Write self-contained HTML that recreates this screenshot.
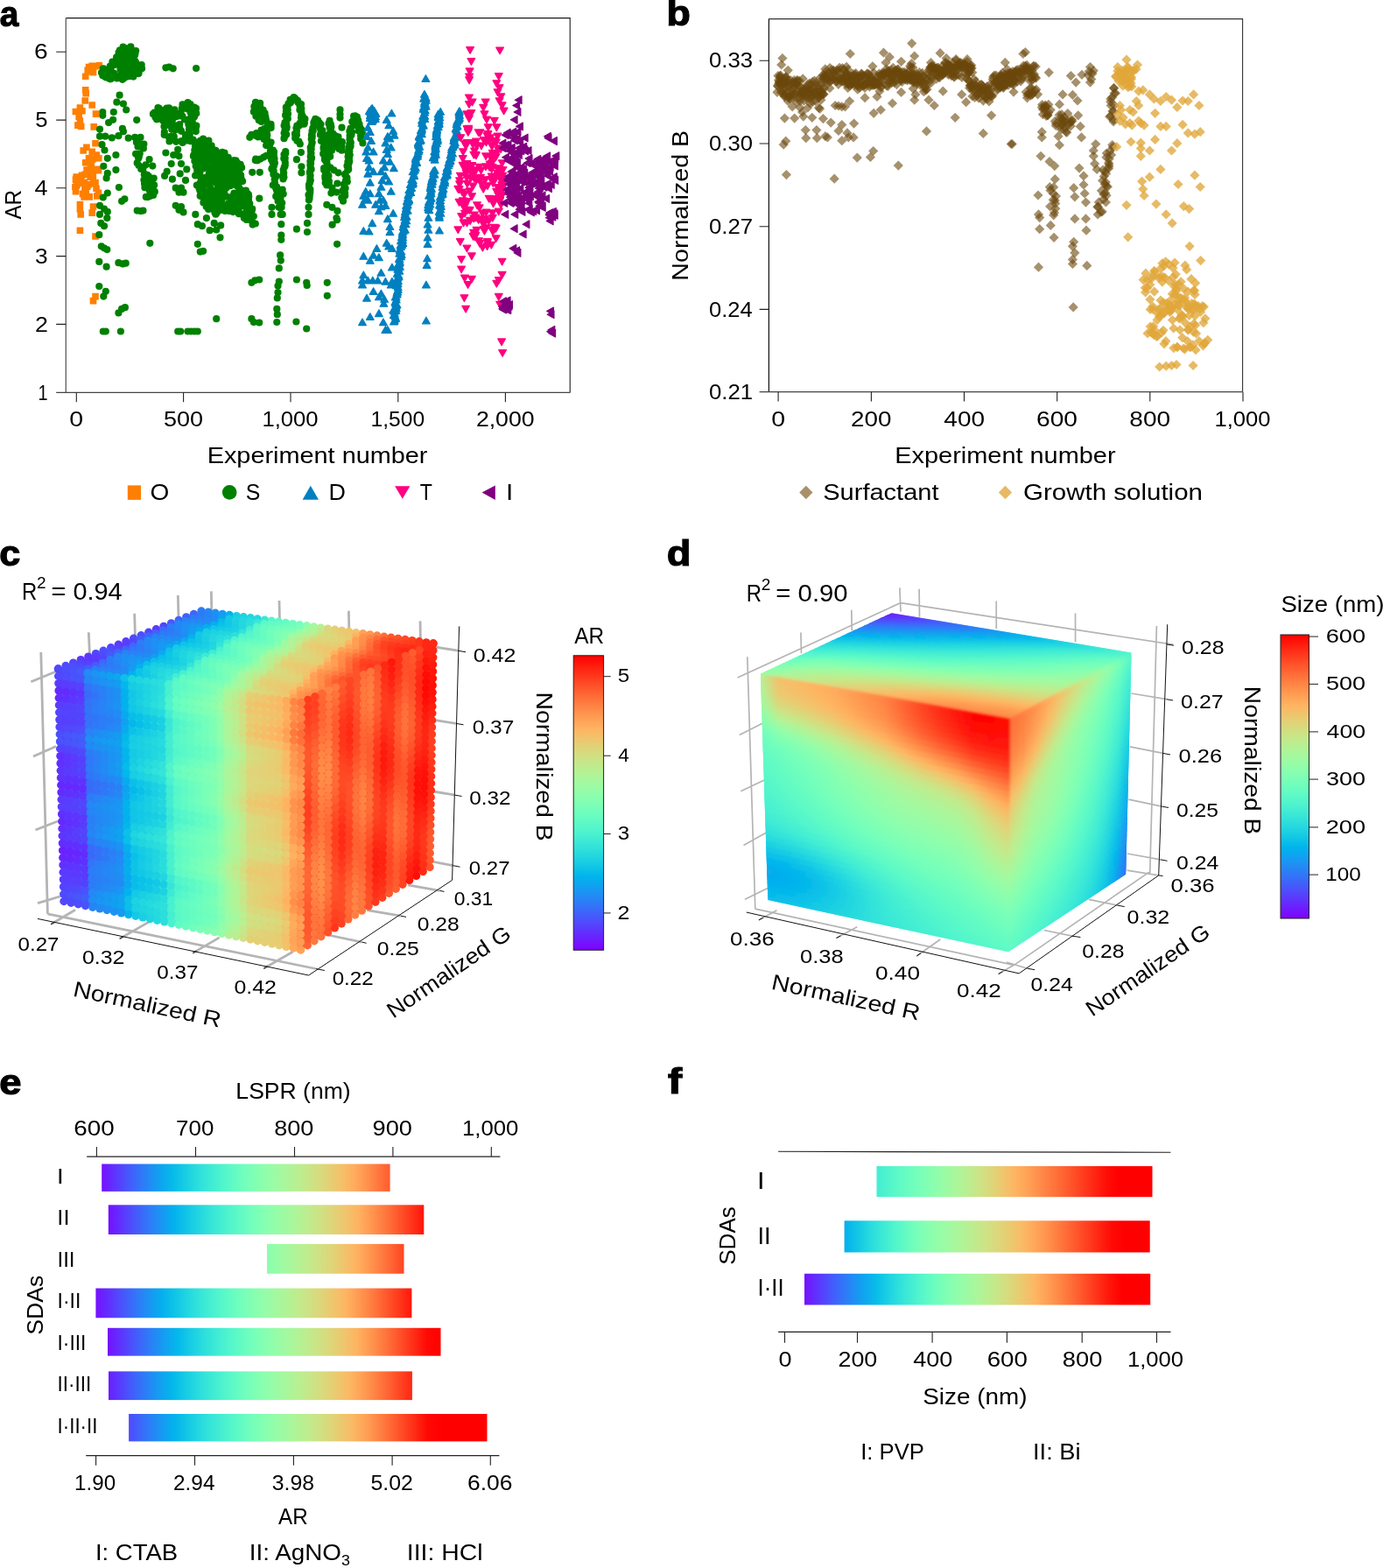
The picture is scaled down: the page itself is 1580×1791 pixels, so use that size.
<!DOCTYPE html>
<html lang="en"><head><meta charset="utf-8"><title>Figure</title>
<style>
html,body{margin:0;padding:0;background:#fff}
svg{display:block}
text{font-family:"Liberation Sans",sans-serif;fill:#000}
</style></head>
<body>
<svg width="1580" height="1791" viewBox="0 0 1580 1791">
<rect width="1580" height="1791" fill="#fff"/>
<g id="axes_ab">
<text x="-0.29" y="30" font-size="40" font-weight="bold" textLength="21.54" lengthAdjust="spacingAndGlyphs" stroke="#000" stroke-width="1.2">a</text>
<path d="M75.3 20.6H651.2V448.4" stroke="#1a1a1a" stroke-width="1.1" fill="none"/>
<path d="M75.3 20.6V448.4" stroke="#666" stroke-width="1.4" fill="none"/>
<path d="M64.2 448.4H651.2" stroke="#444" stroke-width="1.2" fill="none"/>
<text x="39.12" y="67.4" font-size="23" textLength="15.68" lengthAdjust="spacingAndGlyphs">6</text>
<text x="40.32" y="145.3" font-size="23" textLength="14.30" lengthAdjust="spacingAndGlyphs">5</text>
<text x="39.42" y="223" font-size="23" textLength="14.97" lengthAdjust="spacingAndGlyphs">4</text>
<text x="40.10" y="300.8" font-size="23" textLength="14.62" lengthAdjust="spacingAndGlyphs">3</text>
<text x="39.99" y="378.6" font-size="23" textLength="14.90" lengthAdjust="spacingAndGlyphs">2</text>
<text x="43.49" y="456.6" font-size="23" textLength="11.07" lengthAdjust="spacingAndGlyphs">1</text>
<text x="79.37" y="487.3" font-size="23" textLength="15.84" lengthAdjust="spacingAndGlyphs">0</text>
<text x="187.07" y="487.3" font-size="23" textLength="45.06" lengthAdjust="spacingAndGlyphs">500</text>
<text x="299.45" y="487.3" font-size="23" textLength="64.12" lengthAdjust="spacingAndGlyphs">1,000</text>
<text x="423.58" y="487.3" font-size="23" textLength="61.50" lengthAdjust="spacingAndGlyphs">1,500</text>
<text x="543.90" y="487.3" font-size="23" textLength="66.71" lengthAdjust="spacingAndGlyphs">2,000</text>
<path d="M64.2 59.2H75.3M64.2 137.1H75.3M64.2 214.8H75.3M64.2 292.6H75.3M64.2 370.4H75.3M87.3 448.4V459.2M209.6 448.4V459.2M332 448.4V459.2M454.8 448.4V459.2M577.4 448.4V459.2" stroke="#222" stroke-width="1.1" fill="none"/>
<text x="236.69" y="529.1" font-size="25" textLength="251.78" lengthAdjust="spacingAndGlyphs">Experiment number</text>
<text transform="translate(23.8 234.3) rotate(-90)" x="-16.30" y="0" font-size="25" textLength="33.67" lengthAdjust="spacingAndGlyphs">AR</text>
<rect x="145.8" y="554.4" width="15.2" height="16.5" fill="#ff7f00"/>
<text x="171.44" y="570.7" font-size="25" textLength="21.80" lengthAdjust="spacingAndGlyphs">O</text>
<circle cx="262.2" cy="562.4" r="8.3" fill="#008000"/>
<text x="280.68" y="570.7" font-size="25" textLength="16.63" lengthAdjust="spacingAndGlyphs">S</text>
<path d="M345.6 570.7L354.8 554.7L364 570.7z" fill="#0080c0"/>
<text x="375.55" y="570.7" font-size="25" textLength="19.42" lengthAdjust="spacingAndGlyphs">D</text>
<path d="M451.1 555.2H468.4L459.8 569.8z" fill="#ff007f"/>
<text x="479.84" y="570.7" font-size="25" textLength="14.15" lengthAdjust="spacingAndGlyphs">T</text>
<path d="M565.8 554.4V570.9L550.6 562.6z" fill="#800080"/>
<text x="578.02" y="570.7" font-size="25" textLength="8.26" lengthAdjust="spacingAndGlyphs">I</text>
<text x="761.56" y="29.4" font-size="40" font-weight="bold" textLength="27.35" lengthAdjust="spacingAndGlyphs" stroke="#000" stroke-width="1.2">b</text>
<path d="M878.4 21.6H1419.6V447.7" stroke="#333" stroke-width="1.1" fill="none"/>
<path d="M878.4 21.6V447.7" stroke="#111" stroke-width="1.2" fill="none"/>
<path d="M867.6 447.7H1419.6" stroke="#444" stroke-width="1.2" fill="none"/>
<text x="810.02" y="77.4" font-size="23" textLength="50.04" lengthAdjust="spacingAndGlyphs">0.33</text>
<text x="810.02" y="172.2" font-size="23" textLength="49.90" lengthAdjust="spacingAndGlyphs">0.30</text>
<text x="810.02" y="266.9" font-size="23" textLength="50.19" lengthAdjust="spacingAndGlyphs">0.27</text>
<text x="810.03" y="361.6" font-size="23" textLength="49.68" lengthAdjust="spacingAndGlyphs">0.24</text>
<text x="810.02" y="455.9" font-size="23" textLength="50.19" lengthAdjust="spacingAndGlyphs">0.21</text>
<text x="881.17" y="487.3" font-size="23" textLength="15.84" lengthAdjust="spacingAndGlyphs">0</text>
<text x="972.04" y="487.3" font-size="23" textLength="46.42" lengthAdjust="spacingAndGlyphs">200</text>
<text x="1078.39" y="487.3" font-size="23" textLength="46.67" lengthAdjust="spacingAndGlyphs">400</text>
<text x="1184.07" y="487.3" font-size="23" textLength="46.95" lengthAdjust="spacingAndGlyphs">600</text>
<text x="1290.33" y="487.3" font-size="23" textLength="46.79" lengthAdjust="spacingAndGlyphs">800</text>
<text x="1387.45" y="487.3" font-size="23" textLength="64.12" lengthAdjust="spacingAndGlyphs">1,000</text>
<path d="M867.6 69.2H878.4M867.6 164H878.4M867.6 258.7H878.4M867.6 353.4H878.4M889.1 447.7V458.6M995.4 447.7V458.6M1101.5 447.7V458.6M1207.7 447.7V458.6M1313.8 447.7V458.6M1420 447.7V458.6" stroke="#222" stroke-width="1.1" fill="none"/>
<text x="1022.29" y="529.2" font-size="25" textLength="252.28" lengthAdjust="spacingAndGlyphs">Experiment number</text>
<text transform="translate(786 234.4) rotate(-90)" x="-86.29" y="0" font-size="25" textLength="171.78" lengthAdjust="spacingAndGlyphs">Normalized B</text>
<path d="M913.2 562.5l7.65-7.65 7.65 7.65-7.65 7.65z" fill="#a8916a"/>
<text x="940.19" y="570.9" font-size="25" textLength="132.37" lengthAdjust="spacingAndGlyphs">Surfactant</text>
<path d="M1140.8 562.5l7.65-7.65 7.65 7.65-7.65 7.65z" fill="#e8b964"/>
<text x="1169.03" y="570.9" font-size="25" textLength="204.93" lengthAdjust="spacingAndGlyphs">Growth solution</text>
</g>
<g id="scatter_a">
<path d="M97.7 72.7h7.6v7.6h-7.6zM101.4 71.5h7.6v7.6h-7.6zM105.2 72h7.6v7.6h-7.6zM109.5 71h7.6v7.6h-7.6zM96.4 76.5h7.6v7.6h-7.6zM100.2 77.8h7.6v7.6h-7.6zM93.9 83.5h7.6v7.6h-7.6zM102.7 79h7.6v7.6h-7.6zM98.9 74.5h7.6v7.6h-7.6zM93.9 99.1h7.6v7.6h-7.6zM94.4 102.9h7.6v7.6h-7.6zM93.4 111.2h7.6v7.6h-7.6zM101.4 116.2h7.6v7.6h-7.6zM87.6 119.2h7.6v7.6h-7.6zM82.6 123.7h7.6v7.6h-7.6zM90.1 123h7.6v7.6h-7.6zM105.7 126.3h7.6v7.6h-7.6zM86.4 129.3h7.6v7.6h-7.6zM87.6 134.3h7.6v7.6h-7.6zM85.1 139.3h7.6v7.6h-7.6zM88.9 140.6h7.6v7.6h-7.6zM103.4 141.1h7.6v7.6h-7.6zM87.6 259.4h7.6v7.6h-7.6zM105.2 266.2h7.6v7.6h-7.6zM105.2 334.8h7.6v7.6h-7.6zM102.7 339.8h7.6v7.6h-7.6zM105.2 159.9h7.6v7.6h-7.6zM95.1 164.4h7.6v7.6h-7.6zM91.4 168.2h7.6v7.6h-7.6zM101.4 169.5h7.6v7.6h-7.6zM106.5 173.2h7.6v7.6h-7.6zM97.7 177h7.6v7.6h-7.6zM109 177h7.6v7.6h-7.6zM93.9 182h7.6v7.6h-7.6zM100.2 184.5h7.6v7.6h-7.6zM87.6 229.8h7.6v7.6h-7.6zM102.7 232.3h7.6v7.6h-7.6zM87.6 234.8h7.6v7.6h-7.6zM101.4 239.3h7.6v7.6h-7.6zM88.4 241.1h7.6v7.6h-7.6zM101.6 178.3h7.6v7.6h-7.6zM97.9 193.8h7.6v7.6h-7.6zM82.7 201.3h7.6v7.6h-7.6zM94.4 218.1h7.6v7.6h-7.6zM99.2 195.4h7.6v7.6h-7.6zM108.2 189.8h7.6v7.6h-7.6zM90.7 217.6h7.6v7.6h-7.6zM86.6 205.2h7.6v7.6h-7.6zM101.2 194.1h7.6v7.6h-7.6zM98.3 177.8h7.6v7.6h-7.6zM102.5 197.1h7.6v7.6h-7.6zM90.8 205.4h7.6v7.6h-7.6zM95.3 190.3h7.6v7.6h-7.6zM106.2 211.4h7.6v7.6h-7.6zM88.6 204.8h7.6v7.6h-7.6zM97.6 220.7h7.6v7.6h-7.6zM104.1 189.7h7.6v7.6h-7.6zM94.2 214.4h7.6v7.6h-7.6zM85.7 200.3h7.6v7.6h-7.6zM82.1 209.7h7.6v7.6h-7.6zM105.2 204.7h7.6v7.6h-7.6zM108.8 191h7.6v7.6h-7.6zM103 205.9h7.6v7.6h-7.6zM99.3 198.6h7.6v7.6h-7.6zM96 209.5h7.6v7.6h-7.6zM82.8 211.5h7.6v7.6h-7.6zM107.1 189.5h7.6v7.6h-7.6zM93.1 209.8h7.6v7.6h-7.6zM82.7 215h7.6v7.6h-7.6zM93.3 220.5h7.6v7.6h-7.6zM83.4 198.2h7.6v7.6h-7.6zM98.4 221.1h7.6v7.6h-7.6zM107 220.1h7.6v7.6h-7.6zM89.7 196.4h7.6v7.6h-7.6zM92.3 221.1h7.6v7.6h-7.6zM88.3 200.1h7.6v7.6h-7.6zM99.6 188.4h7.6v7.6h-7.6zM92.6 204.4h7.6v7.6h-7.6zM97.3 207.1h7.6v7.6h-7.6zM102.4 177.3h7.6v7.6h-7.6zM108.7 216.6h7.6v7.6h-7.6zM93.3 195.5h7.6v7.6h-7.6zM84.1 208h7.6v7.6h-7.6zM100.4 182.3h7.6v7.6h-7.6z" fill="#ff7f00"/>
<path d="M136.9 71.5h0M154.6 59h0M139.9 58.4h0M140.6 53.7h0M139.9 90.8h0M156.3 79.8h0M122.2 82.7h0M140.1 83h0M155.8 84.1h0M154.1 81.5h0M126.7 79.6h0M144.6 87.7h0M155.2 71.3h0M146 83.8h0M118.2 78.4h0M158.6 83.1h0M150.8 71.3h0M122.8 83.4h0M130.3 83.9h0M133.7 89.5h0M149.5 59.3h0M158.4 84.1h0M121.2 84.9h0M162.1 78.3h0M131.2 74h0M161.6 78h0M139.8 89h0M135.3 86.6h0M154.5 60.9h0M125.8 75.5h0M120.4 88.1h0M131.4 70.5h0M142.6 87.9h0M134.6 88.4h0M138.6 73.4h0M135.6 59.8h0M149.6 74.3h0M130 72.9h0M141.2 83.2h0M151.9 72.4h0M141.5 82.3h0M144 72.4h0M139.1 79.6h0M136.2 73.4h0M137.4 89.3h0M148.3 86.8h0M141.4 89.4h0M155.2 58h0M117.6 78.7h0M152.4 87.6h0M121.6 80.6h0M146.4 58.2h0M124.8 89.8h0M133.5 71.6h0M139.3 65.9h0M149.4 53.4h0M141.2 69.8h0M144.6 72.6h0M116 83h0M134.7 88.2h0M154.1 62.7h0M121.3 88.5h0M142 79.9h0M147.7 69.2h0M145.1 83.9h0M118.1 86h0M117.3 86.3h0M136.3 65.9h0M141.1 88.8h0M139.8 61.9h0M151.2 64h0M138.5 59.6h0M149.9 74.1h0M154.1 69.5h0M138.3 85.2h0M133.3 72.4h0M130.8 85.1h0M148.6 77.4h0M133.8 66.2h0M117.5 81.5h0M118.2 85.4h0M156.7 78.8h0M128.4 70.6h0M126.9 90.1h0M161.7 74h0M126 90.3h0M137.3 72.2h0M142.7 73.3h0M150.8 78.3h0M149.1 86.9h0M133.1 65.4h0M149.5 77.7h0M157.7 77.1h0M150 84.3h0M138.7 85.2h0M153.4 84.8h0M142.6 87.4h0M147.5 79.7h0M119.2 85.2h0M141.4 77.1h0M144.7 79.2h0M153.1 81.8h0M138.7 73.5h0M146.3 55.2h0M150.1 62.5h0M149.8 60.7h0M138.2 67.6h0M137.5 79.3h0M151.6 76.7h0M145.5 55.7h0M150.4 64.5h0M146.9 79.6h0M147.1 64h0M139.3 70.8h0M136.9 57.3h0M189.4 77.3h0M193.2 76.5h0M197.7 78.3h0M224.1 78h0M136.6 108.7h0M133.4 116.7h0M140.9 118.5h0M144.2 125.5h0M117.3 128h0M129.8 128h0M117.3 131.8h0M129.1 136.8h0M124.1 140.1h0M156.2 137.1h0M114 147.6h0M139.9 146.9h0M140.9 150.2h0M135.4 155.2h0M114 155.7h0M120.3 155.7h0M127.8 157.4h0M146.7 157.7h0M154.2 156.9h0M160.5 156.9h0M157.7 162.2h0M155.9 162.5h0M164.4 164.5h0M157.5 167.5h0M160.7 166.5h0M163.9 169.5h0M159.7 175.5h0M157.1 177.6h0M155.1 175.8h0M158.8 179.3h0M158.2 180.8h0M156.7 186.2h0M158.6 189h0M166.5 188.3h0M162.5 192.6h0M163.4 192.8h0M161.2 193h0M164.8 199.6h0M165 198.8h0M166.8 202.6h0M171.3 205.2h0M172.8 207.2h0M165 209.8h0M171.5 211.1h0M165.4 214.2h0M169.5 213.8h0M172.2 219h0M171.8 218.5h0M171.4 209h0M165.9 202h0M170.5 203.8h0M169.8 201.3h0M168.3 199.9h0M166.9 204.9h0M171.5 223.9h0M174.1 209.6h0M169.3 212.9h0M168.8 207.3h0M164.4 205.5h0M170.6 216.1h0M175.7 203.6h0M167.3 204.6h0M169.1 210.6h0M176.1 211.4h0M169 225.1h0M175.1 222.9h0M170.9 217.7h0M176.8 218.9h0M172.6 220.2h0M170 213.8h0M166.8 224.9h0M172.6 206.3h0M165.3 204.7h0M170.6 182.1h0M174.3 189.6h0M116.5 165.2h0M119.5 171.5h0M132.4 177h0M122.8 180.8h0M118.3 189.8h0M132.4 194.1h0M122.8 197.9h0M121.6 203.4h0M135.9 214h0M122.8 220.5h0M117.8 225.5h0M142.4 227.3h0M139.1 229.8h0M114 234.8h0M119 238.6h0M122.8 241.9h0M114 244.9h0M122.3 249.1h0M115.3 254.9h0M119 258.2h0M113.3 268.2h0M156.7 240.6h0M160.5 241.1h0M163.5 240.6h0M115.8 281.3h0M119 283.3h0M122.3 285.1h0M113.3 298.9h0M121.6 304.7h0M135.4 300.2h0M140.4 301.4h0M143.7 300.7h0M171.3 277.8h0M113.3 327h0M120.8 332.8h0M118.3 338.6h0M142.9 351.2h0M139.1 352.9h0M135.4 357.4h0M117.8 378.5h0M120.8 378.5h0M137.9 378.5h0M203.2 378.5h0M206.2 378.5h0M214.5 378.5h0M218.3 378.5h0M222.1 378.5h0M225.8 378.5h0M247.2 364.2h0M207.1 149.8h0M201.3 143.7h0M194.3 124.8h0M189.9 137.3h0M223.7 147h0M219.8 138h0M186.4 126h0M223.8 150.1h0M200 148.6h0M196 126.5h0M208.7 161.8h0M191.7 135.2h0M209.5 123.4h0M215.4 152h0M224.3 129.4h0M216.6 125.1h0M185.8 135h0M208.6 163h0M181.9 133.7h0M177.4 133.7h0M220.6 159.6h0M222.3 130.3h0M208.5 132.9h0M193.6 130.5h0M188.7 131.5h0M224 123.9h0M192.7 156.3h0M216.7 135.8h0M193.5 161.5h0M184.3 132.2h0M195.5 155.8h0M221.7 126.5h0M212.8 160.4h0M191.8 127.3h0M223.6 145.5h0M187.8 150.8h0M190.6 127.5h0M221.5 146.4h0M186.4 138h0M194.2 126.2h0M196.5 139h0M222.1 122.6h0M215.7 151.9h0M216.7 153.7h0M205.6 130.3h0M190.8 132.1h0M214.6 117.1h0M210.9 136.5h0M186.4 135h0M206.3 148.5h0M212.8 157.7h0M208.5 119.4h0M217.6 128.5h0M203.5 132.6h0M212.3 123.5h0M187.1 125.9h0M204.1 130.2h0M216 147.4h0M198.8 156.2h0M217.6 161.2h0M176.4 128.5h0M180.5 123h0M224.4 143.7h0M222.2 132.6h0M218.9 136.7h0M187.7 154h0M205 145.7h0M185.5 132.4h0M181.6 123.7h0M187.5 144.6h0M207.9 123.7h0M174.9 130.2h0M209.3 122.7h0M190.4 123.7h0M215.3 141.9h0M194.7 142h0M195.4 127.9h0M190.4 142.9h0M192.7 134.9h0M193.1 123.4h0M211.8 123.7h0M196.1 156.3h0M195.2 159.5h0M207.3 161h0M193.4 139.6h0M181.8 127.9h0M201.2 161.8h0M222 133.4h0M220.9 145.7h0M216.8 121.4h0M214.8 124.7h0M195.2 157.6h0M217 122.6h0M185.6 134.1h0M201 133.2h0M180.7 126h0M211.7 160.3h0M217.5 119.2h0M205.2 142h0M206.6 129.1h0M196 143.7h0M196.3 147.7h0M197.3 136.1h0M199.5 125.4h0M213.7 154.1h0M180.9 135.7h0M179 136.3h0M212.1 154h0M200.3 132.9h0M212 156h0M189.4 174.5h0M203.2 170.8h0M198.2 177h0M204.5 178.3h0M195.7 187.1h0M207 187.1h0M213.3 193.4h0M190.7 195.9h0M188.1 200.9h0M196.9 204.7h0M205.7 198.4h0M212 205.9h0M200.7 214.7h0M207 214.7h0M204.5 219.7h0M209.5 219.7h0M200.7 234.8h0M207 236.1h0M204.5 239.8h0M209.5 242.4h0M225.7 194h0M236.2 184.7h0M258.3 190.6h0M223.5 176.2h0M229.3 212.9h0M268 194.9h0M267.5 198.5h0M247.5 237.6h0M253.6 175.6h0M264.2 227h0M223.3 172.7h0M266.5 202.5h0M230.6 180.9h0M228.7 194.6h0M237.4 218.5h0M267.1 207h0M238.9 172.7h0M285.4 239.5h0M250.6 184.8h0M262.5 193.9h0M268.7 203.8h0M250.9 182h0M235.6 221.1h0M258.4 224.6h0M243.7 188.6h0M278.8 232.4h0M276 206h0M275.8 204.7h0M237.6 168h0M238 161h0M245.7 236h0M261.9 203h0M240.5 224.7h0M240.1 181.9h0M276.1 191.4h0M267.6 230h0M253.2 233.4h0M263.1 189.4h0M236.5 222.6h0M231.5 159.8h0M246.4 171.9h0M272.1 223.8h0M272.5 234.7h0M247.7 243.2h0M281.6 251h0M288.6 256.6h0M228.7 178.6h0M229.1 160.6h0M283.6 242.6h0M267.6 187.3h0M228.2 167.3h0M244.5 201.7h0M222.4 184h0M241.8 232.5h0M248.1 190.8h0M283.9 222.2h0M223.1 200.5h0M253.2 238.5h0M246.5 231.3h0M260.7 179.8h0M220.9 178.3h0M257.2 241h0M234.5 209.1h0M246.5 244.7h0M241.8 179.6h0M272.6 209.5h0M229 224.1h0M272.5 240h0M267.3 194.5h0M250.5 198.6h0M236.1 184.7h0M238.1 205.6h0M260.2 236.6h0M276.6 225.1h0M246.6 191.4h0M269.9 235.2h0M233.4 203.2h0M278.1 218.1h0M230.1 205.7h0M235 188.8h0M232.3 173.4h0M239.2 191.4h0M245.1 176.9h0M228.3 197.5h0M275.2 202.8h0M235.3 224.3h0M228.7 178.7h0M250.4 240.4h0M272.2 209.7h0M267.7 205.8h0M231.3 220.6h0M250.8 235.1h0M263.3 236h0M252 181.1h0M278.2 230.8h0M284 228.7h0M268.4 204.8h0M244 223.2h0M228.1 201.2h0M278.8 232.2h0M267.5 183.3h0M252.2 205h0M266.9 200.1h0M234.4 226h0M228.3 217.6h0M260.9 232.6h0M258.8 224.4h0M236.4 229.2h0M249.9 237.4h0M241.1 199.1h0M252 230.6h0M246.9 184.9h0M237.4 235.2h0M249.9 179.3h0M280.8 223.9h0M255.6 216.2h0M247 224.3h0M281.5 243.1h0M255.5 188h0M248.7 183.7h0M252.4 176.6h0M241.6 182.8h0M243.2 207.5h0M252.6 224.2h0M269.7 195.2h0M289.6 247.1h0M287.9 239.7h0M269.4 183.3h0M228.3 172h0M238.1 238.9h0M246.5 173h0M287.8 240.5h0M265.9 239.4h0M279.2 245.5h0M235.4 230h0M260.1 235.2h0M261.9 184.8h0M238.2 171.6h0M257.2 209.5h0M255.5 216.3h0M248.6 201.1h0M268 224.1h0M258.7 208.1h0M274 222.9h0M247.9 207h0M259.8 238.3h0M236.4 202.9h0M252.1 215.4h0M258.1 185.6h0M269.3 240.5h0M245.3 190.4h0M243 218.8h0M267.9 239.7h0M224.5 188.6h0M221.3 177h0M269.6 240.2h0M266.5 223.1h0M272.4 219.9h0M270.2 205.3h0M234.2 160.8h0M269.4 195.9h0M281.8 239.9h0M262.5 184.2h0M243.2 201.4h0M244.4 202.4h0M223.7 169.5h0M280.9 217.6h0M232.1 158.6h0M267.4 231.8h0M243.9 233.9h0M248 217.6h0M253.3 228.4h0M247.7 225h0M267.5 201h0M249.4 239.9h0M262.8 187.8h0M272.9 244.2h0M245.4 220.9h0M265.4 189.5h0M248.7 229.2h0M252.1 218.8h0M281.3 250.6h0M281 248.4h0M263.2 185.8h0M283.9 242.1h0M261.8 241.1h0M235.7 236.1h0M265.8 228.4h0M255.3 178.7h0M239.7 236.2h0M256.1 219.1h0M234.8 177.2h0M234.2 230.9h0M247.7 216.5h0M250.6 211.5h0M231.8 161.6h0M228.7 223.7h0M265.1 193.3h0M262.8 184.5h0M235.7 176h0M227 162.3h0M265.1 198.9h0M239.9 216.5h0M270.4 198.4h0M254 173.8h0M237.2 161h0M239.8 194.1h0M287.7 252.4h0M279.1 231.8h0M224.9 172.2h0M271 188.5h0M264.6 236.9h0M228.6 191.1h0M239.9 170h0M256.5 174.7h0M238.5 172h0M285 250.7h0M231.2 204.1h0M283.2 223.2h0M254.3 192.8h0M237.2 162.9h0M273.7 215.3h0M240.5 200.4h0M232.3 185.5h0M233.2 208.7h0M256.2 187.1h0M239.9 178.2h0M228 187.5h0M274.7 187.9h0M234.6 202.9h0M226.7 166.2h0M265.9 209.2h0M241.1 178.7h0M266.2 231.6h0M281 218.5h0M235.8 163.9h0M275.1 200h0M283.2 248.2h0M248 174.2h0M248.3 219.7h0M253.8 211.3h0M281.3 248.3h0M244.6 232h0M249.1 236.2h0M258.9 212.9h0M234.3 167.8h0M223 167.1h0M263.5 212.1h0M285.3 232.6h0M224.2 169.9h0M257.4 209.8h0M241.5 169.8h0M231.7 217.4h0M249.6 201.3h0M238.6 192.3h0M281.2 246.4h0M224.8 211.5h0M291.8 255.5h0M239.3 201.5h0M267.7 195.4h0M252.9 210.2h0M222.3 171.6h0M280.8 250.3h0M268.4 185h0M271.1 185.8h0M266.9 183.4h0M259.4 202.7h0M243.4 225.3h0M229.7 219.6h0M240.7 206.2h0M230 170.8h0M242.6 199.8h0M242.2 182.6h0M227.3 214.6h0M283 221.3h0M263.1 225.6h0M235.7 231.9h0M255 214.8h0M266.2 206.4h0M243.8 182.5h0M237.2 211h0M249.2 218.7h0M262.1 208.8h0M242.7 238.4h0M232.6 164h0M225.4 197.9h0M253.4 234.5h0M228.9 180.7h0M232.3 192.5h0M246.9 228.2h0M275.6 235.4h0M277.1 207.1h0M279 231.7h0M277.6 218.8h0M263.2 201h0M278.9 249h0M265.8 197h0M254.3 205.3h0M274.4 187.8h0M249.8 215.5h0M249.3 190.9h0M279.1 246.6h0M257.8 203.8h0M234.5 189h0M231.6 217.7h0M283.3 245.4h0M262.7 209.4h0M259.2 211.5h0M271.6 198h0M247.3 219.7h0M270.9 212.4h0M228.1 196.4h0M250.5 216.2h0M253.4 222.8h0M233.5 190.5h0M232.4 187.5h0M258.7 210.2h0M234.7 176.2h0M267.5 220.6h0M251.3 240.1h0M243.5 229.8h0M257.7 215.3h0M240.5 225.2h0M263.4 200.3h0M229.8 173.5h0M228.2 174.9h0M266.2 242.1h0M273.8 194.3h0M233.4 185.1h0M264 193.8h0M254.1 197.6h0M253.4 222.4h0M289.8 247.1h0M238.8 198.1h0M256.7 240.6h0M238.8 175.2h0M247.4 176.6h0M260.4 197.6h0M246.8 182.8h0M235 186.9h0M238.4 160.6h0M270 193h0M232.4 231.4h0M227.7 185.4h0M247 233.2h0M258.2 180.9h0M248.1 182.9h0M258.8 214.2h0M240.8 238.4h0M249.3 226.3h0M262.9 189.7h0M244.6 226.9h0M228.9 216.2h0M247.6 209.7h0M243.9 180.8h0M241.7 199.5h0M288.2 238.7h0M286.2 247.8h0M230.6 186.1h0M270 194h0M251.4 226.5h0M275.2 232.1h0M232.8 177.8h0M243.3 197.1h0M223.7 189.7h0M253 229.2h0M282.6 238.9h0M224.3 182.7h0M272.3 198.5h0M276.2 244.4h0M241.6 166.4h0M275.6 244.5h0M267.4 204.7h0M252.6 211h0M272.9 242h0M240.2 214.6h0M261.1 183.3h0M225.2 194.7h0M251.3 178.2h0M243.8 171.3h0M273.2 227.7h0M238.4 182.4h0M259 203.9h0M231.3 216.4h0M245.5 243h0M261.4 237.2h0M233.3 227.3h0M265.2 205.6h0M277.6 244.6h0M229.3 187.5h0M247.5 178.7h0M225.3 186.6h0M235.4 231h0M244.9 206.4h0M247.7 174.7h0M228.9 208.5h0M253 177h0M269.2 183.5h0M239 171.6h0M234.6 224.3h0M223.3 244.9h0M225.8 256.2h0M230.9 258.2h0M235.9 249.1h0M239.6 263.2h0M247.2 262.5h0M251.5 271.3h0M244.7 254.9h0M252.2 257.4h0M225.8 278.8h0M228.8 287.6h0M232.1 286.8h0M321.3 256.2h0M321.3 268.7h0M321.3 273.8h0M320.1 291.4h0M320.8 297.6h0M318.8 306.4h0M318.8 321.5h0M317.5 326.5h0M317.5 334.1h0M316.8 340.4h0M316.3 352.9h0M316.8 359.2h0M316.3 368h0M287.4 322.8h0M291.2 320.3h0M296.2 319.5h0M287.4 364.2h0M289.9 368h0M296.2 368.5h0M338.9 319.5h0M350.2 322.8h0M350.7 326h0M338.4 367.5h0M350.2 375.5h0M338.9 261.7h0M351 254.9h0M351 265h0M385.1 251.2h0M379.6 256.7h0M385.1 278.8h0M373.8 322.8h0M373.8 337.8h0M290.4 121.7h0M297.1 121.3h0M292 116.8h0M297.1 117.9h0M292.5 119.8h0M292.5 122.1h0M298.2 132.3h0M303.3 133.4h0M296.7 130.5h0M289.9 127.7h0M298.5 124.6h0M300.6 125.7h0M295.7 137.2h0M295.6 126.1h0M303.7 135.5h0M302.6 129.4h0M292.4 132.8h0M297.1 129.4h0M293.6 129.6h0M300.2 135.1h0M299.4 137.3h0M304.3 138.1h0M298.6 139h0M309.5 141.8h0M309.6 143.7h0M307.7 142.8h0M305.3 144.6h0M309.6 146.1h0M301.8 147.2h0M298.6 148.5h0M303.7 149.3h0M302.9 151.5h0M304.9 152.4h0M299.9 152.9h0M305.3 154.6h0M301.8 155.8h0M301.8 157.5h0M301.6 158.9h0M305.1 159.7h0M303.9 159.9h0M309.6 162.6h0M308.4 163.3h0M308.1 164.9h0M304.1 166.1h0M294.9 156.5h0M293 152.1h0M287.6 154.5h0M285.3 156.8h0M287.3 153.8h0M292.4 155.1h0M311.1 171.9h0M310.6 173.3h0M308.9 172.9h0M305.5 177.6h0M303.8 178h0M301.2 179.6h0M297.5 181.6h0M294.2 183.3h0M292.2 181.6h0M291.8 183.1h0M308.1 166.6h0M309.2 170.9h0M311.9 171.6h0M313 173.7h0M312.9 177.6h0M310.6 177h0M313.5 181.2h0M310.1 182.4h0M311.5 185.3h0M313.9 186.2h0M313 189.3h0M311.1 191.6h0M310.4 193.1h0M312.7 195.4h0M312.3 196.7h0M312.4 199.2h0M315.8 201.1h0M314.4 202.9h0M313.7 205.3h0M314 209.2h0M311.8 211.5h0M316.2 213.5h0M315.1 214.7h0M316 216.9h0M316.6 219.3h0M317.4 221.3h0M316.1 223.1h0M315.2 224.3h0M320.5 226.4h0M317.5 228.1h0M317.6 229.7h0M320.3 233.5h0M288.2 196.8h0M296.8 196.8h0M296.3 226.7h0M284.2 224.7h0M310.5 236.8h0M310.5 244.9h0M318.6 236.8h0M320.6 244.9h0M324.5 158.2h0M324.6 157.5h0M325.8 155.3h0M327.2 153.6h0M324.6 152.1h0M325.5 148.8h0M327.4 146.8h0M327.7 145.1h0M324.6 143.4h0M327.2 141.5h0M325.5 140h0M327.4 136.5h0M328.8 135.5h0M328.3 135.3h0M326.1 131.7h0M329 130.2h0M326.9 127h0M328.7 125.5h0M327.8 123.2h0M326.8 122.7h0M328.7 120.9h0M329.5 118.4h0M331.7 117.4h0M332.1 116.8h0M331.6 113.9h0M335 112.5h0M335.7 111h0M337.2 112.3h0M337.7 113.9h0M340 114.9h0M340.5 117h0M342 118.2h0M344 119h0M342.5 120.8h0M342.7 124.7h0M344.3 124.1h0M342.4 125.6h0M344.4 128.6h0M344.3 131.2h0M345.8 132.9h0M344 134.4h0M348.4 135.9h0M347.2 138.8h0M347.9 140.4h0M347.4 141.7h0M343 142.2h0M342.5 140.9h0M341.5 143.7h0M339.3 143.6h0M338.5 146.3h0M339 149.5h0M337 152.9h0M338.9 153.9h0M337.9 156.3h0M337.2 157.7h0M339.4 160.8h0M341.4 161.7h0M342.8 164.5h0M326.2 173.2h0M326.3 175.1h0M324.5 176.6h0M324.3 181h0M325.7 180.6h0M325.5 182.7h0M325.8 185.9h0M325.8 188.5h0M325.4 189.9h0M324.7 191.2h0M323.7 194h0M323.9 198.2h0M324.2 197.7h0M323.4 201.1h0M324.4 202.5h0M323.5 204.5h0M322.7 216.6h0M323.7 221.6h0M322.2 231.8h0M321.6 236.8h0M322.7 244.9h0M343.9 174.1h0M338.9 182.2h0M344.4 190.3h0M344.4 197.3h0M360.3 135.9h0M360.7 138.4h0M359.1 138.5h0M358.4 140.2h0M358.6 142.4h0M358.5 143.8h0M357.3 146.7h0M357.7 149.4h0M356.5 149.9h0M356.5 152.9h0M355.9 154.4h0M356.8 155.4h0M356.6 157.3h0M355.7 158.9h0M356.7 162.8h0M356.5 162.6h0M356 165.6h0M354.7 168.6h0M355.7 170.1h0M355 172.4h0M355.2 173.9h0M355.5 175h0M355 177.5h0M354.7 179.1h0M356.1 180.4h0M355.2 183.2h0M354.4 184.6h0M355.1 186.7h0M354.4 188.8h0M354.8 191.2h0M355.6 193.4h0M354.6 193.7h0M353.9 196.5h0M353.9 197.5h0M354.6 200.6h0M354.4 201.7h0M354.3 204.2h0M354.8 206h0M353.9 208.1h0M353.9 209h0M353 211h0M353 213.3h0M353.3 215.6h0M354.4 216.4h0M354.3 219.2h0M354.1 221.1h0M352.5 222.7h0M353.7 224.5h0M353.5 227h0M352.9 228.6h0M352.5 236.8h0M352.5 244.9h0M362 136.9h0M363.2 137.7h0M362 138.9h0M364.7 140.2h0M366.5 142h0M365.3 143.9h0M365.6 146h0M366.2 147.8h0M368.4 149.1h0M366.8 150.2h0M367.8 153h0M366 153.9h0M369.7 154.3h0M369.7 156.7h0M369.6 158.6h0M366.9 161h0M369.9 163.1h0M371.9 164.1h0M370.3 164.7h0M369.6 168h0M369.6 169.5h0M371.3 170.9h0M370.3 172.5h0M373.3 174.5h0M369.2 175.7h0M371.4 177.6h0M371 180.2h0M373.9 180.9h0M370.9 182.3h0M372.3 184.3h0M373.5 185.8h0M373.7 188.7h0M374.4 189.8h0M370.1 192.2h0M370.2 194.2h0M373.1 193.9h0M373.2 198.1h0M373.9 198.9h0M371.7 200.5h0M375.4 200.9h0M371.4 203.5h0M373.3 206.5h0M375.9 207.1h0M371.7 208.7h0M375.8 209.5h0M376.6 137.9h0M375.5 141h0M377.8 141.8h0M378.4 144.9h0M376.6 145.6h0M377.3 147.3h0M378.1 150.1h0M376.5 152.8h0M379 153.9h0M378.1 156.7h0M378.8 157.7h0M377.1 160.7h0M388.5 125.4h0M388.5 130.5h0M388.5 134.6h0M390.5 145.7h0M388.8 169.9h0M382.2 154.5h0M374.1 160h0M371.9 170h0M390.9 162.2h0M390.4 171.7h0M372.3 161.9h0M380.4 159.3h0M386.3 157.2h0M387.2 160.8h0M372.7 168.8h0M373.2 168.5h0M387.2 169.9h0M380.6 152.8h0M381.7 154.7h0M384.4 155.8h0M383 162.5h0M378.9 171.9h0M374.6 156.9h0M390.3 161.8h0M381 156.3h0M373.6 166.8h0M382.1 155.3h0M380.7 156.8h0M382.1 167.2h0M378.7 157.8h0M379.4 158h0M373.8 159.1h0M388.9 167h0M390.4 166.6h0M387.3 169.1h0M385.2 158.7h0M386.5 156.4h0M379.2 167.5h0M377.2 178.8h0M373 169.3h0M392 229.7h0M390.3 225.8h0M394.2 223.6h0M393.4 222.8h0M394.1 220.7h0M391.3 218.2h0M393 215.8h0M394.6 215h0M393.3 212.3h0M393.1 210.4h0M396.8 207.5h0M394.9 206.4h0M396.4 203.2h0M395.9 202.9h0M394.1 199.4h0M394.6 198.7h0M397.2 194.6h0M398.2 193.4h0M398 191.3h0M396.5 189.6h0M398.6 186.3h0M397.4 184.9h0M399.2 184.3h0M398.9 181h0M397.6 179h0M399.7 177.1h0M397.8 174.7h0M399.3 172.7h0M398.4 169.2h0M400.3 167.8h0M400.6 166.6h0M399.2 164.5h0M400.8 162.9h0M399.8 159.6h0M399.5 159.2h0M399.6 155h0M401.4 154.2h0M402.2 150.8h0M399.4 149.9h0M400.4 149h0M400.5 146.5h0M403.9 143.1h0M404.6 141.5h0M402.3 139h0M403.8 137.3h0M406 136h0M404.1 132.5h0M405.5 132.8h0M405.7 132.3h0M407.9 133.6h0M407.6 136.4h0M409.1 137.3h0M409.4 139.4h0M410.5 141.8h0M409.2 144.8h0M411.4 145.6h0M413.1 148.3h0M410 149.7h0M413.8 151.4h0M412.6 153h0M412.1 155.1h0M412.2 158.5h0M413.4 159.2h0M414.4 163.4h0M377.3 191.3h0M381.4 194.3h0M371.3 201.4h0M373.3 211.5h0M379.4 214.6h0M385.4 209.5h0M386.5 197.3h0M378.4 220.6h0M384.4 219.6h0M373.3 233.8h0M379.4 236.8h0M385.4 240.9h0M384.4 249h0" stroke="#008000" stroke-width="8.2" stroke-linecap="round" fill="none"/>
<path d="M423.1 132.1l4.3-7.6 4.3 7.6zM423.3 130.2l4.3-7.6 4.3 7.6zM418.5 135.5l4.3-7.6 4.3 7.6zM424.5 139.3l4.3-7.6 4.3 7.6zM420.1 127.8l4.3-7.6 4.3 7.6zM421.7 140.8l4.3-7.6 4.3 7.6zM418.5 138.3l4.3-7.6 4.3 7.6zM418.6 130.8l4.3-7.6 4.3 7.6zM417.5 130.6l4.3-7.6 4.3 7.6zM420.5 142.4l4.3-7.6 4.3 7.6zM419.8 142l4.3-7.6 4.3 7.6zM418.8 131l4.3-7.6 4.3 7.6zM421 127.3l4.3-7.6 4.3 7.6zM419.4 132.3l4.3-7.6 4.3 7.6zM420.5 142.3l4.3-7.6 4.3 7.6zM419.4 128.9l4.3-7.6 4.3 7.6zM425.2 133.3l4.3-7.6 4.3 7.6zM424.6 136.6l4.3-7.6 4.3 7.6zM416 149.2l4.3-7.6 4.3 7.6zM414.7 159.3l4.3-7.6 4.3 7.6zM419.8 164.3l4.3-7.6 4.3 7.6zM416 171.8l4.3-7.6 4.3 7.6zM422.3 176.9l4.3-7.6 4.3 7.6zM414.7 184.4l4.3-7.6 4.3 7.6zM417.3 194.5l4.3-7.6 4.3 7.6zM416 202l4.3-7.6 4.3 7.6zM422.3 199.5l4.3-7.6 4.3 7.6zM418.5 212l4.3-7.6 4.3 7.6zM413.5 222.1l4.3-7.6 4.3 7.6zM411 227.1l4.3-7.6 4.3 7.6zM418.5 224.6l4.3-7.6 4.3 7.6zM412.2 232.1l4.3-7.6 4.3 7.6zM409.7 237.2l4.3-7.6 4.3 7.6zM416 232.1l4.3-7.6 4.3 7.6zM418.5 154.3l4.3-7.6 4.3 7.6zM414 176.9l4.3-7.6 4.3 7.6zM417.3 186.9l4.3-7.6 4.3 7.6zM443.1 132.9l4.3-7.6 4.3 7.6zM437.4 140.4l4.3-7.6 4.3 7.6zM439.9 146.7l4.3-7.6 4.3 7.6zM444.9 153l4.3-7.6 4.3 7.6zM438.6 159.3l4.3-7.6 4.3 7.6zM446.2 158l4.3-7.6 4.3 7.6zM436.1 166.8l4.3-7.6 4.3 7.6zM442.4 171.8l4.3-7.6 4.3 7.6zM438.6 179.4l4.3-7.6 4.3 7.6zM433.6 186.9l4.3-7.6 4.3 7.6zM441.1 188.2l4.3-7.6 4.3 7.6zM445.6 195.7l4.3-7.6 4.3 7.6zM431.1 199.5l4.3-7.6 4.3 7.6zM436.1 204.5l4.3-7.6 4.3 7.6zM439.9 210.8l4.3-7.6 4.3 7.6zM431.1 217.1l4.3-7.6 4.3 7.6zM442.4 222.1l4.3-7.6 4.3 7.6zM428.6 224.6l4.3-7.6 4.3 7.6zM433.6 232.1l4.3-7.6 4.3 7.6zM424.8 237.2l4.3-7.6 4.3 7.6zM436.1 238.4l4.3-7.6 4.3 7.6zM428.6 244.7l4.3-7.6 4.3 7.6zM444.9 247.2l4.3-7.6 4.3 7.6zM438.6 253.5l4.3-7.6 4.3 7.6zM421 258.5l4.3-7.6 4.3 7.6zM441.1 262.3l4.3-7.6 4.3 7.6zM411 267.3l4.3-7.6 4.3 7.6zM417.3 267.8l4.3-7.6 4.3 7.6zM441.1 268.6l4.3-7.6 4.3 7.6zM441.1 161.8l4.3-7.6 4.3 7.6zM437.4 174.4l4.3-7.6 4.3 7.6zM434.8 194.5l4.3-7.6 4.3 7.6zM432.3 209.5l4.3-7.6 4.3 7.6zM429.8 232.1l4.3-7.6 4.3 7.6zM431.1 239.7l4.3-7.6 4.3 7.6zM437.4 281.1l4.3-7.6 4.3 7.6zM426.1 287.4l4.3-7.6 4.3 7.6zM443.6 287.4l4.3-7.6 4.3 7.6zM411 296.2l4.3-7.6 4.3 7.6zM422.3 295l4.3-7.6 4.3 7.6zM428.6 297.5l4.3-7.6 4.3 7.6zM418.5 301.2l4.3-7.6 4.3 7.6zM443.6 308.8l4.3-7.6 4.3 7.6zM431.1 315.1l4.3-7.6 4.3 7.6zM411 317.6l4.3-7.6 4.3 7.6zM409.7 323.9l4.3-7.6 4.3 7.6zM416 323.9l4.3-7.6 4.3 7.6zM421.5 323.9l4.3-7.6 4.3 7.6zM427.3 323.9l4.3-7.6 4.3 7.6zM436.1 325.1l4.3-7.6 4.3 7.6zM409.7 328.9l4.3-7.6 4.3 7.6zM442.4 328.9l4.3-7.6 4.3 7.6zM422.3 336.4l4.3-7.6 4.3 7.6zM431.1 338.9l4.3-7.6 4.3 7.6zM414.7 344l4.3-7.6 4.3 7.6zM428.6 342.7l4.3-7.6 4.3 7.6zM434.8 345.2l4.3-7.6 4.3 7.6zM434.1 350.2l4.3-7.6 4.3 7.6zM444.9 357.8l4.3-7.6 4.3 7.6zM428.6 361.5l4.3-7.6 4.3 7.6zM418.5 365.3l4.3-7.6 4.3 7.6zM433.6 371.6l4.3-7.6 4.3 7.6zM409.7 371.6l4.3-7.6 4.3 7.6zM438.6 380.4l4.3-7.6 4.3 7.6zM436.1 380.4l4.3-7.6 4.3 7.6zM439.9 284.9l4.3-7.6 4.3 7.6zM443.6 325.1l4.3-7.6 4.3 7.6zM445.7 370.8l4.3-7.6 4.3 7.6zM446.3 369.9l4.3-7.6 4.3 7.6zM447.3 367.7l4.3-7.6 4.3 7.6zM447.9 367l4.3-7.6 4.3 7.6zM447.1 364.8l4.3-7.6 4.3 7.6zM445.6 363.4l4.3-7.6 4.3 7.6zM446.6 362.2l4.3-7.6 4.3 7.6zM446.4 359.2l4.3-7.6 4.3 7.6zM448.1 358.2l4.3-7.6 4.3 7.6zM448.4 355.5l4.3-7.6 4.3 7.6zM448 355.7l4.3-7.6 4.3 7.6zM448.3 353l4.3-7.6 4.3 7.6zM449.2 351.6l4.3-7.6 4.3 7.6zM447.7 350l4.3-7.6 4.3 7.6zM447.2 348.4l4.3-7.6 4.3 7.6zM448.4 345.9l4.3-7.6 4.3 7.6zM447.4 342.9l4.3-7.6 4.3 7.6zM448.3 342.9l4.3-7.6 4.3 7.6zM449.3 339.9l4.3-7.6 4.3 7.6zM449.1 338.3l4.3-7.6 4.3 7.6zM449.9 336.9l4.3-7.6 4.3 7.6zM449.6 336.2l4.3-7.6 4.3 7.6zM450.5 334.2l4.3-7.6 4.3 7.6zM450.4 331.5l4.3-7.6 4.3 7.6zM448.5 329.6l4.3-7.6 4.3 7.6zM450.1 327.3l4.3-7.6 4.3 7.6zM450.1 327.8l4.3-7.6 4.3 7.6zM449.1 324.4l4.3-7.6 4.3 7.6zM450.6 324.5l4.3-7.6 4.3 7.6zM450 321l4.3-7.6 4.3 7.6zM451.4 319.7l4.3-7.6 4.3 7.6zM451 317.7l4.3-7.6 4.3 7.6zM449.5 316.1l4.3-7.6 4.3 7.6zM452 313.1l4.3-7.6 4.3 7.6zM450.1 311.2l4.3-7.6 4.3 7.6zM450.9 310l4.3-7.6 4.3 7.6zM450.7 309.3l4.3-7.6 4.3 7.6zM452.7 308.2l4.3-7.6 4.3 7.6zM450.5 305.8l4.3-7.6 4.3 7.6zM452 304.2l4.3-7.6 4.3 7.6zM452.6 303l4.3-7.6 4.3 7.6zM452.1 299.9l4.3-7.6 4.3 7.6zM451.8 298.9l4.3-7.6 4.3 7.6zM453.8 296.6l4.3-7.6 4.3 7.6zM454.4 294.3l4.3-7.6 4.3 7.6zM452 293l4.3-7.6 4.3 7.6zM454 290.9l4.3-7.6 4.3 7.6zM452.5 289.6l4.3-7.6 4.3 7.6zM452.7 288.7l4.3-7.6 4.3 7.6zM453.7 285.4l4.3-7.6 4.3 7.6zM453.3 283.5l4.3-7.6 4.3 7.6zM455 283.4l4.3-7.6 4.3 7.6zM456.1 281.3l4.3-7.6 4.3 7.6zM455.7 277.8l4.3-7.6 4.3 7.6zM453.7 278.6l4.3-7.6 4.3 7.6zM455.9 274.8l4.3-7.6 4.3 7.6zM454.7 274.4l4.3-7.6 4.3 7.6zM455.5 270.4l4.3-7.6 4.3 7.6zM455.7 271.8l4.3-7.6 4.3 7.6zM456.4 267.3l4.3-7.6 4.3 7.6zM455.6 268.2l4.3-7.6 4.3 7.6zM458.5 266.1l4.3-7.6 4.3 7.6zM457.3 263.6l4.3-7.6 4.3 7.6zM456.3 262.5l4.3-7.6 4.3 7.6zM456.9 259.4l4.3-7.6 4.3 7.6zM459.2 259.5l4.3-7.6 4.3 7.6zM459.9 255.6l4.3-7.6 4.3 7.6zM458.3 255l4.3-7.6 4.3 7.6zM457.8 251.4l4.3-7.6 4.3 7.6zM459.3 251.5l4.3-7.6 4.3 7.6zM460.2 250.9l4.3-7.6 4.3 7.6zM458.3 248.6l4.3-7.6 4.3 7.6zM458.6 245.6l4.3-7.6 4.3 7.6zM461.4 244l4.3-7.6 4.3 7.6zM459.6 241.8l4.3-7.6 4.3 7.6zM460.4 239.3l4.3-7.6 4.3 7.6zM459.8 238.3l4.3-7.6 4.3 7.6zM461.5 237.7l4.3-7.6 4.3 7.6zM461.4 234.4l4.3-7.6 4.3 7.6zM460.6 233.4l4.3-7.6 4.3 7.6zM462.7 232.8l4.3-7.6 4.3 7.6zM462.9 231.3l4.3-7.6 4.3 7.6zM461.8 229.6l4.3-7.6 4.3 7.6zM462 226.3l4.3-7.6 4.3 7.6zM463 224.2l4.3-7.6 4.3 7.6zM465 223.3l4.3-7.6 4.3 7.6zM463 220.6l4.3-7.6 4.3 7.6zM465.7 218.3l4.3-7.6 4.3 7.6zM464.1 220l4.3-7.6 4.3 7.6zM465.8 218l4.3-7.6 4.3 7.6zM467 214.2l4.3-7.6 4.3 7.6zM464.5 214.3l4.3-7.6 4.3 7.6zM467.7 212.5l4.3-7.6 4.3 7.6zM467.5 209.6l4.3-7.6 4.3 7.6zM465.9 208.5l4.3-7.6 4.3 7.6zM468.8 204.6l4.3-7.6 4.3 7.6zM468 204.6l4.3-7.6 4.3 7.6zM468.5 203l4.3-7.6 4.3 7.6zM467.3 199.7l4.3-7.6 4.3 7.6zM468.2 199.1l4.3-7.6 4.3 7.6zM469.7 197.5l4.3-7.6 4.3 7.6zM470.5 195.2l4.3-7.6 4.3 7.6zM470.1 194.2l4.3-7.6 4.3 7.6zM469 193.5l4.3-7.6 4.3 7.6zM470.1 189.8l4.3-7.6 4.3 7.6zM472 189.3l4.3-7.6 4.3 7.6zM470.7 187.6l4.3-7.6 4.3 7.6zM470.5 185.3l4.3-7.6 4.3 7.6zM472.7 182l4.3-7.6 4.3 7.6zM470.8 183.2l4.3-7.6 4.3 7.6zM472.5 180.1l4.3-7.6 4.3 7.6zM473 179.1l4.3-7.6 4.3 7.6zM473.8 176.7l4.3-7.6 4.3 7.6zM474.4 174.8l4.3-7.6 4.3 7.6zM473.9 174.9l4.3-7.6 4.3 7.6zM474.9 171.1l4.3-7.6 4.3 7.6zM474.1 169.6l4.3-7.6 4.3 7.6zM473.7 168.3l4.3-7.6 4.3 7.6zM473.4 166.6l4.3-7.6 4.3 7.6zM475.6 164.7l4.3-7.6 4.3 7.6zM476.4 163.5l4.3-7.6 4.3 7.6zM475 160.3l4.3-7.6 4.3 7.6zM474.4 159.1l4.3-7.6 4.3 7.6zM477.5 156.7l4.3-7.6 4.3 7.6zM477.4 156.3l4.3-7.6 4.3 7.6zM477 153l4.3-7.6 4.3 7.6zM476.6 152.3l4.3-7.6 4.3 7.6zM477.5 152l4.3-7.6 4.3 7.6zM477.7 150l4.3-7.6 4.3 7.6zM479.4 147.1l4.3-7.6 4.3 7.6zM479.1 145.9l4.3-7.6 4.3 7.6zM477.7 144.2l4.3-7.6 4.3 7.6zM477.7 141l4.3-7.6 4.3 7.6zM480.9 139.4l4.3-7.6 4.3 7.6zM480.3 139.2l4.3-7.6 4.3 7.6zM480.9 136.1l4.3-7.6 4.3 7.6zM478.9 136.1l4.3-7.6 4.3 7.6zM479.9 135l4.3-7.6 4.3 7.6zM480.9 131.8l4.3-7.6 4.3 7.6zM481.3 129.4l4.3-7.6 4.3 7.6zM479.4 128l4.3-7.6 4.3 7.6zM479.7 126l4.3-7.6 4.3 7.6zM482.3 125.1l4.3-7.6 4.3 7.6zM481.7 122.7l4.3-7.6 4.3 7.6zM480.4 121.7l4.3-7.6 4.3 7.6zM480.9 119.6l4.3-7.6 4.3 7.6zM482.4 118.1l4.3-7.6 4.3 7.6zM479.8 116l4.3-7.6 4.3 7.6zM482.3 115.3l4.3-7.6 4.3 7.6zM480.6 111.1l4.3-7.6 4.3 7.6zM482.1 93.4l4.3-7.6 4.3 7.6zM498.9 131.2l4.3-7.6 4.3 7.6zM497.7 134.3l4.3-7.6 4.3 7.6zM496.3 133.9l4.3-7.6 4.3 7.6zM496.8 137.5l4.3-7.6 4.3 7.6zM496.2 137.1l4.3-7.6 4.3 7.6zM498.1 137.8l4.3-7.6 4.3 7.6zM496.4 141.7l4.3-7.6 4.3 7.6zM497.6 141l4.3-7.6 4.3 7.6zM496.7 142.5l4.3-7.6 4.3 7.6zM497.4 144l4.3-7.6 4.3 7.6zM497.2 145.5l4.3-7.6 4.3 7.6zM495.4 146.9l4.3-7.6 4.3 7.6zM496.5 148.7l4.3-7.6 4.3 7.6zM494.6 151.2l4.3-7.6 4.3 7.6zM495 151.2l4.3-7.6 4.3 7.6zM494.6 152.9l4.3-7.6 4.3 7.6zM494.3 154l4.3-7.6 4.3 7.6zM494.5 155.3l4.3-7.6 4.3 7.6zM494.2 156.3l4.3-7.6 4.3 7.6zM495.1 159.3l4.3-7.6 4.3 7.6zM493.7 159.6l4.3-7.6 4.3 7.6zM495 162.5l4.3-7.6 4.3 7.6zM495.7 162.6l4.3-7.6 4.3 7.6zM494.5 164.3l4.3-7.6 4.3 7.6zM495.5 164.5l4.3-7.6 4.3 7.6zM493.5 167.2l4.3-7.6 4.3 7.6zM494.6 167.4l4.3-7.6 4.3 7.6zM493.2 169l4.3-7.6 4.3 7.6zM493.1 170.5l4.3-7.6 4.3 7.6zM493.2 172.5l4.3-7.6 4.3 7.6zM493.7 173.2l4.3-7.6 4.3 7.6zM493 175l4.3-7.6 4.3 7.6zM492 176.6l4.3-7.6 4.3 7.6zM493 177.4l4.3-7.6 4.3 7.6zM493.7 180.2l4.3-7.6 4.3 7.6zM491.8 182l4.3-7.6 4.3 7.6zM491.3 181.9l4.3-7.6 4.3 7.6zM490.5 183.5l4.3-7.6 4.3 7.6zM491.6 183.5l4.3-7.6 4.3 7.6zM492.3 186l4.3-7.6 4.3 7.6zM490.9 198.8l4.3-7.6 4.3 7.6zM492.5 198l4.3-7.6 4.3 7.6zM490.9 201.8l4.3-7.6 4.3 7.6zM492.1 202.8l4.3-7.6 4.3 7.6zM491.5 203.1l4.3-7.6 4.3 7.6zM489.9 206l4.3-7.6 4.3 7.6zM489.3 207.9l4.3-7.6 4.3 7.6zM490.3 207.7l4.3-7.6 4.3 7.6zM488.5 210.9l4.3-7.6 4.3 7.6zM489.8 210.8l4.3-7.6 4.3 7.6zM489.3 214l4.3-7.6 4.3 7.6zM488.2 213.9l4.3-7.6 4.3 7.6zM487.5 216.8l4.3-7.6 4.3 7.6zM488.7 219.2l4.3-7.6 4.3 7.6zM487.5 218.7l4.3-7.6 4.3 7.6zM487.9 221.6l4.3-7.6 4.3 7.6zM488.2 224.5l4.3-7.6 4.3 7.6zM486.8 226.4l4.3-7.6 4.3 7.6zM486.1 227.1l4.3-7.6 4.3 7.6zM485.8 226.9l4.3-7.6 4.3 7.6zM488.4 230l4.3-7.6 4.3 7.6zM486.9 231.7l4.3-7.6 4.3 7.6zM487 233.3l4.3-7.6 4.3 7.6zM485.7 234.1l4.3-7.6 4.3 7.6zM487.1 236.9l4.3-7.6 4.3 7.6zM485 237.4l4.3-7.6 4.3 7.6zM485.9 239.1l4.3-7.6 4.3 7.6zM484.8 240.5l4.3-7.6 4.3 7.6zM485.5 242.5l4.3-7.6 4.3 7.6zM486 243.5l4.3-7.6 4.3 7.6zM485.1 252.2l4.3-7.6 4.3 7.6zM484.3 259.8l4.3-7.6 4.3 7.6zM485.1 266.1l4.3-7.6 4.3 7.6zM484.3 274.9l4.3-7.6 4.3 7.6zM484.3 282.4l4.3-7.6 4.3 7.6zM483.8 298.7l4.3-7.6 4.3 7.6zM483.3 306.3l4.3-7.6 4.3 7.6zM482.6 328.9l4.3-7.6 4.3 7.6zM482.6 369.8l4.3-7.6 4.3 7.6zM497.7 266.8l4.3-7.6 4.3 7.6zM520.6 130.5l4.3-7.6 4.3 7.6zM520.1 131.1l4.3-7.6 4.3 7.6zM520.2 132.7l4.3-7.6 4.3 7.6zM520.4 134.8l4.3-7.6 4.3 7.6zM520.7 135.5l4.3-7.6 4.3 7.6zM520.6 138.4l4.3-7.6 4.3 7.6zM519.9 138.6l4.3-7.6 4.3 7.6zM519.7 140.3l4.3-7.6 4.3 7.6zM518.3 141.5l4.3-7.6 4.3 7.6zM517.8 143l4.3-7.6 4.3 7.6zM517.3 145.5l4.3-7.6 4.3 7.6zM518.2 147.4l4.3-7.6 4.3 7.6zM517.7 148.2l4.3-7.6 4.3 7.6zM516.4 150.4l4.3-7.6 4.3 7.6zM517.1 152.1l4.3-7.6 4.3 7.6zM517.9 153.9l4.3-7.6 4.3 7.6zM517.3 155.9l4.3-7.6 4.3 7.6zM517.3 155.4l4.3-7.6 4.3 7.6zM517.2 157.7l4.3-7.6 4.3 7.6zM516.8 160.1l4.3-7.6 4.3 7.6zM514.5 160.5l4.3-7.6 4.3 7.6zM514.6 161.9l4.3-7.6 4.3 7.6zM514.3 163.6l4.3-7.6 4.3 7.6zM514.1 164.3l4.3-7.6 4.3 7.6zM515.5 166.4l4.3-7.6 4.3 7.6zM515.2 168.9l4.3-7.6 4.3 7.6zM513.3 169.6l4.3-7.6 4.3 7.6zM513.2 171.3l4.3-7.6 4.3 7.6zM511.9 172l4.3-7.6 4.3 7.6zM511.7 174.4l4.3-7.6 4.3 7.6zM511.6 177.1l4.3-7.6 4.3 7.6zM511.4 178.1l4.3-7.6 4.3 7.6zM512.7 178.9l4.3-7.6 4.3 7.6zM510.4 180.5l4.3-7.6 4.3 7.6zM511.3 181.6l4.3-7.6 4.3 7.6zM511 183.5l4.3-7.6 4.3 7.6zM509.2 185.9l4.3-7.6 4.3 7.6zM510.2 186.8l4.3-7.6 4.3 7.6zM509.8 187.9l4.3-7.6 4.3 7.6zM508.2 189.5l4.3-7.6 4.3 7.6zM508.9 190.3l4.3-7.6 4.3 7.6zM508 192.7l4.3-7.6 4.3 7.6zM506.4 195.3l4.3-7.6 4.3 7.6zM506.9 195.9l4.3-7.6 4.3 7.6zM507.2 198.6l4.3-7.6 4.3 7.6zM506.2 198.9l4.3-7.6 4.3 7.6zM505.4 199.7l4.3-7.6 4.3 7.6zM506.5 202.9l4.3-7.6 4.3 7.6zM506 203.9l4.3-7.6 4.3 7.6zM505.7 204l4.3-7.6 4.3 7.6zM503.6 205.9l4.3-7.6 4.3 7.6zM503.4 209.1l4.3-7.6 4.3 7.6zM503.7 209.7l4.3-7.6 4.3 7.6zM503.7 210.7l4.3-7.6 4.3 7.6zM503.7 212.6l4.3-7.6 4.3 7.6zM501.7 213.8l4.3-7.6 4.3 7.6zM502.4 215.1l4.3-7.6 4.3 7.6zM501.2 217.2l4.3-7.6 4.3 7.6zM502.2 219.3l4.3-7.6 4.3 7.6zM501.2 221l4.3-7.6 4.3 7.6zM501 221.7l4.3-7.6 4.3 7.6zM500.8 222.9l4.3-7.6 4.3 7.6zM501.5 225l4.3-7.6 4.3 7.6zM499.9 226.1l4.3-7.6 4.3 7.6zM498.7 228.2l4.3-7.6 4.3 7.6zM499.4 229.2l4.3-7.6 4.3 7.6zM498.4 231.9l4.3-7.6 4.3 7.6zM498.8 232.5l4.3-7.6 4.3 7.6zM498.1 232.8l4.3-7.6 4.3 7.6zM499 236l4.3-7.6 4.3 7.6zM497.9 237.4l4.3-7.6 4.3 7.6zM498.1 238.1l4.3-7.6 4.3 7.6zM499.6 239.3l4.3-7.6 4.3 7.6zM498.9 242.5l4.3-7.6 4.3 7.6zM498.1 245.2l4.3-7.6 4.3 7.6zM497.5 245.3l4.3-7.6 4.3 7.6zM498.6 246.4l4.3-7.6 4.3 7.6zM499.1 247.1l4.3-7.6 4.3 7.6zM497.4 249.9l4.3-7.6 4.3 7.6zM497.7 252.1l4.3-7.6 4.3 7.6z" fill="#0080c0" stroke="#0080c0" stroke-width="1.3" stroke-linejoin="round"/>
<path d="M532.8 53.6l4.3 7.6 4.3-7.6zM534.1 66.7l4.3 7.6 4.3-7.6zM532.3 78l4.3 7.6 4.3-7.6zM531.8 84.2l4.3 7.6 4.3-7.6zM531.8 88l4.3 7.6 4.3-7.6zM566.8 54.1l4.3 7.6 4.3-7.6zM565.5 83.7l4.3 7.6 4.3-7.6zM563 91.8l4.3 7.6 4.3-7.6zM566.3 96.8l4.3 7.6 4.3-7.6zM564.2 101.8l4.3 7.6 4.3-7.6zM568 106.9l4.3 7.6 4.3-7.6zM566.3 111.9l4.3 7.6 4.3-7.6zM569.3 116.9l4.3 7.6 4.3-7.6zM571.3 123.2l4.3 7.6 4.3-7.6zM531.6 108.1l4.3 7.6 4.3-7.6zM531.6 115.6l4.3 7.6 4.3-7.6zM535.3 113.1l4.3 7.6 4.3-7.6zM550.4 113.1l4.3 7.6 4.3-7.6zM547.9 119.4l4.3 7.6 4.3-7.6zM549.2 127l4.3 7.6 4.3-7.6zM534.1 125.7l4.3 7.6 4.3-7.6zM529.1 127l4.3 7.6 4.3-7.6zM551.7 133.2l4.3 7.6 4.3-7.6zM560.5 134.5l4.3 7.6 4.3-7.6zM563 142l4.3 7.6 4.3-7.6zM564.2 152.1l4.3 7.6 4.3-7.6zM531.6 132l4.3 7.6 4.3-7.6zM536 161.4l4.3 7.6 4.3-7.6zM558.3 187.7l4.3 7.6 4.3-7.6zM528.9 199.7l4.3 7.6 4.3-7.6zM562.4 268.9l4.3 7.6 4.3-7.6zM559.3 229l4.3 7.6 4.3-7.6zM536.3 266.7l4.3 7.6 4.3-7.6zM562.2 175.9l4.3 7.6 4.3-7.6zM538.3 192.9l4.3 7.6 4.3-7.6zM537.6 193.4l4.3 7.6 4.3-7.6zM524.8 169.9l4.3 7.6 4.3-7.6zM567 198.4l4.3 7.6 4.3-7.6zM552.6 272.7l4.3 7.6 4.3-7.6zM558.9 172.6l4.3 7.6 4.3-7.6zM558.8 261.1l4.3 7.6 4.3-7.6zM532.4 236.7l4.3 7.6 4.3-7.6zM539.1 265.3l4.3 7.6 4.3-7.6zM526.1 218.5l4.3 7.6 4.3-7.6zM536.8 262.3l4.3 7.6 4.3-7.6zM537.2 265.9l4.3 7.6 4.3-7.6zM558.3 239.9l4.3 7.6 4.3-7.6zM553.4 142l4.3 7.6 4.3-7.6zM564.9 219.8l4.3 7.6 4.3-7.6zM543.1 187.3l4.3 7.6 4.3-7.6zM560.3 256.3l4.3 7.6 4.3-7.6zM564.9 167.8l4.3 7.6 4.3-7.6zM537 173.3l4.3 7.6 4.3-7.6zM524.3 185.5l4.3 7.6 4.3-7.6zM531 145.5l4.3 7.6 4.3-7.6zM529.5 206.5l4.3 7.6 4.3-7.6zM540.2 259.5l4.3 7.6 4.3-7.6zM569.4 182.8l4.3 7.6 4.3-7.6zM552.4 273.9l4.3 7.6 4.3-7.6zM543.8 274.6l4.3 7.6 4.3-7.6zM557.7 183l4.3 7.6 4.3-7.6zM565.1 223.8l4.3 7.6 4.3-7.6zM524.6 226l4.3 7.6 4.3-7.6zM562.8 215.3l4.3 7.6 4.3-7.6zM544.6 199.4l4.3 7.6 4.3-7.6zM565.5 238.2l4.3 7.6 4.3-7.6zM530 190.9l4.3 7.6 4.3-7.6zM555.7 153.9l4.3 7.6 4.3-7.6zM550.2 201.8l4.3 7.6 4.3-7.6zM556.9 201.4l4.3 7.6 4.3-7.6zM523.9 216.1l4.3 7.6 4.3-7.6zM562.3 257.4l4.3 7.6 4.3-7.6zM537.8 169.1l4.3 7.6 4.3-7.6zM558.3 259.4l4.3 7.6 4.3-7.6zM571.4 202l4.3 7.6 4.3-7.6zM539.1 245.1l4.3 7.6 4.3-7.6zM568.1 165.9l4.3 7.6 4.3-7.6zM534.9 185.7l4.3 7.6 4.3-7.6zM557.7 163.6l4.3 7.6 4.3-7.6zM547.9 212.4l4.3 7.6 4.3-7.6zM554.3 156.8l4.3 7.6 4.3-7.6zM548.6 258.4l4.3 7.6 4.3-7.6zM548.1 252.8l4.3 7.6 4.3-7.6zM564.8 190.8l4.3 7.6 4.3-7.6zM567.8 166.8l4.3 7.6 4.3-7.6zM520.3 212.8l4.3 7.6 4.3-7.6zM569.4 214.1l4.3 7.6 4.3-7.6zM568.2 221.7l4.3 7.6 4.3-7.6zM526.6 232.8l4.3 7.6 4.3-7.6zM561.4 200.5l4.3 7.6 4.3-7.6zM550.8 174.9l4.3 7.6 4.3-7.6zM533.6 200l4.3 7.6 4.3-7.6zM546.1 207.4l4.3 7.6 4.3-7.6zM537 246.2l4.3 7.6 4.3-7.6zM558.5 171.4l4.3 7.6 4.3-7.6zM532.5 215l4.3 7.6 4.3-7.6zM528.3 228.4l4.3 7.6 4.3-7.6zM566.7 166l4.3 7.6 4.3-7.6zM549.9 246.8l4.3 7.6 4.3-7.6zM558.5 245.4l4.3 7.6 4.3-7.6zM556.5 176.9l4.3 7.6 4.3-7.6zM542.4 147.9l4.3 7.6 4.3-7.6zM554.8 156.6l4.3 7.6 4.3-7.6zM543.3 234l4.3 7.6 4.3-7.6zM559.5 172.7l4.3 7.6 4.3-7.6zM529.5 159.6l4.3 7.6 4.3-7.6zM540.7 230.8l4.3 7.6 4.3-7.6zM535 159.7l4.3 7.6 4.3-7.6zM530.5 147.7l4.3 7.6 4.3-7.6zM529.2 183.7l4.3 7.6 4.3-7.6zM545.6 163.1l4.3 7.6 4.3-7.6zM544.3 203l4.3 7.6 4.3-7.6zM570.4 210.2l4.3 7.6 4.3-7.6zM568.9 207.9l4.3 7.6 4.3-7.6zM529.5 226.7l4.3 7.6 4.3-7.6zM526.6 160.8l4.3 7.6 4.3-7.6zM522.9 243.7l4.3 7.6 4.3-7.6zM570 197.3l4.3 7.6 4.3-7.6zM537.7 200.7l4.3 7.6 4.3-7.6zM537.6 242.1l4.3 7.6 4.3-7.6zM539.7 158.2l4.3 7.6 4.3-7.6zM564.6 223.7l4.3 7.6 4.3-7.6zM557.5 189.7l4.3 7.6 4.3-7.6zM552.3 277.8l4.3 7.6 4.3-7.6zM540.2 201.9l4.3 7.6 4.3-7.6zM534.8 220.8l4.3 7.6 4.3-7.6zM554 249l4.3 7.6 4.3-7.6zM538.3 267.1l4.3 7.6 4.3-7.6zM560.8 226.4l4.3 7.6 4.3-7.6zM554.8 187.5l4.3 7.6 4.3-7.6zM568.9 220.1l4.3 7.6 4.3-7.6zM540.3 162.9l4.3 7.6 4.3-7.6zM536.1 209.2l4.3 7.6 4.3-7.6zM545.2 191.1l4.3 7.6 4.3-7.6zM566.2 189l4.3 7.6 4.3-7.6zM547.1 279.3l4.3 7.6 4.3-7.6zM552.7 208.8l4.3 7.6 4.3-7.6zM536.6 194.8l4.3 7.6 4.3-7.6zM551.2 256.9l4.3 7.6 4.3-7.6zM532.8 192.2l4.3 7.6 4.3-7.6zM539.5 191l4.3 7.6 4.3-7.6zM567.2 218.4l4.3 7.6 4.3-7.6zM533.6 186.3l4.3 7.6 4.3-7.6zM562.4 159.4l4.3 7.6 4.3-7.6zM529.2 143.8l4.3 7.6 4.3-7.6zM561.5 157.4l4.3 7.6 4.3-7.6zM531 143.5l4.3 7.6 4.3-7.6zM532.9 248.7l4.3 7.6 4.3-7.6zM557 276.3l4.3 7.6 4.3-7.6zM569 220.3l4.3 7.6 4.3-7.6zM567.8 202.1l4.3 7.6 4.3-7.6zM529.2 251l4.3 7.6 4.3-7.6zM564.3 194.6l4.3 7.6 4.3-7.6zM558.8 227.5l4.3 7.6 4.3-7.6zM522 153.8l4.3 7.6 4.3-7.6zM552.3 152l4.3 7.6 4.3-7.6zM527.6 162.7l4.3 7.6 4.3-7.6zM551.2 239.2l4.3 7.6 4.3-7.6zM570.2 190.7l4.3 7.6 4.3-7.6zM570.7 202.2l4.3 7.6 4.3-7.6zM539.6 174l4.3 7.6 4.3-7.6zM528.3 162.5l4.3 7.6 4.3-7.6zM527 189.2l4.3 7.6 4.3-7.6zM547 240.5l4.3 7.6 4.3-7.6zM520.8 203l4.3 7.6 4.3-7.6zM560.7 224.2l4.3 7.6 4.3-7.6zM542.8 271.8l4.3 7.6 4.3-7.6zM550.7 187l4.3 7.6 4.3-7.6zM548.6 156.7l4.3 7.6 4.3-7.6zM528.3 194.2l4.3 7.6 4.3-7.6zM561.3 256.9l4.3 7.6 4.3-7.6zM561.1 199l4.3 7.6 4.3-7.6zM554.3 223.3l4.3 7.6 4.3-7.6zM557.4 198.2l4.3 7.6 4.3-7.6zM568 230.3l4.3 7.6 4.3-7.6zM535.7 193.2l4.3 7.6 4.3-7.6zM560.8 257.3l4.3 7.6 4.3-7.6zM555.3 184.1l4.3 7.6 4.3-7.6zM559 175.3l4.3 7.6 4.3-7.6zM551.2 159.2l4.3 7.6 4.3-7.6zM564.3 210.6l4.3 7.6 4.3-7.6zM559 157.7l4.3 7.6 4.3-7.6zM559.2 223.8l4.3 7.6 4.3-7.6zM566.9 225.9l4.3 7.6 4.3-7.6zM524.4 177.6l4.3 7.6 4.3-7.6zM542.3 247.6l4.3 7.6 4.3-7.6zM532.6 248.3l4.3 7.6 4.3-7.6zM553.2 149.7l4.3 7.6 4.3-7.6zM545.1 246.9l4.3 7.6 4.3-7.6zM530.3 236.4l4.3 7.6 4.3-7.6zM533.7 192.2l4.3 7.6 4.3-7.6zM549.2 260.4l4.3 7.6 4.3-7.6zM559 205.6l4.3 7.6 4.3-7.6zM564.6 197l4.3 7.6 4.3-7.6zM569.1 208.1l4.3 7.6 4.3-7.6zM525.3 251.2l4.3 7.6 4.3-7.6zM526.7 240.3l4.3 7.6 4.3-7.6zM547.6 249.8l4.3 7.6 4.3-7.6zM525.9 233.7l4.3 7.6 4.3-7.6zM538.9 173.3l4.3 7.6 4.3-7.6zM544.2 148l4.3 7.6 4.3-7.6zM520.8 206.9l4.3 7.6 4.3-7.6zM522.8 292.8l4.3 7.6 4.3-7.6zM529.1 280.2l4.3 7.6 4.3-7.6zM534.6 289l4.3 7.6 4.3-7.6zM521.5 272.7l4.3 7.6 4.3-7.6zM522.8 304.1l4.3 7.6 4.3-7.6zM526.6 314.1l4.3 7.6 4.3-7.6zM534.6 315.4l4.3 7.6 4.3-7.6zM530.3 321.7l4.3 7.6 4.3-7.6zM526.1 336.8l4.3 7.6 4.3-7.6zM527.8 349.3l4.3 7.6 4.3-7.6zM569.3 295.3l4.3 7.6 4.3-7.6zM569.3 310.4l4.3 7.6 4.3-7.6zM565.5 316.7l4.3 7.6 4.3-7.6zM563 320.4l4.3 7.6 4.3-7.6zM565.5 335.5l4.3 7.6 4.3-7.6zM566.8 344.3l4.3 7.6 4.3-7.6zM568.8 387l4.3 7.6 4.3-7.6zM569.8 399.6l4.3 7.6 4.3-7.6zM521.5 197.3l4.3 7.6 4.3-7.6zM519 212.4l4.3 7.6 4.3-7.6zM520.3 227.5l4.3 7.6 4.3-7.6zM519 258.9l4.3 7.6 4.3-7.6z" fill="#ff007f" stroke="#ff007f" stroke-width="1.3" stroke-linejoin="round"/>
<path d="M596 109.9l-7.6 4.3 7.6 4.3zM593.5 116.2l-7.6 4.3 7.6 4.3zM594.8 123.7l-7.6 4.3 7.6 4.3zM591 132.5l-7.6 4.3 7.6 4.3zM597.3 140.1l-7.6 4.3 7.6 4.3zM594.8 146.4l-7.6 4.3 7.6 4.3zM590.3 171.5l-7.6 4.3 7.6 4.3zM597.5 156.3l-7.6 4.3 7.6 4.3zM581.3 175.4l-7.6 4.3 7.6 4.3zM580.8 149.9l-7.6 4.3 7.6 4.3zM591.2 156l-7.6 4.3 7.6 4.3zM590.5 174.2l-7.6 4.3 7.6 4.3zM584.4 179.4l-7.6 4.3 7.6 4.3zM583.6 179.1l-7.6 4.3 7.6 4.3zM594.3 181.7l-7.6 4.3 7.6 4.3zM598.6 168l-7.6 4.3 7.6 4.3zM592.1 177l-7.6 4.3 7.6 4.3zM589.7 146.4l-7.6 4.3 7.6 4.3zM596.2 172.6l-7.6 4.3 7.6 4.3zM583.9 161.2l-7.6 4.3 7.6 4.3zM596.2 164.9l-7.6 4.3 7.6 4.3zM588.6 149.2l-7.6 4.3 7.6 4.3zM581.3 161.5l-7.6 4.3 7.6 4.3zM591 153.3l-7.6 4.3 7.6 4.3zM587.6 164.9l-7.6 4.3 7.6 4.3zM598.4 166.3l-7.6 4.3 7.6 4.3zM587.6 181.3l-7.6 4.3 7.6 4.3zM593.4 181.6l-7.6 4.3 7.6 4.3zM588.1 164.6l-7.6 4.3 7.6 4.3zM583.1 147.4l-7.6 4.3 7.6 4.3zM585.3 167.9l-7.6 4.3 7.6 4.3zM592.9 180.8l-7.6 4.3 7.6 4.3zM596.3 157.1l-7.6 4.3 7.6 4.3zM603.5 168.1l-7.6 4.3 7.6 4.3zM592.4 177.3l-7.6 4.3 7.6 4.3zM595.8 157l-7.6 4.3 7.6 4.3zM594.1 154.6l-7.6 4.3 7.6 4.3zM577.8 164.8l-7.6 4.3 7.6 4.3zM583.2 163l-7.6 4.3 7.6 4.3zM595.8 170.1l-7.6 4.3 7.6 4.3zM596.1 171.3l-7.6 4.3 7.6 4.3zM589.2 181.7l-7.6 4.3 7.6 4.3zM586.1 165.4l-7.6 4.3 7.6 4.3zM577.8 159.2l-7.6 4.3 7.6 4.3zM602.2 166.3l-7.6 4.3 7.6 4.3zM583.1 149.7l-7.6 4.3 7.6 4.3zM603 153.2l-7.6 4.3 7.6 4.3zM601.6 163.3l-7.6 4.3 7.6 4.3zM598.6 236.7l-7.6 4.3 7.6 4.3zM602.9 221.5l-7.6 4.3 7.6 4.3zM620.9 197.2l-7.6 4.3 7.6 4.3zM589.4 202.6l-7.6 4.3 7.6 4.3zM616.4 236l-7.6 4.3 7.6 4.3zM614.4 219l-7.6 4.3 7.6 4.3zM590.1 223.1l-7.6 4.3 7.6 4.3zM610.6 202.3l-7.6 4.3 7.6 4.3zM629 196.4l-7.6 4.3 7.6 4.3zM589 190.9l-7.6 4.3 7.6 4.3zM589.4 215.3l-7.6 4.3 7.6 4.3zM623.7 191l-7.6 4.3 7.6 4.3zM608.1 214.5l-7.6 4.3 7.6 4.3zM611.1 205.3l-7.6 4.3 7.6 4.3zM610.2 182.8l-7.6 4.3 7.6 4.3zM584.6 205.9l-7.6 4.3 7.6 4.3zM594 224.8l-7.6 4.3 7.6 4.3zM594.3 228.6l-7.6 4.3 7.6 4.3zM594.3 187.2l-7.6 4.3 7.6 4.3zM606.7 203.9l-7.6 4.3 7.6 4.3zM599.2 225.3l-7.6 4.3 7.6 4.3zM593.3 219.9l-7.6 4.3 7.6 4.3zM625.5 207.6l-7.6 4.3 7.6 4.3zM608.1 234.3l-7.6 4.3 7.6 4.3zM613.4 192.2l-7.6 4.3 7.6 4.3zM599 186.9l-7.6 4.3 7.6 4.3zM615.7 205.9l-7.6 4.3 7.6 4.3zM597.8 210.9l-7.6 4.3 7.6 4.3zM589.7 199.2l-7.6 4.3 7.6 4.3zM598.7 233.5l-7.6 4.3 7.6 4.3zM618.8 206.2l-7.6 4.3 7.6 4.3zM615.7 190.8l-7.6 4.3 7.6 4.3zM614.5 185.2l-7.6 4.3 7.6 4.3zM608.3 200.9l-7.6 4.3 7.6 4.3zM587 224l-7.6 4.3 7.6 4.3zM619.3 210.9l-7.6 4.3 7.6 4.3zM590.4 219.9l-7.6 4.3 7.6 4.3zM604.4 219.4l-7.6 4.3 7.6 4.3zM602.6 193.2l-7.6 4.3 7.6 4.3zM586.2 220.9l-7.6 4.3 7.6 4.3zM595.6 219.9l-7.6 4.3 7.6 4.3zM593.3 204.6l-7.6 4.3 7.6 4.3zM617.8 206.3l-7.6 4.3 7.6 4.3zM610.2 238.1l-7.6 4.3 7.6 4.3zM608 209.6l-7.6 4.3 7.6 4.3zM591.8 219.9l-7.6 4.3 7.6 4.3zM607.7 227.8l-7.6 4.3 7.6 4.3zM596.9 234.9l-7.6 4.3 7.6 4.3zM624.5 208.8l-7.6 4.3 7.6 4.3zM589 209.3l-7.6 4.3 7.6 4.3zM588.3 220.8l-7.6 4.3 7.6 4.3zM618.3 214.7l-7.6 4.3 7.6 4.3zM619.2 227.3l-7.6 4.3 7.6 4.3zM587.5 200.2l-7.6 4.3 7.6 4.3zM584.4 215l-7.6 4.3 7.6 4.3zM619.6 201.6l-7.6 4.3 7.6 4.3zM618.2 202.7l-7.6 4.3 7.6 4.3zM619.1 197.6l-7.6 4.3 7.6 4.3zM633.1 206.7l-7.6 4.3 7.6 4.3zM619.8 230.9l-7.6 4.3 7.6 4.3zM615.1 190.7l-7.6 4.3 7.6 4.3zM627.5 222.6l-7.6 4.3 7.6 4.3zM587.6 203.5l-7.6 4.3 7.6 4.3zM583.8 202l-7.6 4.3 7.6 4.3zM598.3 233.4l-7.6 4.3 7.6 4.3zM623 231l-7.6 4.3 7.6 4.3zM612.5 236.9l-7.6 4.3 7.6 4.3zM615.5 235.7l-7.6 4.3 7.6 4.3zM611.4 193l-7.6 4.3 7.6 4.3zM608.9 209.3l-7.6 4.3 7.6 4.3zM599.3 203.1l-7.6 4.3 7.6 4.3zM608.5 215.2l-7.6 4.3 7.6 4.3zM593.3 197.6l-7.6 4.3 7.6 4.3zM608.1 210.5l-7.6 4.3 7.6 4.3zM603.6 219.6l-7.6 4.3 7.6 4.3zM591.3 212.1l-7.6 4.3 7.6 4.3zM596.1 225.6l-7.6 4.3 7.6 4.3zM618.6 226.2l-7.6 4.3 7.6 4.3zM608.8 196l-7.6 4.3 7.6 4.3zM630.3 210.9l-7.6 4.3 7.6 4.3zM601.3 198.4l-7.6 4.3 7.6 4.3zM602.7 222.1l-7.6 4.3 7.6 4.3zM624.7 209.3l-7.6 4.3 7.6 4.3zM620.1 194l-7.6 4.3 7.6 4.3zM605.4 202.2l-7.6 4.3 7.6 4.3zM597.7 202.3l-7.6 4.3 7.6 4.3zM621.3 223.5l-7.6 4.3 7.6 4.3zM592.5 195.2l-7.6 4.3 7.6 4.3zM622.9 219l-7.6 4.3 7.6 4.3zM617.2 217.9l-7.6 4.3 7.6 4.3zM618.1 197.4l-7.6 4.3 7.6 4.3zM584.8 202.4l-7.6 4.3 7.6 4.3zM609.2 219.9l-7.6 4.3 7.6 4.3zM593.6 201l-7.6 4.3 7.6 4.3zM587.3 227l-7.6 4.3 7.6 4.3zM620.4 209.6l-7.6 4.3 7.6 4.3zM601 197.2l-7.6 4.3 7.6 4.3zM607.2 222.3l-7.6 4.3 7.6 4.3zM627.3 206.8l-7.6 4.3 7.6 4.3zM603.8 199.7l-7.6 4.3 7.6 4.3zM589.9 197.8l-7.6 4.3 7.6 4.3zM599 230.2l-7.6 4.3 7.6 4.3zM628.5 206.1l-7.6 4.3 7.6 4.3zM591.7 225.7l-7.6 4.3 7.6 4.3zM601.3 188.7l-7.6 4.3 7.6 4.3zM629.1 206.8l-7.6 4.3 7.6 4.3zM602.5 215.7l-7.6 4.3 7.6 4.3zM602.1 203.4l-7.6 4.3 7.6 4.3zM621.7 200.8l-7.6 4.3 7.6 4.3zM617.4 217.3l-7.6 4.3 7.6 4.3zM617.1 216.6l-7.6 4.3 7.6 4.3zM597 193.3l-7.6 4.3 7.6 4.3zM593.9 215.1l-7.6 4.3 7.6 4.3zM611.8 200.2l-7.6 4.3 7.6 4.3zM583.5 200.4l-7.6 4.3 7.6 4.3zM632 186.6l-7.6 4.3 7.6 4.3zM628.4 174l-7.6 4.3 7.6 4.3zM620.6 179l-7.6 4.3 7.6 4.3zM626 180.3l-7.6 4.3 7.6 4.3zM638.7 173.8l-7.6 4.3 7.6 4.3zM637.5 177.2l-7.6 4.3 7.6 4.3zM630.5 180.7l-7.6 4.3 7.6 4.3zM636.3 177.9l-7.6 4.3 7.6 4.3zM635.4 183.4l-7.6 4.3 7.6 4.3zM625 176.8l-7.6 4.3 7.6 4.3zM631.4 191.2l-7.6 4.3 7.6 4.3zM637.2 185.2l-7.6 4.3 7.6 4.3zM625.2 191.8l-7.6 4.3 7.6 4.3zM617.7 177.6l-7.6 4.3 7.6 4.3zM634.8 182.4l-7.6 4.3 7.6 4.3zM627.2 176.4l-7.6 4.3 7.6 4.3zM617.4 180.5l-7.6 4.3 7.6 4.3zM626.4 184.1l-7.6 4.3 7.6 4.3zM622.6 189.2l-7.6 4.3 7.6 4.3zM619.4 184.2l-7.6 4.3 7.6 4.3zM629.2 151.5l-7.6 4.3 7.6 4.3zM636.3 156.6l-7.6 4.3 7.6 4.3zM606.9 167.7l-7.6 4.3 7.6 4.3zM607.9 176.8l-7.6 4.3 7.6 4.3zM605.9 181.9l-7.6 4.3 7.6 4.3zM636.3 200.1l-7.6 4.3 7.6 4.3zM587.7 192l-7.6 4.3 7.6 4.3zM584.6 197.1l-7.6 4.3 7.6 4.3zM582.6 212.3l-7.6 4.3 7.6 4.3zM584.6 217.3l-7.6 4.3 7.6 4.3zM579.5 227.5l-7.6 4.3 7.6 4.3zM586.6 227.5l-7.6 4.3 7.6 4.3zM580.6 240.6l-7.6 4.3 7.6 4.3zM591.7 240.6l-7.6 4.3 7.6 4.3zM599.8 237.6l-7.6 4.3 7.6 4.3zM607.9 235.6l-7.6 4.3 7.6 4.3zM631.2 240.6l-7.6 4.3 7.6 4.3zM635.2 237.6l-7.6 4.3 7.6 4.3zM623.1 232.5l-7.6 4.3 7.6 4.3zM594.7 229.5l-7.6 4.3 7.6 4.3zM629.9 153.4l-7.6 4.3 7.6 4.3zM636.2 156.9l-7.6 4.3 7.6 4.3zM637.5 201.6l-7.6 4.3 7.6 4.3zM636.2 197.9l-7.6 4.3 7.6 4.3zM591 256.9l-7.6 4.3 7.6 4.3zM601 263.2l-7.6 4.3 7.6 4.3zM604.8 251.9l-7.6 4.3 7.6 4.3zM589.7 279.5l-7.6 4.3 7.6 4.3zM594.8 284.5l-7.6 4.3 7.6 4.3zM593.5 282l-7.6 4.3 7.6 4.3zM632.9 241.7l-7.6 4.3 7.6 4.3zM636.9 239.9l-7.6 4.3 7.6 4.3zM637.1 241.5l-7.6 4.3 7.6 4.3zM631.1 244.4l-7.6 4.3 7.6 4.3zM633.6 240.7l-7.6 4.3 7.6 4.3zM631.5 238.8l-7.6 4.3 7.6 4.3zM634.7 243.4l-7.6 4.3 7.6 4.3zM631 241.2l-7.6 4.3 7.6 4.3zM636.8 241.3l-7.6 4.3 7.6 4.3zM632 248.1l-7.6 4.3 7.6 4.3zM580.2 344.2l-7.6 4.3 7.6 4.3zM578 349.2l-7.6 4.3 7.6 4.3zM583.5 345.1l-7.6 4.3 7.6 4.3zM580.7 341l-7.6 4.3 7.6 4.3zM584.9 345.3l-7.6 4.3 7.6 4.3zM585.4 343.7l-7.6 4.3 7.6 4.3zM583.7 349.5l-7.6 4.3 7.6 4.3zM581.7 345.6l-7.6 4.3 7.6 4.3zM578.3 339.9l-7.6 4.3 7.6 4.3zM583.3 349.8l-7.6 4.3 7.6 4.3zM579 348.9l-7.6 4.3 7.6 4.3zM577.7 348.3l-7.6 4.3 7.6 4.3zM578.1 346.3l-7.6 4.3 7.6 4.3zM579.6 347.1l-7.6 4.3 7.6 4.3zM577.6 345.8l-7.6 4.3 7.6 4.3zM583 339.1l-7.6 4.3 7.6 4.3zM632.4 351.1l-7.6 4.3 7.6 4.3zM632.9 354.9l-7.6 4.3 7.6 4.3zM633.7 372.5l-7.6 4.3 7.6 4.3zM634.5 376.3l-7.6 4.3 7.6 4.3zM632.4 374.5l-7.6 4.3 7.6 4.3z" fill="#800080" stroke="#800080" stroke-width="1.3" stroke-linejoin="round"/>
</g>
<g id="scatter_b">
<defs><path id="dm" d="M-5.6 0L0-5.6 5.6 0 0 5.6z"/></defs>
<g fill="#6b480c" fill-opacity="0.6">
<use href="#dm" x="893.9" y="66.5"/><use href="#dm" x="892.7" y="74"/><use href="#dm" x="900.2" y="80.3"/><use href="#dm" x="888.9" y="86.6"/><use href="#dm" x="897.7" y="87.8"/><use href="#dm" x="891.4" y="96.6"/><use href="#dm" x="898.9" y="95.4"/><use href="#dm" x="893.9" y="102.9"/><use href="#dm" x="896.4" y="107.9"/><use href="#dm" x="890.2" y="92.9"/><use href="#dm" x="887.9" y="105.3"/><use href="#dm" x="888.4" y="97.7"/><use href="#dm" x="888.7" y="98.8"/><use href="#dm" x="889.5" y="91.6"/><use href="#dm" x="889.7" y="95.3"/><use href="#dm" x="890.6" y="94.2"/><use href="#dm" x="891" y="88.8"/><use href="#dm" x="891.2" y="86.6"/><use href="#dm" x="891.8" y="86.2"/><use href="#dm" x="892.4" y="105.3"/><use href="#dm" x="892.9" y="97.6"/><use href="#dm" x="893.5" y="92.7"/><use href="#dm" x="894.2" y="105.5"/><use href="#dm" x="894.3" y="93.3"/><use href="#dm" x="894.7" y="96"/><use href="#dm" x="895.6" y="109.3"/><use href="#dm" x="896.1" y="92.2"/><use href="#dm" x="896.6" y="110.3"/><use href="#dm" x="896.9" y="102.2"/><use href="#dm" x="897.6" y="89.9"/><use href="#dm" x="897.9" y="87.9"/><use href="#dm" x="898.6" y="94"/><use href="#dm" x="898.7" y="106.9"/><use href="#dm" x="899.3" y="99"/><use href="#dm" x="899.8" y="91.9"/><use href="#dm" x="900.5" y="98.9"/><use href="#dm" x="900.8" y="111.8"/><use href="#dm" x="901.6" y="110.1"/><use href="#dm" x="901.8" y="109.5"/><use href="#dm" x="902.5" y="112.9"/><use href="#dm" x="902.8" y="108"/><use href="#dm" x="903.4" y="91.8"/><use href="#dm" x="903.8" y="95.8"/><use href="#dm" x="904.5" y="100.8"/><use href="#dm" x="905.2" y="103.7"/><use href="#dm" x="905.7" y="94"/><use href="#dm" x="906.2" y="102.1"/><use href="#dm" x="906.6" y="107.9"/><use href="#dm" x="906.8" y="111.1"/><use href="#dm" x="907.4" y="91.5"/><use href="#dm" x="908.2" y="107.1"/><use href="#dm" x="908.4" y="94.3"/><use href="#dm" x="909" y="94.9"/><use href="#dm" x="909.6" y="96.2"/><use href="#dm" x="910" y="97.2"/><use href="#dm" x="910.7" y="91.4"/><use href="#dm" x="910.9" y="92.5"/><use href="#dm" x="911.3" y="104.4"/><use href="#dm" x="911.8" y="111.9"/><use href="#dm" x="912.8" y="107.4"/><use href="#dm" x="913.1" y="92.2"/><use href="#dm" x="913.3" y="98.3"/><use href="#dm" x="914.1" y="115.5"/><use href="#dm" x="914.5" y="98.9"/><use href="#dm" x="915.3" y="104.3"/><use href="#dm" x="915.6" y="104.9"/><use href="#dm" x="916.1" y="110.1"/><use href="#dm" x="916.7" y="107.7"/><use href="#dm" x="917.2" y="89.9"/><use href="#dm" x="917.7" y="106.4"/><use href="#dm" x="918" y="106.1"/><use href="#dm" x="918.3" y="115.1"/><use href="#dm" x="919.2" y="101.1"/><use href="#dm" x="919.7" y="102.4"/><use href="#dm" x="920.2" y="109.7"/><use href="#dm" x="920.3" y="103.4"/><use href="#dm" x="920.9" y="103.9"/><use href="#dm" x="921.6" y="111.8"/><use href="#dm" x="921.9" y="99.4"/><use href="#dm" x="922.7" y="96.5"/><use href="#dm" x="923.3" y="102.7"/><use href="#dm" x="923.8" y="107.8"/><use href="#dm" x="923.9" y="111.1"/><use href="#dm" x="924.8" y="95.1"/><use href="#dm" x="925" y="103.7"/><use href="#dm" x="925.7" y="111.4"/><use href="#dm" x="926.2" y="102.6"/><use href="#dm" x="926.6" y="96.8"/><use href="#dm" x="927" y="103.2"/><use href="#dm" x="927.5" y="108.6"/><use href="#dm" x="928.3" y="93.3"/><use href="#dm" x="928.4" y="116.6"/><use href="#dm" x="929.1" y="109.8"/><use href="#dm" x="929.4" y="101.9"/><use href="#dm" x="929.9" y="106.4"/><use href="#dm" x="930.5" y="92.2"/><use href="#dm" x="931.2" y="105.6"/><use href="#dm" x="931.7" y="115.5"/><use href="#dm" x="932" y="95"/><use href="#dm" x="932.4" y="107.4"/><use href="#dm" x="933" y="98.7"/><use href="#dm" x="933.7" y="104.8"/><use href="#dm" x="934.2" y="108.8"/><use href="#dm" x="934.8" y="112"/><use href="#dm" x="935.2" y="100.8"/><use href="#dm" x="935.7" y="98.3"/><use href="#dm" x="936.1" y="110.5"/><use href="#dm" x="936.8" y="89"/><use href="#dm" x="937" y="108.9"/><use href="#dm" x="937.7" y="94.7"/><use href="#dm" x="938.3" y="104.2"/><use href="#dm" x="938.9" y="107.9"/><use href="#dm" x="939.1" y="106.2"/><use href="#dm" x="939.4" y="102.2"/><use href="#dm" x="940.3" y="89.9"/><use href="#dm" x="940.8" y="107.8"/><use href="#dm" x="941" y="107.4"/><use href="#dm" x="941.5" y="101.1"/><use href="#dm" x="942.3" y="94.1"/><use href="#dm" x="942.8" y="78.9"/><use href="#dm" x="940.5" y="85.9"/><use href="#dm" x="941.2" y="88.3"/><use href="#dm" x="942" y="86.3"/><use href="#dm" x="942.6" y="82.9"/><use href="#dm" x="943.4" y="89.5"/><use href="#dm" x="944.2" y="87"/><use href="#dm" x="944.3" y="85.5"/><use href="#dm" x="945.2" y="95.4"/><use href="#dm" x="945.8" y="91.8"/><use href="#dm" x="946.4" y="89.5"/><use href="#dm" x="946.7" y="83.7"/><use href="#dm" x="947.9" y="100.7"/><use href="#dm" x="948.1" y="77.6"/><use href="#dm" x="948.8" y="93"/><use href="#dm" x="949.4" y="88"/><use href="#dm" x="950.4" y="91.5"/><use href="#dm" x="950.5" y="79.8"/><use href="#dm" x="951.5" y="82.6"/><use href="#dm" x="952.1" y="90.5"/><use href="#dm" x="952.4" y="80.4"/><use href="#dm" x="953.1" y="84.3"/><use href="#dm" x="953.8" y="86.3"/><use href="#dm" x="954.3" y="88.4"/><use href="#dm" x="955.3" y="93.1"/><use href="#dm" x="955.9" y="80.4"/><use href="#dm" x="956.3" y="92.3"/><use href="#dm" x="957.3" y="81.8"/><use href="#dm" x="957.9" y="96.3"/><use href="#dm" x="958.5" y="80.3"/><use href="#dm" x="959.1" y="77.3"/><use href="#dm" x="959.8" y="91.9"/><use href="#dm" x="960" y="89.7"/><use href="#dm" x="960.5" y="89.7"/><use href="#dm" x="961.7" y="93.1"/><use href="#dm" x="962.2" y="89.9"/><use href="#dm" x="962.5" y="77.7"/><use href="#dm" x="963" y="86.4"/><use href="#dm" x="964" y="79.6"/><use href="#dm" x="964.4" y="92.6"/><use href="#dm" x="965.5" y="88.8"/><use href="#dm" x="966.1" y="92.1"/><use href="#dm" x="966.4" y="86.8"/><use href="#dm" x="967.1" y="76.3"/><use href="#dm" x="967.9" y="88.3"/><use href="#dm" x="968.2" y="91.8"/><use href="#dm" x="968.9" y="79.7"/><use href="#dm" x="969.6" y="95.2"/><use href="#dm" x="970.4" y="94.6"/><use href="#dm" x="970.9" y="89.1"/><use href="#dm" x="971.5" y="89.2"/><use href="#dm" x="972.4" y="93.1"/><use href="#dm" x="972.9" y="95.6"/><use href="#dm" x="973.6" y="93"/><use href="#dm" x="974.2" y="92.1"/><use href="#dm" x="974.4" y="86.8"/><use href="#dm" x="975" y="90.4"/><use href="#dm" x="976" y="97"/><use href="#dm" x="976.6" y="91"/><use href="#dm" x="977.2" y="85.4"/><use href="#dm" x="978.1" y="92.1"/><use href="#dm" x="965.9" y="86.6"/><use href="#dm" x="966.1" y="95.9"/><use href="#dm" x="966.7" y="83.5"/><use href="#dm" x="967.2" y="84.4"/><use href="#dm" x="967.7" y="83.9"/><use href="#dm" x="968.6" y="100.5"/><use href="#dm" x="969" y="89.1"/><use href="#dm" x="969.2" y="96.3"/><use href="#dm" x="969.7" y="95.7"/><use href="#dm" x="970.3" y="93.6"/><use href="#dm" x="970.8" y="98.1"/><use href="#dm" x="971.5" y="93.4"/><use href="#dm" x="971.9" y="94.4"/><use href="#dm" x="972.6" y="95.5"/><use href="#dm" x="973" y="87"/><use href="#dm" x="973.3" y="96.2"/><use href="#dm" x="974" y="91.6"/><use href="#dm" x="974.9" y="89.4"/><use href="#dm" x="974.9" y="84.6"/><use href="#dm" x="975.9" y="92"/><use href="#dm" x="976.4" y="91"/><use href="#dm" x="976.9" y="94.9"/><use href="#dm" x="977.3" y="93.8"/><use href="#dm" x="977.7" y="83.6"/><use href="#dm" x="978.3" y="90.6"/><use href="#dm" x="978.9" y="87.3"/><use href="#dm" x="979.3" y="96.6"/><use href="#dm" x="979.8" y="102.2"/><use href="#dm" x="980.2" y="98.7"/><use href="#dm" x="981" y="89.1"/><use href="#dm" x="981.2" y="92.8"/><use href="#dm" x="981.9" y="96.2"/><use href="#dm" x="982.2" y="100.2"/><use href="#dm" x="983.1" y="88.3"/><use href="#dm" x="983.2" y="87.5"/><use href="#dm" x="983.9" y="84.5"/><use href="#dm" x="984.5" y="84.2"/><use href="#dm" x="985.1" y="94"/><use href="#dm" x="985.5" y="86.4"/><use href="#dm" x="986" y="97.7"/><use href="#dm" x="986.3" y="97.2"/><use href="#dm" x="987.1" y="86.5"/><use href="#dm" x="987.6" y="97.2"/><use href="#dm" x="988" y="100.4"/><use href="#dm" x="988.5" y="96"/><use href="#dm" x="989.4" y="89.3"/><use href="#dm" x="989.5" y="94.1"/><use href="#dm" x="990.2" y="94.9"/><use href="#dm" x="990.6" y="84"/><use href="#dm" x="991.1" y="84.1"/><use href="#dm" x="991.6" y="95.1"/><use href="#dm" x="992.2" y="89.1"/><use href="#dm" x="992.9" y="84.7"/><use href="#dm" x="993.4" y="99.1"/><use href="#dm" x="994.1" y="93"/><use href="#dm" x="994.3" y="89.6"/><use href="#dm" x="994.8" y="97.2"/><use href="#dm" x="995.6" y="89.1"/><use href="#dm" x="995.8" y="89.7"/><use href="#dm" x="996.4" y="92.8"/><use href="#dm" x="997.1" y="97.6"/><use href="#dm" x="997.5" y="96.3"/><use href="#dm" x="998.2" y="83"/><use href="#dm" x="998.5" y="92.8"/><use href="#dm" x="999.3" y="97.1"/><use href="#dm" x="999.3" y="96.8"/><use href="#dm" x="999.8" y="95.9"/><use href="#dm" x="1000.8" y="94"/><use href="#dm" x="1000.9" y="94.3"/><use href="#dm" x="1001.5" y="96.3"/><use href="#dm" x="1002.1" y="89.5"/><use href="#dm" x="1002.6" y="87.6"/><use href="#dm" x="1003.2" y="95"/><use href="#dm" x="1003.9" y="97"/><use href="#dm" x="1004.3" y="84.1"/><use href="#dm" x="1004.9" y="104.2"/><use href="#dm" x="1005.3" y="94.7"/><use href="#dm" x="1005.9" y="89.4"/><use href="#dm" x="1006.1" y="99.6"/><use href="#dm" x="1006.7" y="85.4"/><use href="#dm" x="1007.3" y="99.1"/><use href="#dm" x="1007.6" y="83.7"/><use href="#dm" x="1008.4" y="84.8"/><use href="#dm" x="1008.7" y="92"/><use href="#dm" x="1009.6" y="83.3"/><use href="#dm" x="1009.8" y="85.6"/><use href="#dm" x="1010.6" y="85.2"/><use href="#dm" x="1010.8" y="84.3"/><use href="#dm" x="1011.6" y="90.9"/><use href="#dm" x="1012.2" y="85.7"/><use href="#dm" x="1012.7" y="78.8"/><use href="#dm" x="1013" y="98.1"/><use href="#dm" x="1013.6" y="81.7"/><use href="#dm" x="1014.3" y="83.4"/><use href="#dm" x="1014.6" y="98.4"/><use href="#dm" x="1015.2" y="80.8"/><use href="#dm" x="1015.6" y="94.8"/><use href="#dm" x="1016.3" y="83.2"/><use href="#dm" x="1016.5" y="85"/><use href="#dm" x="1017.4" y="91.7"/><use href="#dm" x="1018" y="89.8"/><use href="#dm" x="1018.1" y="80.2"/><use href="#dm" x="1018.9" y="94.5"/><use href="#dm" x="1019.4" y="84.8"/><use href="#dm" x="1019.9" y="88.5"/><use href="#dm" x="1020.3" y="77.3"/><use href="#dm" x="1020.7" y="87.3"/><use href="#dm" x="1021.6" y="94.5"/><use href="#dm" x="1021.7" y="89.1"/><use href="#dm" x="1022.2" y="81.6"/><use href="#dm" x="1022.8" y="80.8"/><use href="#dm" x="1023.3" y="92.2"/><use href="#dm" x="1023.9" y="81.2"/><use href="#dm" x="1024.4" y="96.6"/><use href="#dm" x="1025.2" y="79.4"/><use href="#dm" x="1025.4" y="83.4"/><use href="#dm" x="1026.1" y="79.2"/><use href="#dm" x="1026.8" y="82.6"/><use href="#dm" x="1027.1" y="85.6"/><use href="#dm" x="1027.6" y="84.8"/><use href="#dm" x="1028" y="83.3"/><use href="#dm" x="1028.5" y="84.6"/><use href="#dm" x="1029.4" y="91.5"/><use href="#dm" x="1029.6" y="90.6"/><use href="#dm" x="1030" y="91.2"/><use href="#dm" x="1030.5" y="93.4"/><use href="#dm" x="1031.3" y="82.3"/><use href="#dm" x="1031.6" y="85.5"/><use href="#dm" x="1032" y="89.2"/><use href="#dm" x="1032.7" y="89.7"/><use href="#dm" x="1033.4" y="82.3"/><use href="#dm" x="1033.8" y="85.1"/><use href="#dm" x="1034.4" y="90.8"/><use href="#dm" x="1035" y="88.7"/><use href="#dm" x="1035.1" y="83.9"/><use href="#dm" x="1036" y="84.3"/><use href="#dm" x="1036.4" y="91.9"/><use href="#dm" x="1037" y="90.3"/><use href="#dm" x="1037.7" y="82.2"/><use href="#dm" x="1038" y="88.3"/><use href="#dm" x="1038.7" y="87.6"/><use href="#dm" x="1039.2" y="91.3"/><use href="#dm" x="1039.6" y="75.4"/><use href="#dm" x="1039.9" y="86.1"/><use href="#dm" x="1040.5" y="77.1"/><use href="#dm" x="1040.9" y="87.4"/><use href="#dm" x="1041.4" y="72.6"/><use href="#dm" x="1042.2" y="87.7"/><use href="#dm" x="1042.9" y="77.2"/><use href="#dm" x="1043.2" y="85.1"/><use href="#dm" x="1041.1" y="91"/><use href="#dm" x="1042" y="91.6"/><use href="#dm" x="1042.1" y="83.8"/><use href="#dm" x="1043.2" y="101.3"/><use href="#dm" x="1043.6" y="94.5"/><use href="#dm" x="1044.2" y="92.9"/><use href="#dm" x="1044.8" y="84.7"/><use href="#dm" x="1045.2" y="88.8"/><use href="#dm" x="1045.8" y="91.7"/><use href="#dm" x="1046.2" y="87.8"/><use href="#dm" x="1047" y="95.1"/><use href="#dm" x="1047.3" y="84.2"/><use href="#dm" x="1048" y="95.7"/><use href="#dm" x="1048.8" y="91.5"/><use href="#dm" x="1049.5" y="86.6"/><use href="#dm" x="1050" y="90.7"/><use href="#dm" x="1050.4" y="82.5"/><use href="#dm" x="1050.9" y="90.6"/><use href="#dm" x="1051.4" y="97.1"/><use href="#dm" x="1052.3" y="94.6"/><use href="#dm" x="1052.8" y="94.6"/><use href="#dm" x="1053" y="91.5"/><use href="#dm" x="1053.8" y="83.3"/><use href="#dm" x="1054.5" y="87.4"/><use href="#dm" x="1054.9" y="87.4"/><use href="#dm" x="1055.3" y="104.7"/><use href="#dm" x="1056.3" y="99.7"/><use href="#dm" x="1056.5" y="94.7"/><use href="#dm" x="1057.5" y="99.6"/><use href="#dm" x="1057.6" y="103"/><use href="#dm" x="1058.1" y="89.3"/><use href="#dm" x="1058.9" y="102.1"/><use href="#dm" x="1059.8" y="90.9"/><use href="#dm" x="1060.2" y="84.1"/><use href="#dm" x="1060.9" y="94.1"/><use href="#dm" x="1061.5" y="80.6"/><use href="#dm" x="1061.8" y="79"/><use href="#dm" x="1062.6" y="87"/><use href="#dm" x="1062.8" y="76.7"/><use href="#dm" x="1063.6" y="94.7"/><use href="#dm" x="1063.8" y="76.9"/><use href="#dm" x="1064.6" y="75.2"/><use href="#dm" x="1065.1" y="89.4"/><use href="#dm" x="1065.7" y="75.6"/><use href="#dm" x="1066.1" y="79.4"/><use href="#dm" x="1066.4" y="85.8"/><use href="#dm" x="1066.9" y="77.2"/><use href="#dm" x="1067.7" y="79.5"/><use href="#dm" x="1068.2" y="82.7"/><use href="#dm" x="1068.7" y="78.1"/><use href="#dm" x="1069.4" y="77.5"/><use href="#dm" x="1069.8" y="90.2"/><use href="#dm" x="1070.2" y="82"/><use href="#dm" x="1070.6" y="77.5"/><use href="#dm" x="1071.2" y="86.1"/><use href="#dm" x="1072" y="77.2"/><use href="#dm" x="1072.4" y="88.2"/><use href="#dm" x="1073.2" y="80.3"/><use href="#dm" x="1073.6" y="88.6"/><use href="#dm" x="1074" y="81.9"/><use href="#dm" x="1074.6" y="83.6"/><use href="#dm" x="1075.2" y="80.8"/><use href="#dm" x="1075.7" y="81"/><use href="#dm" x="1076.3" y="85.5"/><use href="#dm" x="1076.4" y="75.8"/><use href="#dm" x="1077.1" y="85.5"/><use href="#dm" x="1077.8" y="80.1"/><use href="#dm" x="1078" y="80.2"/><use href="#dm" x="1078.5" y="84"/><use href="#dm" x="1079.3" y="83"/><use href="#dm" x="1079.6" y="71.4"/><use href="#dm" x="1080.3" y="78.9"/><use href="#dm" x="1080.7" y="72.2"/><use href="#dm" x="1081.6" y="80.6"/><use href="#dm" x="1082.1" y="73.4"/><use href="#dm" x="1082.3" y="76.4"/><use href="#dm" x="1083" y="75.5"/><use href="#dm" x="1083.5" y="85.5"/><use href="#dm" x="1083.8" y="73.6"/><use href="#dm" x="1084.6" y="80.3"/><use href="#dm" x="1085" y="74.6"/><use href="#dm" x="1085.9" y="79.5"/><use href="#dm" x="1086.3" y="77.3"/><use href="#dm" x="1086.5" y="84.1"/><use href="#dm" x="1086.9" y="86.7"/><use href="#dm" x="1087.5" y="76"/><use href="#dm" x="1088.2" y="71.3"/><use href="#dm" x="1089" y="83.8"/><use href="#dm" x="1089.2" y="80.5"/><use href="#dm" x="1089.7" y="87.3"/><use href="#dm" x="1090.3" y="88.2"/><use href="#dm" x="1090.9" y="77.8"/><use href="#dm" x="1091.5" y="76.7"/><use href="#dm" x="1092.1" y="67.5"/><use href="#dm" x="1092.5" y="85.7"/><use href="#dm" x="1092.9" y="74.4"/><use href="#dm" x="1093.5" y="80.4"/><use href="#dm" x="1093.9" y="74.4"/><use href="#dm" x="1094.6" y="78.5"/><use href="#dm" x="1095.4" y="85.9"/><use href="#dm" x="1095.5" y="71.8"/><use href="#dm" x="1096.3" y="75.4"/><use href="#dm" x="1096.5" y="75.2"/><use href="#dm" x="1097.2" y="71.7"/><use href="#dm" x="1097.9" y="76.9"/><use href="#dm" x="1098.1" y="72"/><use href="#dm" x="1098.9" y="88.3"/><use href="#dm" x="1099.1" y="77.3"/><use href="#dm" x="1099.7" y="74"/><use href="#dm" x="1100.4" y="77.4"/><use href="#dm" x="1100.8" y="73"/><use href="#dm" x="1101.5" y="75.9"/><use href="#dm" x="1102" y="72.7"/><use href="#dm" x="1102.6" y="83.3"/><use href="#dm" x="1103.1" y="74"/><use href="#dm" x="1103.5" y="77.5"/><use href="#dm" x="1104.1" y="89.7"/><use href="#dm" x="1104.5" y="76.4"/><use href="#dm" x="1105" y="70.7"/><use href="#dm" x="1105.8" y="84.7"/><use href="#dm" x="1106.5" y="82.2"/><use href="#dm" x="1107" y="82.5"/><use href="#dm" x="1107.4" y="82.5"/><use href="#dm" x="1107.9" y="77.8"/><use href="#dm" x="1108.3" y="77"/><use href="#dm" x="1108.8" y="75.2"/><use href="#dm" x="1109.2" y="78.7"/><use href="#dm" x="1109.8" y="74.4"/><use href="#dm" x="1110.2" y="77.7"/><use href="#dm" x="1110.8" y="82.7"/><use href="#dm" x="1106.5" y="91.4"/><use href="#dm" x="1107" y="92.3"/><use href="#dm" x="1107.6" y="100.6"/><use href="#dm" x="1108.2" y="97.6"/><use href="#dm" x="1108.6" y="98.1"/><use href="#dm" x="1109.5" y="96.7"/><use href="#dm" x="1109.9" y="100.7"/><use href="#dm" x="1110.4" y="97.6"/><use href="#dm" x="1110.9" y="110"/><use href="#dm" x="1111.6" y="104"/><use href="#dm" x="1112" y="97.6"/><use href="#dm" x="1112.8" y="90.3"/><use href="#dm" x="1112.9" y="102.2"/><use href="#dm" x="1113.6" y="111.3"/><use href="#dm" x="1114.1" y="97.2"/><use href="#dm" x="1114.9" y="93.1"/><use href="#dm" x="1115.4" y="97.7"/><use href="#dm" x="1115.9" y="103.7"/><use href="#dm" x="1116.5" y="109.3"/><use href="#dm" x="1117.3" y="100.2"/><use href="#dm" x="1117.8" y="107.4"/><use href="#dm" x="1118.2" y="112.2"/><use href="#dm" x="1118.8" y="105.9"/><use href="#dm" x="1119.2" y="101.2"/><use href="#dm" x="1119.7" y="104.4"/><use href="#dm" x="1120.2" y="100.6"/><use href="#dm" x="1120.7" y="96.9"/><use href="#dm" x="1121.2" y="96.6"/><use href="#dm" x="1122.1" y="103.3"/><use href="#dm" x="1122.7" y="97.9"/><use href="#dm" x="1123.3" y="115.1"/><use href="#dm" x="1123.4" y="104.5"/><use href="#dm" x="1124.4" y="108.6"/><use href="#dm" x="1124.6" y="101.2"/><use href="#dm" x="1125.2" y="111.1"/><use href="#dm" x="1126" y="103.1"/><use href="#dm" x="1126.5" y="111"/><use href="#dm" x="1127.1" y="102.4"/><use href="#dm" x="1127.6" y="98.8"/><use href="#dm" x="1127.8" y="113.2"/><use href="#dm" x="1128.9" y="108.5"/><use href="#dm" x="1129.1" y="103"/><use href="#dm" x="1130" y="115.9"/><use href="#dm" x="1130.1" y="101"/><use href="#dm" x="1131" y="108.6"/><use href="#dm" x="1131.2" y="96.2"/><use href="#dm" x="1132" y="102.8"/><use href="#dm" x="1132.4" y="108.4"/><use href="#dm" x="1133" y="110.4"/><use href="#dm" x="1133.9" y="109.1"/><use href="#dm" x="1134.2" y="90.5"/><use href="#dm" x="1134.6" y="88.1"/><use href="#dm" x="1135.8" y="94.6"/><use href="#dm" x="1135.9" y="86.2"/><use href="#dm" x="1136.9" y="96.8"/><use href="#dm" x="1137.3" y="94.1"/><use href="#dm" x="1138" y="86.1"/><use href="#dm" x="1138.5" y="93"/><use href="#dm" x="1139.2" y="102.8"/><use href="#dm" x="1139.9" y="96.2"/><use href="#dm" x="1140.7" y="98.9"/><use href="#dm" x="1141.3" y="94.1"/><use href="#dm" x="1142.1" y="89"/><use href="#dm" x="1143" y="100.1"/><use href="#dm" x="1143.6" y="86.8"/><use href="#dm" x="1143.7" y="85.7"/><use href="#dm" x="1144.4" y="96.9"/><use href="#dm" x="1145.2" y="83.3"/><use href="#dm" x="1145.8" y="91.7"/><use href="#dm" x="1146.3" y="97.4"/><use href="#dm" x="1147.5" y="89.7"/><use href="#dm" x="1148.1" y="93.5"/><use href="#dm" x="1148.3" y="71.4"/><use href="#dm" x="1149.2" y="86.5"/><use href="#dm" x="1150.1" y="92.1"/><use href="#dm" x="1150.3" y="88.3"/><use href="#dm" x="1151.3" y="83.9"/><use href="#dm" x="1151.7" y="97.5"/><use href="#dm" x="1152.4" y="87.1"/><use href="#dm" x="1153.3" y="94.1"/><use href="#dm" x="1153.8" y="83.8"/><use href="#dm" x="1154.2" y="86.8"/><use href="#dm" x="1155.1" y="89.3"/><use href="#dm" x="1155.7" y="89.7"/><use href="#dm" x="1156.7" y="95.6"/><use href="#dm" x="1156.9" y="81.7"/><use href="#dm" x="1158" y="96.7"/><use href="#dm" x="1158.2" y="92.1"/><use href="#dm" x="1158.8" y="91.4"/><use href="#dm" x="1160" y="82.2"/><use href="#dm" x="971.3" y="61.5"/><use href="#dm" x="1009.5" y="60.2"/><use href="#dm" x="1016.3" y="65.2"/><use href="#dm" x="1012" y="71.5"/><use href="#dm" x="996.9" y="75.8"/><use href="#dm" x="1029.6" y="70.3"/><use href="#dm" x="1041.7" y="49.6"/><use href="#dm" x="1044.7" y="64"/><use href="#dm" x="1074.1" y="60.7"/><use href="#dm" x="1081.1" y="66.5"/><use href="#dm" x="1063.5" y="71.5"/><use href="#dm" x="1092.4" y="69"/><use href="#dm" x="1105" y="67.7"/><use href="#dm" x="896.4" y="135.1"/><use href="#dm" x="907.7" y="135.1"/><use href="#dm" x="917.8" y="133.1"/><use href="#dm" x="927.8" y="134.3"/><use href="#dm" x="940.4" y="135.6"/><use href="#dm" x="949.2" y="140.1"/><use href="#dm" x="961.8" y="142.6"/><use href="#dm" x="975.6" y="141.1"/><use href="#dm" x="920.3" y="148.6"/><use href="#dm" x="932.9" y="148.6"/><use href="#dm" x="942.9" y="155.7"/><use href="#dm" x="958" y="149.4"/><use href="#dm" x="968" y="151.9"/><use href="#dm" x="920.8" y="157.7"/><use href="#dm" x="933.4" y="157.7"/><use href="#dm" x="945.4" y="156.9"/><use href="#dm" x="961.8" y="160.7"/><use href="#dm" x="969.3" y="156.9"/><use href="#dm" x="975.1" y="156.9"/><use href="#dm" x="897.7" y="161.2"/><use href="#dm" x="895.2" y="165.2"/><use href="#dm" x="979.3" y="180.1"/><use href="#dm" x="994.4" y="179.5"/><use href="#dm" x="997.7" y="172.5"/><use href="#dm" x="1026.3" y="189.1"/><use href="#dm" x="898.4" y="199.6"/><use href="#dm" x="953.2" y="204.2"/><use href="#dm" x="998.2" y="129.3"/><use href="#dm" x="1006.2" y="125.5"/><use href="#dm" x="1019.5" y="118"/><use href="#dm" x="988.1" y="111.7"/><use href="#dm" x="1002" y="110.5"/><use href="#dm" x="1029.6" y="105.4"/><use href="#dm" x="1044.7" y="114.2"/><use href="#dm" x="1045.9" y="107.9"/><use href="#dm" x="1061" y="114.2"/><use href="#dm" x="1067.3" y="120.5"/><use href="#dm" x="1077.3" y="104.2"/><use href="#dm" x="1091.2" y="134.3"/><use href="#dm" x="1058.5" y="149.9"/><use href="#dm" x="1123.3" y="152.4"/><use href="#dm" x="1132.6" y="131.8"/><use href="#dm" x="1155.2" y="164.5"/><use href="#dm" x="1098.7" y="107.9"/><use href="#dm" x="1103.7" y="116.7"/><use href="#dm" x="905.2" y="121.8"/><use href="#dm" x="914" y="123"/><use href="#dm" x="922.8" y="123"/><use href="#dm" x="935.4" y="123"/><use href="#dm" x="916.5" y="128"/><use href="#dm" x="970.6" y="115.5"/><use href="#dm" x="965.5" y="121.8"/><use href="#dm" x="936.6" y="124.3"/><use href="#dm" x="954.2" y="120.5"/><use href="#dm" x="958" y="121"/><use href="#dm" x="961.8" y="121.8"/><use href="#dm" x="900.2" y="115.5"/><use href="#dm" x="910.3" y="116.7"/><use href="#dm" x="925.3" y="118"/><use href="#dm" x="937.9" y="114.2"/><use href="#dm" x="1140.2" y="101.3"/><use href="#dm" x="1140.7" y="91.6"/><use href="#dm" x="1141.7" y="95.5"/><use href="#dm" x="1142.4" y="87.5"/><use href="#dm" x="1142.9" y="99"/><use href="#dm" x="1143.6" y="95.6"/><use href="#dm" x="1144" y="87.6"/><use href="#dm" x="1144.8" y="92.4"/><use href="#dm" x="1145" y="91.1"/><use href="#dm" x="1146" y="99.4"/><use href="#dm" x="1146.4" y="100.3"/><use href="#dm" x="1147.4" y="95.3"/><use href="#dm" x="1148.2" y="97.3"/><use href="#dm" x="1148.2" y="84.8"/><use href="#dm" x="1149.1" y="96.4"/><use href="#dm" x="1149.8" y="95.9"/><use href="#dm" x="1150.4" y="79.1"/><use href="#dm" x="1150.7" y="88.4"/><use href="#dm" x="1151.8" y="89.8"/><use href="#dm" x="1152.5" y="85"/><use href="#dm" x="1153" y="89.7"/><use href="#dm" x="1153.7" y="83.8"/><use href="#dm" x="1154.3" y="83.1"/><use href="#dm" x="1154.9" y="95.2"/><use href="#dm" x="1155.6" y="85.3"/><use href="#dm" x="1155.8" y="84.8"/><use href="#dm" x="1156.9" y="90.4"/><use href="#dm" x="1157.2" y="90"/><use href="#dm" x="1158" y="105.1"/><use href="#dm" x="1158.3" y="93.4"/><use href="#dm" x="1159.3" y="89.4"/><use href="#dm" x="1159.7" y="83.3"/><use href="#dm" x="1160.3" y="82"/><use href="#dm" x="1161.1" y="80"/><use href="#dm" x="1161.4" y="85"/><use href="#dm" x="1162.1" y="93.3"/><use href="#dm" x="1163" y="79.6"/><use href="#dm" x="1163.9" y="88.9"/><use href="#dm" x="1164.1" y="83"/><use href="#dm" x="1164.6" y="83.1"/><use href="#dm" x="1165.6" y="83.3"/><use href="#dm" x="1166.1" y="92.8"/><use href="#dm" x="1166.6" y="79"/><use href="#dm" x="1167.4" y="90.1"/><use href="#dm" x="1167.8" y="79.9"/><use href="#dm" x="1168.9" y="87.3"/><use href="#dm" x="1169.3" y="75"/><use href="#dm" x="1169.8" y="81.5"/><use href="#dm" x="1170.8" y="85.7"/><use href="#dm" x="1171.2" y="80.5"/><use href="#dm" x="1171.5" y="75.2"/><use href="#dm" x="1172.2" y="78.9"/><use href="#dm" x="1173.2" y="74.4"/><use href="#dm" x="1173.4" y="77"/><use href="#dm" x="1174" y="79.5"/><use href="#dm" x="1175" y="79"/><use href="#dm" x="1175.7" y="91.5"/><use href="#dm" x="1176.1" y="81.3"/><use href="#dm" x="1176.6" y="83.9"/><use href="#dm" x="1177.7" y="83.5"/><use href="#dm" x="1178.3" y="88.1"/><use href="#dm" x="1178.7" y="91.2"/><use href="#dm" x="1179" y="80.5"/><use href="#dm" x="1180" y="91.2"/><use href="#dm" x="1180.3" y="76"/><use href="#dm" x="1181.1" y="75"/><use href="#dm" x="1181.6" y="84.8"/><use href="#dm" x="1182.6" y="88.2"/><use href="#dm" x="1183.2" y="75.9"/><use href="#dm" x="1183.6" y="89.2"/><use href="#dm" x="1172.2" y="105.2"/><use href="#dm" x="1179.4" y="107.9"/><use href="#dm" x="1173.5" y="111.8"/><use href="#dm" x="1176.2" y="107.5"/><use href="#dm" x="1173.7" y="108.5"/><use href="#dm" x="1179.1" y="104.3"/><use href="#dm" x="1182.8" y="103.6"/><use href="#dm" x="1177.7" y="100.7"/><use href="#dm" x="1175" y="106.7"/><use href="#dm" x="1179.8" y="106.8"/><use href="#dm" x="1183.9" y="102.2"/><use href="#dm" x="1185.6" y="107.8"/><use href="#dm" x="1177.6" y="109.1"/><use href="#dm" x="1177.7" y="100.1"/><use href="#dm" x="1171.4" y="59.7"/><use href="#dm" x="1168.9" y="61.5"/><use href="#dm" x="1198.3" y="82.8"/><use href="#dm" x="1223.4" y="86.6"/><use href="#dm" x="1229.2" y="94.1"/><use href="#dm" x="1236" y="85.3"/><use href="#dm" x="1245.5" y="76.5"/><use href="#dm" x="1249.3" y="80.8"/><use href="#dm" x="1243" y="85.8"/><use href="#dm" x="1246.8" y="90.4"/><use href="#dm" x="1245.5" y="94.1"/><use href="#dm" x="1248" y="84.1"/><use href="#dm" x="1244.3" y="81.6"/><use href="#dm" x="1214.1" y="107.9"/><use href="#dm" x="1225.4" y="108.4"/><use href="#dm" x="1231" y="115"/><use href="#dm" x="1210.4" y="119.2"/><use href="#dm" x="1212.9" y="130.6"/><use href="#dm" x="1231.7" y="131.8"/><use href="#dm" x="1234.2" y="144.4"/><use href="#dm" x="1235.5" y="156.9"/><use href="#dm" x="1209.1" y="155.7"/><use href="#dm" x="1210.4" y="165.7"/><use href="#dm" x="1190.3" y="150.7"/><use href="#dm" x="1190.3" y="156.9"/><use href="#dm" x="1156.3" y="164.5"/><use href="#dm" x="1189" y="178.3"/><use href="#dm" x="1199" y="184.6"/><use href="#dm" x="1204.8" y="189.6"/><use href="#dm" x="1233" y="192.1"/><use href="#dm" x="1205.3" y="204.7"/><use href="#dm" x="1238" y="200.9"/><use href="#dm" x="1226.7" y="214.7"/><use href="#dm" x="1227.9" y="224.8"/><use href="#dm" x="1186" y="223"/><use href="#dm" x="1186.5" y="244.9"/><use href="#dm" x="1187.7" y="248.6"/><use href="#dm" x="1187.7" y="261.7"/><use href="#dm" x="1200.3" y="257.4"/><use href="#dm" x="1204.1" y="271.3"/><use href="#dm" x="1227.9" y="249.9"/><use href="#dm" x="1240.5" y="249.9"/><use href="#dm" x="1241" y="263.2"/><use href="#dm" x="1226.7" y="276.3"/><use href="#dm" x="1225.4" y="281.3"/><use href="#dm" x="1227.9" y="288.8"/><use href="#dm" x="1225.4" y="296.4"/><use href="#dm" x="1225.4" y="301.4"/><use href="#dm" x="1186.5" y="305.2"/><use href="#dm" x="1241.8" y="303.4"/><use href="#dm" x="1226.2" y="350.9"/><use href="#dm" x="1251.8" y="164.5"/><use href="#dm" x="1249.3" y="172"/><use href="#dm" x="1249.3" y="178.3"/><use href="#dm" x="1250.6" y="187.1"/><use href="#dm" x="1253.1" y="193.4"/><use href="#dm" x="1238" y="211"/><use href="#dm" x="1239.2" y="221"/><use href="#dm" x="1240.5" y="231.1"/><use href="#dm" x="1191.4" y="130.7"/><use href="#dm" x="1197.9" y="128.5"/><use href="#dm" x="1191.5" y="124.9"/><use href="#dm" x="1196.9" y="131.3"/><use href="#dm" x="1190.3" y="122.6"/><use href="#dm" x="1190.6" y="119.5"/><use href="#dm" x="1193.4" y="124.1"/><use href="#dm" x="1197" y="132"/><use href="#dm" x="1200.2" y="125.6"/><use href="#dm" x="1195.3" y="132.4"/><use href="#dm" x="1194.1" y="120.2"/><use href="#dm" x="1197.9" y="119.4"/><use href="#dm" x="1193.8" y="122.8"/><use href="#dm" x="1195" y="121.4"/><use href="#dm" x="1215" y="139.5"/><use href="#dm" x="1206.5" y="141.2"/><use href="#dm" x="1217.7" y="138.3"/><use href="#dm" x="1210.2" y="131.3"/><use href="#dm" x="1213.7" y="136.3"/><use href="#dm" x="1216.3" y="134.4"/><use href="#dm" x="1222.4" y="140.3"/><use href="#dm" x="1205.3" y="138.4"/><use href="#dm" x="1218.8" y="151.3"/><use href="#dm" x="1213.5" y="142.9"/><use href="#dm" x="1213.6" y="136"/><use href="#dm" x="1219.2" y="142.7"/><use href="#dm" x="1212.4" y="140.5"/><use href="#dm" x="1217" y="146.5"/><use href="#dm" x="1210.9" y="135.3"/><use href="#dm" x="1223.5" y="138.9"/><use href="#dm" x="1225" y="138.3"/><use href="#dm" x="1211.7" y="144.8"/><use href="#dm" x="1224.3" y="136.6"/><use href="#dm" x="1212.4" y="148"/><use href="#dm" x="1223.3" y="143.9"/><use href="#dm" x="1206.2" y="143.5"/><use href="#dm" x="1217.8" y="150.5"/><use href="#dm" x="1219.8" y="129.6"/><use href="#dm" x="1272.6" y="100.7"/><use href="#dm" x="1272.5" y="100.6"/><use href="#dm" x="1274.5" y="106.4"/><use href="#dm" x="1273.1" y="106.5"/><use href="#dm" x="1270.5" y="111.3"/><use href="#dm" x="1268.8" y="113"/><use href="#dm" x="1268.7" y="116.3"/><use href="#dm" x="1273.1" y="120.3"/><use href="#dm" x="1269.2" y="120.6"/><use href="#dm" x="1272" y="127.1"/><use href="#dm" x="1270.9" y="127"/><use href="#dm" x="1268.6" y="132.4"/><use href="#dm" x="1267.8" y="133.3"/><use href="#dm" x="1272.2" y="136.8"/><use href="#dm" x="1272.1" y="138.9"/><use href="#dm" x="1199.3" y="213.7"/><use href="#dm" x="1203.7" y="213.8"/><use href="#dm" x="1200" y="217.5"/><use href="#dm" x="1203.4" y="221.3"/><use href="#dm" x="1206.4" y="224.1"/><use href="#dm" x="1203.2" y="228.3"/><use href="#dm" x="1205.3" y="229"/><use href="#dm" x="1205.7" y="232.4"/><use href="#dm" x="1199.7" y="235.8"/><use href="#dm" x="1205.8" y="238.3"/><use href="#dm" x="1204.5" y="243"/><use href="#dm" x="1203.7" y="245.8"/><use href="#dm" x="1270.8" y="165.5"/><use href="#dm" x="1271.3" y="168.1"/><use href="#dm" x="1268.2" y="172.6"/><use href="#dm" x="1264.2" y="175"/><use href="#dm" x="1269.6" y="176.9"/><use href="#dm" x="1263.9" y="179.7"/><use href="#dm" x="1267.2" y="181.4"/><use href="#dm" x="1266.5" y="186"/><use href="#dm" x="1267" y="187.9"/><use href="#dm" x="1266.9" y="190.3"/><use href="#dm" x="1266.6" y="192.5"/><use href="#dm" x="1260.1" y="194.1"/><use href="#dm" x="1262.2" y="196"/><use href="#dm" x="1263.6" y="198.3"/><use href="#dm" x="1261.3" y="201.6"/><use href="#dm" x="1259.6" y="206.3"/><use href="#dm" x="1263.3" y="208.1"/><use href="#dm" x="1262.3" y="210.6"/><use href="#dm" x="1264" y="212.8"/><use href="#dm" x="1265.4" y="213.3"/><use href="#dm" x="1258.4" y="217.8"/><use href="#dm" x="1262.7" y="220.3"/><use href="#dm" x="1260.8" y="222"/><use href="#dm" x="1264.1" y="223.3"/><use href="#dm" x="1260.8" y="227.5"/><use href="#dm" x="1255.4" y="230.9"/><use href="#dm" x="1263.4" y="231"/><use href="#dm" x="1254.3" y="236.1"/><use href="#dm" x="1254" y="236.4"/><use href="#dm" x="1259.2" y="241.8"/><use href="#dm" x="1257.5" y="242.2"/><use href="#dm" x="1254.2" y="245"/>
</g><g fill="#e0a63a" fill-opacity="0.78">
<use href="#dm" x="1282.7" y="87.3"/><use href="#dm" x="1278.2" y="92.7"/><use href="#dm" x="1284.6" y="87"/><use href="#dm" x="1274.7" y="87"/><use href="#dm" x="1288.7" y="99.7"/><use href="#dm" x="1288.8" y="77.8"/><use href="#dm" x="1281.2" y="83"/><use href="#dm" x="1292.9" y="98.8"/><use href="#dm" x="1286.7" y="89.7"/><use href="#dm" x="1292.4" y="90.3"/><use href="#dm" x="1290.3" y="98.7"/><use href="#dm" x="1274.9" y="87.8"/><use href="#dm" x="1292.5" y="87.9"/><use href="#dm" x="1289.3" y="94.1"/><use href="#dm" x="1284.3" y="83"/><use href="#dm" x="1294.9" y="81.1"/><use href="#dm" x="1289.5" y="88"/><use href="#dm" x="1282.2" y="91.9"/><use href="#dm" x="1285.7" y="80.4"/><use href="#dm" x="1276.8" y="80.9"/><use href="#dm" x="1286.4" y="94.7"/><use href="#dm" x="1282.1" y="80.5"/><use href="#dm" x="1291.5" y="81.1"/><use href="#dm" x="1287.6" y="80.9"/><use href="#dm" x="1298" y="79.1"/><use href="#dm" x="1279.2" y="82.1"/><use href="#dm" x="1282" y="93.3"/><use href="#dm" x="1292.1" y="94.9"/><use href="#dm" x="1288.2" y="76.3"/><use href="#dm" x="1294.7" y="80.7"/><use href="#dm" x="1278.8" y="85.1"/><use href="#dm" x="1282.8" y="98.1"/><use href="#dm" x="1287" y="68.2"/><use href="#dm" x="1276.9" y="76.5"/><use href="#dm" x="1299.5" y="74"/><use href="#dm" x="1300.8" y="104.2"/><use href="#dm" x="1305.8" y="102.9"/><use href="#dm" x="1313.4" y="107.9"/><use href="#dm" x="1318.4" y="113"/><use href="#dm" x="1325.9" y="115.5"/><use href="#dm" x="1332.2" y="110.5"/><use href="#dm" x="1338.5" y="114.2"/><use href="#dm" x="1344.8" y="122.5"/><use href="#dm" x="1351.1" y="115"/><use href="#dm" x="1357.3" y="115.5"/><use href="#dm" x="1363.6" y="107.9"/><use href="#dm" x="1369.9" y="120.5"/><use href="#dm" x="1279.4" y="120.5"/><use href="#dm" x="1276.9" y="130.6"/><use href="#dm" x="1279.4" y="138.1"/><use href="#dm" x="1285.7" y="141.9"/><use href="#dm" x="1293.3" y="143.1"/><use href="#dm" x="1300.8" y="138.1"/><use href="#dm" x="1307.1" y="143.1"/><use href="#dm" x="1298.3" y="115.5"/><use href="#dm" x="1290.8" y="125.5"/><use href="#dm" x="1300.8" y="120.5"/><use href="#dm" x="1294.5" y="128"/><use href="#dm" x="1319.6" y="129.3"/><use href="#dm" x="1325.9" y="144.4"/><use href="#dm" x="1332.2" y="144.4"/><use href="#dm" x="1351.1" y="142.4"/><use href="#dm" x="1357.3" y="151.9"/><use href="#dm" x="1364.9" y="153.2"/><use href="#dm" x="1371.2" y="150.7"/><use href="#dm" x="1275.7" y="167.7"/><use href="#dm" x="1292" y="162"/><use href="#dm" x="1303.3" y="163.2"/><use href="#dm" x="1303.3" y="169.5"/><use href="#dm" x="1313.4" y="172"/><use href="#dm" x="1319.6" y="159.4"/><use href="#dm" x="1303.3" y="178.3"/><use href="#dm" x="1338.5" y="172"/><use href="#dm" x="1344.8" y="163.7"/><use href="#dm" x="1325.9" y="193.4"/><use href="#dm" x="1313.4" y="202.2"/><use href="#dm" x="1304.6" y="207.2"/><use href="#dm" x="1305.8" y="216"/><use href="#dm" x="1307.1" y="223.5"/><use href="#dm" x="1346" y="210.5"/><use href="#dm" x="1364.9" y="200.2"/><use href="#dm" x="1371.2" y="213.5"/><use href="#dm" x="1287" y="234.3"/><use href="#dm" x="1320.9" y="233.1"/><use href="#dm" x="1352.3" y="235.6"/><use href="#dm" x="1358.6" y="238.6"/><use href="#dm" x="1332.2" y="244.9"/><use href="#dm" x="1339.2" y="254.9"/><use href="#dm" x="1288.7" y="270.8"/><use href="#dm" x="1359.1" y="281.3"/><use href="#dm" x="1371.7" y="297.6"/><use href="#dm" x="1324.7" y="419"/><use href="#dm" x="1332.2" y="418.2"/><use href="#dm" x="1338.5" y="417.5"/><use href="#dm" x="1344" y="416.5"/><use href="#dm" x="1363.1" y="417.5"/><use href="#dm" x="1280.7" y="125.5"/><use href="#dm" x="1283.2" y="134.3"/><use href="#dm" x="1290.8" y="140.6"/><use href="#dm" x="1303.3" y="140.6"/><use href="#dm" x="1315" y="379.7"/><use href="#dm" x="1364.5" y="332.1"/><use href="#dm" x="1365.1" y="336.4"/><use href="#dm" x="1326.6" y="359"/><use href="#dm" x="1361.4" y="346.6"/><use href="#dm" x="1342.8" y="336.5"/><use href="#dm" x="1315.6" y="318.1"/><use href="#dm" x="1359.3" y="396.2"/><use href="#dm" x="1319.3" y="310.7"/><use href="#dm" x="1356.5" y="389.5"/><use href="#dm" x="1360.2" y="396.6"/><use href="#dm" x="1339.3" y="335.7"/><use href="#dm" x="1313.8" y="325.2"/><use href="#dm" x="1318.7" y="333.1"/><use href="#dm" x="1308.3" y="328.8"/><use href="#dm" x="1318.6" y="309.3"/><use href="#dm" x="1345" y="353.4"/><use href="#dm" x="1348.1" y="376.8"/><use href="#dm" x="1344.9" y="396.3"/><use href="#dm" x="1310.8" y="319.9"/><use href="#dm" x="1310.5" y="329"/><use href="#dm" x="1362.9" y="393.9"/><use href="#dm" x="1343.2" y="313.3"/><use href="#dm" x="1329.9" y="356.4"/><use href="#dm" x="1327.1" y="380"/><use href="#dm" x="1350.8" y="385.7"/><use href="#dm" x="1340.2" y="316.5"/><use href="#dm" x="1335.3" y="301.9"/><use href="#dm" x="1317.1" y="314.6"/><use href="#dm" x="1361" y="318.7"/><use href="#dm" x="1306.1" y="319.6"/><use href="#dm" x="1365.8" y="349.1"/><use href="#dm" x="1354.6" y="345.5"/><use href="#dm" x="1327.9" y="300.8"/><use href="#dm" x="1324.5" y="361.7"/><use href="#dm" x="1332.9" y="346.3"/><use href="#dm" x="1352.4" y="329.8"/><use href="#dm" x="1331.9" y="389.7"/><use href="#dm" x="1349.1" y="340.4"/><use href="#dm" x="1346" y="345"/><use href="#dm" x="1330" y="392.8"/><use href="#dm" x="1369.9" y="389.5"/><use href="#dm" x="1317" y="350.1"/><use href="#dm" x="1317.7" y="372.7"/><use href="#dm" x="1322.6" y="358"/><use href="#dm" x="1326.3" y="306.6"/><use href="#dm" x="1357.2" y="333"/><use href="#dm" x="1347.4" y="348.9"/><use href="#dm" x="1375.3" y="350.6"/><use href="#dm" x="1342.6" y="324.8"/><use href="#dm" x="1348.6" y="363.1"/><use href="#dm" x="1340" y="305.9"/><use href="#dm" x="1342.7" y="347.2"/><use href="#dm" x="1353.7" y="398.8"/><use href="#dm" x="1326" y="343.1"/><use href="#dm" x="1311.1" y="380.8"/><use href="#dm" x="1322.5" y="383.9"/><use href="#dm" x="1365.7" y="323.3"/><use href="#dm" x="1373.8" y="349.6"/><use href="#dm" x="1337.2" y="355"/><use href="#dm" x="1341.5" y="327"/><use href="#dm" x="1369" y="349.5"/><use href="#dm" x="1330.8" y="317.1"/><use href="#dm" x="1321.1" y="384.4"/><use href="#dm" x="1366.1" y="399.7"/><use href="#dm" x="1374.9" y="368.7"/><use href="#dm" x="1365.7" y="371.5"/><use href="#dm" x="1366.6" y="380.9"/><use href="#dm" x="1318.1" y="382.4"/><use href="#dm" x="1327.8" y="322.1"/><use href="#dm" x="1343.8" y="332.6"/><use href="#dm" x="1365.2" y="360.8"/><use href="#dm" x="1374.4" y="394.8"/><use href="#dm" x="1353.9" y="303.2"/><use href="#dm" x="1355.7" y="307.9"/><use href="#dm" x="1379.8" y="388.3"/><use href="#dm" x="1328.4" y="316"/><use href="#dm" x="1357.8" y="376.4"/><use href="#dm" x="1314.2" y="373.1"/><use href="#dm" x="1363.5" y="379.3"/><use href="#dm" x="1371.5" y="356.4"/><use href="#dm" x="1376.9" y="363.8"/><use href="#dm" x="1342.3" y="337"/><use href="#dm" x="1331.7" y="298.8"/><use href="#dm" x="1316.9" y="380.3"/><use href="#dm" x="1322.1" y="365.4"/><use href="#dm" x="1364" y="369.7"/><use href="#dm" x="1344.1" y="329.7"/><use href="#dm" x="1325.5" y="316.2"/><use href="#dm" x="1354.2" y="368.8"/><use href="#dm" x="1375.6" y="392.6"/><use href="#dm" x="1352" y="398"/><use href="#dm" x="1363.9" y="331.6"/><use href="#dm" x="1326" y="351.5"/><use href="#dm" x="1342" y="300.1"/><use href="#dm" x="1370.7" y="352.9"/><use href="#dm" x="1340.8" y="375"/><use href="#dm" x="1323.7" y="317.4"/><use href="#dm" x="1349.1" y="321.8"/><use href="#dm" x="1329.7" y="303.8"/><use href="#dm" x="1308.6" y="333.9"/><use href="#dm" x="1345" y="396.5"/><use href="#dm" x="1353.6" y="340.1"/><use href="#dm" x="1335.7" y="321.2"/><use href="#dm" x="1340.9" y="397.6"/><use href="#dm" x="1313.9" y="342.1"/><use href="#dm" x="1357.1" y="376.8"/><use href="#dm" x="1347.1" y="364"/><use href="#dm" x="1376.5" y="391.6"/><use href="#dm" x="1323.8" y="353.5"/><use href="#dm" x="1319.1" y="377.2"/><use href="#dm" x="1308.9" y="312.2"/><use href="#dm" x="1346.8" y="325.1"/><use href="#dm" x="1359.7" y="373.1"/><use href="#dm" x="1329" y="377.3"/><use href="#dm" x="1349.9" y="360.4"/><use href="#dm" x="1338.4" y="352.1"/><use href="#dm" x="1317.3" y="353.4"/><use href="#dm" x="1327.1" y="360"/><use href="#dm" x="1337.2" y="343"/><use href="#dm" x="1336.5" y="356.4"/><use href="#dm" x="1355.7" y="351.2"/><use href="#dm" x="1350" y="359.6"/><use href="#dm" x="1348" y="340.5"/><use href="#dm" x="1353.7" y="343"/><use href="#dm" x="1314.2" y="353.4"/><use href="#dm" x="1334.4" y="353.2"/><use href="#dm" x="1362.2" y="353.8"/><use href="#dm" x="1346.3" y="348.6"/><use href="#dm" x="1329.2" y="345.8"/><use href="#dm" x="1363.1" y="354.4"/><use href="#dm" x="1335.6" y="351.1"/><use href="#dm" x="1364.3" y="346.9"/><use href="#dm" x="1358.6" y="360.4"/><use href="#dm" x="1337.9" y="350.1"/><use href="#dm" x="1337.2" y="352.8"/><use href="#dm" x="1329.9" y="357.9"/><use href="#dm" x="1335.6" y="348.3"/><use href="#dm" x="1357.5" y="352.8"/><use href="#dm" x="1339.4" y="365.6"/><use href="#dm" x="1338.3" y="350.4"/><use href="#dm" x="1358.2" y="351.2"/><use href="#dm" x="1351.3" y="361.4"/>
</g>
</g>
<g id="cube_c">
<path d="M46.8 745L54.4 1043.8M35.4 778.7L64 767M38 864L64 852.5M40.5 948L66 938M43 1031.6L70 1023.5M101.3 722.3L102.5 748M153.7 700.8L154.4 727M203.3 680L204 706M241.3 675.4L241.8 698M319 686L319.5 709M398.4 697.8L398.8 720M480 709.4L480.4 731M497 739L523 743.2M496 822.5L521 826.4M495 904L519.6 908.1M493.3 984L517.6 988.7M466 1010.9L502.4 1017.4M419.4 1039.7L457.9 1046.2M374.9 1068L413.4 1076.1M54.4 1043.8L360.7 1106.5M58.2 1055.7L86 1039.2M136.7 1072.2L172.2 1051.9M220.3 1088.6L250.6 1070.9M301.3 1106.3L334.4 1087.2" stroke="#b4b4b4" stroke-width="2.8" fill="none"/><path d="M43 1049.4L352.6 1114L516.6 1005.3L524.6 715.4M523 743.2L532.1 744.8M521 826.4L529.5 827.8M519.6 908.1L527.5 909.5M517.6 988.7L525.5 990.2M502.4 1017.4L507.5 1018.4M457.9 1046.2L464 1047.4M413.4 1076.1L418.6 1077.3M360.7 1106.5L370.9 1108.5M58.2 1055.7L62.5 1053.2M136.7 1072.2L141 1069.7M220.3 1088.6L224.5 1086.1M301.3 1106.3L305.5 1103.8" stroke="#111" stroke-width="1" fill="none"/>
<defs><linearGradient id="cbk" gradientUnits="userSpaceOnUse" x1="66.5" y1="0" x2="344" y2="0"><stop offset="0%" stop-color="#573ffd"/><stop offset="5%" stop-color="#5444fd"/><stop offset="10%" stop-color="#4659fb"/><stop offset="15%" stop-color="#2981f6"/><stop offset="20%" stop-color="#218cf4"/><stop offset="25%" stop-color="#1996f3"/><stop offset="30%" stop-color="#11c6e6"/><stop offset="35%" stop-color="#1acfe3"/><stop offset="40%" stop-color="#23d7e0"/><stop offset="45%" stop-color="#40ecd4"/><stop offset="50%" stop-color="#5ef9c6"/><stop offset="55%" stop-color="#69fdc0"/><stop offset="60%" stop-color="#74feba"/><stop offset="65%" stop-color="#80ffb4"/><stop offset="70%" stop-color="#a7f79d"/><stop offset="75%" stop-color="#bded8f"/><stop offset="80%" stop-color="#ddd679"/><stop offset="85%" stop-color="#e2d176"/><stop offset="90%" stop-color="#e8cc72"/><stop offset="95%" stop-color="#ffb05f"/><stop offset="100%" stop-color="#ff964f"/></linearGradient><linearGradient id="cbt" gradientUnits="userSpaceOnUse" x1="148.25" y1="0" x2="419.5" y2="0"><stop offset="0%" stop-color="#5345fd"/><stop offset="5%" stop-color="#2f79f7"/><stop offset="10%" stop-color="#1f8ff4"/><stop offset="15%" stop-color="#169af2"/><stop offset="20%" stop-color="#0abfe9"/><stop offset="25%" stop-color="#17cce4"/><stop offset="30%" stop-color="#1dd1e2"/><stop offset="35%" stop-color="#33e3da"/><stop offset="40%" stop-color="#56f7ca"/><stop offset="45%" stop-color="#65fcc2"/><stop offset="50%" stop-color="#76ffb9"/><stop offset="55%" stop-color="#91fdaa"/><stop offset="60%" stop-color="#b7f093"/><stop offset="65%" stop-color="#ddd579"/><stop offset="70%" stop-color="#e5cf74"/><stop offset="75%" stop-color="#e6ce73"/><stop offset="80%" stop-color="#f2c26b"/><stop offset="85%" stop-color="#ffa155"/><stop offset="90%" stop-color="#ff7e41"/><stop offset="95%" stop-color="#ff542b"/><stop offset="100%" stop-color="#ff4121"/></linearGradient></defs><polygon points="66.5,764 230,698 495,735 344,803" fill="url(#cbt)"/><polygon points="344,803 495,735 491,990.5 343.5,1084.7" fill="#ff4a26"/><polygon points="66.5,764 344,803 343.5,1084.7 73,1029.5" fill="url(#cbk)"/>
<g id="cubec">
<circle cx="230" cy="698" r="4.7" fill="#2e7bf7"/><circle cx="238" cy="699.1" r="4.7" fill="#2586f5"/><circle cx="246.1" cy="700.2" r="4.7" fill="#1d91f3"/><circle cx="254.1" cy="701.4" r="4.7" fill="#169bf2"/><circle cx="262.1" cy="702.5" r="4.7" fill="#02b2ec"/><circle cx="270.2" cy="703.6" r="4.7" fill="#19cee3"/><circle cx="278.2" cy="704.7" r="4.7" fill="#1ed2e2"/><circle cx="286.2" cy="705.8" r="4.7" fill="#22d6e0"/><circle cx="294.2" cy="707" r="4.7" fill="#26d9df"/><circle cx="302.3" cy="708.1" r="4.7" fill="#3ae8d6"/><circle cx="310.3" cy="709.2" r="4.7" fill="#55f6ca"/><circle cx="318.3" cy="710.3" r="4.7" fill="#5bf9c7"/><circle cx="326.4" cy="711.5" r="4.7" fill="#63fbc4"/><circle cx="334.4" cy="712.6" r="4.7" fill="#6bfdbf"/><circle cx="342.4" cy="713.7" r="4.7" fill="#75feba"/><circle cx="350.5" cy="714.8" r="4.7" fill="#89ffaf"/><circle cx="358.5" cy="715.9" r="4.7" fill="#a7f89d"/><circle cx="366.5" cy="717.1" r="4.7" fill="#b9ef92"/><circle cx="374.5" cy="718.2" r="4.7" fill="#dad87c"/><circle cx="382.6" cy="719.3" r="4.7" fill="#e5cf74"/><circle cx="390.6" cy="720.4" r="4.7" fill="#eaca71"/><circle cx="398.6" cy="721.5" r="4.7" fill="#edc76e"/><circle cx="406.7" cy="722.7" r="4.7" fill="#f0c46c"/><circle cx="414.7" cy="723.8" r="4.7" fill="#ffa256"/><circle cx="422.7" cy="724.9" r="4.7" fill="#ff964f"/><circle cx="430.8" cy="726" r="4.7" fill="#ff8344"/><circle cx="438.8" cy="727.2" r="4.7" fill="#ff6e38"/><circle cx="446.8" cy="728.3" r="4.7" fill="#ff572c"/><circle cx="454.8" cy="729.4" r="4.7" fill="#ff5129"/><circle cx="462.9" cy="730.5" r="4.7" fill="#ff4925"/><circle cx="470.9" cy="731.6" r="4.7" fill="#ff4020"/><circle cx="478.9" cy="732.8" r="4.7" fill="#ff351a"/><circle cx="487" cy="733.9" r="4.7" fill="#ff2814"/><circle cx="495" cy="735" r="4.7" fill="#ff2010"/><circle cx="221.4" cy="701.5" r="4.7" fill="#3d66fa"/><circle cx="229.4" cy="702.6" r="4.7" fill="#2f79f7"/><circle cx="237.5" cy="703.7" r="4.7" fill="#2883f6"/><circle cx="245.5" cy="704.8" r="4.7" fill="#1f8ef4"/><circle cx="253.6" cy="706" r="4.7" fill="#10a2f0"/><circle cx="261.6" cy="707.1" r="4.7" fill="#14c9e5"/><circle cx="269.7" cy="708.2" r="4.7" fill="#1dd1e2"/><circle cx="277.7" cy="709.3" r="4.7" fill="#25d8df"/><circle cx="285.8" cy="710.5" r="4.7" fill="#2bdddd"/><circle cx="293.8" cy="711.6" r="4.7" fill="#39e7d7"/><circle cx="301.9" cy="712.7" r="4.7" fill="#5cf9c7"/><circle cx="309.9" cy="713.8" r="4.7" fill="#62fbc4"/><circle cx="318" cy="715" r="4.7" fill="#67fcc1"/><circle cx="326" cy="716.1" r="4.7" fill="#6dfdbf"/><circle cx="334.1" cy="717.2" r="4.7" fill="#72febb"/><circle cx="342.1" cy="718.3" r="4.7" fill="#7cffb6"/><circle cx="350.2" cy="719.5" r="4.7" fill="#9cfba4"/><circle cx="358.2" cy="720.6" r="4.7" fill="#acf69a"/><circle cx="366.3" cy="721.7" r="4.7" fill="#c4e88a"/><circle cx="374.3" cy="722.8" r="4.7" fill="#dad87b"/><circle cx="382.4" cy="724" r="4.7" fill="#e1d277"/><circle cx="390.4" cy="725.1" r="4.7" fill="#e7cc72"/><circle cx="398.5" cy="726.2" r="4.7" fill="#eec76e"/><circle cx="406.6" cy="727.3" r="4.7" fill="#ffb260"/><circle cx="414.6" cy="728.5" r="4.7" fill="#ff934d"/><circle cx="422.7" cy="729.6" r="4.7" fill="#ff8344"/><circle cx="430.7" cy="730.7" r="4.7" fill="#ff6b37"/><circle cx="438.8" cy="731.8" r="4.7" fill="#ff542a"/><circle cx="446.8" cy="733" r="4.7" fill="#ff4925"/><circle cx="454.9" cy="734.1" r="4.7" fill="#ff4523"/><circle cx="462.9" cy="735.2" r="4.7" fill="#ff4020"/><circle cx="471" cy="736.3" r="4.7" fill="#ff3b1d"/><circle cx="479" cy="737.5" r="4.7" fill="#ff341a"/><circle cx="487.1" cy="738.6" r="4.7" fill="#ff2b16"/><circle cx="212.8" cy="704.9" r="4.7" fill="#4160fa"/><circle cx="220.9" cy="706.1" r="4.7" fill="#3078f7"/><circle cx="228.9" cy="707.2" r="4.7" fill="#2c7ef7"/><circle cx="237" cy="708.3" r="4.7" fill="#2785f6"/><circle cx="245.1" cy="709.5" r="4.7" fill="#208df4"/><circle cx="253.1" cy="710.6" r="4.7" fill="#06bbea"/><circle cx="261.2" cy="711.7" r="4.7" fill="#12c8e6"/><circle cx="269.3" cy="712.8" r="4.7" fill="#1cd0e2"/><circle cx="277.4" cy="714" r="4.7" fill="#25d8df"/><circle cx="285.4" cy="715.1" r="4.7" fill="#2ee0db"/><circle cx="293.5" cy="716.2" r="4.7" fill="#58f7c9"/><circle cx="301.6" cy="717.4" r="4.7" fill="#65fcc2"/><circle cx="309.6" cy="718.5" r="4.7" fill="#6dfdbe"/><circle cx="317.7" cy="719.6" r="4.7" fill="#73febb"/><circle cx="325.8" cy="720.7" r="4.7" fill="#79ffb8"/><circle cx="333.8" cy="721.9" r="4.7" fill="#7fffb5"/><circle cx="341.9" cy="723" r="4.7" fill="#97fca7"/><circle cx="350" cy="724.1" r="4.7" fill="#a9f79c"/><circle cx="358.1" cy="725.2" r="4.7" fill="#b6f193"/><circle cx="366.1" cy="726.4" r="4.7" fill="#d4dd80"/><circle cx="374.2" cy="727.5" r="4.7" fill="#d8da7d"/><circle cx="382.3" cy="728.6" r="4.7" fill="#ddd67a"/><circle cx="390.3" cy="729.8" r="4.7" fill="#e3d176"/><circle cx="398.4" cy="730.9" r="4.7" fill="#e9cb71"/><circle cx="406.5" cy="732" r="4.7" fill="#ff9f54"/><circle cx="414.5" cy="733.1" r="4.7" fill="#ff904b"/><circle cx="422.6" cy="734.3" r="4.7" fill="#ff753c"/><circle cx="430.7" cy="735.4" r="4.7" fill="#ff592d"/><circle cx="438.8" cy="736.5" r="4.7" fill="#ff4221"/><circle cx="446.8" cy="737.6" r="4.7" fill="#ff3b1e"/><circle cx="454.9" cy="738.8" r="4.7" fill="#ff351b"/><circle cx="463" cy="739.9" r="4.7" fill="#ff3119"/><circle cx="471" cy="741" r="4.7" fill="#ff2d17"/><circle cx="479.1" cy="742.2" r="4.7" fill="#ff2915"/><circle cx="204.2" cy="708.4" r="4.7" fill="#3f63fa"/><circle cx="212.3" cy="709.6" r="4.7" fill="#2883f6"/><circle cx="220.4" cy="710.7" r="4.7" fill="#2587f5"/><circle cx="228.5" cy="711.8" r="4.7" fill="#238af5"/><circle cx="236.5" cy="712.9" r="4.7" fill="#208ef4"/><circle cx="244.6" cy="714.1" r="4.7" fill="#04b0ed"/><circle cx="252.7" cy="715.2" r="4.7" fill="#0cc1e8"/><circle cx="260.8" cy="716.3" r="4.7" fill="#13c8e6"/><circle cx="268.9" cy="717.5" r="4.7" fill="#1acfe3"/><circle cx="277" cy="718.6" r="4.7" fill="#23d7e0"/><circle cx="285.1" cy="719.7" r="4.7" fill="#44eed2"/><circle cx="293.2" cy="720.9" r="4.7" fill="#5df9c6"/><circle cx="301.3" cy="722" r="4.7" fill="#68fcc1"/><circle cx="309.4" cy="723.1" r="4.7" fill="#72febc"/><circle cx="317.4" cy="724.3" r="4.7" fill="#7bffb7"/><circle cx="325.5" cy="725.4" r="4.7" fill="#83ffb2"/><circle cx="333.6" cy="726.5" r="4.7" fill="#96fda8"/><circle cx="341.7" cy="727.6" r="4.7" fill="#adf599"/><circle cx="349.8" cy="728.8" r="4.7" fill="#baef91"/><circle cx="357.9" cy="729.9" r="4.7" fill="#d4dd80"/><circle cx="366" cy="731" r="4.7" fill="#dbd87b"/><circle cx="374.1" cy="732.2" r="4.7" fill="#dcd77a"/><circle cx="382.2" cy="733.3" r="4.7" fill="#ded579"/><circle cx="390.3" cy="734.4" r="4.7" fill="#e1d277"/><circle cx="398.3" cy="735.6" r="4.7" fill="#fdb763"/><circle cx="406.4" cy="736.7" r="4.7" fill="#ffa155"/><circle cx="414.5" cy="737.8" r="4.7" fill="#ff8b48"/><circle cx="422.6" cy="739" r="4.7" fill="#ff6e39"/><circle cx="430.7" cy="740.1" r="4.7" fill="#ff5029"/><circle cx="438.8" cy="741.2" r="4.7" fill="#ff4020"/><circle cx="446.9" cy="742.3" r="4.7" fill="#ff351b"/><circle cx="455" cy="743.5" r="4.7" fill="#ff2c16"/><circle cx="463.1" cy="744.6" r="4.7" fill="#ff2512"/><circle cx="471.2" cy="745.7" r="4.7" fill="#ff1e0f"/><circle cx="195.6" cy="711.9" r="4.7" fill="#4659fb"/><circle cx="203.7" cy="713" r="4.7" fill="#2587f5"/><circle cx="211.8" cy="714.2" r="4.7" fill="#1f8ef4"/><circle cx="219.9" cy="715.3" r="4.7" fill="#1b94f3"/><circle cx="228" cy="716.4" r="4.7" fill="#1799f2"/><circle cx="236.1" cy="717.6" r="4.7" fill="#03b1ec"/><circle cx="244.2" cy="718.7" r="4.7" fill="#11c6e6"/><circle cx="252.3" cy="719.8" r="4.7" fill="#15cae5"/><circle cx="260.5" cy="721" r="4.7" fill="#19cee3"/><circle cx="268.6" cy="722.1" r="4.7" fill="#1ed2e2"/><circle cx="276.7" cy="723.2" r="4.7" fill="#33e3d9"/><circle cx="284.8" cy="724.4" r="4.7" fill="#52f5cc"/><circle cx="292.9" cy="725.5" r="4.7" fill="#5cf9c7"/><circle cx="301" cy="726.6" r="4.7" fill="#66fcc2"/><circle cx="309.1" cy="727.8" r="4.7" fill="#71febc"/><circle cx="317.2" cy="728.9" r="4.7" fill="#7cffb6"/><circle cx="325.3" cy="730" r="4.7" fill="#8afeae"/><circle cx="333.4" cy="731.2" r="4.7" fill="#abf69b"/><circle cx="341.6" cy="732.3" r="4.7" fill="#baee91"/><circle cx="349.7" cy="733.4" r="4.7" fill="#cfe183"/><circle cx="357.8" cy="734.6" r="4.7" fill="#e3d176"/><circle cx="365.9" cy="735.7" r="4.7" fill="#e4d075"/><circle cx="374" cy="736.8" r="4.7" fill="#e5cf74"/><circle cx="382.1" cy="738" r="4.7" fill="#e5cf74"/><circle cx="390.2" cy="739.1" r="4.7" fill="#eec66e"/><circle cx="398.3" cy="740.2" r="4.7" fill="#ffa759"/><circle cx="406.4" cy="741.4" r="4.7" fill="#ff9b52"/><circle cx="414.6" cy="742.5" r="4.7" fill="#ff8344"/><circle cx="422.7" cy="743.6" r="4.7" fill="#ff6936"/><circle cx="430.8" cy="744.8" r="4.7" fill="#ff5229"/><circle cx="438.9" cy="745.9" r="4.7" fill="#ff4623"/><circle cx="447" cy="747" r="4.7" fill="#ff391d"/><circle cx="455.1" cy="748.2" r="4.7" fill="#ff2d16"/><circle cx="463.2" cy="749.3" r="4.7" fill="#ff2111"/><circle cx="187" cy="715.4" r="4.7" fill="#5443fd"/><circle cx="195.1" cy="716.5" r="4.7" fill="#2d7cf7"/><circle cx="203.2" cy="717.6" r="4.7" fill="#2587f5"/><circle cx="211.4" cy="718.8" r="4.7" fill="#1d91f3"/><circle cx="219.5" cy="719.9" r="4.7" fill="#169af2"/><circle cx="227.6" cy="721.1" r="4.7" fill="#05aeed"/><circle cx="235.8" cy="722.2" r="4.7" fill="#18cde4"/><circle cx="243.9" cy="723.3" r="4.7" fill="#1cd1e2"/><circle cx="252" cy="724.5" r="4.7" fill="#20d4e1"/><circle cx="260.1" cy="725.6" r="4.7" fill="#24d7df"/><circle cx="268.3" cy="726.7" r="4.7" fill="#2ddfdc"/><circle cx="276.4" cy="727.9" r="4.7" fill="#52f5cc"/><circle cx="284.5" cy="729" r="4.7" fill="#58f7c9"/><circle cx="292.7" cy="730.2" r="4.7" fill="#5ffac5"/><circle cx="300.8" cy="731.3" r="4.7" fill="#67fcc1"/><circle cx="308.9" cy="732.4" r="4.7" fill="#70febc"/><circle cx="317.1" cy="733.6" r="4.7" fill="#7affb7"/><circle cx="325.2" cy="734.7" r="4.7" fill="#99fca6"/><circle cx="333.3" cy="735.8" r="4.7" fill="#aff498"/><circle cx="341.4" cy="737" r="4.7" fill="#c1eb8d"/><circle cx="349.6" cy="738.1" r="4.7" fill="#e2d176"/><circle cx="357.7" cy="739.2" r="4.7" fill="#e7cd73"/><circle cx="365.8" cy="740.4" r="4.7" fill="#eaca70"/><circle cx="374" cy="741.5" r="4.7" fill="#edc76f"/><circle cx="382.1" cy="742.7" r="4.7" fill="#eec66e"/><circle cx="390.2" cy="743.8" r="4.7" fill="#ffa457"/><circle cx="398.4" cy="744.9" r="4.7" fill="#ff9a51"/><circle cx="406.5" cy="746.1" r="4.7" fill="#ff8947"/><circle cx="414.6" cy="747.2" r="4.7" fill="#ff743b"/><circle cx="422.7" cy="748.3" r="4.7" fill="#ff5c2f"/><circle cx="430.9" cy="749.5" r="4.7" fill="#ff532a"/><circle cx="439" cy="750.6" r="4.7" fill="#ff4a25"/><circle cx="447.1" cy="751.8" r="4.7" fill="#ff3f20"/><circle cx="455.3" cy="752.9" r="4.7" fill="#ff331a"/><circle cx="178.4" cy="718.8" r="4.7" fill="#5a3bfd"/><circle cx="186.5" cy="720" r="4.7" fill="#396bf9"/><circle cx="194.7" cy="721.1" r="4.7" fill="#2f79f7"/><circle cx="202.8" cy="722.3" r="4.7" fill="#2784f6"/><circle cx="211" cy="723.4" r="4.7" fill="#1f8ff4"/><circle cx="219.1" cy="724.5" r="4.7" fill="#139ef1"/><circle cx="227.3" cy="725.7" r="4.7" fill="#13c8e6"/><circle cx="235.4" cy="726.8" r="4.7" fill="#1cd0e2"/><circle cx="243.6" cy="728" r="4.7" fill="#23d7e0"/><circle cx="251.7" cy="729.1" r="4.7" fill="#29dcdd"/><circle cx="259.9" cy="730.2" r="4.7" fill="#2fe0db"/><circle cx="268" cy="731.4" r="4.7" fill="#51f5cc"/><circle cx="276.2" cy="732.5" r="4.7" fill="#5efac6"/><circle cx="284.3" cy="733.7" r="4.7" fill="#63fbc3"/><circle cx="292.5" cy="734.8" r="4.7" fill="#68fcc1"/><circle cx="300.6" cy="735.9" r="4.7" fill="#6efdbe"/><circle cx="308.8" cy="737.1" r="4.7" fill="#74feba"/><circle cx="316.9" cy="738.2" r="4.7" fill="#88ffb0"/><circle cx="325.1" cy="739.4" r="4.7" fill="#a2f9a0"/><circle cx="333.2" cy="740.5" r="4.7" fill="#b2f396"/><circle cx="341.4" cy="741.6" r="4.7" fill="#d0e083"/><circle cx="349.5" cy="742.8" r="4.7" fill="#ded579"/><circle cx="357.7" cy="743.9" r="4.7" fill="#e5cf74"/><circle cx="365.8" cy="745.1" r="4.7" fill="#ebca70"/><circle cx="374" cy="746.2" r="4.7" fill="#f0c56d"/><circle cx="382.1" cy="747.4" r="4.7" fill="#ffb15f"/><circle cx="390.3" cy="748.5" r="4.7" fill="#ff944e"/><circle cx="398.4" cy="749.6" r="4.7" fill="#ff8746"/><circle cx="406.6" cy="750.8" r="4.7" fill="#ff723a"/><circle cx="414.7" cy="751.9" r="4.7" fill="#ff5d2f"/><circle cx="422.9" cy="753.1" r="4.7" fill="#ff4f28"/><circle cx="431" cy="754.2" r="4.7" fill="#ff4b26"/><circle cx="439.2" cy="755.3" r="4.7" fill="#ff4623"/><circle cx="447.3" cy="756.5" r="4.7" fill="#ff3f20"/><circle cx="169.8" cy="722.3" r="4.7" fill="#5444fd"/><circle cx="177.9" cy="723.5" r="4.7" fill="#3e64fa"/><circle cx="186.1" cy="724.6" r="4.7" fill="#3078f7"/><circle cx="194.3" cy="725.7" r="4.7" fill="#2c7df7"/><circle cx="202.4" cy="726.9" r="4.7" fill="#2784f6"/><circle cx="210.6" cy="728" r="4.7" fill="#218cf4"/><circle cx="218.8" cy="729.2" r="4.7" fill="#01b5eb"/><circle cx="227" cy="730.3" r="4.7" fill="#11c7e6"/><circle cx="235.1" cy="731.5" r="4.7" fill="#1bcfe3"/><circle cx="243.3" cy="732.6" r="4.7" fill="#24d7e0"/><circle cx="251.5" cy="733.8" r="4.7" fill="#2cdedc"/><circle cx="259.6" cy="734.9" r="4.7" fill="#48f0d0"/><circle cx="267.8" cy="736" r="4.7" fill="#62fbc4"/><circle cx="276" cy="737.2" r="4.7" fill="#69fdc0"/><circle cx="284.1" cy="738.3" r="4.7" fill="#6ffebd"/><circle cx="292.3" cy="739.5" r="4.7" fill="#74feba"/><circle cx="300.5" cy="740.6" r="4.7" fill="#79ffb8"/><circle cx="308.7" cy="741.8" r="4.7" fill="#82ffb3"/><circle cx="316.8" cy="742.9" r="4.7" fill="#9efaa3"/><circle cx="325" cy="744" r="4.7" fill="#abf69b"/><circle cx="333.2" cy="745.2" r="4.7" fill="#beed8f"/><circle cx="341.3" cy="746.3" r="4.7" fill="#d5dc7f"/><circle cx="349.5" cy="747.5" r="4.7" fill="#dad87c"/><circle cx="357.7" cy="748.6" r="4.7" fill="#e0d378"/><circle cx="365.8" cy="749.8" r="4.7" fill="#e6ce73"/><circle cx="374" cy="750.9" r="4.7" fill="#ecc86f"/><circle cx="382.2" cy="752" r="4.7" fill="#ff9c52"/><circle cx="390.3" cy="753.2" r="4.7" fill="#ff8e4a"/><circle cx="398.5" cy="754.3" r="4.7" fill="#ff763d"/><circle cx="406.7" cy="755.5" r="4.7" fill="#ff5e30"/><circle cx="414.9" cy="756.6" r="4.7" fill="#ff4523"/><circle cx="423" cy="757.8" r="4.7" fill="#ff4121"/><circle cx="431.2" cy="758.9" r="4.7" fill="#ff3d1f"/><circle cx="439.4" cy="760.1" r="4.7" fill="#ff391d"/><circle cx="161.2" cy="725.8" r="4.7" fill="#4c50fc"/><circle cx="169.3" cy="726.9" r="4.7" fill="#3c66fa"/><circle cx="177.5" cy="728.1" r="4.7" fill="#2883f6"/><circle cx="185.7" cy="729.2" r="4.7" fill="#2686f5"/><circle cx="193.9" cy="730.4" r="4.7" fill="#2389f5"/><circle cx="202.1" cy="731.5" r="4.7" fill="#208df4"/><circle cx="210.3" cy="732.7" r="4.7" fill="#0aa9ee"/><circle cx="218.5" cy="733.8" r="4.7" fill="#0bc0e8"/><circle cx="226.7" cy="735" r="4.7" fill="#11c6e6"/><circle cx="234.9" cy="736.1" r="4.7" fill="#19cee3"/><circle cx="243.1" cy="737.3" r="4.7" fill="#21d5e0"/><circle cx="251.2" cy="738.4" r="4.7" fill="#35e5d9"/><circle cx="259.4" cy="739.6" r="4.7" fill="#5af8c8"/><circle cx="267.6" cy="740.7" r="4.7" fill="#64fbc3"/><circle cx="275.8" cy="741.8" r="4.7" fill="#6efdbe"/><circle cx="284" cy="743" r="4.7" fill="#76ffb9"/><circle cx="292.2" cy="744.1" r="4.7" fill="#7effb5"/><circle cx="300.4" cy="745.3" r="4.7" fill="#84ffb2"/><circle cx="308.6" cy="746.4" r="4.7" fill="#9dfba3"/><circle cx="316.8" cy="747.6" r="4.7" fill="#aef599"/><circle cx="325" cy="748.7" r="4.7" fill="#baef91"/><circle cx="333.1" cy="749.9" r="4.7" fill="#d7db7e"/><circle cx="341.3" cy="751" r="4.7" fill="#d9da7d"/><circle cx="349.5" cy="752.2" r="4.7" fill="#dbd87b"/><circle cx="357.7" cy="753.3" r="4.7" fill="#ded579"/><circle cx="365.9" cy="754.5" r="4.7" fill="#e2d176"/><circle cx="374.1" cy="755.6" r="4.7" fill="#fcb864"/><circle cx="382.3" cy="756.8" r="4.7" fill="#ff9e54"/><circle cx="390.5" cy="757.9" r="4.7" fill="#ff8a48"/><circle cx="398.7" cy="759" r="4.7" fill="#ff6f39"/><circle cx="406.9" cy="760.2" r="4.7" fill="#ff532a"/><circle cx="415" cy="761.3" r="4.7" fill="#ff4020"/><circle cx="423.2" cy="762.5" r="4.7" fill="#ff371c"/><circle cx="431.4" cy="763.6" r="4.7" fill="#ff3018"/><circle cx="152.6" cy="729.3" r="4.7" fill="#4e4cfc"/><circle cx="160.8" cy="730.4" r="4.7" fill="#435dfb"/><circle cx="169" cy="731.6" r="4.7" fill="#2587f5"/><circle cx="177.2" cy="732.7" r="4.7" fill="#208ef4"/><circle cx="185.4" cy="733.9" r="4.7" fill="#1c93f3"/><circle cx="193.6" cy="735" r="4.7" fill="#1897f2"/><circle cx="201.8" cy="736.2" r="4.7" fill="#0aa9ee"/><circle cx="210" cy="737.3" r="4.7" fill="#0fc4e7"/><circle cx="218.2" cy="738.5" r="4.7" fill="#13c8e6"/><circle cx="226.4" cy="739.6" r="4.7" fill="#17cce4"/><circle cx="234.6" cy="740.8" r="4.7" fill="#1cd0e2"/><circle cx="242.9" cy="741.9" r="4.7" fill="#23d7e0"/><circle cx="251.1" cy="743.1" r="4.7" fill="#4af1cf"/><circle cx="259.3" cy="744.2" r="4.7" fill="#58f8c9"/><circle cx="267.5" cy="745.4" r="4.7" fill="#63fbc4"/><circle cx="275.7" cy="746.5" r="4.7" fill="#6dfdbe"/><circle cx="283.9" cy="747.7" r="4.7" fill="#77ffb9"/><circle cx="292.1" cy="748.8" r="4.7" fill="#81ffb3"/><circle cx="300.3" cy="750" r="4.7" fill="#95fda8"/><circle cx="308.5" cy="751.1" r="4.7" fill="#aff498"/><circle cx="316.7" cy="752.3" r="4.7" fill="#bced8f"/><circle cx="325" cy="753.4" r="4.7" fill="#d3de81"/><circle cx="333.2" cy="754.6" r="4.7" fill="#e0d377"/><circle cx="341.4" cy="755.7" r="4.7" fill="#e1d377"/><circle cx="349.6" cy="756.9" r="4.7" fill="#e1d277"/><circle cx="357.8" cy="758" r="4.7" fill="#e2d176"/><circle cx="366" cy="759.2" r="4.7" fill="#e8cc72"/><circle cx="374.2" cy="760.3" r="4.7" fill="#ffa95b"/><circle cx="382.4" cy="761.5" r="4.7" fill="#ff9e54"/><circle cx="390.6" cy="762.6" r="4.7" fill="#ff8746"/><circle cx="398.8" cy="763.8" r="4.7" fill="#ff6c37"/><circle cx="407.1" cy="764.9" r="4.7" fill="#ff5028"/><circle cx="415.3" cy="766.1" r="4.7" fill="#ff4422"/><circle cx="423.5" cy="767.2" r="4.7" fill="#ff381c"/><circle cx="143.9" cy="732.7" r="4.7" fill="#583dfd"/><circle cx="152.2" cy="733.9" r="4.7" fill="#5444fd"/><circle cx="160.4" cy="735" r="4.7" fill="#2d7df7"/><circle cx="168.6" cy="736.2" r="4.7" fill="#2587f5"/><circle cx="176.9" cy="737.3" r="4.7" fill="#1d91f3"/><circle cx="185.1" cy="738.5" r="4.7" fill="#179af2"/><circle cx="193.3" cy="739.7" r="4.7" fill="#0ca7ef"/><circle cx="201.6" cy="740.8" r="4.7" fill="#15cae5"/><circle cx="209.8" cy="742" r="4.7" fill="#1acfe3"/><circle cx="218" cy="743.1" r="4.7" fill="#1ed2e2"/><circle cx="226.2" cy="744.3" r="4.7" fill="#21d5e0"/><circle cx="234.5" cy="745.4" r="4.7" fill="#24d8df"/><circle cx="242.7" cy="746.6" r="4.7" fill="#40ecd4"/><circle cx="250.9" cy="747.7" r="4.7" fill="#54f6cb"/><circle cx="259.2" cy="748.9" r="4.7" fill="#5bf8c8"/><circle cx="267.4" cy="750" r="4.7" fill="#63fbc4"/><circle cx="275.6" cy="751.2" r="4.7" fill="#6cfdbf"/><circle cx="283.9" cy="752.3" r="4.7" fill="#75ffba"/><circle cx="292.1" cy="753.5" r="4.7" fill="#82ffb3"/><circle cx="300.3" cy="754.6" r="4.7" fill="#a3f9a0"/><circle cx="308.5" cy="755.8" r="4.7" fill="#b5f194"/><circle cx="316.8" cy="757" r="4.7" fill="#c7e789"/><circle cx="325" cy="758.1" r="4.7" fill="#e4d075"/><circle cx="333.2" cy="759.3" r="4.7" fill="#e7cd73"/><circle cx="341.5" cy="760.4" r="4.7" fill="#e9cb71"/><circle cx="349.7" cy="761.6" r="4.7" fill="#eaca70"/><circle cx="357.9" cy="762.7" r="4.7" fill="#ebc970"/><circle cx="366.1" cy="763.9" r="4.7" fill="#ffaf5e"/><circle cx="374.4" cy="765" r="4.7" fill="#ffa055"/><circle cx="382.6" cy="766.2" r="4.7" fill="#ff924c"/><circle cx="390.8" cy="767.3" r="4.7" fill="#ff7d40"/><circle cx="399.1" cy="768.5" r="4.7" fill="#ff6534"/><circle cx="407.3" cy="769.6" r="4.7" fill="#ff542b"/><circle cx="415.5" cy="770.8" r="4.7" fill="#ff4a25"/><circle cx="135.3" cy="736.2" r="4.7" fill="#5b39fd"/><circle cx="143.6" cy="737.4" r="4.7" fill="#5a3bfd"/><circle cx="151.8" cy="738.5" r="4.7" fill="#3a6af9"/><circle cx="160.1" cy="739.7" r="4.7" fill="#2f79f7"/><circle cx="168.3" cy="740.8" r="4.7" fill="#2883f6"/><circle cx="176.6" cy="742" r="4.7" fill="#208ef4"/><circle cx="184.8" cy="743.1" r="4.7" fill="#1898f2"/><circle cx="193.1" cy="744.3" r="4.7" fill="#0ac0e8"/><circle cx="201.3" cy="745.5" r="4.7" fill="#1acfe3"/><circle cx="209.6" cy="746.6" r="4.7" fill="#21d5e0"/><circle cx="217.8" cy="747.8" r="4.7" fill="#27dade"/><circle cx="226.1" cy="748.9" r="4.7" fill="#2cdedc"/><circle cx="234.3" cy="750.1" r="4.7" fill="#3eead5"/><circle cx="242.6" cy="751.2" r="4.7" fill="#5af8c8"/><circle cx="250.8" cy="752.4" r="4.7" fill="#5efac6"/><circle cx="259.1" cy="753.6" r="4.7" fill="#63fbc3"/><circle cx="267.3" cy="754.7" r="4.7" fill="#68fcc1"/><circle cx="275.6" cy="755.9" r="4.7" fill="#6ffebd"/><circle cx="283.8" cy="757" r="4.7" fill="#76ffb9"/><circle cx="292.1" cy="758.2" r="4.7" fill="#8ffeab"/><circle cx="300.3" cy="759.3" r="4.7" fill="#a6f89e"/><circle cx="308.6" cy="760.5" r="4.7" fill="#b7f093"/><circle cx="316.8" cy="761.6" r="4.7" fill="#d5dc7f"/><circle cx="325.1" cy="762.8" r="4.7" fill="#e2d277"/><circle cx="333.3" cy="764" r="4.7" fill="#e7cd73"/><circle cx="341.6" cy="765.1" r="4.7" fill="#ecc86f"/><circle cx="349.8" cy="766.3" r="4.7" fill="#f0c56d"/><circle cx="358.1" cy="767.4" r="4.7" fill="#fbb965"/><circle cx="366.3" cy="768.6" r="4.7" fill="#ff9951"/><circle cx="374.6" cy="769.7" r="4.7" fill="#ff904b"/><circle cx="382.8" cy="770.9" r="4.7" fill="#ff7e41"/><circle cx="391.1" cy="772.1" r="4.7" fill="#ff6a36"/><circle cx="399.3" cy="773.2" r="4.7" fill="#ff562c"/><circle cx="407.6" cy="774.4" r="4.7" fill="#ff5129"/><circle cx="126.7" cy="739.7" r="4.7" fill="#5345fd"/><circle cx="135" cy="740.8" r="4.7" fill="#5444fd"/><circle cx="143.3" cy="742" r="4.7" fill="#3f63fa"/><circle cx="151.5" cy="743.2" r="4.7" fill="#3177f8"/><circle cx="159.8" cy="744.3" r="4.7" fill="#2d7cf7"/><circle cx="168.1" cy="745.5" r="4.7" fill="#2883f6"/><circle cx="176.4" cy="746.6" r="4.7" fill="#228bf4"/><circle cx="184.6" cy="747.8" r="4.7" fill="#08acee"/><circle cx="192.9" cy="749" r="4.7" fill="#10c5e7"/><circle cx="201.2" cy="750.1" r="4.7" fill="#19cee3"/><circle cx="209.4" cy="751.3" r="4.7" fill="#21d5e0"/><circle cx="217.7" cy="752.4" r="4.7" fill="#2adcdd"/><circle cx="226" cy="753.6" r="4.7" fill="#35e5d8"/><circle cx="234.2" cy="754.8" r="4.7" fill="#5bf9c7"/><circle cx="242.5" cy="755.9" r="4.7" fill="#64fbc3"/><circle cx="250.8" cy="757.1" r="4.7" fill="#6afdc0"/><circle cx="259" cy="758.2" r="4.7" fill="#6ffebd"/><circle cx="267.3" cy="759.4" r="4.7" fill="#73febb"/><circle cx="275.6" cy="760.6" r="4.7" fill="#78ffb8"/><circle cx="283.9" cy="761.7" r="4.7" fill="#85ffb1"/><circle cx="292.1" cy="762.9" r="4.7" fill="#9efaa2"/><circle cx="300.4" cy="764" r="4.7" fill="#abf69a"/><circle cx="308.7" cy="765.2" r="4.7" fill="#c0eb8d"/><circle cx="316.9" cy="766.4" r="4.7" fill="#d7db7e"/><circle cx="325.2" cy="767.5" r="4.7" fill="#ddd67a"/><circle cx="333.5" cy="768.7" r="4.7" fill="#e3d176"/><circle cx="341.7" cy="769.8" r="4.7" fill="#e9cb71"/><circle cx="350" cy="771" r="4.7" fill="#efc56d"/><circle cx="358.3" cy="772.1" r="4.7" fill="#ffa156"/><circle cx="366.6" cy="773.3" r="4.7" fill="#ff904b"/><circle cx="374.8" cy="774.5" r="4.7" fill="#ff7f41"/><circle cx="383.1" cy="775.6" r="4.7" fill="#ff6936"/><circle cx="391.4" cy="776.8" r="4.7" fill="#ff542b"/><circle cx="399.6" cy="777.9" r="4.7" fill="#ff4925"/><circle cx="118.1" cy="743.2" r="4.7" fill="#4d4efc"/><circle cx="126.4" cy="744.3" r="4.7" fill="#4c50fc"/><circle cx="134.7" cy="745.5" r="4.7" fill="#3e64fa"/><circle cx="143" cy="746.6" r="4.7" fill="#2982f6"/><circle cx="151.3" cy="747.8" r="4.7" fill="#2784f6"/><circle cx="159.6" cy="749" r="4.7" fill="#2587f5"/><circle cx="167.9" cy="750.1" r="4.7" fill="#228bf4"/><circle cx="176.2" cy="751.3" r="4.7" fill="#139ef1"/><circle cx="184.4" cy="752.5" r="4.7" fill="#09bee9"/><circle cx="192.7" cy="753.6" r="4.7" fill="#0fc4e7"/><circle cx="201" cy="754.8" r="4.7" fill="#16cbe4"/><circle cx="209.3" cy="755.9" r="4.7" fill="#1fd3e1"/><circle cx="217.6" cy="757.1" r="4.7" fill="#27dade"/><circle cx="225.9" cy="758.3" r="4.7" fill="#4af1d0"/><circle cx="234.2" cy="759.4" r="4.7" fill="#60fac5"/><circle cx="242.5" cy="760.6" r="4.7" fill="#69fdc0"/><circle cx="250.8" cy="761.8" r="4.7" fill="#71febc"/><circle cx="259.1" cy="762.9" r="4.7" fill="#78ffb8"/><circle cx="267.3" cy="764.1" r="4.7" fill="#7effb5"/><circle cx="275.6" cy="765.2" r="4.7" fill="#83ffb2"/><circle cx="283.9" cy="766.4" r="4.7" fill="#9dfba3"/><circle cx="292.2" cy="767.6" r="4.7" fill="#acf69a"/><circle cx="300.5" cy="768.7" r="4.7" fill="#b7f093"/><circle cx="308.8" cy="769.9" r="4.7" fill="#d4dd80"/><circle cx="317.1" cy="771.1" r="4.7" fill="#d7db7e"/><circle cx="325.4" cy="772.2" r="4.7" fill="#dad87c"/><circle cx="333.7" cy="773.4" r="4.7" fill="#dfd579"/><circle cx="341.9" cy="774.6" r="4.7" fill="#e4d075"/><circle cx="350.2" cy="775.7" r="4.7" fill="#f5c069"/><circle cx="358.5" cy="776.9" r="4.7" fill="#ff9e53"/><circle cx="366.8" cy="778" r="4.7" fill="#ff8e4a"/><circle cx="375.1" cy="779.2" r="4.7" fill="#ff753c"/><circle cx="383.4" cy="780.4" r="4.7" fill="#ff5c2f"/><circle cx="391.7" cy="781.5" r="4.7" fill="#ff4322"/><circle cx="109.5" cy="746.6" r="4.7" fill="#5246fd"/><circle cx="117.8" cy="747.8" r="4.7" fill="#4e4cfc"/><circle cx="126.1" cy="749" r="4.7" fill="#445bfb"/><circle cx="134.5" cy="750.1" r="4.7" fill="#2587f5"/><circle cx="142.8" cy="751.3" r="4.7" fill="#208df4"/><circle cx="151.1" cy="752.5" r="4.7" fill="#1d92f3"/><circle cx="159.4" cy="753.6" r="4.7" fill="#1a95f3"/><circle cx="167.7" cy="754.8" r="4.7" fill="#139df1"/><circle cx="176" cy="756" r="4.7" fill="#0abfe8"/><circle cx="184.3" cy="757.1" r="4.7" fill="#10c5e6"/><circle cx="192.6" cy="758.3" r="4.7" fill="#14c9e5"/><circle cx="200.9" cy="759.5" r="4.7" fill="#19cde4"/><circle cx="209.2" cy="760.6" r="4.7" fill="#1ed3e1"/><circle cx="217.5" cy="761.8" r="4.7" fill="#35e5d9"/><circle cx="225.9" cy="763" r="4.7" fill="#54f6cb"/><circle cx="234.2" cy="764.1" r="4.7" fill="#5efac6"/><circle cx="242.5" cy="765.3" r="4.7" fill="#68fcc1"/><circle cx="250.8" cy="766.5" r="4.7" fill="#72febc"/><circle cx="259.1" cy="767.6" r="4.7" fill="#7bffb7"/><circle cx="267.4" cy="768.8" r="4.7" fill="#84ffb2"/><circle cx="275.7" cy="769.9" r="4.7" fill="#99fca6"/><circle cx="284" cy="771.1" r="4.7" fill="#aff498"/><circle cx="292.3" cy="772.3" r="4.7" fill="#bbee91"/><circle cx="300.6" cy="773.4" r="4.7" fill="#cfe183"/><circle cx="309" cy="774.6" r="4.7" fill="#ddd67a"/><circle cx="317.3" cy="775.8" r="4.7" fill="#ddd67a"/><circle cx="325.6" cy="776.9" r="4.7" fill="#ded579"/><circle cx="333.9" cy="778.1" r="4.7" fill="#e0d478"/><circle cx="342.2" cy="779.3" r="4.7" fill="#e2d176"/><circle cx="350.5" cy="780.4" r="4.7" fill="#ffb05f"/><circle cx="358.8" cy="781.6" r="4.7" fill="#ffa055"/><circle cx="367.1" cy="782.8" r="4.7" fill="#ff8d49"/><circle cx="375.4" cy="783.9" r="4.7" fill="#ff733b"/><circle cx="383.7" cy="785.1" r="4.7" fill="#ff572c"/><circle cx="100.9" cy="750.1" r="4.7" fill="#5c38fd"/><circle cx="109.3" cy="751.3" r="4.7" fill="#583efd"/><circle cx="117.6" cy="752.4" r="4.7" fill="#5344fd"/><circle cx="125.9" cy="753.6" r="4.7" fill="#2d7cf7"/><circle cx="134.2" cy="754.8" r="4.7" fill="#2587f5"/><circle cx="142.6" cy="756" r="4.7" fill="#1e90f4"/><circle cx="150.9" cy="757.1" r="4.7" fill="#1898f2"/><circle cx="159.2" cy="758.3" r="4.7" fill="#129ff1"/><circle cx="167.6" cy="759.5" r="4.7" fill="#0abfe9"/><circle cx="175.9" cy="760.6" r="4.7" fill="#18cde4"/><circle cx="184.2" cy="761.8" r="4.7" fill="#1bd0e3"/><circle cx="192.5" cy="763" r="4.7" fill="#1ed2e2"/><circle cx="200.9" cy="764.1" r="4.7" fill="#21d5e1"/><circle cx="209.2" cy="765.3" r="4.7" fill="#2adcdd"/><circle cx="217.5" cy="766.5" r="4.7" fill="#4df3ce"/><circle cx="225.9" cy="767.6" r="4.7" fill="#56f7ca"/><circle cx="234.2" cy="768.8" r="4.7" fill="#5df9c6"/><circle cx="242.5" cy="770" r="4.7" fill="#66fcc2"/><circle cx="250.8" cy="771.1" r="4.7" fill="#70febd"/><circle cx="259.2" cy="772.3" r="4.7" fill="#7affb8"/><circle cx="267.5" cy="773.5" r="4.7" fill="#88ffaf"/><circle cx="275.8" cy="774.7" r="4.7" fill="#a7f89d"/><circle cx="284.2" cy="775.8" r="4.7" fill="#b7f093"/><circle cx="292.5" cy="777" r="4.7" fill="#c6e789"/><circle cx="300.8" cy="778.2" r="4.7" fill="#e3d176"/><circle cx="309.2" cy="779.3" r="4.7" fill="#e5cf74"/><circle cx="317.5" cy="780.5" r="4.7" fill="#e6ce74"/><circle cx="325.8" cy="781.7" r="4.7" fill="#e6ce73"/><circle cx="334.1" cy="782.8" r="4.7" fill="#e7cd73"/><circle cx="342.5" cy="784" r="4.7" fill="#f3c16a"/><circle cx="350.8" cy="785.2" r="4.7" fill="#ffa659"/><circle cx="359.1" cy="786.3" r="4.7" fill="#ff9d53"/><circle cx="367.5" cy="787.5" r="4.7" fill="#ff8847"/><circle cx="375.8" cy="788.7" r="4.7" fill="#ff703a"/><circle cx="92.3" cy="753.6" r="4.7" fill="#5b38fd"/><circle cx="100.7" cy="754.8" r="4.7" fill="#5b39fd"/><circle cx="109" cy="755.9" r="4.7" fill="#5a3bfd"/><circle cx="117.4" cy="757.1" r="4.7" fill="#3e65fa"/><circle cx="125.7" cy="758.3" r="4.7" fill="#3079f7"/><circle cx="134.1" cy="759.4" r="4.7" fill="#2883f6"/><circle cx="142.4" cy="760.6" r="4.7" fill="#218df4"/><circle cx="150.8" cy="761.8" r="4.7" fill="#1997f2"/><circle cx="159.1" cy="763" r="4.7" fill="#01b3ec"/><circle cx="167.5" cy="764.1" r="4.7" fill="#18cde4"/><circle cx="175.8" cy="765.3" r="4.7" fill="#1ed3e1"/><circle cx="184.2" cy="766.5" r="4.7" fill="#24d7df"/><circle cx="192.5" cy="767.6" r="4.7" fill="#28dbde"/><circle cx="200.9" cy="768.8" r="4.7" fill="#2cdedc"/><circle cx="209.2" cy="770" r="4.7" fill="#48f0d0"/><circle cx="217.6" cy="771.2" r="4.7" fill="#59f8c8"/><circle cx="225.9" cy="772.3" r="4.7" fill="#5df9c6"/><circle cx="234.3" cy="773.5" r="4.7" fill="#62fbc4"/><circle cx="242.6" cy="774.7" r="4.7" fill="#68fcc1"/><circle cx="251" cy="775.9" r="4.7" fill="#70febd"/><circle cx="259.3" cy="777" r="4.7" fill="#78ffb9"/><circle cx="267.7" cy="778.2" r="4.7" fill="#92fdaa"/><circle cx="276" cy="779.4" r="4.7" fill="#a9f79c"/><circle cx="284.3" cy="780.5" r="4.7" fill="#b9ef92"/><circle cx="292.7" cy="781.7" r="4.7" fill="#d4dd80"/><circle cx="301" cy="782.9" r="4.7" fill="#e3d075"/><circle cx="309.4" cy="784.1" r="4.7" fill="#e8cc72"/><circle cx="317.7" cy="785.2" r="4.7" fill="#ebc970"/><circle cx="326.1" cy="786.4" r="4.7" fill="#eec66e"/><circle cx="334.4" cy="787.6" r="4.7" fill="#efc56d"/><circle cx="342.8" cy="788.7" r="4.7" fill="#ffa457"/><circle cx="351.1" cy="789.9" r="4.7" fill="#ff9a51"/><circle cx="359.5" cy="791.1" r="4.7" fill="#ff8d4a"/><circle cx="367.8" cy="792.3" r="4.7" fill="#ff7b40"/><circle cx="83.7" cy="757.1" r="4.7" fill="#5246fd"/><circle cx="92.1" cy="758.2" r="4.7" fill="#5344fd"/><circle cx="100.4" cy="759.4" r="4.7" fill="#5443fd"/><circle cx="108.8" cy="760.6" r="4.7" fill="#445cfb"/><circle cx="117.2" cy="761.8" r="4.7" fill="#3275f8"/><circle cx="125.6" cy="762.9" r="4.7" fill="#2e7bf7"/><circle cx="133.9" cy="764.1" r="4.7" fill="#2981f6"/><circle cx="142.3" cy="765.3" r="4.7" fill="#2389f5"/><circle cx="150.7" cy="766.5" r="4.7" fill="#139ef1"/><circle cx="159" cy="767.6" r="4.7" fill="#0ec3e7"/><circle cx="167.4" cy="768.8" r="4.7" fill="#16cbe4"/><circle cx="175.8" cy="770" r="4.7" fill="#1fd3e1"/><circle cx="184.1" cy="771.2" r="4.7" fill="#27dade"/><circle cx="192.5" cy="772.3" r="4.7" fill="#2ddfdc"/><circle cx="200.9" cy="773.5" r="4.7" fill="#43edd3"/><circle cx="209.2" cy="774.7" r="4.7" fill="#5ffac5"/><circle cx="217.6" cy="775.9" r="4.7" fill="#64fbc3"/><circle cx="226" cy="777" r="4.7" fill="#69fcc1"/><circle cx="234.4" cy="778.2" r="4.7" fill="#6dfdbe"/><circle cx="242.7" cy="779.4" r="4.7" fill="#71febc"/><circle cx="251.1" cy="780.6" r="4.7" fill="#76ffba"/><circle cx="259.5" cy="781.7" r="4.7" fill="#83ffb2"/><circle cx="267.8" cy="782.9" r="4.7" fill="#9dfba3"/><circle cx="276.2" cy="784.1" r="4.7" fill="#abf69b"/><circle cx="284.6" cy="785.3" r="4.7" fill="#bded8f"/><circle cx="292.9" cy="786.4" r="4.7" fill="#d9d97c"/><circle cx="301.3" cy="787.6" r="4.7" fill="#dfd478"/><circle cx="309.7" cy="788.8" r="4.7" fill="#e5cf74"/><circle cx="318" cy="790" r="4.7" fill="#ebca70"/><circle cx="326.4" cy="791.1" r="4.7" fill="#efc56d"/><circle cx="334.8" cy="792.3" r="4.7" fill="#ffb461"/><circle cx="343.2" cy="793.5" r="4.7" fill="#ff964f"/><circle cx="351.5" cy="794.7" r="4.7" fill="#ff8c49"/><circle cx="359.9" cy="795.8" r="4.7" fill="#ff7a3f"/><circle cx="75.1" cy="760.5" r="4.7" fill="#4f4bfc"/><circle cx="83.5" cy="761.7" r="4.7" fill="#4d4efc"/><circle cx="91.9" cy="762.9" r="4.7" fill="#4c4ffc"/><circle cx="100.3" cy="764.1" r="4.7" fill="#435dfb"/><circle cx="108.7" cy="765.2" r="4.7" fill="#2a80f6"/><circle cx="117.1" cy="766.4" r="4.7" fill="#2882f6"/><circle cx="125.4" cy="767.6" r="4.7" fill="#2685f5"/><circle cx="133.8" cy="768.8" r="4.7" fill="#2488f5"/><circle cx="142.2" cy="770" r="4.7" fill="#1f8ef4"/><circle cx="150.6" cy="771.1" r="4.7" fill="#01b4ec"/><circle cx="159" cy="772.3" r="4.7" fill="#0cc2e8"/><circle cx="167.4" cy="773.5" r="4.7" fill="#14c9e5"/><circle cx="175.8" cy="774.7" r="4.7" fill="#1cd0e2"/><circle cx="184.2" cy="775.8" r="4.7" fill="#24d8df"/><circle cx="192.6" cy="777" r="4.7" fill="#31e2da"/><circle cx="200.9" cy="778.2" r="4.7" fill="#57f7c9"/><circle cx="209.3" cy="779.4" r="4.7" fill="#64fbc3"/><circle cx="217.7" cy="780.6" r="4.7" fill="#6bfdbf"/><circle cx="226.1" cy="781.7" r="4.7" fill="#72febc"/><circle cx="234.5" cy="782.9" r="4.7" fill="#77ffb9"/><circle cx="242.9" cy="784.1" r="4.7" fill="#7cffb6"/><circle cx="251.3" cy="785.3" r="4.7" fill="#80ffb4"/><circle cx="259.7" cy="786.5" r="4.7" fill="#98fca6"/><circle cx="268.1" cy="787.6" r="4.7" fill="#a7f79d"/><circle cx="276.4" cy="788.8" r="4.7" fill="#b2f396"/><circle cx="284.8" cy="790" r="4.7" fill="#cbe486"/><circle cx="293.2" cy="791.2" r="4.7" fill="#d6dc7e"/><circle cx="301.6" cy="792.3" r="4.7" fill="#dad87b"/><circle cx="310" cy="793.5" r="4.7" fill="#e0d478"/><circle cx="318.4" cy="794.7" r="4.7" fill="#e5ce74"/><circle cx="326.8" cy="795.9" r="4.7" fill="#ebc970"/><circle cx="335.2" cy="797.1" r="4.7" fill="#ffa457"/><circle cx="343.6" cy="798.2" r="4.7" fill="#ff924d"/><circle cx="351.9" cy="799.4" r="4.7" fill="#ff8143"/><circle cx="66.5" cy="764" r="4.7" fill="#573ffd"/><circle cx="74.9" cy="765.2" r="4.7" fill="#5246fd"/><circle cx="83.3" cy="766.4" r="4.7" fill="#4e4dfc"/><circle cx="91.7" cy="767.5" r="4.7" fill="#4a53fb"/><circle cx="100.1" cy="768.7" r="4.7" fill="#2685f5"/><circle cx="108.5" cy="769.9" r="4.7" fill="#228bf4"/><circle cx="117" cy="771.1" r="4.7" fill="#1e90f4"/><circle cx="125.4" cy="772.3" r="4.7" fill="#1c93f3"/><circle cx="133.8" cy="773.5" r="4.7" fill="#1a95f3"/><circle cx="142.2" cy="774.6" r="4.7" fill="#04afed"/><circle cx="150.6" cy="775.8" r="4.7" fill="#0dc2e8"/><circle cx="159" cy="777" r="4.7" fill="#11c6e6"/><circle cx="167.4" cy="778.2" r="4.7" fill="#15cae5"/><circle cx="175.8" cy="779.4" r="4.7" fill="#1bcfe3"/><circle cx="184.2" cy="780.5" r="4.7" fill="#22d5e0"/><circle cx="192.6" cy="781.7" r="4.7" fill="#41ecd4"/><circle cx="201" cy="782.9" r="4.7" fill="#59f8c9"/><circle cx="209.5" cy="784.1" r="4.7" fill="#62fbc4"/><circle cx="217.9" cy="785.3" r="4.7" fill="#6cfdbf"/><circle cx="226.3" cy="786.5" r="4.7" fill="#75feba"/><circle cx="234.7" cy="787.6" r="4.7" fill="#7dffb6"/><circle cx="243.1" cy="788.8" r="4.7" fill="#84ffb2"/><circle cx="251.5" cy="790" r="4.7" fill="#95fda8"/><circle cx="259.9" cy="791.2" r="4.7" fill="#abf69b"/><circle cx="268.3" cy="792.4" r="4.7" fill="#b5f194"/><circle cx="276.7" cy="793.5" r="4.7" fill="#c4e98b"/><circle cx="285.1" cy="794.7" r="4.7" fill="#d9da7d"/><circle cx="293.5" cy="795.9" r="4.7" fill="#d9d97c"/><circle cx="302" cy="797.1" r="4.7" fill="#dbd87b"/><circle cx="310.4" cy="798.3" r="4.7" fill="#ded579"/><circle cx="318.8" cy="799.5" r="4.7" fill="#e2d277"/><circle cx="327.2" cy="800.6" r="4.7" fill="#f0c46c"/><circle cx="335.6" cy="801.8" r="4.7" fill="#ffa357"/><circle cx="344" cy="803" r="4.7" fill="#ff964f"/><circle cx="491" cy="990.5" r="4.7" fill="#ff5129"/><circle cx="491.1" cy="982.5" r="4.7" fill="#ff562c"/><circle cx="491.2" cy="974.5" r="4.7" fill="#ff5a2d"/><circle cx="491.4" cy="966.5" r="4.7" fill="#ff5b2e"/><circle cx="491.5" cy="958.6" r="4.7" fill="#ff5a2e"/><circle cx="491.6" cy="950.6" r="4.7" fill="#ff562b"/><circle cx="491.8" cy="942.6" r="4.7" fill="#ff4f28"/><circle cx="491.9" cy="934.6" r="4.7" fill="#ff4724"/><circle cx="492" cy="926.6" r="4.7" fill="#ff3f20"/><circle cx="492.1" cy="918.6" r="4.7" fill="#ff371c"/><circle cx="492.2" cy="910.7" r="4.7" fill="#ff3119"/><circle cx="492.4" cy="902.7" r="4.7" fill="#ff2e17"/><circle cx="492.5" cy="894.7" r="4.7" fill="#ff2e17"/><circle cx="492.6" cy="886.7" r="4.7" fill="#ff3018"/><circle cx="492.8" cy="878.7" r="4.7" fill="#ff341a"/><circle cx="492.9" cy="870.7" r="4.7" fill="#ff381c"/><circle cx="493" cy="862.8" r="4.7" fill="#ff3c1e"/><circle cx="493.1" cy="854.8" r="4.7" fill="#ff3f20"/><circle cx="493.2" cy="846.8" r="4.7" fill="#ff3f20"/><circle cx="493.4" cy="838.8" r="4.7" fill="#ff3c1e"/><circle cx="493.5" cy="830.8" r="4.7" fill="#ff361b"/><circle cx="493.6" cy="822.8" r="4.7" fill="#ff2f17"/><circle cx="493.8" cy="814.8" r="4.7" fill="#ff2613"/><circle cx="493.9" cy="806.9" r="4.7" fill="#ff1e0f"/><circle cx="494" cy="798.9" r="4.7" fill="#ff170b"/><circle cx="494.1" cy="790.9" r="4.7" fill="#ff1209"/><circle cx="494.2" cy="782.9" r="4.7" fill="#ff1108"/><circle cx="494.4" cy="774.9" r="4.7" fill="#ff1209"/><circle cx="494.5" cy="766.9" r="4.7" fill="#ff160b"/><circle cx="494.6" cy="759" r="4.7" fill="#ff1b0e"/><circle cx="494.8" cy="751" r="4.7" fill="#ff2110"/><circle cx="494.9" cy="743" r="4.7" fill="#ff2513"/><circle cx="495" cy="735" r="4.7" fill="#ff2814"/><circle cx="483.2" cy="995.5" r="4.7" fill="#ff2915"/><circle cx="483.4" cy="987.4" r="4.7" fill="#ff2e17"/><circle cx="483.5" cy="979.4" r="4.7" fill="#ff3319"/><circle cx="483.6" cy="971.4" r="4.7" fill="#ff361b"/><circle cx="483.7" cy="963.3" r="4.7" fill="#ff381c"/><circle cx="483.8" cy="955.3" r="4.7" fill="#ff371c"/><circle cx="484" cy="947.3" r="4.7" fill="#ff331a"/><circle cx="484.1" cy="939.3" r="4.7" fill="#ff2d17"/><circle cx="484.2" cy="931.2" r="4.7" fill="#ff2513"/><circle cx="484.3" cy="923.2" r="4.7" fill="#ff1d0f"/><circle cx="484.4" cy="915.2" r="4.7" fill="#ff160b"/><circle cx="484.5" cy="907.2" r="4.7" fill="#ff1008"/><circle cx="484.7" cy="899.1" r="4.7" fill="#ff0d07"/><circle cx="484.8" cy="891.1" r="4.7" fill="#ff0d07"/><circle cx="484.9" cy="883.1" r="4.7" fill="#ff1008"/><circle cx="485" cy="875" r="4.7" fill="#ff150b"/><circle cx="485.1" cy="867" r="4.7" fill="#ff1b0e"/><circle cx="485.3" cy="859" r="4.7" fill="#ff2111"/><circle cx="485.4" cy="851" r="4.7" fill="#ff2513"/><circle cx="485.5" cy="842.9" r="4.7" fill="#ff2714"/><circle cx="485.6" cy="834.9" r="4.7" fill="#ff2613"/><circle cx="485.7" cy="826.9" r="4.7" fill="#ff2312"/><circle cx="485.9" cy="818.9" r="4.7" fill="#ff1d0f"/><circle cx="486" cy="810.8" r="4.7" fill="#ff170b"/><circle cx="486.1" cy="802.8" r="4.7" fill="#ff1008"/><circle cx="486.2" cy="794.8" r="4.7" fill="#ff0b06"/><circle cx="486.3" cy="786.7" r="4.7" fill="#ff0804"/><circle cx="486.5" cy="778.7" r="4.7" fill="#ff0904"/><circle cx="486.6" cy="770.7" r="4.7" fill="#ff0c06"/><circle cx="486.7" cy="762.7" r="4.7" fill="#ff1209"/><circle cx="486.8" cy="754.6" r="4.7" fill="#ff190d"/><circle cx="486.9" cy="746.6" r="4.7" fill="#ff2111"/><circle cx="487.1" cy="738.6" r="4.7" fill="#ff2814"/><circle cx="475.5" cy="1000.4" r="4.7" fill="#ff0d07"/><circle cx="475.6" cy="992.3" r="4.7" fill="#ff1209"/><circle cx="475.7" cy="984.3" r="4.7" fill="#ff180c"/><circle cx="475.8" cy="976.2" r="4.7" fill="#ff1f0f"/><circle cx="475.9" cy="968.1" r="4.7" fill="#ff2512"/><circle cx="476" cy="960.1" r="4.7" fill="#ff2914"/><circle cx="476.2" cy="952" r="4.7" fill="#ff2a15"/><circle cx="476.3" cy="943.9" r="4.7" fill="#ff2915"/><circle cx="476.4" cy="935.9" r="4.7" fill="#ff2513"/><circle cx="476.5" cy="927.8" r="4.7" fill="#ff2010"/><circle cx="476.6" cy="919.7" r="4.7" fill="#ff1a0d"/><circle cx="476.7" cy="911.6" r="4.7" fill="#ff140a"/><circle cx="476.8" cy="903.6" r="4.7" fill="#ff1008"/><circle cx="476.9" cy="895.5" r="4.7" fill="#ff0f08"/><circle cx="477.1" cy="887.4" r="4.7" fill="#ff1209"/><circle cx="477.2" cy="879.4" r="4.7" fill="#ff160b"/><circle cx="477.3" cy="871.3" r="4.7" fill="#ff1e0f"/><circle cx="477.4" cy="863.2" r="4.7" fill="#ff2613"/><circle cx="477.5" cy="855.1" r="4.7" fill="#ff2e17"/><circle cx="477.6" cy="847.1" r="4.7" fill="#ff341a"/><circle cx="477.7" cy="839" r="4.7" fill="#ff391d"/><circle cx="477.9" cy="830.9" r="4.7" fill="#ff3b1d"/><circle cx="478" cy="822.9" r="4.7" fill="#ff3a1d"/><circle cx="478.1" cy="814.8" r="4.7" fill="#ff361b"/><circle cx="478.2" cy="806.7" r="4.7" fill="#ff3219"/><circle cx="478.3" cy="798.7" r="4.7" fill="#ff2d17"/><circle cx="478.4" cy="790.6" r="4.7" fill="#ff2915"/><circle cx="478.5" cy="782.5" r="4.7" fill="#ff2814"/><circle cx="478.7" cy="774.4" r="4.7" fill="#ff2915"/><circle cx="478.8" cy="766.4" r="4.7" fill="#ff2e17"/><circle cx="478.9" cy="758.3" r="4.7" fill="#ff341a"/><circle cx="479" cy="750.2" r="4.7" fill="#ff3d1e"/><circle cx="479.1" cy="742.2" r="4.7" fill="#ff4523"/><circle cx="467.7" cy="1005.4" r="4.7" fill="#ff1a0d"/><circle cx="467.8" cy="997.3" r="4.7" fill="#ff1e0f"/><circle cx="467.9" cy="989.1" r="4.7" fill="#ff2412"/><circle cx="468" cy="981" r="4.7" fill="#ff2c16"/><circle cx="468.1" cy="972.9" r="4.7" fill="#ff351a"/><circle cx="468.2" cy="964.8" r="4.7" fill="#ff3d1f"/><circle cx="468.4" cy="956.7" r="4.7" fill="#ff4322"/><circle cx="468.5" cy="948.6" r="4.7" fill="#ff4624"/><circle cx="468.6" cy="940.5" r="4.7" fill="#ff4724"/><circle cx="468.7" cy="932.4" r="4.7" fill="#ff4523"/><circle cx="468.8" cy="924.2" r="4.7" fill="#ff4221"/><circle cx="468.9" cy="916.1" r="4.7" fill="#ff3d1f"/><circle cx="469" cy="908" r="4.7" fill="#ff391d"/><circle cx="469.1" cy="899.9" r="4.7" fill="#ff361b"/><circle cx="469.2" cy="891.8" r="4.7" fill="#ff361b"/><circle cx="469.3" cy="883.7" r="4.7" fill="#ff381c"/><circle cx="469.4" cy="875.6" r="4.7" fill="#ff3d1f"/><circle cx="469.5" cy="867.4" r="4.7" fill="#ff4523"/><circle cx="469.6" cy="859.3" r="4.7" fill="#ff4d27"/><circle cx="469.8" cy="851.2" r="4.7" fill="#ff552b"/><circle cx="469.9" cy="843.1" r="4.7" fill="#ff5c2f"/><circle cx="470" cy="835" r="4.7" fill="#ff6131"/><circle cx="470.1" cy="826.9" r="4.7" fill="#ff6332"/><circle cx="470.2" cy="818.8" r="4.7" fill="#ff6232"/><circle cx="470.3" cy="810.6" r="4.7" fill="#ff5f30"/><circle cx="470.4" cy="802.5" r="4.7" fill="#ff5a2e"/><circle cx="470.5" cy="794.4" r="4.7" fill="#ff552b"/><circle cx="470.6" cy="786.3" r="4.7" fill="#ff5129"/><circle cx="470.7" cy="778.2" r="4.7" fill="#ff4e28"/><circle cx="470.8" cy="770.1" r="4.7" fill="#ff4e28"/><circle cx="470.9" cy="762" r="4.7" fill="#ff5129"/><circle cx="471.1" cy="753.9" r="4.7" fill="#ff562c"/><circle cx="471.2" cy="745.7" r="4.7" fill="#ff5d2f"/><circle cx="459.9" cy="1010.3" r="4.7" fill="#ff4322"/><circle cx="460" cy="1002.2" r="4.7" fill="#ff4322"/><circle cx="460.2" cy="994" r="4.7" fill="#ff4724"/><circle cx="460.3" cy="985.9" r="4.7" fill="#ff4c27"/><circle cx="460.4" cy="977.7" r="4.7" fill="#ff542b"/><circle cx="460.5" cy="969.5" r="4.7" fill="#ff5c2f"/><circle cx="460.6" cy="961.4" r="4.7" fill="#ff6333"/><circle cx="460.7" cy="953.2" r="4.7" fill="#ff6936"/><circle cx="460.8" cy="945.1" r="4.7" fill="#ff6c37"/><circle cx="460.9" cy="936.9" r="4.7" fill="#ff6c38"/><circle cx="461" cy="928.8" r="4.7" fill="#ff6a36"/><circle cx="461.1" cy="920.6" r="4.7" fill="#ff6634"/><circle cx="461.2" cy="912.5" r="4.7" fill="#ff6131"/><circle cx="461.3" cy="904.3" r="4.7" fill="#ff5b2f"/><circle cx="461.4" cy="896.1" r="4.7" fill="#ff572c"/><circle cx="461.5" cy="888" r="4.7" fill="#ff552b"/><circle cx="461.6" cy="879.8" r="4.7" fill="#ff562b"/><circle cx="461.7" cy="871.7" r="4.7" fill="#ff592d"/><circle cx="461.8" cy="863.5" r="4.7" fill="#ff5e30"/><circle cx="461.9" cy="855.4" r="4.7" fill="#ff6433"/><circle cx="462" cy="847.2" r="4.7" fill="#ff6a36"/><circle cx="462.1" cy="839" r="4.7" fill="#ff6f39"/><circle cx="462.2" cy="830.9" r="4.7" fill="#ff733b"/><circle cx="462.3" cy="822.7" r="4.7" fill="#ff733b"/><circle cx="462.4" cy="814.6" r="4.7" fill="#ff713a"/><circle cx="462.5" cy="806.4" r="4.7" fill="#ff6c37"/><circle cx="462.6" cy="798.3" r="4.7" fill="#ff6534"/><circle cx="462.7" cy="790.1" r="4.7" fill="#ff5e30"/><circle cx="462.8" cy="781.9" r="4.7" fill="#ff582d"/><circle cx="462.9" cy="773.8" r="4.7" fill="#ff532a"/><circle cx="463" cy="765.6" r="4.7" fill="#ff5029"/><circle cx="463.1" cy="757.5" r="4.7" fill="#ff5029"/><circle cx="463.2" cy="749.3" r="4.7" fill="#ff532a"/><circle cx="452.2" cy="1015.3" r="4.7" fill="#ff5f30"/><circle cx="452.3" cy="1007.1" r="4.7" fill="#ff5b2e"/><circle cx="452.4" cy="998.9" r="4.7" fill="#ff592d"/><circle cx="452.5" cy="990.7" r="4.7" fill="#ff5a2e"/><circle cx="452.6" cy="982.5" r="4.7" fill="#ff5d2f"/><circle cx="452.7" cy="974.3" r="4.7" fill="#ff6232"/><circle cx="452.8" cy="966.1" r="4.7" fill="#ff6835"/><circle cx="452.9" cy="957.9" r="4.7" fill="#ff6d38"/><circle cx="453" cy="949.7" r="4.7" fill="#ff713a"/><circle cx="453.1" cy="941.5" r="4.7" fill="#ff733b"/><circle cx="453.1" cy="933.3" r="4.7" fill="#ff723a"/><circle cx="453.2" cy="925.1" r="4.7" fill="#ff6e38"/><circle cx="453.3" cy="916.9" r="4.7" fill="#ff6835"/><circle cx="453.4" cy="908.7" r="4.7" fill="#ff6031"/><circle cx="453.5" cy="900.5" r="4.7" fill="#ff592d"/><circle cx="453.6" cy="892.3" r="4.7" fill="#ff522a"/><circle cx="453.7" cy="884.1" r="4.7" fill="#ff4d27"/><circle cx="453.8" cy="875.9" r="4.7" fill="#ff4b26"/><circle cx="453.9" cy="867.7" r="4.7" fill="#ff4c27"/><circle cx="454" cy="859.5" r="4.7" fill="#ff4f28"/><circle cx="454.1" cy="851.3" r="4.7" fill="#ff532a"/><circle cx="454.2" cy="843.1" r="4.7" fill="#ff582d"/><circle cx="454.3" cy="834.9" r="4.7" fill="#ff5c2f"/><circle cx="454.4" cy="826.7" r="4.7" fill="#ff5e30"/><circle cx="454.5" cy="818.5" r="4.7" fill="#ff5d2f"/><circle cx="454.6" cy="810.3" r="4.7" fill="#ff592d"/><circle cx="454.7" cy="802.1" r="4.7" fill="#ff532a"/><circle cx="454.8" cy="793.9" r="4.7" fill="#ff4b26"/><circle cx="454.9" cy="785.7" r="4.7" fill="#ff4322"/><circle cx="455" cy="777.5" r="4.7" fill="#ff3b1e"/><circle cx="455.1" cy="769.3" r="4.7" fill="#ff341a"/><circle cx="455.2" cy="761.1" r="4.7" fill="#ff3018"/><circle cx="455.3" cy="752.9" r="4.7" fill="#ff2f18"/><circle cx="444.4" cy="1020.2" r="4.7" fill="#ff582d"/><circle cx="444.5" cy="1012" r="4.7" fill="#ff5029"/><circle cx="444.6" cy="1003.8" r="4.7" fill="#ff4a25"/><circle cx="444.7" cy="995.5" r="4.7" fill="#ff4623"/><circle cx="444.8" cy="987.3" r="4.7" fill="#ff4523"/><circle cx="444.9" cy="979" r="4.7" fill="#ff4624"/><circle cx="445" cy="970.8" r="4.7" fill="#ff4a25"/><circle cx="445.1" cy="962.5" r="4.7" fill="#ff4e28"/><circle cx="445.1" cy="954.3" r="4.7" fill="#ff532a"/><circle cx="445.2" cy="946.1" r="4.7" fill="#ff562b"/><circle cx="445.3" cy="937.8" r="4.7" fill="#ff562c"/><circle cx="445.4" cy="929.6" r="4.7" fill="#ff542b"/><circle cx="445.5" cy="921.3" r="4.7" fill="#ff5028"/><circle cx="445.6" cy="913.1" r="4.7" fill="#ff4925"/><circle cx="445.7" cy="904.8" r="4.7" fill="#ff4121"/><circle cx="445.8" cy="896.6" r="4.7" fill="#ff381c"/><circle cx="445.9" cy="888.4" r="4.7" fill="#ff3018"/><circle cx="446" cy="880.1" r="4.7" fill="#ff2b16"/><circle cx="446" cy="871.9" r="4.7" fill="#ff2814"/><circle cx="446.1" cy="863.6" r="4.7" fill="#ff2814"/><circle cx="446.2" cy="855.4" r="4.7" fill="#ff2b16"/><circle cx="446.3" cy="847.1" r="4.7" fill="#ff3018"/><circle cx="446.4" cy="838.9" r="4.7" fill="#ff351b"/><circle cx="446.5" cy="830.7" r="4.7" fill="#ff391d"/><circle cx="446.6" cy="822.4" r="4.7" fill="#ff3c1e"/><circle cx="446.7" cy="814.2" r="4.7" fill="#ff3d1e"/><circle cx="446.8" cy="805.9" r="4.7" fill="#ff3a1d"/><circle cx="446.9" cy="797.7" r="4.7" fill="#ff351b"/><circle cx="447" cy="789.4" r="4.7" fill="#ff2e17"/><circle cx="447" cy="781.2" r="4.7" fill="#ff2713"/><circle cx="447.1" cy="773" r="4.7" fill="#ff1f10"/><circle cx="447.2" cy="764.7" r="4.7" fill="#ff1a0d"/><circle cx="447.3" cy="756.5" r="4.7" fill="#ff170b"/><circle cx="436.7" cy="1025.2" r="4.7" fill="#ff3f20"/><circle cx="436.7" cy="1016.9" r="4.7" fill="#ff361b"/><circle cx="436.8" cy="1008.6" r="4.7" fill="#ff2e17"/><circle cx="436.9" cy="1000.3" r="4.7" fill="#ff2814"/><circle cx="437" cy="992.1" r="4.7" fill="#ff2412"/><circle cx="437.1" cy="983.8" r="4.7" fill="#ff2211"/><circle cx="437.2" cy="975.5" r="4.7" fill="#ff2412"/><circle cx="437.3" cy="967.2" r="4.7" fill="#ff2814"/><circle cx="437.3" cy="958.9" r="4.7" fill="#ff2e17"/><circle cx="437.4" cy="950.6" r="4.7" fill="#ff331a"/><circle cx="437.5" cy="942.3" r="4.7" fill="#ff381c"/><circle cx="437.6" cy="934.1" r="4.7" fill="#ff3a1d"/><circle cx="437.7" cy="925.8" r="4.7" fill="#ff3a1d"/><circle cx="437.8" cy="917.5" r="4.7" fill="#ff371c"/><circle cx="437.8" cy="909.2" r="4.7" fill="#ff3219"/><circle cx="437.9" cy="900.9" r="4.7" fill="#ff2b16"/><circle cx="438" cy="892.6" r="4.7" fill="#ff2412"/><circle cx="438.1" cy="884.3" r="4.7" fill="#ff1e0f"/><circle cx="438.2" cy="876.1" r="4.7" fill="#ff1a0d"/><circle cx="438.3" cy="867.8" r="4.7" fill="#ff190c"/><circle cx="438.4" cy="859.5" r="4.7" fill="#ff1b0d"/><circle cx="438.4" cy="851.2" r="4.7" fill="#ff1f10"/><circle cx="438.5" cy="842.9" r="4.7" fill="#ff2613"/><circle cx="438.6" cy="834.6" r="4.7" fill="#ff2d17"/><circle cx="438.7" cy="826.3" r="4.7" fill="#ff341a"/><circle cx="438.8" cy="818.1" r="4.7" fill="#ff391d"/><circle cx="438.9" cy="809.8" r="4.7" fill="#ff3c1e"/><circle cx="438.9" cy="801.5" r="4.7" fill="#ff3d1f"/><circle cx="439" cy="793.2" r="4.7" fill="#ff3a1d"/><circle cx="439.1" cy="784.9" r="4.7" fill="#ff361b"/><circle cx="439.2" cy="776.6" r="4.7" fill="#ff3118"/><circle cx="439.3" cy="768.3" r="4.7" fill="#ff2c16"/><circle cx="439.4" cy="760.1" r="4.7" fill="#ff2814"/><circle cx="428.9" cy="1030.2" r="4.7" fill="#ff371c"/><circle cx="429" cy="1021.8" r="4.7" fill="#ff3219"/><circle cx="429.1" cy="1013.5" r="4.7" fill="#ff2b16"/><circle cx="429.1" cy="1005.2" r="4.7" fill="#ff2513"/><circle cx="429.2" cy="996.8" r="4.7" fill="#ff2110"/><circle cx="429.3" cy="988.5" r="4.7" fill="#ff1e0f"/><circle cx="429.4" cy="980.2" r="4.7" fill="#ff1f0f"/><circle cx="429.4" cy="971.9" r="4.7" fill="#ff2211"/><circle cx="429.5" cy="963.5" r="4.7" fill="#ff2914"/><circle cx="429.6" cy="955.2" r="4.7" fill="#ff3018"/><circle cx="429.7" cy="946.9" r="4.7" fill="#ff381c"/><circle cx="429.8" cy="938.5" r="4.7" fill="#ff3f20"/><circle cx="429.8" cy="930.2" r="4.7" fill="#ff4422"/><circle cx="429.9" cy="921.9" r="4.7" fill="#ff4623"/><circle cx="430" cy="913.6" r="4.7" fill="#ff4623"/><circle cx="430.1" cy="905.2" r="4.7" fill="#ff4322"/><circle cx="430.2" cy="896.9" r="4.7" fill="#ff3f20"/><circle cx="430.2" cy="888.6" r="4.7" fill="#ff3a1d"/><circle cx="430.3" cy="880.2" r="4.7" fill="#ff361b"/><circle cx="430.4" cy="871.9" r="4.7" fill="#ff331a"/><circle cx="430.5" cy="863.6" r="4.7" fill="#ff341a"/><circle cx="430.6" cy="855.3" r="4.7" fill="#ff371c"/><circle cx="430.6" cy="846.9" r="4.7" fill="#ff3d1e"/><circle cx="430.7" cy="838.6" r="4.7" fill="#ff4422"/><circle cx="430.8" cy="830.3" r="4.7" fill="#ff4d27"/><circle cx="430.9" cy="821.9" r="4.7" fill="#ff552b"/><circle cx="430.9" cy="813.6" r="4.7" fill="#ff5c2f"/><circle cx="431" cy="805.3" r="4.7" fill="#ff6031"/><circle cx="431.1" cy="796.9" r="4.7" fill="#ff6232"/><circle cx="431.2" cy="788.6" r="4.7" fill="#ff6031"/><circle cx="431.3" cy="780.3" r="4.7" fill="#ff5d2f"/><circle cx="431.3" cy="772" r="4.7" fill="#ff592d"/><circle cx="431.4" cy="763.6" r="4.7" fill="#ff552b"/><circle cx="421.1" cy="1035.1" r="4.7" fill="#ff522a"/><circle cx="421.2" cy="1026.7" r="4.7" fill="#ff5129"/><circle cx="421.3" cy="1018.4" r="4.7" fill="#ff4e27"/><circle cx="421.4" cy="1010" r="4.7" fill="#ff4925"/><circle cx="421.4" cy="1001.6" r="4.7" fill="#ff4523"/><circle cx="421.5" cy="993.3" r="4.7" fill="#ff4121"/><circle cx="421.6" cy="984.9" r="4.7" fill="#ff4020"/><circle cx="421.6" cy="976.5" r="4.7" fill="#ff4221"/><circle cx="421.7" cy="968.1" r="4.7" fill="#ff4623"/><circle cx="421.8" cy="959.8" r="4.7" fill="#ff4d27"/><circle cx="421.9" cy="951.4" r="4.7" fill="#ff552b"/><circle cx="421.9" cy="943" r="4.7" fill="#ff5d2f"/><circle cx="422" cy="934.7" r="4.7" fill="#ff6533"/><circle cx="422.1" cy="926.3" r="4.7" fill="#ff6a36"/><circle cx="422.2" cy="917.9" r="4.7" fill="#ff6d38"/><circle cx="422.2" cy="909.5" r="4.7" fill="#ff6e38"/><circle cx="422.3" cy="901.2" r="4.7" fill="#ff6b37"/><circle cx="422.4" cy="892.8" r="4.7" fill="#ff6835"/><circle cx="422.4" cy="884.4" r="4.7" fill="#ff6332"/><circle cx="422.5" cy="876" r="4.7" fill="#ff5e30"/><circle cx="422.6" cy="867.7" r="4.7" fill="#ff5c2f"/><circle cx="422.7" cy="859.3" r="4.7" fill="#ff5b2e"/><circle cx="422.7" cy="850.9" r="4.7" fill="#ff5d2f"/><circle cx="422.8" cy="842.6" r="4.7" fill="#ff6132"/><circle cx="422.9" cy="834.2" r="4.7" fill="#ff6835"/><circle cx="423" cy="825.8" r="4.7" fill="#ff6f39"/><circle cx="423" cy="817.4" r="4.7" fill="#ff763d"/><circle cx="423.1" cy="809.1" r="4.7" fill="#ff7b40"/><circle cx="423.2" cy="800.7" r="4.7" fill="#ff7e41"/><circle cx="423.3" cy="792.3" r="4.7" fill="#ff7f42"/><circle cx="423.3" cy="784" r="4.7" fill="#ff7d41"/><circle cx="423.4" cy="775.6" r="4.7" fill="#ff793e"/><circle cx="423.5" cy="767.2" r="4.7" fill="#ff733b"/><circle cx="413.4" cy="1040.1" r="4.7" fill="#ff773d"/><circle cx="413.4" cy="1031.7" r="4.7" fill="#ff783e"/><circle cx="413.5" cy="1023.2" r="4.7" fill="#ff773e"/><circle cx="413.6" cy="1014.8" r="4.7" fill="#ff743c"/><circle cx="413.6" cy="1006.4" r="4.7" fill="#ff7039"/><circle cx="413.7" cy="998" r="4.7" fill="#ff6b37"/><circle cx="413.8" cy="989.6" r="4.7" fill="#ff6634"/><circle cx="413.8" cy="981.2" r="4.7" fill="#ff6433"/><circle cx="413.9" cy="972.8" r="4.7" fill="#ff6433"/><circle cx="414" cy="964.3" r="4.7" fill="#ff6634"/><circle cx="414" cy="955.9" r="4.7" fill="#ff6b37"/><circle cx="414.1" cy="947.5" r="4.7" fill="#ff713a"/><circle cx="414.2" cy="939.1" r="4.7" fill="#ff783e"/><circle cx="414.2" cy="930.7" r="4.7" fill="#ff7d41"/><circle cx="414.3" cy="922.3" r="4.7" fill="#ff8143"/><circle cx="414.4" cy="913.8" r="4.7" fill="#ff8344"/><circle cx="414.4" cy="905.4" r="4.7" fill="#ff8243"/><circle cx="414.5" cy="897" r="4.7" fill="#ff7f41"/><circle cx="414.6" cy="888.6" r="4.7" fill="#ff793f"/><circle cx="414.6" cy="880.2" r="4.7" fill="#ff733b"/><circle cx="414.7" cy="871.8" r="4.7" fill="#ff6c38"/><circle cx="414.8" cy="863.4" r="4.7" fill="#ff6735"/><circle cx="414.9" cy="854.9" r="4.7" fill="#ff6433"/><circle cx="414.9" cy="846.5" r="4.7" fill="#ff6433"/><circle cx="415" cy="838.1" r="4.7" fill="#ff6634"/><circle cx="415.1" cy="829.7" r="4.7" fill="#ff6a36"/><circle cx="415.1" cy="821.3" r="4.7" fill="#ff6f39"/><circle cx="415.2" cy="812.9" r="4.7" fill="#ff743b"/><circle cx="415.3" cy="804.5" r="4.7" fill="#ff773d"/><circle cx="415.3" cy="796" r="4.7" fill="#ff793e"/><circle cx="415.4" cy="787.6" r="4.7" fill="#ff783e"/><circle cx="415.5" cy="779.2" r="4.7" fill="#ff743c"/><circle cx="415.5" cy="770.8" r="4.7" fill="#ff6e39"/><circle cx="405.6" cy="1045" r="4.7" fill="#ff8143"/><circle cx="405.7" cy="1036.6" r="4.7" fill="#ff8445"/><circle cx="405.7" cy="1028.1" r="4.7" fill="#ff8445"/><circle cx="405.8" cy="1019.7" r="4.7" fill="#ff8143"/><circle cx="405.9" cy="1011.2" r="4.7" fill="#ff7d40"/><circle cx="405.9" cy="1002.7" r="4.7" fill="#ff763d"/><circle cx="406" cy="994.3" r="4.7" fill="#ff6f39"/><circle cx="406" cy="985.8" r="4.7" fill="#ff6935"/><circle cx="406.1" cy="977.4" r="4.7" fill="#ff6433"/><circle cx="406.2" cy="968.9" r="4.7" fill="#ff6131"/><circle cx="406.2" cy="960.5" r="4.7" fill="#ff6131"/><circle cx="406.3" cy="952" r="4.7" fill="#ff6433"/><circle cx="406.3" cy="943.5" r="4.7" fill="#ff6835"/><circle cx="406.4" cy="935.1" r="4.7" fill="#ff6c37"/><circle cx="406.5" cy="926.6" r="4.7" fill="#ff703a"/><circle cx="406.5" cy="918.2" r="4.7" fill="#ff733b"/><circle cx="406.6" cy="909.7" r="4.7" fill="#ff733b"/><circle cx="406.7" cy="901.2" r="4.7" fill="#ff713a"/><circle cx="406.7" cy="892.8" r="4.7" fill="#ff6c37"/><circle cx="406.8" cy="884.3" r="4.7" fill="#ff6534"/><circle cx="406.8" cy="875.9" r="4.7" fill="#ff5d2f"/><circle cx="406.9" cy="867.4" r="4.7" fill="#ff552b"/><circle cx="407" cy="859" r="4.7" fill="#ff4e27"/><circle cx="407" cy="850.5" r="4.7" fill="#ff4925"/><circle cx="407.1" cy="842" r="4.7" fill="#ff4724"/><circle cx="407.1" cy="833.6" r="4.7" fill="#ff4724"/><circle cx="407.2" cy="825.1" r="4.7" fill="#ff4a25"/><circle cx="407.3" cy="816.7" r="4.7" fill="#ff4e28"/><circle cx="407.3" cy="808.2" r="4.7" fill="#ff532a"/><circle cx="407.4" cy="799.7" r="4.7" fill="#ff562c"/><circle cx="407.5" cy="791.3" r="4.7" fill="#ff582d"/><circle cx="407.5" cy="782.8" r="4.7" fill="#ff572c"/><circle cx="407.6" cy="774.4" r="4.7" fill="#ff532a"/><circle cx="397.8" cy="1050" r="4.7" fill="#ff6835"/><circle cx="397.9" cy="1041.5" r="4.7" fill="#ff6b37"/><circle cx="398" cy="1033" r="4.7" fill="#ff6d38"/><circle cx="398" cy="1024.5" r="4.7" fill="#ff6c37"/><circle cx="398.1" cy="1016" r="4.7" fill="#ff6835"/><circle cx="398.1" cy="1007.5" r="4.7" fill="#ff6232"/><circle cx="398.2" cy="999" r="4.7" fill="#ff5b2e"/><circle cx="398.2" cy="990.5" r="4.7" fill="#ff522a"/><circle cx="398.3" cy="982" r="4.7" fill="#ff4a26"/><circle cx="398.3" cy="973.5" r="4.7" fill="#ff4422"/><circle cx="398.4" cy="965" r="4.7" fill="#ff4020"/><circle cx="398.5" cy="956.5" r="4.7" fill="#ff3f20"/><circle cx="398.5" cy="948" r="4.7" fill="#ff4121"/><circle cx="398.6" cy="939.5" r="4.7" fill="#ff4523"/><circle cx="398.6" cy="931" r="4.7" fill="#ff4a25"/><circle cx="398.7" cy="922.5" r="4.7" fill="#ff4e28"/><circle cx="398.7" cy="914" r="4.7" fill="#ff5129"/><circle cx="398.8" cy="905.5" r="4.7" fill="#ff522a"/><circle cx="398.8" cy="897" r="4.7" fill="#ff5029"/><circle cx="398.9" cy="888.5" r="4.7" fill="#ff4c26"/><circle cx="399" cy="880" r="4.7" fill="#ff4623"/><circle cx="399" cy="871.5" r="4.7" fill="#ff3e1f"/><circle cx="399.1" cy="863" r="4.7" fill="#ff361b"/><circle cx="399.1" cy="854.5" r="4.7" fill="#ff3018"/><circle cx="399.2" cy="846" r="4.7" fill="#ff2b16"/><circle cx="399.2" cy="837.5" r="4.7" fill="#ff2a15"/><circle cx="399.3" cy="829" r="4.7" fill="#ff2c16"/><circle cx="399.4" cy="820.5" r="4.7" fill="#ff3018"/><circle cx="399.4" cy="812" r="4.7" fill="#ff361b"/><circle cx="399.5" cy="803.5" r="4.7" fill="#ff3c1e"/><circle cx="399.5" cy="795" r="4.7" fill="#ff4121"/><circle cx="399.6" cy="786.4" r="4.7" fill="#ff4523"/><circle cx="399.6" cy="777.9" r="4.7" fill="#ff4724"/><circle cx="390.1" cy="1055" r="4.7" fill="#ff4121"/><circle cx="390.1" cy="1046.4" r="4.7" fill="#ff4624"/><circle cx="390.2" cy="1037.9" r="4.7" fill="#ff4b26"/><circle cx="390.2" cy="1029.3" r="4.7" fill="#ff4e27"/><circle cx="390.3" cy="1020.8" r="4.7" fill="#ff4e28"/><circle cx="390.3" cy="1012.2" r="4.7" fill="#ff4c26"/><circle cx="390.4" cy="1003.7" r="4.7" fill="#ff4724"/><circle cx="390.4" cy="995.1" r="4.7" fill="#ff4020"/><circle cx="390.5" cy="986.6" r="4.7" fill="#ff391d"/><circle cx="390.5" cy="978.1" r="4.7" fill="#ff3219"/><circle cx="390.6" cy="969.5" r="4.7" fill="#ff2d17"/><circle cx="390.6" cy="961" r="4.7" fill="#ff2b15"/><circle cx="390.7" cy="952.4" r="4.7" fill="#ff2b16"/><circle cx="390.7" cy="943.9" r="4.7" fill="#ff2e17"/><circle cx="390.8" cy="935.3" r="4.7" fill="#ff341a"/><circle cx="390.8" cy="926.8" r="4.7" fill="#ff3b1e"/><circle cx="390.9" cy="918.2" r="4.7" fill="#ff4121"/><circle cx="390.9" cy="909.7" r="4.7" fill="#ff4724"/><circle cx="391" cy="901.2" r="4.7" fill="#ff4a26"/><circle cx="391" cy="892.6" r="4.7" fill="#ff4b26"/><circle cx="391.1" cy="884.1" r="4.7" fill="#ff4925"/><circle cx="391.1" cy="875.5" r="4.7" fill="#ff4523"/><circle cx="391.2" cy="867" r="4.7" fill="#ff4020"/><circle cx="391.2" cy="858.4" r="4.7" fill="#ff3a1d"/><circle cx="391.3" cy="849.9" r="4.7" fill="#ff361b"/><circle cx="391.3" cy="841.3" r="4.7" fill="#ff341a"/><circle cx="391.4" cy="832.8" r="4.7" fill="#ff341a"/><circle cx="391.4" cy="824.2" r="4.7" fill="#ff371c"/><circle cx="391.5" cy="815.7" r="4.7" fill="#ff3d1f"/><circle cx="391.5" cy="807.2" r="4.7" fill="#ff4523"/><circle cx="391.6" cy="798.6" r="4.7" fill="#ff4d27"/><circle cx="391.6" cy="790.1" r="4.7" fill="#ff552b"/><circle cx="391.7" cy="781.5" r="4.7" fill="#ff5b2e"/><circle cx="382.3" cy="1059.9" r="4.7" fill="#ff351b"/><circle cx="382.4" cy="1051.3" r="4.7" fill="#ff3c1e"/><circle cx="382.4" cy="1042.7" r="4.7" fill="#ff4322"/><circle cx="382.4" cy="1034.1" r="4.7" fill="#ff4a25"/><circle cx="382.5" cy="1025.6" r="4.7" fill="#ff5028"/><circle cx="382.5" cy="1017" r="4.7" fill="#ff522a"/><circle cx="382.6" cy="1008.4" r="4.7" fill="#ff532a"/><circle cx="382.6" cy="999.8" r="4.7" fill="#ff5129"/><circle cx="382.7" cy="991.2" r="4.7" fill="#ff4c27"/><circle cx="382.7" cy="982.6" r="4.7" fill="#ff4724"/><circle cx="382.8" cy="974" r="4.7" fill="#ff4322"/><circle cx="382.8" cy="965.4" r="4.7" fill="#ff3f20"/><circle cx="382.8" cy="956.9" r="4.7" fill="#ff3e1f"/><circle cx="382.9" cy="948.3" r="4.7" fill="#ff4020"/><circle cx="382.9" cy="939.7" r="4.7" fill="#ff4523"/><circle cx="383" cy="931.1" r="4.7" fill="#ff4c27"/><circle cx="383" cy="922.5" r="4.7" fill="#ff542b"/><circle cx="383.1" cy="913.9" r="4.7" fill="#ff5d2f"/><circle cx="383.1" cy="905.3" r="4.7" fill="#ff6433"/><circle cx="383.2" cy="896.7" r="4.7" fill="#ff6936"/><circle cx="383.2" cy="888.2" r="4.7" fill="#ff6b37"/><circle cx="383.2" cy="879.6" r="4.7" fill="#ff6b37"/><circle cx="383.3" cy="871" r="4.7" fill="#ff6936"/><circle cx="383.3" cy="862.4" r="4.7" fill="#ff6533"/><circle cx="383.4" cy="853.8" r="4.7" fill="#ff6031"/><circle cx="383.4" cy="845.2" r="4.7" fill="#ff5d2f"/><circle cx="383.5" cy="836.6" r="4.7" fill="#ff5b2e"/><circle cx="383.5" cy="828" r="4.7" fill="#ff5b2f"/><circle cx="383.6" cy="819.5" r="4.7" fill="#ff5f30"/><circle cx="383.6" cy="810.9" r="4.7" fill="#ff6433"/><circle cx="383.6" cy="802.3" r="4.7" fill="#ff6c37"/><circle cx="383.7" cy="793.7" r="4.7" fill="#ff733b"/><circle cx="383.7" cy="785.1" r="4.7" fill="#ff7b3f"/><circle cx="374.6" cy="1064.9" r="4.7" fill="#ff4f28"/><circle cx="374.6" cy="1056.2" r="4.7" fill="#ff552b"/><circle cx="374.6" cy="1047.6" r="4.7" fill="#ff5c2f"/><circle cx="374.7" cy="1039" r="4.7" fill="#ff6533"/><circle cx="374.7" cy="1030.3" r="4.7" fill="#ff6c37"/><circle cx="374.7" cy="1021.7" r="4.7" fill="#ff733b"/><circle cx="374.8" cy="1013.1" r="4.7" fill="#ff773d"/><circle cx="374.8" cy="1004.5" r="4.7" fill="#ff783e"/><circle cx="374.9" cy="995.8" r="4.7" fill="#ff773d"/><circle cx="374.9" cy="987.2" r="4.7" fill="#ff743b"/><circle cx="374.9" cy="978.6" r="4.7" fill="#ff6f39"/><circle cx="375" cy="969.9" r="4.7" fill="#ff6b37"/><circle cx="375" cy="961.3" r="4.7" fill="#ff6835"/><circle cx="375.1" cy="952.7" r="4.7" fill="#ff6734"/><circle cx="375.1" cy="944" r="4.7" fill="#ff6835"/><circle cx="375.1" cy="935.4" r="4.7" fill="#ff6c37"/><circle cx="375.2" cy="926.8" r="4.7" fill="#ff723a"/><circle cx="375.2" cy="918.1" r="4.7" fill="#ff793e"/><circle cx="375.2" cy="909.5" r="4.7" fill="#ff8042"/><circle cx="375.3" cy="900.9" r="4.7" fill="#ff8646"/><circle cx="375.3" cy="892.3" r="4.7" fill="#ff8a48"/><circle cx="375.4" cy="883.6" r="4.7" fill="#ff8c49"/><circle cx="375.4" cy="875" r="4.7" fill="#ff8b49"/><circle cx="375.4" cy="866.4" r="4.7" fill="#ff8847"/><circle cx="375.5" cy="857.7" r="4.7" fill="#ff8344"/><circle cx="375.5" cy="849.1" r="4.7" fill="#ff7e41"/><circle cx="375.6" cy="840.5" r="4.7" fill="#ff793e"/><circle cx="375.6" cy="831.8" r="4.7" fill="#ff753c"/><circle cx="375.6" cy="823.2" r="4.7" fill="#ff743c"/><circle cx="375.7" cy="814.6" r="4.7" fill="#ff753c"/><circle cx="375.7" cy="805.9" r="4.7" fill="#ff783e"/><circle cx="375.8" cy="797.3" r="4.7" fill="#ff7d41"/><circle cx="375.8" cy="788.7" r="4.7" fill="#ff8344"/><circle cx="366.8" cy="1069.8" r="4.7" fill="#ff703a"/><circle cx="366.8" cy="1061.2" r="4.7" fill="#ff723b"/><circle cx="366.9" cy="1052.5" r="4.7" fill="#ff773d"/><circle cx="366.9" cy="1043.8" r="4.7" fill="#ff7c40"/><circle cx="366.9" cy="1035.1" r="4.7" fill="#ff8344"/><circle cx="367" cy="1026.5" r="4.7" fill="#ff8948"/><circle cx="367" cy="1017.8" r="4.7" fill="#ff8e4a"/><circle cx="367" cy="1009.1" r="4.7" fill="#ff914c"/><circle cx="367.1" cy="1000.4" r="4.7" fill="#ff914c"/><circle cx="367.1" cy="991.8" r="4.7" fill="#ff8f4b"/><circle cx="367.1" cy="983.1" r="4.7" fill="#ff8b48"/><circle cx="367.2" cy="974.4" r="4.7" fill="#ff8545"/><circle cx="367.2" cy="965.7" r="4.7" fill="#ff7f42"/><circle cx="367.2" cy="957.1" r="4.7" fill="#ff7a3f"/><circle cx="367.2" cy="948.4" r="4.7" fill="#ff773d"/><circle cx="367.3" cy="939.7" r="4.7" fill="#ff763d"/><circle cx="367.3" cy="931" r="4.7" fill="#ff773d"/><circle cx="367.3" cy="922.4" r="4.7" fill="#ff7b3f"/><circle cx="367.4" cy="913.7" r="4.7" fill="#ff8042"/><circle cx="367.4" cy="905" r="4.7" fill="#ff8545"/><circle cx="367.4" cy="896.3" r="4.7" fill="#ff8947"/><circle cx="367.5" cy="887.7" r="4.7" fill="#ff8b49"/><circle cx="367.5" cy="879" r="4.7" fill="#ff8c49"/><circle cx="367.5" cy="870.3" r="4.7" fill="#ff8948"/><circle cx="367.6" cy="861.7" r="4.7" fill="#ff8545"/><circle cx="367.6" cy="853" r="4.7" fill="#ff7e41"/><circle cx="367.6" cy="844.3" r="4.7" fill="#ff773d"/><circle cx="367.7" cy="835.6" r="4.7" fill="#ff6f39"/><circle cx="367.7" cy="827" r="4.7" fill="#ff6936"/><circle cx="367.7" cy="818.3" r="4.7" fill="#ff6634"/><circle cx="367.8" cy="809.6" r="4.7" fill="#ff6533"/><circle cx="367.8" cy="800.9" r="4.7" fill="#ff6634"/><circle cx="367.8" cy="792.3" r="4.7" fill="#ff6936"/><circle cx="359" cy="1074.8" r="4.7" fill="#ff783e"/><circle cx="359.1" cy="1066.1" r="4.7" fill="#ff753c"/><circle cx="359.1" cy="1057.4" r="4.7" fill="#ff753c"/><circle cx="359.1" cy="1048.6" r="4.7" fill="#ff763d"/><circle cx="359.1" cy="1039.9" r="4.7" fill="#ff7a3f"/><circle cx="359.2" cy="1031.2" r="4.7" fill="#ff7f42"/><circle cx="359.2" cy="1022.5" r="4.7" fill="#ff8344"/><circle cx="359.2" cy="1013.8" r="4.7" fill="#ff8746"/><circle cx="359.2" cy="1005" r="4.7" fill="#ff8847"/><circle cx="359.3" cy="996.3" r="4.7" fill="#ff8746"/><circle cx="359.3" cy="987.6" r="4.7" fill="#ff8344"/><circle cx="359.3" cy="978.9" r="4.7" fill="#ff7d41"/><circle cx="359.4" cy="970.2" r="4.7" fill="#ff763d"/><circle cx="359.4" cy="961.5" r="4.7" fill="#ff6e38"/><circle cx="359.4" cy="952.7" r="4.7" fill="#ff6734"/><circle cx="359.4" cy="944" r="4.7" fill="#ff6132"/><circle cx="359.5" cy="935.3" r="4.7" fill="#ff5e30"/><circle cx="359.5" cy="926.6" r="4.7" fill="#ff5e30"/><circle cx="359.5" cy="917.9" r="4.7" fill="#ff6031"/><circle cx="359.5" cy="909.2" r="4.7" fill="#ff6433"/><circle cx="359.6" cy="900.4" r="4.7" fill="#ff6835"/><circle cx="359.6" cy="891.7" r="4.7" fill="#ff6c37"/><circle cx="359.6" cy="883" r="4.7" fill="#ff6e38"/><circle cx="359.7" cy="874.3" r="4.7" fill="#ff6e38"/><circle cx="359.7" cy="865.6" r="4.7" fill="#ff6b37"/><circle cx="359.7" cy="856.9" r="4.7" fill="#ff6634"/><circle cx="359.7" cy="848.1" r="4.7" fill="#ff5f30"/><circle cx="359.8" cy="839.4" r="4.7" fill="#ff572c"/><circle cx="359.8" cy="830.7" r="4.7" fill="#ff4f28"/><circle cx="359.8" cy="822" r="4.7" fill="#ff4824"/><circle cx="359.8" cy="813.3" r="4.7" fill="#ff4422"/><circle cx="359.9" cy="804.6" r="4.7" fill="#ff4221"/><circle cx="359.9" cy="795.8" r="4.7" fill="#ff4422"/><circle cx="351.3" cy="1079.7" r="4.7" fill="#ff6433"/><circle cx="351.3" cy="1071" r="4.7" fill="#ff5d2f"/><circle cx="351.3" cy="1062.2" r="4.7" fill="#ff582d"/><circle cx="351.3" cy="1053.5" r="4.7" fill="#ff562c"/><circle cx="351.3" cy="1044.7" r="4.7" fill="#ff572c"/><circle cx="351.4" cy="1035.9" r="4.7" fill="#ff5a2e"/><circle cx="351.4" cy="1027.2" r="4.7" fill="#ff5e30"/><circle cx="351.4" cy="1018.4" r="4.7" fill="#ff6332"/><circle cx="351.4" cy="1009.7" r="4.7" fill="#ff6634"/><circle cx="351.5" cy="1000.9" r="4.7" fill="#ff6835"/><circle cx="351.5" cy="992.1" r="4.7" fill="#ff6735"/><circle cx="351.5" cy="983.4" r="4.7" fill="#ff6333"/><circle cx="351.5" cy="974.6" r="4.7" fill="#ff5d2f"/><circle cx="351.5" cy="965.9" r="4.7" fill="#ff562c"/><circle cx="351.6" cy="957.1" r="4.7" fill="#ff4e27"/><circle cx="351.6" cy="948.3" r="4.7" fill="#ff4724"/><circle cx="351.6" cy="939.6" r="4.7" fill="#ff4121"/><circle cx="351.6" cy="930.8" r="4.7" fill="#ff3f20"/><circle cx="351.6" cy="922.1" r="4.7" fill="#ff3f20"/><circle cx="351.7" cy="913.3" r="4.7" fill="#ff4221"/><circle cx="351.7" cy="904.5" r="4.7" fill="#ff4724"/><circle cx="351.7" cy="895.8" r="4.7" fill="#ff4d27"/><circle cx="351.7" cy="887" r="4.7" fill="#ff522a"/><circle cx="351.8" cy="878.3" r="4.7" fill="#ff562c"/><circle cx="351.8" cy="869.5" r="4.7" fill="#ff582d"/><circle cx="351.8" cy="860.7" r="4.7" fill="#ff572c"/><circle cx="351.8" cy="852" r="4.7" fill="#ff542a"/><circle cx="351.8" cy="843.2" r="4.7" fill="#ff4e28"/><circle cx="351.9" cy="834.5" r="4.7" fill="#ff4824"/><circle cx="351.9" cy="825.7" r="4.7" fill="#ff4221"/><circle cx="351.9" cy="816.9" r="4.7" fill="#ff3d1f"/><circle cx="351.9" cy="808.2" r="4.7" fill="#ff3a1d"/><circle cx="351.9" cy="799.4" r="4.7" fill="#ff3a1d"/><circle cx="343.5" cy="1084.7" r="4.7" fill="#ff4f28"/><circle cx="343.5" cy="1075.9" r="4.7" fill="#ff4824"/><circle cx="343.5" cy="1067.1" r="4.7" fill="#ff4221"/><circle cx="343.5" cy="1058.3" r="4.7" fill="#ff3e1f"/><circle cx="343.6" cy="1049.5" r="4.7" fill="#ff3d1f"/><circle cx="343.6" cy="1040.7" r="4.7" fill="#ff3f20"/><circle cx="343.6" cy="1031.9" r="4.7" fill="#ff4322"/><circle cx="343.6" cy="1023.1" r="4.7" fill="#ff4925"/><circle cx="343.6" cy="1014.3" r="4.7" fill="#ff5028"/><circle cx="343.6" cy="1005.5" r="4.7" fill="#ff552b"/><circle cx="343.7" cy="996.7" r="4.7" fill="#ff592d"/><circle cx="343.7" cy="987.9" r="4.7" fill="#ff5a2e"/><circle cx="343.7" cy="979.1" r="4.7" fill="#ff592d"/><circle cx="343.7" cy="970.3" r="4.7" fill="#ff562b"/><circle cx="343.7" cy="961.5" r="4.7" fill="#ff5029"/><circle cx="343.7" cy="952.7" r="4.7" fill="#ff4a26"/><circle cx="343.8" cy="943.9" r="4.7" fill="#ff4523"/><circle cx="343.8" cy="935" r="4.7" fill="#ff4221"/><circle cx="343.8" cy="926.2" r="4.7" fill="#ff4121"/><circle cx="343.8" cy="917.4" r="4.7" fill="#ff4322"/><circle cx="343.8" cy="908.6" r="4.7" fill="#ff4824"/><circle cx="343.8" cy="899.8" r="4.7" fill="#ff4f28"/><circle cx="343.8" cy="891" r="4.7" fill="#ff562c"/><circle cx="343.9" cy="882.2" r="4.7" fill="#ff5e30"/><circle cx="343.9" cy="873.4" r="4.7" fill="#ff6433"/><circle cx="343.9" cy="864.6" r="4.7" fill="#ff6835"/><circle cx="343.9" cy="855.8" r="4.7" fill="#ff6a36"/><circle cx="343.9" cy="847" r="4.7" fill="#ff6936"/><circle cx="343.9" cy="838.2" r="4.7" fill="#ff6634"/><circle cx="344" cy="829.4" r="4.7" fill="#ff6132"/><circle cx="344" cy="820.6" r="4.7" fill="#ff5d2f"/><circle cx="344" cy="811.8" r="4.7" fill="#ff5a2e"/><circle cx="344" cy="803" r="4.7" fill="#ff582d"/><circle cx="66.5" cy="764" r="4.7" fill="#5148fc"/><circle cx="74.9" cy="765.2" r="4.7" fill="#4d4efc"/><circle cx="83.3" cy="766.4" r="4.7" fill="#4953fb"/><circle cx="91.7" cy="767.5" r="4.7" fill="#455afb"/><circle cx="100.1" cy="768.7" r="4.7" fill="#208df4"/><circle cx="108.5" cy="769.9" r="4.7" fill="#1b94f3"/><circle cx="117" cy="771.1" r="4.7" fill="#159bf1"/><circle cx="125.4" cy="772.3" r="4.7" fill="#10a1f0"/><circle cx="133.8" cy="773.5" r="4.7" fill="#0ca7ef"/><circle cx="142.2" cy="774.6" r="4.7" fill="#0cc1e8"/><circle cx="150.6" cy="775.8" r="4.7" fill="#1ed3e1"/><circle cx="159" cy="777" r="4.7" fill="#22d6e0"/><circle cx="167.4" cy="778.2" r="4.7" fill="#26d9df"/><circle cx="175.8" cy="779.4" r="4.7" fill="#2adcdd"/><circle cx="184.2" cy="780.5" r="4.7" fill="#2ddfdc"/><circle cx="192.6" cy="781.7" r="4.7" fill="#48f0d0"/><circle cx="201" cy="782.9" r="4.7" fill="#5bf9c7"/><circle cx="209.5" cy="784.1" r="4.7" fill="#61fac5"/><circle cx="217.9" cy="785.3" r="4.7" fill="#66fcc2"/><circle cx="226.3" cy="786.5" r="4.7" fill="#6cfdbf"/><circle cx="234.7" cy="787.6" r="4.7" fill="#72febc"/><circle cx="243.1" cy="788.8" r="4.7" fill="#7affb7"/><circle cx="251.5" cy="790" r="4.7" fill="#8efeac"/><circle cx="259.9" cy="791.2" r="4.7" fill="#a8f79d"/><circle cx="268.3" cy="792.4" r="4.7" fill="#b7f093"/><circle cx="276.7" cy="793.5" r="4.7" fill="#cae486"/><circle cx="285.1" cy="794.7" r="4.7" fill="#e4cf74"/><circle cx="293.5" cy="795.9" r="4.7" fill="#eaca71"/><circle cx="302" cy="797.1" r="4.7" fill="#efc56d"/><circle cx="310.4" cy="798.3" r="4.7" fill="#f5bf69"/><circle cx="318.8" cy="799.5" r="4.7" fill="#faba65"/><circle cx="327.2" cy="800.6" r="4.7" fill="#ffa95a"/><circle cx="335.6" cy="801.8" r="4.7" fill="#ff8545"/><circle cx="344" cy="803" r="4.7" fill="#ff793f"/><circle cx="66.7" cy="772.3" r="4.7" fill="#5049fc"/><circle cx="75.1" cy="773.5" r="4.7" fill="#4e4dfc"/><circle cx="83.5" cy="774.7" r="4.7" fill="#4b51fc"/><circle cx="91.9" cy="775.9" r="4.7" fill="#4855fb"/><circle cx="100.3" cy="777.1" r="4.7" fill="#2586f5"/><circle cx="108.7" cy="778.3" r="4.7" fill="#218cf4"/><circle cx="117.1" cy="779.5" r="4.7" fill="#1d92f3"/><circle cx="125.5" cy="780.7" r="4.7" fill="#1997f2"/><circle cx="133.9" cy="781.9" r="4.7" fill="#159cf1"/><circle cx="142.3" cy="783.1" r="4.7" fill="#03b7eb"/><circle cx="150.7" cy="784.3" r="4.7" fill="#16cbe4"/><circle cx="159.1" cy="785.5" r="4.7" fill="#1bcfe3"/><circle cx="167.5" cy="786.7" r="4.7" fill="#20d4e1"/><circle cx="175.9" cy="787.9" r="4.7" fill="#25d9df"/><circle cx="184.3" cy="789.1" r="4.7" fill="#2bdddd"/><circle cx="192.7" cy="790.3" r="4.7" fill="#48f0d0"/><circle cx="201.1" cy="791.5" r="4.7" fill="#5efac6"/><circle cx="209.5" cy="792.6" r="4.7" fill="#66fcc2"/><circle cx="217.9" cy="793.8" r="4.7" fill="#6dfdbe"/><circle cx="226.3" cy="795" r="4.7" fill="#75feba"/><circle cx="234.8" cy="796.2" r="4.7" fill="#7dffb6"/><circle cx="243.2" cy="797.4" r="4.7" fill="#87ffb0"/><circle cx="251.6" cy="798.6" r="4.7" fill="#9bfba5"/><circle cx="260" cy="799.8" r="4.7" fill="#b5f295"/><circle cx="268.4" cy="801" r="4.7" fill="#c3e98b"/><circle cx="276.8" cy="802.2" r="4.7" fill="#d6dc7f"/><circle cx="285.2" cy="803.4" r="4.7" fill="#eec66e"/><circle cx="293.6" cy="804.6" r="4.7" fill="#f2c26b"/><circle cx="302" cy="805.8" r="4.7" fill="#f5bf69"/><circle cx="310.4" cy="807" r="4.7" fill="#f8bc67"/><circle cx="318.8" cy="808.2" r="4.7" fill="#fab965"/><circle cx="327.2" cy="809.4" r="4.7" fill="#ffab5c"/><circle cx="335.6" cy="810.6" r="4.7" fill="#ff8a48"/><circle cx="344" cy="811.8" r="4.7" fill="#ff8143"/><circle cx="66.9" cy="780.6" r="4.7" fill="#5a3afd"/><circle cx="75.3" cy="781.8" r="4.7" fill="#593cfd"/><circle cx="83.7" cy="783" r="4.7" fill="#583efd"/><circle cx="92.1" cy="784.2" r="4.7" fill="#5641fd"/><circle cx="100.5" cy="785.4" r="4.7" fill="#3374f8"/><circle cx="108.9" cy="786.7" r="4.7" fill="#2e7bf7"/><circle cx="117.3" cy="787.9" r="4.7" fill="#2981f6"/><circle cx="125.7" cy="789.1" r="4.7" fill="#2489f5"/><circle cx="134.1" cy="790.3" r="4.7" fill="#1e90f4"/><circle cx="142.5" cy="791.5" r="4.7" fill="#04b0ed"/><circle cx="150.9" cy="792.7" r="4.7" fill="#12c7e6"/><circle cx="159.3" cy="793.9" r="4.7" fill="#19cee3"/><circle cx="167.7" cy="795.1" r="4.7" fill="#21d5e1"/><circle cx="176.1" cy="796.4" r="4.7" fill="#28dbde"/><circle cx="184.4" cy="797.6" r="4.7" fill="#30e1db"/><circle cx="192.8" cy="798.8" r="4.7" fill="#4ff4cd"/><circle cx="201.2" cy="800" r="4.7" fill="#66fcc2"/><circle cx="209.6" cy="801.2" r="4.7" fill="#6efebe"/><circle cx="218" cy="802.4" r="4.7" fill="#76ffb9"/><circle cx="226.4" cy="803.6" r="4.7" fill="#7effb5"/><circle cx="234.8" cy="804.8" r="4.7" fill="#85ffb1"/><circle cx="243.2" cy="806.1" r="4.7" fill="#8dfead"/><circle cx="251.6" cy="807.3" r="4.7" fill="#a0faa1"/><circle cx="260" cy="808.5" r="4.7" fill="#b8f092"/><circle cx="268.4" cy="809.7" r="4.7" fill="#c5e88a"/><circle cx="276.8" cy="810.9" r="4.7" fill="#d6dc7f"/><circle cx="285.2" cy="812.1" r="4.7" fill="#edc76f"/><circle cx="293.6" cy="813.3" r="4.7" fill="#efc56d"/><circle cx="302" cy="814.5" r="4.7" fill="#f2c36b"/><circle cx="310.4" cy="815.8" r="4.7" fill="#f4c06a"/><circle cx="318.8" cy="817" r="4.7" fill="#f7bd68"/><circle cx="327.2" cy="818.2" r="4.7" fill="#ffaf5e"/><circle cx="335.6" cy="819.4" r="4.7" fill="#ff8e4a"/><circle cx="344" cy="820.6" r="4.7" fill="#ff8344"/><circle cx="67.1" cy="788.9" r="4.7" fill="#652afe"/><circle cx="75.5" cy="790.1" r="4.7" fill="#632cfe"/><circle cx="83.9" cy="791.3" r="4.7" fill="#6130fe"/><circle cx="92.3" cy="792.6" r="4.7" fill="#5d35fe"/><circle cx="100.7" cy="793.8" r="4.7" fill="#396bf9"/><circle cx="109.1" cy="795" r="4.7" fill="#3274f8"/><circle cx="117.4" cy="796.3" r="4.7" fill="#2c7ef7"/><circle cx="125.8" cy="797.5" r="4.7" fill="#2588f5"/><circle cx="134.2" cy="798.7" r="4.7" fill="#1d91f3"/><circle cx="142.6" cy="799.9" r="4.7" fill="#02b2ec"/><circle cx="151" cy="801.2" r="4.7" fill="#14c9e5"/><circle cx="159.4" cy="802.4" r="4.7" fill="#1cd0e2"/><circle cx="167.8" cy="803.6" r="4.7" fill="#23d7e0"/><circle cx="176.2" cy="804.9" r="4.7" fill="#2bdddd"/><circle cx="184.6" cy="806.1" r="4.7" fill="#31e2da"/><circle cx="192.9" cy="807.3" r="4.7" fill="#50f4cd"/><circle cx="201.3" cy="808.5" r="4.7" fill="#65fcc2"/><circle cx="209.7" cy="809.8" r="4.7" fill="#6cfdbf"/><circle cx="218.1" cy="811" r="4.7" fill="#73febb"/><circle cx="226.5" cy="812.2" r="4.7" fill="#79ffb8"/><circle cx="234.9" cy="813.4" r="4.7" fill="#7fffb5"/><circle cx="243.3" cy="814.7" r="4.7" fill="#86ffb1"/><circle cx="251.7" cy="815.9" r="4.7" fill="#98fca6"/><circle cx="260.1" cy="817.1" r="4.7" fill="#b1f397"/><circle cx="268.5" cy="818.4" r="4.7" fill="#beec8f"/><circle cx="276.8" cy="819.6" r="4.7" fill="#d0e183"/><circle cx="285.2" cy="820.8" r="4.7" fill="#e8cc72"/><circle cx="293.6" cy="822" r="4.7" fill="#ecc86f"/><circle cx="302" cy="823.3" r="4.7" fill="#f0c46c"/><circle cx="310.4" cy="824.5" r="4.7" fill="#f5bf69"/><circle cx="318.8" cy="825.7" r="4.7" fill="#faba65"/><circle cx="327.2" cy="827" r="4.7" fill="#ffa95a"/><circle cx="335.6" cy="828.2" r="4.7" fill="#ff8445"/><circle cx="344" cy="829.4" r="4.7" fill="#ff773d"/><circle cx="67.3" cy="797.2" r="4.7" fill="#632dfe"/><circle cx="75.7" cy="798.4" r="4.7" fill="#6031fe"/><circle cx="84.1" cy="799.7" r="4.7" fill="#5d36fe"/><circle cx="92.5" cy="800.9" r="4.7" fill="#583dfd"/><circle cx="100.8" cy="802.2" r="4.7" fill="#3472f8"/><circle cx="109.2" cy="803.4" r="4.7" fill="#2e7bf7"/><circle cx="117.6" cy="804.6" r="4.7" fill="#2884f6"/><circle cx="126" cy="805.9" r="4.7" fill="#228bf4"/><circle cx="134.4" cy="807.1" r="4.7" fill="#1c93f3"/><circle cx="142.8" cy="808.4" r="4.7" fill="#03b1ec"/><circle cx="151.1" cy="809.6" r="4.7" fill="#12c7e6"/><circle cx="159.5" cy="810.9" r="4.7" fill="#17cce4"/><circle cx="167.9" cy="812.1" r="4.7" fill="#1dd1e2"/><circle cx="176.3" cy="813.3" r="4.7" fill="#22d6e0"/><circle cx="184.7" cy="814.6" r="4.7" fill="#27dade"/><circle cx="193.1" cy="815.8" r="4.7" fill="#44eed2"/><circle cx="201.4" cy="817.1" r="4.7" fill="#59f8c9"/><circle cx="209.8" cy="818.3" r="4.7" fill="#5ffac5"/><circle cx="218.2" cy="819.6" r="4.7" fill="#66fcc2"/><circle cx="226.6" cy="820.8" r="4.7" fill="#6dfdbe"/><circle cx="235" cy="822.1" r="4.7" fill="#74feba"/><circle cx="243.3" cy="823.3" r="4.7" fill="#7dffb6"/><circle cx="251.7" cy="824.5" r="4.7" fill="#91fdaa"/><circle cx="260.1" cy="825.8" r="4.7" fill="#abf69a"/><circle cx="268.5" cy="827" r="4.7" fill="#bbee90"/><circle cx="276.9" cy="828.3" r="4.7" fill="#cfe183"/><circle cx="285.3" cy="829.5" r="4.7" fill="#eaca71"/><circle cx="293.6" cy="830.8" r="4.7" fill="#f0c46c"/><circle cx="302" cy="832" r="4.7" fill="#f6be68"/><circle cx="310.4" cy="833.2" r="4.7" fill="#fcb764"/><circle cx="318.8" cy="834.5" r="4.7" fill="#ffb15f"/><circle cx="327.2" cy="835.7" r="4.7" fill="#ff9e54"/><circle cx="335.6" cy="837" r="4.7" fill="#ff793e"/><circle cx="343.9" cy="838.2" r="4.7" fill="#ff6c37"/><circle cx="67.5" cy="805.5" r="4.7" fill="#583dfd"/><circle cx="75.9" cy="806.7" r="4.7" fill="#5640fd"/><circle cx="84.3" cy="808" r="4.7" fill="#5542fd"/><circle cx="92.6" cy="809.3" r="4.7" fill="#5246fd"/><circle cx="101" cy="810.5" r="4.7" fill="#3077f7"/><circle cx="109.4" cy="811.8" r="4.7" fill="#2d7df7"/><circle cx="117.8" cy="813" r="4.7" fill="#2982f6"/><circle cx="126.1" cy="814.3" r="4.7" fill="#2686f5"/><circle cx="134.5" cy="815.6" r="4.7" fill="#228bf5"/><circle cx="142.9" cy="816.8" r="4.7" fill="#0ba8ef"/><circle cx="151.3" cy="818.1" r="4.7" fill="#08bde9"/><circle cx="159.7" cy="819.3" r="4.7" fill="#0cc1e8"/><circle cx="168" cy="820.6" r="4.7" fill="#11c6e6"/><circle cx="176.4" cy="821.8" r="4.7" fill="#16cbe4"/><circle cx="184.8" cy="823.1" r="4.7" fill="#1bd0e3"/><circle cx="193.2" cy="824.4" r="4.7" fill="#39e7d7"/><circle cx="201.5" cy="825.6" r="4.7" fill="#4ff4cd"/><circle cx="209.9" cy="826.9" r="4.7" fill="#57f7c9"/><circle cx="218.3" cy="828.1" r="4.7" fill="#60fac5"/><circle cx="226.7" cy="829.4" r="4.7" fill="#69fcc1"/><circle cx="235" cy="830.7" r="4.7" fill="#72febc"/><circle cx="243.4" cy="831.9" r="4.7" fill="#7cffb6"/><circle cx="251.8" cy="833.2" r="4.7" fill="#92fdaa"/><circle cx="260.2" cy="834.4" r="4.7" fill="#adf599"/><circle cx="268.5" cy="835.7" r="4.7" fill="#beec8f"/><circle cx="276.9" cy="836.9" r="4.7" fill="#d3de81"/><circle cx="285.3" cy="838.2" r="4.7" fill="#edc76e"/><circle cx="293.7" cy="839.5" r="4.7" fill="#f3c16a"/><circle cx="302" cy="840.7" r="4.7" fill="#f8bc67"/><circle cx="310.4" cy="842" r="4.7" fill="#fdb763"/><circle cx="318.8" cy="843.2" r="4.7" fill="#ffb260"/><circle cx="327.2" cy="844.5" r="4.7" fill="#ffa156"/><circle cx="335.5" cy="845.8" r="4.7" fill="#ff7e41"/><circle cx="343.9" cy="847" r="4.7" fill="#ff733b"/><circle cx="67.7" cy="813.8" r="4.7" fill="#5345fd"/><circle cx="76.1" cy="815.1" r="4.7" fill="#5444fd"/><circle cx="84.5" cy="816.3" r="4.7" fill="#5443fd"/><circle cx="92.8" cy="817.6" r="4.7" fill="#5443fd"/><circle cx="101.2" cy="818.9" r="4.7" fill="#3473f8"/><circle cx="109.6" cy="820.2" r="4.7" fill="#3176f8"/><circle cx="117.9" cy="821.4" r="4.7" fill="#2f7af7"/><circle cx="126.3" cy="822.7" r="4.7" fill="#2c7ef7"/><circle cx="134.7" cy="824" r="4.7" fill="#2883f6"/><circle cx="143" cy="825.2" r="4.7" fill="#11a1f0"/><circle cx="151.4" cy="826.5" r="4.7" fill="#03b7eb"/><circle cx="159.8" cy="827.8" r="4.7" fill="#08bde9"/><circle cx="168.2" cy="829.1" r="4.7" fill="#0ec4e7"/><circle cx="176.5" cy="830.3" r="4.7" fill="#15cae5"/><circle cx="184.9" cy="831.6" r="4.7" fill="#1cd0e2"/><circle cx="193.3" cy="832.9" r="4.7" fill="#3be8d6"/><circle cx="201.6" cy="834.2" r="4.7" fill="#51f5cc"/><circle cx="210" cy="835.4" r="4.7" fill="#5af8c8"/><circle cx="218.4" cy="836.7" r="4.7" fill="#63fbc3"/><circle cx="226.7" cy="838" r="4.7" fill="#6cfdbf"/><circle cx="235.1" cy="839.3" r="4.7" fill="#75feba"/><circle cx="243.5" cy="840.5" r="4.7" fill="#7effb5"/><circle cx="251.8" cy="841.8" r="4.7" fill="#92fdaa"/><circle cx="260.2" cy="843.1" r="4.7" fill="#acf69a"/><circle cx="268.6" cy="844.4" r="4.7" fill="#baee91"/><circle cx="277" cy="845.6" r="4.7" fill="#cde385"/><circle cx="285.3" cy="846.9" r="4.7" fill="#e6ce74"/><circle cx="293.7" cy="848.2" r="4.7" fill="#e9cb71"/><circle cx="302.1" cy="849.4" r="4.7" fill="#edc76e"/><circle cx="310.4" cy="850.7" r="4.7" fill="#f1c46c"/><circle cx="318.8" cy="852" r="4.7" fill="#f4c069"/><circle cx="327.2" cy="853.3" r="4.7" fill="#ffb15f"/><circle cx="335.5" cy="854.5" r="4.7" fill="#ff8f4b"/><circle cx="343.9" cy="855.8" r="4.7" fill="#ff8444"/><circle cx="67.9" cy="822.1" r="4.7" fill="#5641fd"/><circle cx="76.3" cy="823.4" r="4.7" fill="#5640fd"/><circle cx="84.6" cy="824.7" r="4.7" fill="#5640fd"/><circle cx="93" cy="825.9" r="4.7" fill="#5542fd"/><circle cx="101.4" cy="827.2" r="4.7" fill="#3473f8"/><circle cx="109.7" cy="828.5" r="4.7" fill="#3079f7"/><circle cx="118.1" cy="829.8" r="4.7" fill="#2b7ef6"/><circle cx="126.5" cy="831.1" r="4.7" fill="#2785f6"/><circle cx="134.8" cy="832.4" r="4.7" fill="#228bf4"/><circle cx="143.2" cy="833.7" r="4.7" fill="#09aaee"/><circle cx="151.5" cy="835" r="4.7" fill="#0cc1e8"/><circle cx="159.9" cy="836.3" r="4.7" fill="#12c7e6"/><circle cx="168.3" cy="837.5" r="4.7" fill="#18cde4"/><circle cx="176.6" cy="838.8" r="4.7" fill="#1ed3e1"/><circle cx="185" cy="840.1" r="4.7" fill="#24d8df"/><circle cx="193.4" cy="841.4" r="4.7" fill="#42edd3"/><circle cx="201.7" cy="842.7" r="4.7" fill="#57f7c9"/><circle cx="210.1" cy="844" r="4.7" fill="#5efac6"/><circle cx="218.5" cy="845.3" r="4.7" fill="#64fbc3"/><circle cx="226.8" cy="846.6" r="4.7" fill="#6bfdc0"/><circle cx="235.2" cy="847.9" r="4.7" fill="#71febc"/><circle cx="243.5" cy="849.2" r="4.7" fill="#78ffb9"/><circle cx="251.9" cy="850.4" r="4.7" fill="#89ffaf"/><circle cx="260.3" cy="851.7" r="4.7" fill="#a1faa1"/><circle cx="268.6" cy="853" r="4.7" fill="#aef599"/><circle cx="277" cy="854.3" r="4.7" fill="#bfec8e"/><circle cx="285.4" cy="855.6" r="4.7" fill="#d7da7d"/><circle cx="293.7" cy="856.9" r="4.7" fill="#dbd77b"/><circle cx="302.1" cy="858.2" r="4.7" fill="#dfd478"/><circle cx="310.4" cy="859.5" r="4.7" fill="#e4d075"/><circle cx="318.8" cy="860.8" r="4.7" fill="#e9cb71"/><circle cx="327.2" cy="862" r="4.7" fill="#f9bb66"/><circle cx="335.5" cy="863.3" r="4.7" fill="#ff9850"/><circle cx="343.9" cy="864.6" r="4.7" fill="#ff8b48"/><circle cx="68.1" cy="830.4" r="4.7" fill="#5444fd"/><circle cx="76.5" cy="831.7" r="4.7" fill="#5247fc"/><circle cx="84.8" cy="833" r="4.7" fill="#504afc"/><circle cx="93.2" cy="834.3" r="4.7" fill="#4c4ffc"/><circle cx="101.5" cy="835.6" r="4.7" fill="#2982f6"/><circle cx="109.9" cy="836.9" r="4.7" fill="#2389f5"/><circle cx="118.3" cy="838.2" r="4.7" fill="#1e90f4"/><circle cx="126.6" cy="839.5" r="4.7" fill="#1996f2"/><circle cx="135" cy="840.8" r="4.7" fill="#149cf1"/><circle cx="143.3" cy="842.1" r="4.7" fill="#04b9ea"/><circle cx="151.7" cy="843.4" r="4.7" fill="#17cce4"/><circle cx="160" cy="844.7" r="4.7" fill="#1cd0e2"/><circle cx="168.4" cy="846" r="4.7" fill="#20d4e1"/><circle cx="176.8" cy="847.3" r="4.7" fill="#24d8df"/><circle cx="185.1" cy="848.6" r="4.7" fill="#28dbde"/><circle cx="193.5" cy="849.9" r="4.7" fill="#43edd3"/><circle cx="201.8" cy="851.2" r="4.7" fill="#56f7ca"/><circle cx="210.2" cy="852.6" r="4.7" fill="#5af8c8"/><circle cx="218.5" cy="853.9" r="4.7" fill="#5ffac5"/><circle cx="226.9" cy="855.2" r="4.7" fill="#64fbc3"/><circle cx="235.2" cy="856.5" r="4.7" fill="#69fdc0"/><circle cx="243.6" cy="857.8" r="4.7" fill="#6ffebd"/><circle cx="252" cy="859.1" r="4.7" fill="#81ffb3"/><circle cx="260.3" cy="860.4" r="4.7" fill="#99fca6"/><circle cx="268.7" cy="861.7" r="4.7" fill="#a7f89d"/><circle cx="277" cy="863" r="4.7" fill="#b9ef92"/><circle cx="285.4" cy="864.3" r="4.7" fill="#d3de81"/><circle cx="293.7" cy="865.6" r="4.7" fill="#d8da7d"/><circle cx="302.1" cy="866.9" r="4.7" fill="#ddd679"/><circle cx="310.5" cy="868.2" r="4.7" fill="#e3d075"/><circle cx="318.8" cy="869.5" r="4.7" fill="#e9cb71"/><circle cx="327.2" cy="870.8" r="4.7" fill="#f9ba66"/><circle cx="335.5" cy="872.1" r="4.7" fill="#ff9750"/><circle cx="343.9" cy="873.4" r="4.7" fill="#ff8a48"/><circle cx="68.3" cy="838.7" r="4.7" fill="#4c50fc"/><circle cx="76.7" cy="840" r="4.7" fill="#4855fb"/><circle cx="85" cy="841.3" r="4.7" fill="#4659fb"/><circle cx="93.4" cy="842.6" r="4.7" fill="#425efa"/><circle cx="101.7" cy="844" r="4.7" fill="#1f8ff4"/><circle cx="110.1" cy="845.3" r="4.7" fill="#1b95f3"/><circle cx="118.4" cy="846.6" r="4.7" fill="#169af2"/><circle cx="126.8" cy="847.9" r="4.7" fill="#139ef1"/><circle cx="135.1" cy="849.2" r="4.7" fill="#10a2f0"/><circle cx="143.5" cy="850.6" r="4.7" fill="#07bce9"/><circle cx="151.8" cy="851.9" r="4.7" fill="#19cde4"/><circle cx="160.2" cy="853.2" r="4.7" fill="#1cd0e2"/><circle cx="168.5" cy="854.5" r="4.7" fill="#1fd3e1"/><circle cx="176.9" cy="855.8" r="4.7" fill="#22d6e0"/><circle cx="185.2" cy="857.2" r="4.7" fill="#25d8df"/><circle cx="193.6" cy="858.5" r="4.7" fill="#40ecd4"/><circle cx="201.9" cy="859.8" r="4.7" fill="#53f6cb"/><circle cx="210.3" cy="861.1" r="4.7" fill="#59f8c8"/><circle cx="218.6" cy="862.4" r="4.7" fill="#5ffac6"/><circle cx="227" cy="863.7" r="4.7" fill="#65fcc3"/><circle cx="235.3" cy="865.1" r="4.7" fill="#6bfdbf"/><circle cx="243.7" cy="866.4" r="4.7" fill="#73febb"/><circle cx="252" cy="867.7" r="4.7" fill="#86ffb1"/><circle cx="260.4" cy="869" r="4.7" fill="#9ffaa2"/><circle cx="268.7" cy="870.3" r="4.7" fill="#adf599"/><circle cx="277.1" cy="871.7" r="4.7" fill="#c0eb8d"/><circle cx="285.4" cy="873" r="4.7" fill="#dad97c"/><circle cx="293.8" cy="874.3" r="4.7" fill="#ded579"/><circle cx="302.1" cy="875.6" r="4.7" fill="#e3d176"/><circle cx="310.5" cy="876.9" r="4.7" fill="#e7cd73"/><circle cx="318.8" cy="878.3" r="4.7" fill="#ebc970"/><circle cx="327.2" cy="879.6" r="4.7" fill="#f9bb66"/><circle cx="335.5" cy="880.9" r="4.7" fill="#ff9b52"/><circle cx="343.9" cy="882.2" r="4.7" fill="#ff914c"/><circle cx="68.5" cy="847" r="4.7" fill="#4a53fc"/><circle cx="76.9" cy="848.3" r="4.7" fill="#4855fb"/><circle cx="85.2" cy="849.6" r="4.7" fill="#4758fb"/><circle cx="93.6" cy="851" r="4.7" fill="#455bfb"/><circle cx="101.9" cy="852.3" r="4.7" fill="#238af5"/><circle cx="110.2" cy="853.6" r="4.7" fill="#1f8ff4"/><circle cx="118.6" cy="855" r="4.7" fill="#1c93f3"/><circle cx="126.9" cy="856.3" r="4.7" fill="#1897f2"/><circle cx="135.3" cy="857.7" r="4.7" fill="#159bf1"/><circle cx="143.6" cy="859" r="4.7" fill="#02b6eb"/><circle cx="152" cy="860.3" r="4.7" fill="#15cae5"/><circle cx="160.3" cy="861.7" r="4.7" fill="#19cee3"/><circle cx="168.6" cy="863" r="4.7" fill="#1ed2e2"/><circle cx="177" cy="864.3" r="4.7" fill="#23d7e0"/><circle cx="185.3" cy="865.7" r="4.7" fill="#28dbde"/><circle cx="193.7" cy="867" r="4.7" fill="#46efd1"/><circle cx="202" cy="868.3" r="4.7" fill="#5bf9c7"/><circle cx="210.4" cy="869.7" r="4.7" fill="#62fbc4"/><circle cx="218.7" cy="871" r="4.7" fill="#6afdc0"/><circle cx="227" cy="872.3" r="4.7" fill="#71febc"/><circle cx="235.4" cy="873.7" r="4.7" fill="#78ffb8"/><circle cx="243.7" cy="875" r="4.7" fill="#80ffb4"/><circle cx="252.1" cy="876.3" r="4.7" fill="#92fdaa"/><circle cx="260.4" cy="877.7" r="4.7" fill="#aaf69b"/><circle cx="268.8" cy="879" r="4.7" fill="#b7f093"/><circle cx="277.1" cy="880.3" r="4.7" fill="#c8e688"/><circle cx="285.4" cy="881.7" r="4.7" fill="#dfd478"/><circle cx="293.8" cy="883" r="4.7" fill="#e1d377"/><circle cx="302.1" cy="884.4" r="4.7" fill="#e3d176"/><circle cx="310.5" cy="885.7" r="4.7" fill="#e4cf75"/><circle cx="318.8" cy="887" r="4.7" fill="#e6ce74"/><circle cx="327.2" cy="888.4" r="4.7" fill="#f2c36b"/><circle cx="335.5" cy="889.7" r="4.7" fill="#ffa659"/><circle cx="343.8" cy="891" r="4.7" fill="#ff9e54"/><circle cx="68.7" cy="855.3" r="4.7" fill="#5542fd"/><circle cx="77.1" cy="856.6" r="4.7" fill="#5443fd"/><circle cx="85.4" cy="858" r="4.7" fill="#5345fd"/><circle cx="93.7" cy="859.3" r="4.7" fill="#5049fc"/><circle cx="102.1" cy="860.7" r="4.7" fill="#2d7cf7"/><circle cx="110.4" cy="862" r="4.7" fill="#2882f6"/><circle cx="118.8" cy="863.4" r="4.7" fill="#2389f5"/><circle cx="127.1" cy="864.7" r="4.7" fill="#1e91f3"/><circle cx="135.4" cy="866.1" r="4.7" fill="#1898f2"/><circle cx="143.8" cy="867.4" r="4.7" fill="#02b6eb"/><circle cx="152.1" cy="868.8" r="4.7" fill="#17cce4"/><circle cx="160.4" cy="870.1" r="4.7" fill="#1ed3e2"/><circle cx="168.8" cy="871.5" r="4.7" fill="#25d9df"/><circle cx="177.1" cy="872.8" r="4.7" fill="#2cdedc"/><circle cx="185.4" cy="874.2" r="4.7" fill="#33e3d9"/><circle cx="193.8" cy="875.5" r="4.7" fill="#51f5cc"/><circle cx="202.1" cy="876.9" r="4.7" fill="#67fcc1"/><circle cx="210.4" cy="878.2" r="4.7" fill="#6efebe"/><circle cx="218.8" cy="879.6" r="4.7" fill="#75feba"/><circle cx="227.1" cy="880.9" r="4.7" fill="#7bffb7"/><circle cx="235.5" cy="882.3" r="4.7" fill="#81ffb4"/><circle cx="243.8" cy="883.6" r="4.7" fill="#87ffb0"/><circle cx="252.1" cy="885" r="4.7" fill="#97fca7"/><circle cx="260.5" cy="886.3" r="4.7" fill="#adf599"/><circle cx="268.8" cy="887.7" r="4.7" fill="#b8f093"/><circle cx="277.1" cy="889" r="4.7" fill="#c7e789"/><circle cx="285.5" cy="890.4" r="4.7" fill="#dcd77a"/><circle cx="293.8" cy="891.7" r="4.7" fill="#ddd67a"/><circle cx="302.1" cy="893.1" r="4.7" fill="#ded579"/><circle cx="310.5" cy="894.4" r="4.7" fill="#dfd478"/><circle cx="318.8" cy="895.8" r="4.7" fill="#e1d277"/><circle cx="327.2" cy="897.1" r="4.7" fill="#edc76e"/><circle cx="335.5" cy="898.5" r="4.7" fill="#ffaa5b"/><circle cx="343.8" cy="899.8" r="4.7" fill="#ffa156"/><circle cx="68.9" cy="863.6" r="4.7" fill="#6130fe"/><circle cx="77.3" cy="864.9" r="4.7" fill="#5e34fe"/><circle cx="85.6" cy="866.3" r="4.7" fill="#5b39fd"/><circle cx="93.9" cy="867.7" r="4.7" fill="#5640fd"/><circle cx="102.3" cy="869" r="4.7" fill="#3177f8"/><circle cx="110.6" cy="870.4" r="4.7" fill="#2a80f6"/><circle cx="118.9" cy="871.8" r="4.7" fill="#238af5"/><circle cx="127.2" cy="873.1" r="4.7" fill="#1b94f3"/><circle cx="135.6" cy="874.5" r="4.7" fill="#149df1"/><circle cx="143.9" cy="875.9" r="4.7" fill="#06bbea"/><circle cx="152.2" cy="877.2" r="4.7" fill="#1cd1e2"/><circle cx="160.6" cy="878.6" r="4.7" fill="#24d7e0"/><circle cx="168.9" cy="880" r="4.7" fill="#2adddd"/><circle cx="177.2" cy="881.3" r="4.7" fill="#31e1da"/><circle cx="185.6" cy="882.7" r="4.7" fill="#36e5d8"/><circle cx="193.9" cy="884.1" r="4.7" fill="#53f6cb"/><circle cx="202.2" cy="885.4" r="4.7" fill="#68fcc1"/><circle cx="210.5" cy="886.8" r="4.7" fill="#6dfdbe"/><circle cx="218.9" cy="888.1" r="4.7" fill="#73febb"/><circle cx="227.2" cy="889.5" r="4.7" fill="#78ffb8"/><circle cx="235.5" cy="890.9" r="4.7" fill="#7dffb6"/><circle cx="243.9" cy="892.2" r="4.7" fill="#82ffb3"/><circle cx="252.2" cy="893.6" r="4.7" fill="#93fda9"/><circle cx="260.5" cy="895" r="4.7" fill="#a9f79c"/><circle cx="268.8" cy="896.3" r="4.7" fill="#b4f295"/><circle cx="277.2" cy="897.7" r="4.7" fill="#c5e88a"/><circle cx="285.5" cy="899.1" r="4.7" fill="#dcd77b"/><circle cx="293.8" cy="900.4" r="4.7" fill="#ded579"/><circle cx="302.2" cy="901.8" r="4.7" fill="#e1d277"/><circle cx="310.5" cy="903.2" r="4.7" fill="#e4cf75"/><circle cx="318.8" cy="904.5" r="4.7" fill="#e8cc72"/><circle cx="327.2" cy="905.9" r="4.7" fill="#f5bf68"/><circle cx="335.5" cy="907.3" r="4.7" fill="#ff9f54"/><circle cx="343.8" cy="908.6" r="4.7" fill="#ff954e"/><circle cx="69.1" cy="871.9" r="4.7" fill="#6130fe"/><circle cx="77.5" cy="873.2" r="4.7" fill="#5d36fe"/><circle cx="85.8" cy="874.6" r="4.7" fill="#593cfd"/><circle cx="94.1" cy="876" r="4.7" fill="#5443fd"/><circle cx="102.4" cy="877.4" r="4.7" fill="#2e7af7"/><circle cx="110.8" cy="878.8" r="4.7" fill="#2883f6"/><circle cx="119.1" cy="880.1" r="4.7" fill="#218cf4"/><circle cx="127.4" cy="881.5" r="4.7" fill="#1b94f3"/><circle cx="135.7" cy="882.9" r="4.7" fill="#159bf2"/><circle cx="144" cy="884.3" r="4.7" fill="#03b8eb"/><circle cx="152.4" cy="885.7" r="4.7" fill="#18cde4"/><circle cx="160.7" cy="887.1" r="4.7" fill="#1dd2e2"/><circle cx="169" cy="888.4" r="4.7" fill="#22d6e0"/><circle cx="177.3" cy="889.8" r="4.7" fill="#27dade"/><circle cx="185.7" cy="891.2" r="4.7" fill="#2cdedc"/><circle cx="194" cy="892.6" r="4.7" fill="#49f1d0"/><circle cx="202.3" cy="894" r="4.7" fill="#5df9c6"/><circle cx="210.6" cy="895.3" r="4.7" fill="#64fbc3"/><circle cx="219" cy="896.7" r="4.7" fill="#6afdc0"/><circle cx="227.3" cy="898.1" r="4.7" fill="#71febc"/><circle cx="235.6" cy="899.5" r="4.7" fill="#78ffb8"/><circle cx="243.9" cy="900.9" r="4.7" fill="#80ffb4"/><circle cx="252.2" cy="902.2" r="4.7" fill="#92fdaa"/><circle cx="260.6" cy="903.6" r="4.7" fill="#abf69b"/><circle cx="268.9" cy="905" r="4.7" fill="#b9ef92"/><circle cx="277.2" cy="906.4" r="4.7" fill="#cbe486"/><circle cx="285.5" cy="907.8" r="4.7" fill="#e4d075"/><circle cx="293.9" cy="909.2" r="4.7" fill="#e8cc72"/><circle cx="302.2" cy="910.5" r="4.7" fill="#ecc86f"/><circle cx="310.5" cy="911.9" r="4.7" fill="#f0c46c"/><circle cx="318.8" cy="913.3" r="4.7" fill="#f3c16a"/><circle cx="327.2" cy="914.7" r="4.7" fill="#ffb360"/><circle cx="335.5" cy="916.1" r="4.7" fill="#ff934d"/><circle cx="343.8" cy="917.4" r="4.7" fill="#ff8a48"/><circle cx="69.3" cy="880.2" r="4.7" fill="#5d36fe"/><circle cx="77.7" cy="881.6" r="4.7" fill="#5a3afd"/><circle cx="86" cy="882.9" r="4.7" fill="#593cfd"/><circle cx="94.3" cy="884.3" r="4.7" fill="#5640fd"/><circle cx="102.6" cy="885.7" r="4.7" fill="#3176f8"/><circle cx="110.9" cy="887.1" r="4.7" fill="#2d7cf7"/><circle cx="119.2" cy="888.5" r="4.7" fill="#2982f6"/><circle cx="127.6" cy="889.9" r="4.7" fill="#2587f5"/><circle cx="135.9" cy="891.3" r="4.7" fill="#218cf4"/><circle cx="144.2" cy="892.7" r="4.7" fill="#09aaee"/><circle cx="152.5" cy="894.1" r="4.7" fill="#0abfe8"/><circle cx="160.8" cy="895.5" r="4.7" fill="#10c5e7"/><circle cx="169.1" cy="896.9" r="4.7" fill="#15cae5"/><circle cx="177.5" cy="898.3" r="4.7" fill="#1bd0e3"/><circle cx="185.8" cy="899.7" r="4.7" fill="#22d5e0"/><circle cx="194.1" cy="901.1" r="4.7" fill="#40ecd4"/><circle cx="202.4" cy="902.5" r="4.7" fill="#57f7ca"/><circle cx="210.7" cy="903.9" r="4.7" fill="#5ffac5"/><circle cx="219" cy="905.3" r="4.7" fill="#68fcc1"/><circle cx="227.4" cy="906.7" r="4.7" fill="#71febc"/><circle cx="235.7" cy="908.1" r="4.7" fill="#7bffb7"/><circle cx="244" cy="909.5" r="4.7" fill="#84ffb2"/><circle cx="252.3" cy="910.9" r="4.7" fill="#98fca6"/><circle cx="260.6" cy="912.3" r="4.7" fill="#b2f396"/><circle cx="268.9" cy="913.7" r="4.7" fill="#c0eb8d"/><circle cx="277.3" cy="915.1" r="4.7" fill="#d3de81"/><circle cx="285.6" cy="916.5" r="4.7" fill="#ebc970"/><circle cx="293.9" cy="917.9" r="4.7" fill="#eec66d"/><circle cx="302.2" cy="919.3" r="4.7" fill="#f1c36b"/><circle cx="310.5" cy="920.7" r="4.7" fill="#f4c06a"/><circle cx="318.8" cy="922.1" r="4.7" fill="#f6be68"/><circle cx="327.1" cy="923.5" r="4.7" fill="#ffb260"/><circle cx="335.5" cy="924.8" r="4.7" fill="#ff934d"/><circle cx="343.8" cy="926.2" r="4.7" fill="#ff8c49"/><circle cx="69.5" cy="888.5" r="4.7" fill="#6032fe"/><circle cx="77.9" cy="889.9" r="4.7" fill="#6031fe"/><circle cx="86.2" cy="891.3" r="4.7" fill="#6031fe"/><circle cx="94.5" cy="892.7" r="4.7" fill="#5f32fe"/><circle cx="102.8" cy="894.1" r="4.7" fill="#3a6af9"/><circle cx="111.1" cy="895.5" r="4.7" fill="#366ff9"/><circle cx="119.4" cy="896.9" r="4.7" fill="#3374f8"/><circle cx="127.7" cy="898.3" r="4.7" fill="#2e7af7"/><circle cx="136" cy="899.7" r="4.7" fill="#2a81f6"/><circle cx="144.3" cy="901.2" r="4.7" fill="#11a1f0"/><circle cx="152.6" cy="902.6" r="4.7" fill="#04b9ea"/><circle cx="161" cy="904" r="4.7" fill="#0bc0e8"/><circle cx="169.3" cy="905.4" r="4.7" fill="#12c7e6"/><circle cx="177.6" cy="906.8" r="4.7" fill="#1acee3"/><circle cx="185.9" cy="908.2" r="4.7" fill="#21d5e0"/><circle cx="194.2" cy="909.6" r="4.7" fill="#41ecd3"/><circle cx="202.5" cy="911" r="4.7" fill="#59f8c9"/><circle cx="210.8" cy="912.5" r="4.7" fill="#62fbc4"/><circle cx="219.1" cy="913.9" r="4.7" fill="#6bfdbf"/><circle cx="227.4" cy="915.3" r="4.7" fill="#74febb"/><circle cx="235.7" cy="916.7" r="4.7" fill="#7cffb6"/><circle cx="244" cy="918.1" r="4.7" fill="#84ffb2"/><circle cx="252.4" cy="919.5" r="4.7" fill="#97fca7"/><circle cx="260.7" cy="920.9" r="4.7" fill="#aff498"/><circle cx="269" cy="922.3" r="4.7" fill="#bced90"/><circle cx="277.3" cy="923.8" r="4.7" fill="#cde284"/><circle cx="285.6" cy="925.2" r="4.7" fill="#e4cf75"/><circle cx="293.9" cy="926.6" r="4.7" fill="#e7cd73"/><circle cx="302.2" cy="928" r="4.7" fill="#e9cb71"/><circle cx="310.5" cy="929.4" r="4.7" fill="#ebc970"/><circle cx="318.8" cy="930.8" r="4.7" fill="#edc76e"/><circle cx="327.1" cy="932.2" r="4.7" fill="#faba65"/><circle cx="335.5" cy="933.6" r="4.7" fill="#ff9b52"/><circle cx="343.8" cy="935" r="4.7" fill="#ff924c"/><circle cx="69.8" cy="896.8" r="4.7" fill="#6628fe"/><circle cx="78.1" cy="898.2" r="4.7" fill="#6628fe"/><circle cx="86.4" cy="899.6" r="4.7" fill="#6628fe"/><circle cx="94.7" cy="901" r="4.7" fill="#642bfe"/><circle cx="103" cy="902.5" r="4.7" fill="#3a6af9"/><circle cx="111.3" cy="903.9" r="4.7" fill="#3571f8"/><circle cx="119.6" cy="905.3" r="4.7" fill="#3078f7"/><circle cx="127.9" cy="906.7" r="4.7" fill="#2a80f6"/><circle cx="136.2" cy="908.2" r="4.7" fill="#2587f5"/><circle cx="144.5" cy="909.6" r="4.7" fill="#0ba8ef"/><circle cx="152.8" cy="911" r="4.7" fill="#0abfe8"/><circle cx="161.1" cy="912.5" r="4.7" fill="#11c6e6"/><circle cx="169.4" cy="913.9" r="4.7" fill="#18cde4"/><circle cx="177.7" cy="915.3" r="4.7" fill="#1fd3e1"/><circle cx="186" cy="916.7" r="4.7" fill="#25d8df"/><circle cx="194.3" cy="918.2" r="4.7" fill="#43edd3"/><circle cx="202.6" cy="919.6" r="4.7" fill="#58f8c9"/><circle cx="210.9" cy="921" r="4.7" fill="#5ffac5"/><circle cx="219.2" cy="922.4" r="4.7" fill="#66fcc2"/><circle cx="227.5" cy="923.9" r="4.7" fill="#6dfdbe"/><circle cx="235.8" cy="925.3" r="4.7" fill="#73febb"/><circle cx="244.1" cy="926.7" r="4.7" fill="#79ffb8"/><circle cx="252.4" cy="928.1" r="4.7" fill="#8bfeae"/><circle cx="260.7" cy="929.6" r="4.7" fill="#a2f9a0"/><circle cx="269" cy="931" r="4.7" fill="#aff498"/><circle cx="277.3" cy="932.4" r="4.7" fill="#c0eb8d"/><circle cx="285.6" cy="933.9" r="4.7" fill="#d8da7d"/><circle cx="293.9" cy="935.3" r="4.7" fill="#dcd77b"/><circle cx="302.2" cy="936.7" r="4.7" fill="#dfd478"/><circle cx="310.5" cy="938.1" r="4.7" fill="#e4d075"/><circle cx="318.8" cy="939.6" r="4.7" fill="#e8cc72"/><circle cx="327.1" cy="941" r="4.7" fill="#f7bd67"/><circle cx="335.4" cy="942.4" r="4.7" fill="#ff9b52"/><circle cx="343.8" cy="943.9" r="4.7" fill="#ff8f4b"/><circle cx="70" cy="905" r="4.7" fill="#632cfe"/><circle cx="78.2" cy="906.5" r="4.7" fill="#612ffe"/><circle cx="86.5" cy="907.9" r="4.7" fill="#5f32fe"/><circle cx="94.8" cy="909.4" r="4.7" fill="#5c37fd"/><circle cx="103.1" cy="910.8" r="4.7" fill="#2e7bf7"/><circle cx="111.4" cy="912.3" r="4.7" fill="#2982f6"/><circle cx="119.7" cy="913.7" r="4.7" fill="#2489f5"/><circle cx="128" cy="915.1" r="4.7" fill="#1f8ff4"/><circle cx="136.3" cy="916.6" r="4.7" fill="#1a95f3"/><circle cx="144.6" cy="918" r="4.7" fill="#02b2ec"/><circle cx="152.9" cy="919.5" r="4.7" fill="#11c6e6"/><circle cx="161.2" cy="920.9" r="4.7" fill="#15cae5"/><circle cx="169.5" cy="922.4" r="4.7" fill="#1acee3"/><circle cx="177.8" cy="923.8" r="4.7" fill="#1ed2e2"/><circle cx="186.1" cy="925.2" r="4.7" fill="#22d5e0"/><circle cx="194.4" cy="926.7" r="4.7" fill="#3dead5"/><circle cx="202.7" cy="928.1" r="4.7" fill="#51f4cc"/><circle cx="211" cy="929.6" r="4.7" fill="#56f7ca"/><circle cx="219.3" cy="931" r="4.7" fill="#5cf9c7"/><circle cx="227.6" cy="932.5" r="4.7" fill="#62fbc4"/><circle cx="235.9" cy="933.9" r="4.7" fill="#68fcc1"/><circle cx="244.2" cy="935.3" r="4.7" fill="#6ffebd"/><circle cx="252.5" cy="936.8" r="4.7" fill="#81ffb4"/><circle cx="260.8" cy="938.2" r="4.7" fill="#9afca5"/><circle cx="269.1" cy="939.7" r="4.7" fill="#a8f79d"/><circle cx="277.4" cy="941.1" r="4.7" fill="#bbee91"/><circle cx="285.7" cy="942.6" r="4.7" fill="#d4dd80"/><circle cx="294" cy="944" r="4.7" fill="#dad97c"/><circle cx="302.3" cy="945.4" r="4.7" fill="#dfd478"/><circle cx="310.5" cy="946.9" r="4.7" fill="#e5cf74"/><circle cx="318.8" cy="948.3" r="4.7" fill="#ebc970"/><circle cx="327.1" cy="949.8" r="4.7" fill="#fab965"/><circle cx="335.4" cy="951.2" r="4.7" fill="#ff9750"/><circle cx="343.7" cy="952.7" r="4.7" fill="#ff8b48"/><circle cx="70.2" cy="913.3" r="4.7" fill="#5a3bfd"/><circle cx="78.4" cy="914.8" r="4.7" fill="#573efd"/><circle cx="86.7" cy="916.3" r="4.7" fill="#5641fd"/><circle cx="95" cy="917.7" r="4.7" fill="#5344fd"/><circle cx="103.3" cy="919.2" r="4.7" fill="#2489f5"/><circle cx="111.6" cy="920.6" r="4.7" fill="#208df4"/><circle cx="119.9" cy="922.1" r="4.7" fill="#1d91f3"/><circle cx="128.2" cy="923.5" r="4.7" fill="#1a95f3"/><circle cx="136.5" cy="925" r="4.7" fill="#1898f2"/><circle cx="144.8" cy="926.5" r="4.7" fill="#02b2ec"/><circle cx="153.1" cy="927.9" r="4.7" fill="#0fc5e7"/><circle cx="161.3" cy="929.4" r="4.7" fill="#13c8e6"/><circle cx="169.6" cy="930.8" r="4.7" fill="#16cbe5"/><circle cx="177.9" cy="932.3" r="4.7" fill="#19cee3"/><circle cx="186.2" cy="933.8" r="4.7" fill="#1dd1e2"/><circle cx="194.5" cy="935.2" r="4.7" fill="#39e7d7"/><circle cx="202.8" cy="936.7" r="4.7" fill="#4df3ce"/><circle cx="211.1" cy="938.1" r="4.7" fill="#53f5cb"/><circle cx="219.4" cy="939.6" r="4.7" fill="#5af8c8"/><circle cx="227.7" cy="941" r="4.7" fill="#61fbc4"/><circle cx="236" cy="942.5" r="4.7" fill="#69fcc0"/><circle cx="244.2" cy="944" r="4.7" fill="#71febc"/><circle cx="252.5" cy="945.4" r="4.7" fill="#84ffb2"/><circle cx="260.8" cy="946.9" r="4.7" fill="#9efba3"/><circle cx="269.1" cy="948.3" r="4.7" fill="#acf59a"/><circle cx="277.4" cy="949.8" r="4.7" fill="#bfec8e"/><circle cx="285.7" cy="951.3" r="4.7" fill="#d9da7d"/><circle cx="294" cy="952.7" r="4.7" fill="#ddd67a"/><circle cx="302.3" cy="954.2" r="4.7" fill="#e1d277"/><circle cx="310.6" cy="955.6" r="4.7" fill="#e5ce74"/><circle cx="318.8" cy="957.1" r="4.7" fill="#e9cb71"/><circle cx="327.1" cy="958.5" r="4.7" fill="#f7bd68"/><circle cx="335.4" cy="960" r="4.7" fill="#ff9e54"/><circle cx="343.7" cy="961.5" r="4.7" fill="#ff954e"/><circle cx="70.4" cy="921.6" r="4.7" fill="#583efd"/><circle cx="78.6" cy="923.1" r="4.7" fill="#573ffd"/><circle cx="86.9" cy="924.6" r="4.7" fill="#5740fd"/><circle cx="95.2" cy="926.1" r="4.7" fill="#5641fd"/><circle cx="103.5" cy="927.5" r="4.7" fill="#2586f5"/><circle cx="111.8" cy="929" r="4.7" fill="#238af5"/><circle cx="120.1" cy="930.5" r="4.7" fill="#208df4"/><circle cx="128.3" cy="932" r="4.7" fill="#1d91f3"/><circle cx="136.6" cy="933.4" r="4.7" fill="#1a95f3"/><circle cx="144.9" cy="934.9" r="4.7" fill="#04b0ed"/><circle cx="153.2" cy="936.4" r="4.7" fill="#0fc4e7"/><circle cx="161.5" cy="937.8" r="4.7" fill="#13c9e5"/><circle cx="169.8" cy="939.3" r="4.7" fill="#18cde4"/><circle cx="178" cy="940.8" r="4.7" fill="#1dd2e2"/><circle cx="186.3" cy="942.3" r="4.7" fill="#23d7e0"/><circle cx="194.6" cy="943.7" r="4.7" fill="#40ecd4"/><circle cx="202.9" cy="945.2" r="4.7" fill="#56f7ca"/><circle cx="211.2" cy="946.7" r="4.7" fill="#5df9c6"/><circle cx="219.5" cy="948.2" r="4.7" fill="#65fcc3"/><circle cx="227.7" cy="949.6" r="4.7" fill="#6cfdbf"/><circle cx="236" cy="951.1" r="4.7" fill="#73febb"/><circle cx="244.3" cy="952.6" r="4.7" fill="#7affb7"/><circle cx="252.6" cy="954.1" r="4.7" fill="#8cfead"/><circle cx="260.9" cy="955.5" r="4.7" fill="#a4f99f"/><circle cx="269.2" cy="957" r="4.7" fill="#b0f497"/><circle cx="277.4" cy="958.5" r="4.7" fill="#c1eb8d"/><circle cx="285.7" cy="959.9" r="4.7" fill="#d8da7d"/><circle cx="294" cy="961.4" r="4.7" fill="#dad97c"/><circle cx="302.3" cy="962.9" r="4.7" fill="#dcd77b"/><circle cx="310.6" cy="964.4" r="4.7" fill="#ddd679"/><circle cx="318.9" cy="965.8" r="4.7" fill="#dfd478"/><circle cx="327.1" cy="967.3" r="4.7" fill="#ebc970"/><circle cx="335.4" cy="968.8" r="4.7" fill="#ffad5d"/><circle cx="343.7" cy="970.3" r="4.7" fill="#ffa457"/><circle cx="70.6" cy="929.9" r="4.7" fill="#6031fe"/><circle cx="78.8" cy="931.4" r="4.7" fill="#5f33fe"/><circle cx="87.1" cy="932.9" r="4.7" fill="#5e34fe"/><circle cx="95.4" cy="934.4" r="4.7" fill="#5c38fd"/><circle cx="103.7" cy="935.9" r="4.7" fill="#2b7ff6"/><circle cx="111.9" cy="937.4" r="4.7" fill="#2686f5"/><circle cx="120.2" cy="938.9" r="4.7" fill="#218cf4"/><circle cx="128.5" cy="940.4" r="4.7" fill="#1c93f3"/><circle cx="136.8" cy="941.8" r="4.7" fill="#169af2"/><circle cx="145.1" cy="943.3" r="4.7" fill="#03b7eb"/><circle cx="153.3" cy="944.8" r="4.7" fill="#18cde4"/><circle cx="161.6" cy="946.3" r="4.7" fill="#1ed2e2"/><circle cx="169.9" cy="947.8" r="4.7" fill="#24d8df"/><circle cx="178.2" cy="949.3" r="4.7" fill="#2adddd"/><circle cx="186.4" cy="950.8" r="4.7" fill="#30e1db"/><circle cx="194.7" cy="952.3" r="4.7" fill="#4ef3ce"/><circle cx="203" cy="953.8" r="4.7" fill="#62fbc4"/><circle cx="211.3" cy="955.2" r="4.7" fill="#69fcc1"/><circle cx="219.5" cy="956.7" r="4.7" fill="#6efebe"/><circle cx="227.8" cy="958.2" r="4.7" fill="#74febb"/><circle cx="236.1" cy="959.7" r="4.7" fill="#79ffb8"/><circle cx="244.4" cy="961.2" r="4.7" fill="#7effb5"/><circle cx="252.6" cy="962.7" r="4.7" fill="#8dfeac"/><circle cx="260.9" cy="964.2" r="4.7" fill="#a3f9a0"/><circle cx="269.2" cy="965.7" r="4.7" fill="#adf599"/><circle cx="277.5" cy="967.2" r="4.7" fill="#bced8f"/><circle cx="285.8" cy="968.6" r="4.7" fill="#d2df81"/><circle cx="294" cy="970.1" r="4.7" fill="#d3de80"/><circle cx="302.3" cy="971.6" r="4.7" fill="#d5dd7f"/><circle cx="310.6" cy="973.1" r="4.7" fill="#d7db7e"/><circle cx="318.9" cy="974.6" r="4.7" fill="#d9d97c"/><circle cx="327.1" cy="976.1" r="4.7" fill="#e7cd73"/><circle cx="335.4" cy="977.6" r="4.7" fill="#ffb15f"/><circle cx="343.7" cy="979.1" r="4.7" fill="#ffa759"/><circle cx="70.8" cy="938.2" r="4.7" fill="#6529fe"/><circle cx="79" cy="939.7" r="4.7" fill="#622efe"/><circle cx="87.3" cy="941.2" r="4.7" fill="#5f33fe"/><circle cx="95.6" cy="942.7" r="4.7" fill="#5a3bfd"/><circle cx="103.8" cy="944.3" r="4.7" fill="#2982f6"/><circle cx="112.1" cy="945.8" r="4.7" fill="#228bf4"/><circle cx="120.4" cy="947.3" r="4.7" fill="#1b94f3"/><circle cx="128.7" cy="948.8" r="4.7" fill="#149cf1"/><circle cx="136.9" cy="950.3" r="4.7" fill="#0ea4f0"/><circle cx="145.2" cy="951.8" r="4.7" fill="#0cc1e8"/><circle cx="153.5" cy="953.3" r="4.7" fill="#20d5e1"/><circle cx="161.7" cy="954.8" r="4.7" fill="#26dade"/><circle cx="170" cy="956.3" r="4.7" fill="#2cdedc"/><circle cx="178.3" cy="957.8" r="4.7" fill="#31e2da"/><circle cx="186.5" cy="959.3" r="4.7" fill="#35e5d9"/><circle cx="194.8" cy="960.8" r="4.7" fill="#51f5cc"/><circle cx="203.1" cy="962.3" r="4.7" fill="#64fbc3"/><circle cx="211.4" cy="963.8" r="4.7" fill="#69fdc0"/><circle cx="219.6" cy="965.3" r="4.7" fill="#6efdbe"/><circle cx="227.9" cy="966.8" r="4.7" fill="#72febc"/><circle cx="236.2" cy="968.3" r="4.7" fill="#77ffb9"/><circle cx="244.4" cy="969.8" r="4.7" fill="#7bffb7"/><circle cx="252.7" cy="971.3" r="4.7" fill="#8bfeae"/><circle cx="261" cy="972.8" r="4.7" fill="#a1f9a1"/><circle cx="269.2" cy="974.3" r="4.7" fill="#adf599"/><circle cx="277.5" cy="975.8" r="4.7" fill="#bded8f"/><circle cx="285.8" cy="977.3" r="4.7" fill="#d4dd80"/><circle cx="294.1" cy="978.8" r="4.7" fill="#d7db7e"/><circle cx="302.3" cy="980.3" r="4.7" fill="#dad87c"/><circle cx="310.6" cy="981.8" r="4.7" fill="#ded579"/><circle cx="318.9" cy="983.4" r="4.7" fill="#e2d277"/><circle cx="327.1" cy="984.9" r="4.7" fill="#f0c56d"/><circle cx="335.4" cy="986.4" r="4.7" fill="#ffa659"/><circle cx="343.7" cy="987.9" r="4.7" fill="#ff9c52"/><circle cx="71" cy="946.5" r="4.7" fill="#6130fe"/><circle cx="79.2" cy="948.1" r="4.7" fill="#5d36fe"/><circle cx="87.5" cy="949.6" r="4.7" fill="#583dfd"/><circle cx="95.8" cy="951.1" r="4.7" fill="#5444fd"/><circle cx="104" cy="952.6" r="4.7" fill="#2686f5"/><circle cx="112.3" cy="954.1" r="4.7" fill="#208ef4"/><circle cx="120.5" cy="955.6" r="4.7" fill="#1a96f3"/><circle cx="128.8" cy="957.2" r="4.7" fill="#149cf1"/><circle cx="137.1" cy="958.7" r="4.7" fill="#0fa2f0"/><circle cx="145.3" cy="960.2" r="4.7" fill="#09bee9"/><circle cx="153.6" cy="961.7" r="4.7" fill="#1cd1e2"/><circle cx="161.9" cy="963.2" r="4.7" fill="#21d5e0"/><circle cx="170.1" cy="964.8" r="4.7" fill="#26d9df"/><circle cx="178.4" cy="966.3" r="4.7" fill="#2adcdd"/><circle cx="186.7" cy="967.8" r="4.7" fill="#2ee0db"/><circle cx="194.9" cy="969.3" r="4.7" fill="#4af1cf"/><circle cx="203.2" cy="970.8" r="4.7" fill="#5efac6"/><circle cx="211.4" cy="972.4" r="4.7" fill="#64fbc3"/><circle cx="219.7" cy="973.9" r="4.7" fill="#6bfdc0"/><circle cx="228" cy="975.4" r="4.7" fill="#71febc"/><circle cx="236.2" cy="976.9" r="4.7" fill="#78ffb9"/><circle cx="244.5" cy="978.4" r="4.7" fill="#7fffb5"/><circle cx="252.8" cy="980" r="4.7" fill="#91feaa"/><circle cx="261" cy="981.5" r="4.7" fill="#a9f79c"/><circle cx="269.3" cy="983" r="4.7" fill="#b7f093"/><circle cx="277.6" cy="984.5" r="4.7" fill="#c9e587"/><circle cx="285.8" cy="986" r="4.7" fill="#e1d277"/><circle cx="294.1" cy="987.6" r="4.7" fill="#e5cf74"/><circle cx="302.3" cy="989.1" r="4.7" fill="#e8cc72"/><circle cx="310.6" cy="990.6" r="4.7" fill="#ebc970"/><circle cx="318.9" cy="992.1" r="4.7" fill="#edc76e"/><circle cx="327.1" cy="993.6" r="4.7" fill="#faba65"/><circle cx="335.4" cy="995.1" r="4.7" fill="#ff9c52"/><circle cx="343.7" cy="996.7" r="4.7" fill="#ff944e"/><circle cx="71.2" cy="954.8" r="4.7" fill="#5d36fe"/><circle cx="79.4" cy="956.4" r="4.7" fill="#5b39fd"/><circle cx="87.7" cy="957.9" r="4.7" fill="#593cfd"/><circle cx="95.9" cy="959.4" r="4.7" fill="#5641fd"/><circle cx="104.2" cy="961" r="4.7" fill="#2d7cf7"/><circle cx="112.5" cy="962.5" r="4.7" fill="#2982f6"/><circle cx="120.7" cy="964" r="4.7" fill="#2587f5"/><circle cx="129" cy="965.6" r="4.7" fill="#208df4"/><circle cx="137.2" cy="967.1" r="4.7" fill="#1c93f3"/><circle cx="145.5" cy="968.6" r="4.7" fill="#04b0ed"/><circle cx="153.7" cy="970.2" r="4.7" fill="#10c5e7"/><circle cx="162" cy="971.7" r="4.7" fill="#16cbe5"/><circle cx="170.3" cy="973.2" r="4.7" fill="#1cd0e2"/><circle cx="178.5" cy="974.8" r="4.7" fill="#22d6e0"/><circle cx="186.8" cy="976.3" r="4.7" fill="#28dbde"/><circle cx="195" cy="977.8" r="4.7" fill="#47f0d1"/><circle cx="203.3" cy="979.4" r="4.7" fill="#5ef9c6"/><circle cx="211.5" cy="980.9" r="4.7" fill="#66fcc2"/><circle cx="219.8" cy="982.5" r="4.7" fill="#6ffebd"/><circle cx="228" cy="984" r="4.7" fill="#77ffb9"/><circle cx="236.3" cy="985.5" r="4.7" fill="#80ffb4"/><circle cx="244.6" cy="987.1" r="4.7" fill="#88ffaf"/><circle cx="252.8" cy="988.6" r="4.7" fill="#9bfba4"/><circle cx="261.1" cy="990.1" r="4.7" fill="#b4f295"/><circle cx="269.3" cy="991.7" r="4.7" fill="#c1ea8c"/><circle cx="277.6" cy="993.2" r="4.7" fill="#d3de81"/><circle cx="285.8" cy="994.7" r="4.7" fill="#eaca71"/><circle cx="294.1" cy="996.3" r="4.7" fill="#ecc86f"/><circle cx="302.4" cy="997.8" r="4.7" fill="#edc76e"/><circle cx="310.6" cy="999.3" r="4.7" fill="#efc56d"/><circle cx="318.9" cy="1000.9" r="4.7" fill="#f0c56d"/><circle cx="327.1" cy="1002.4" r="4.7" fill="#fbb965"/><circle cx="335.4" cy="1003.9" r="4.7" fill="#ff9d53"/><circle cx="343.6" cy="1005.5" r="4.7" fill="#ff964f"/><circle cx="71.4" cy="963.1" r="4.7" fill="#632dfe"/><circle cx="79.6" cy="964.7" r="4.7" fill="#632dfe"/><circle cx="87.9" cy="966.2" r="4.7" fill="#622efe"/><circle cx="96.1" cy="967.8" r="4.7" fill="#6031fe"/><circle cx="104.4" cy="969.3" r="4.7" fill="#3a6af9"/><circle cx="112.6" cy="970.9" r="4.7" fill="#3571f8"/><circle cx="120.9" cy="972.4" r="4.7" fill="#3078f7"/><circle cx="129.1" cy="974" r="4.7" fill="#2b7ff6"/><circle cx="137.4" cy="975.5" r="4.7" fill="#2587f5"/><circle cx="145.6" cy="977.1" r="4.7" fill="#0ba8ef"/><circle cx="153.9" cy="978.6" r="4.7" fill="#0bc0e8"/><circle cx="162.1" cy="980.2" r="4.7" fill="#12c8e6"/><circle cx="170.4" cy="981.7" r="4.7" fill="#1acfe3"/><circle cx="178.6" cy="983.3" r="4.7" fill="#22d6e0"/><circle cx="186.9" cy="984.8" r="4.7" fill="#2adddd"/><circle cx="195.1" cy="986.4" r="4.7" fill="#4af1cf"/><circle cx="203.4" cy="987.9" r="4.7" fill="#62fbc4"/><circle cx="211.6" cy="989.5" r="4.7" fill="#6afdc0"/><circle cx="219.9" cy="991" r="4.7" fill="#73febb"/><circle cx="228.1" cy="992.6" r="4.7" fill="#7bffb7"/><circle cx="236.4" cy="994.1" r="4.7" fill="#83ffb3"/><circle cx="244.6" cy="995.7" r="4.7" fill="#8afeae"/><circle cx="252.9" cy="997.2" r="4.7" fill="#9cfba4"/><circle cx="261.1" cy="998.8" r="4.7" fill="#b3f296"/><circle cx="269.4" cy="1000.3" r="4.7" fill="#bfec8e"/><circle cx="277.6" cy="1001.9" r="4.7" fill="#cfe183"/><circle cx="285.9" cy="1003.4" r="4.7" fill="#e5ce74"/><circle cx="294.1" cy="1005" r="4.7" fill="#e7cd73"/><circle cx="302.4" cy="1006.5" r="4.7" fill="#e8cc72"/><circle cx="310.6" cy="1008.1" r="4.7" fill="#eaca71"/><circle cx="318.9" cy="1009.6" r="4.7" fill="#ecc86f"/><circle cx="327.1" cy="1011.2" r="4.7" fill="#f8bc67"/><circle cx="335.4" cy="1012.7" r="4.7" fill="#ff9e54"/><circle cx="343.6" cy="1014.3" r="4.7" fill="#ff954e"/><circle cx="71.6" cy="971.4" r="4.7" fill="#6a21fe"/><circle cx="79.8" cy="973" r="4.7" fill="#6923fe"/><circle cx="88.1" cy="974.6" r="4.7" fill="#6825fe"/><circle cx="96.3" cy="976.1" r="4.7" fill="#652afe"/><circle cx="104.6" cy="977.7" r="4.7" fill="#3c68f9"/><circle cx="112.8" cy="979.2" r="4.7" fill="#3670f8"/><circle cx="121" cy="980.8" r="4.7" fill="#2f79f7"/><circle cx="129.3" cy="982.4" r="4.7" fill="#2982f6"/><circle cx="137.5" cy="983.9" r="4.7" fill="#228bf5"/><circle cx="145.8" cy="985.5" r="4.7" fill="#08abee"/><circle cx="154" cy="987.1" r="4.7" fill="#0ec3e7"/><circle cx="162.3" cy="988.6" r="4.7" fill="#15cbe5"/><circle cx="170.5" cy="990.2" r="4.7" fill="#1dd1e2"/><circle cx="178.7" cy="991.8" r="4.7" fill="#24d7e0"/><circle cx="187" cy="993.3" r="4.7" fill="#2adddd"/><circle cx="195.2" cy="994.9" r="4.7" fill="#48f0d0"/><circle cx="203.5" cy="996.5" r="4.7" fill="#5ef9c6"/><circle cx="211.7" cy="998" r="4.7" fill="#65fcc3"/><circle cx="220" cy="999.6" r="4.7" fill="#6bfdbf"/><circle cx="228.2" cy="1001.2" r="4.7" fill="#72febc"/><circle cx="236.4" cy="1002.7" r="4.7" fill="#78ffb8"/><circle cx="244.7" cy="1004.3" r="4.7" fill="#7fffb5"/><circle cx="252.9" cy="1005.9" r="4.7" fill="#90feab"/><circle cx="261.2" cy="1007.4" r="4.7" fill="#a8f79d"/><circle cx="269.4" cy="1009" r="4.7" fill="#b4f295"/><circle cx="277.7" cy="1010.6" r="4.7" fill="#c6e88a"/><circle cx="285.9" cy="1012.1" r="4.7" fill="#ded579"/><circle cx="294.1" cy="1013.7" r="4.7" fill="#e1d277"/><circle cx="302.4" cy="1015.3" r="4.7" fill="#e5cf74"/><circle cx="310.6" cy="1016.8" r="4.7" fill="#e9cb71"/><circle cx="318.9" cy="1018.4" r="4.7" fill="#edc76e"/><circle cx="327.1" cy="1019.9" r="4.7" fill="#fcb764"/><circle cx="335.4" cy="1021.5" r="4.7" fill="#ff964f"/><circle cx="343.6" cy="1023.1" r="4.7" fill="#ff8a48"/><circle cx="71.8" cy="979.7" r="4.7" fill="#6924fe"/><circle cx="80" cy="981.3" r="4.7" fill="#6627fe"/><circle cx="88.3" cy="982.9" r="4.7" fill="#642bfe"/><circle cx="96.5" cy="984.5" r="4.7" fill="#6130fe"/><circle cx="104.7" cy="986" r="4.7" fill="#3275f8"/><circle cx="113" cy="987.6" r="4.7" fill="#2d7df7"/><circle cx="121.2" cy="989.2" r="4.7" fill="#2784f6"/><circle cx="129.4" cy="990.8" r="4.7" fill="#228af5"/><circle cx="137.7" cy="992.4" r="4.7" fill="#1e91f4"/><circle cx="145.9" cy="993.9" r="4.7" fill="#06aeed"/><circle cx="154.1" cy="995.5" r="4.7" fill="#0ec3e7"/><circle cx="162.4" cy="997.1" r="4.7" fill="#13c8e6"/><circle cx="170.6" cy="998.7" r="4.7" fill="#17cce4"/><circle cx="178.9" cy="1000.3" r="4.7" fill="#1cd1e2"/><circle cx="187.1" cy="1001.8" r="4.7" fill="#21d5e1"/><circle cx="195.3" cy="1003.4" r="4.7" fill="#3dead5"/><circle cx="203.6" cy="1005" r="4.7" fill="#51f5cc"/><circle cx="211.8" cy="1006.6" r="4.7" fill="#57f7c9"/><circle cx="220" cy="1008.2" r="4.7" fill="#5efac6"/><circle cx="228.3" cy="1009.8" r="4.7" fill="#65fcc2"/><circle cx="236.5" cy="1011.3" r="4.7" fill="#6cfdbf"/><circle cx="244.8" cy="1012.9" r="4.7" fill="#74feba"/><circle cx="253" cy="1014.5" r="4.7" fill="#87ffb0"/><circle cx="261.2" cy="1016.1" r="4.7" fill="#a1faa1"/><circle cx="269.5" cy="1017.7" r="4.7" fill="#b0f498"/><circle cx="277.7" cy="1019.2" r="4.7" fill="#c3e98b"/><circle cx="285.9" cy="1020.8" r="4.7" fill="#ddd579"/><circle cx="294.2" cy="1022.4" r="4.7" fill="#e3d176"/><circle cx="302.4" cy="1024" r="4.7" fill="#e9cb72"/><circle cx="310.6" cy="1025.6" r="4.7" fill="#eec66e"/><circle cx="318.9" cy="1027.1" r="4.7" fill="#f3c16a"/><circle cx="327.1" cy="1028.7" r="4.7" fill="#ffb15f"/><circle cx="335.4" cy="1030.3" r="4.7" fill="#ff8e4a"/><circle cx="343.6" cy="1031.9" r="4.7" fill="#ff8344"/><circle cx="72" cy="988" r="4.7" fill="#6031fe"/><circle cx="80.2" cy="989.6" r="4.7" fill="#5f33fe"/><circle cx="88.4" cy="991.2" r="4.7" fill="#5e35fe"/><circle cx="96.7" cy="992.8" r="4.7" fill="#5c37fd"/><circle cx="104.9" cy="994.4" r="4.7" fill="#2b7ef6"/><circle cx="113.1" cy="996" r="4.7" fill="#2882f6"/><circle cx="121.4" cy="997.6" r="4.7" fill="#2686f5"/><circle cx="129.6" cy="999.2" r="4.7" fill="#238af5"/><circle cx="137.8" cy="1000.8" r="4.7" fill="#208df4"/><circle cx="146.1" cy="1002.4" r="4.7" fill="#0aa9ef"/><circle cx="154.3" cy="1004" r="4.7" fill="#08bde9"/><circle cx="162.5" cy="1005.6" r="4.7" fill="#0bc1e8"/><circle cx="170.7" cy="1007.2" r="4.7" fill="#0fc5e7"/><circle cx="179" cy="1008.8" r="4.7" fill="#14c9e5"/><circle cx="187.2" cy="1010.4" r="4.7" fill="#19cee4"/><circle cx="195.4" cy="1012" r="4.7" fill="#36e5d8"/><circle cx="203.7" cy="1013.6" r="4.7" fill="#4bf2cf"/><circle cx="211.9" cy="1015.1" r="4.7" fill="#53f5cb"/><circle cx="220.1" cy="1016.7" r="4.7" fill="#5bf9c7"/><circle cx="228.4" cy="1018.3" r="4.7" fill="#63fbc3"/><circle cx="236.6" cy="1019.9" r="4.7" fill="#6cfdbf"/><circle cx="244.8" cy="1021.5" r="4.7" fill="#75feba"/><circle cx="253" cy="1023.1" r="4.7" fill="#89ffaf"/><circle cx="261.3" cy="1024.7" r="4.7" fill="#a3f99f"/><circle cx="269.5" cy="1026.3" r="4.7" fill="#b2f396"/><circle cx="277.7" cy="1027.9" r="4.7" fill="#c6e789"/><circle cx="286" cy="1029.5" r="4.7" fill="#dfd478"/><circle cx="294.2" cy="1031.1" r="4.7" fill="#e4d075"/><circle cx="302.4" cy="1032.7" r="4.7" fill="#e8cc72"/><circle cx="310.7" cy="1034.3" r="4.7" fill="#ecc86f"/><circle cx="318.9" cy="1035.9" r="4.7" fill="#efc56d"/><circle cx="327.1" cy="1037.5" r="4.7" fill="#fdb763"/><circle cx="335.3" cy="1039.1" r="4.7" fill="#ff9750"/><circle cx="343.6" cy="1040.7" r="4.7" fill="#ff8e4a"/><circle cx="72.2" cy="996.3" r="4.7" fill="#5a3bfd"/><circle cx="80.4" cy="997.9" r="4.7" fill="#5a3afd"/><circle cx="88.6" cy="999.5" r="4.7" fill="#5b39fd"/><circle cx="96.9" cy="1001.1" r="4.7" fill="#5a3afd"/><circle cx="105.1" cy="1002.8" r="4.7" fill="#2d7cf7"/><circle cx="113.3" cy="1004.4" r="4.7" fill="#2b7ff6"/><circle cx="121.5" cy="1006" r="4.7" fill="#2882f6"/><circle cx="129.8" cy="1007.6" r="4.7" fill="#2686f5"/><circle cx="138" cy="1009.2" r="4.7" fill="#228af5"/><circle cx="146.2" cy="1010.8" r="4.7" fill="#0ba7ef"/><circle cx="154.4" cy="1012.4" r="4.7" fill="#08bde9"/><circle cx="162.6" cy="1014" r="4.7" fill="#0dc2e8"/><circle cx="170.9" cy="1015.6" r="4.7" fill="#12c7e6"/><circle cx="179.1" cy="1017.3" r="4.7" fill="#18cde4"/><circle cx="187.3" cy="1018.9" r="4.7" fill="#1ed3e1"/><circle cx="195.5" cy="1020.5" r="4.7" fill="#3cead5"/><circle cx="203.8" cy="1022.1" r="4.7" fill="#52f5cc"/><circle cx="212" cy="1023.7" r="4.7" fill="#5af8c8"/><circle cx="220.2" cy="1025.3" r="4.7" fill="#62fbc4"/><circle cx="228.4" cy="1026.9" r="4.7" fill="#6afdc0"/><circle cx="236.7" cy="1028.5" r="4.7" fill="#72febc"/><circle cx="244.9" cy="1030.2" r="4.7" fill="#79ffb8"/><circle cx="253.1" cy="1031.8" r="4.7" fill="#8cfead"/><circle cx="261.3" cy="1033.4" r="4.7" fill="#a3f99f"/><circle cx="269.6" cy="1035" r="4.7" fill="#b0f497"/><circle cx="277.8" cy="1036.6" r="4.7" fill="#c1ea8c"/><circle cx="286" cy="1038.2" r="4.7" fill="#d8da7d"/><circle cx="294.2" cy="1039.8" r="4.7" fill="#dbd87b"/><circle cx="302.4" cy="1041.4" r="4.7" fill="#ddd67a"/><circle cx="310.7" cy="1043" r="4.7" fill="#e0d478"/><circle cx="318.9" cy="1044.7" r="4.7" fill="#e2d176"/><circle cx="327.1" cy="1046.3" r="4.7" fill="#efc56d"/><circle cx="335.3" cy="1047.9" r="4.7" fill="#ffa859"/><circle cx="343.6" cy="1049.5" r="4.7" fill="#ff9e54"/><circle cx="72.4" cy="1004.6" r="4.7" fill="#583dfd"/><circle cx="80.6" cy="1006.2" r="4.7" fill="#583efd"/><circle cx="88.8" cy="1007.9" r="4.7" fill="#573ffd"/><circle cx="97" cy="1009.5" r="4.7" fill="#5541fd"/><circle cx="105.3" cy="1011.1" r="4.7" fill="#2d7cf7"/><circle cx="113.5" cy="1012.7" r="4.7" fill="#2882f6"/><circle cx="121.7" cy="1014.4" r="4.7" fill="#2489f5"/><circle cx="129.9" cy="1016" r="4.7" fill="#1f8ff4"/><circle cx="138.1" cy="1017.6" r="4.7" fill="#1a96f3"/><circle cx="146.3" cy="1019.2" r="4.7" fill="#01b3ec"/><circle cx="154.6" cy="1020.9" r="4.7" fill="#14c9e5"/><circle cx="162.8" cy="1022.5" r="4.7" fill="#1acee3"/><circle cx="171" cy="1024.1" r="4.7" fill="#1fd4e1"/><circle cx="179.2" cy="1025.8" r="4.7" fill="#25d8df"/><circle cx="187.4" cy="1027.4" r="4.7" fill="#2adddd"/><circle cx="195.6" cy="1029" r="4.7" fill="#47f0d1"/><circle cx="203.9" cy="1030.6" r="4.7" fill="#5cf9c7"/><circle cx="212.1" cy="1032.3" r="4.7" fill="#62fbc4"/><circle cx="220.3" cy="1033.9" r="4.7" fill="#67fcc1"/><circle cx="228.5" cy="1035.5" r="4.7" fill="#6cfdbf"/><circle cx="236.7" cy="1037.1" r="4.7" fill="#71febc"/><circle cx="244.9" cy="1038.8" r="4.7" fill="#76ffb9"/><circle cx="253.2" cy="1040.4" r="4.7" fill="#87ffb0"/><circle cx="261.4" cy="1042" r="4.7" fill="#9cfba4"/><circle cx="269.6" cy="1043.7" r="4.7" fill="#a8f79d"/><circle cx="277.8" cy="1045.3" r="4.7" fill="#b8f093"/><circle cx="286" cy="1046.9" r="4.7" fill="#cee284"/><circle cx="294.2" cy="1048.5" r="4.7" fill="#d1e082"/><circle cx="302.5" cy="1050.2" r="4.7" fill="#d4de80"/><circle cx="310.7" cy="1051.8" r="4.7" fill="#d7db7e"/><circle cx="318.9" cy="1053.4" r="4.7" fill="#dbd87b"/><circle cx="327.1" cy="1055" r="4.7" fill="#e9cb71"/><circle cx="335.3" cy="1056.7" r="4.7" fill="#ffad5d"/><circle cx="343.5" cy="1058.3" r="4.7" fill="#ffa155"/><circle cx="72.6" cy="1012.9" r="4.7" fill="#5542fd"/><circle cx="80.8" cy="1014.5" r="4.7" fill="#5247fc"/><circle cx="89" cy="1016.2" r="4.7" fill="#4f4bfc"/><circle cx="97.2" cy="1017.8" r="4.7" fill="#4b52fc"/><circle cx="105.4" cy="1019.5" r="4.7" fill="#2588f5"/><circle cx="113.6" cy="1021.1" r="4.7" fill="#1e90f4"/><circle cx="121.9" cy="1022.8" r="4.7" fill="#1997f2"/><circle cx="130.1" cy="1024.4" r="4.7" fill="#139ef1"/><circle cx="138.3" cy="1026" r="4.7" fill="#0ea4f0"/><circle cx="146.5" cy="1027.7" r="4.7" fill="#0bc0e8"/><circle cx="154.7" cy="1029.3" r="4.7" fill="#1ed3e1"/><circle cx="162.9" cy="1031" r="4.7" fill="#23d7e0"/><circle cx="171.1" cy="1032.6" r="4.7" fill="#27dade"/><circle cx="179.3" cy="1034.3" r="4.7" fill="#2bdddd"/><circle cx="187.5" cy="1035.9" r="4.7" fill="#2ee0db"/><circle cx="195.7" cy="1037.5" r="4.7" fill="#49f1d0"/><circle cx="204" cy="1039.2" r="4.7" fill="#5cf9c7"/><circle cx="212.2" cy="1040.8" r="4.7" fill="#60fac5"/><circle cx="220.4" cy="1042.5" r="4.7" fill="#65fcc3"/><circle cx="228.6" cy="1044.1" r="4.7" fill="#69fdc0"/><circle cx="236.8" cy="1045.7" r="4.7" fill="#6efdbe"/><circle cx="245" cy="1047.4" r="4.7" fill="#73febb"/><circle cx="253.2" cy="1049" r="4.7" fill="#83ffb2"/><circle cx="261.4" cy="1050.7" r="4.7" fill="#9afca5"/><circle cx="269.6" cy="1052.3" r="4.7" fill="#a6f89d"/><circle cx="277.8" cy="1054" r="4.7" fill="#b8f093"/><circle cx="286.1" cy="1055.6" r="4.7" fill="#d0e183"/><circle cx="294.3" cy="1057.2" r="4.7" fill="#d3de80"/><circle cx="302.5" cy="1058.9" r="4.7" fill="#d7da7d"/><circle cx="310.7" cy="1060.5" r="4.7" fill="#dcd77a"/><circle cx="318.9" cy="1062.2" r="4.7" fill="#e0d377"/><circle cx="327.1" cy="1063.8" r="4.7" fill="#efc56d"/><circle cx="335.3" cy="1065.5" r="4.7" fill="#ffa658"/><circle cx="343.5" cy="1067.1" r="4.7" fill="#ff9b52"/><circle cx="72.8" cy="1021.2" r="4.7" fill="#4f4bfc"/><circle cx="81" cy="1022.9" r="4.7" fill="#4b51fc"/><circle cx="89.2" cy="1024.5" r="4.7" fill="#4856fb"/><circle cx="97.4" cy="1026.2" r="4.7" fill="#445cfb"/><circle cx="105.6" cy="1027.8" r="4.7" fill="#208ef4"/><circle cx="113.8" cy="1029.5" r="4.7" fill="#1a95f3"/><circle cx="122" cy="1031.1" r="4.7" fill="#169bf2"/><circle cx="130.2" cy="1032.8" r="4.7" fill="#11a0f0"/><circle cx="138.4" cy="1034.5" r="4.7" fill="#0ea5ef"/><circle cx="146.6" cy="1036.1" r="4.7" fill="#0abfe9"/><circle cx="154.8" cy="1037.8" r="4.7" fill="#1cd1e2"/><circle cx="163" cy="1039.4" r="4.7" fill="#20d4e1"/><circle cx="171.2" cy="1041.1" r="4.7" fill="#23d7e0"/><circle cx="179.4" cy="1042.7" r="4.7" fill="#27dade"/><circle cx="187.6" cy="1044.4" r="4.7" fill="#2bdddd"/><circle cx="195.9" cy="1046.1" r="4.7" fill="#46efd1"/><circle cx="204.1" cy="1047.7" r="4.7" fill="#5af8c8"/><circle cx="212.3" cy="1049.4" r="4.7" fill="#60fac5"/><circle cx="220.5" cy="1051" r="4.7" fill="#66fcc2"/><circle cx="228.7" cy="1052.7" r="4.7" fill="#6cfdbf"/><circle cx="236.9" cy="1054.4" r="4.7" fill="#73febb"/><circle cx="245.1" cy="1056" r="4.7" fill="#7affb7"/><circle cx="253.3" cy="1057.7" r="4.7" fill="#8cfead"/><circle cx="261.5" cy="1059.3" r="4.7" fill="#a4f89f"/><circle cx="269.7" cy="1061" r="4.7" fill="#b2f396"/><circle cx="277.9" cy="1062.6" r="4.7" fill="#c4e98b"/><circle cx="286.1" cy="1064.3" r="4.7" fill="#dcd77b"/><circle cx="294.3" cy="1066" r="4.7" fill="#dfd478"/><circle cx="302.5" cy="1067.6" r="4.7" fill="#e2d176"/><circle cx="310.7" cy="1069.3" r="4.7" fill="#e5cf74"/><circle cx="318.9" cy="1070.9" r="4.7" fill="#e7cd72"/><circle cx="327.1" cy="1072.6" r="4.7" fill="#f4c06a"/><circle cx="335.3" cy="1074.2" r="4.7" fill="#ffa357"/><circle cx="343.5" cy="1075.9" r="4.7" fill="#ff9b52"/><circle cx="73" cy="1029.5" r="4.7" fill="#5148fc"/><circle cx="81.2" cy="1031.2" r="4.7" fill="#4f4bfc"/><circle cx="89.4" cy="1032.8" r="4.7" fill="#4d4efc"/><circle cx="97.6" cy="1034.5" r="4.7" fill="#4a52fc"/><circle cx="105.8" cy="1036.2" r="4.7" fill="#2883f6"/><circle cx="114" cy="1037.9" r="4.7" fill="#2488f5"/><circle cx="122.2" cy="1039.5" r="4.7" fill="#208ef4"/><circle cx="130.4" cy="1041.2" r="4.7" fill="#1c93f3"/><circle cx="138.6" cy="1042.9" r="4.7" fill="#1798f2"/><circle cx="146.8" cy="1044.6" r="4.7" fill="#00b5eb"/><circle cx="155" cy="1046.2" r="4.7" fill="#14c9e5"/><circle cx="163.2" cy="1047.9" r="4.7" fill="#1acfe3"/><circle cx="171.4" cy="1049.6" r="4.7" fill="#20d4e1"/><circle cx="179.6" cy="1051.2" r="4.7" fill="#26d9df"/><circle cx="187.8" cy="1052.9" r="4.7" fill="#2cdedc"/><circle cx="196" cy="1054.6" r="4.7" fill="#4af1cf"/><circle cx="204.2" cy="1056.3" r="4.7" fill="#60fac5"/><circle cx="212.3" cy="1057.9" r="4.7" fill="#68fcc1"/><circle cx="220.5" cy="1059.6" r="4.7" fill="#70febd"/><circle cx="228.7" cy="1061.3" r="4.7" fill="#78ffb8"/><circle cx="236.9" cy="1063" r="4.7" fill="#80ffb4"/><circle cx="245.1" cy="1064.6" r="4.7" fill="#87ffb0"/><circle cx="253.3" cy="1066.3" r="4.7" fill="#99fca6"/><circle cx="261.5" cy="1068" r="4.7" fill="#b1f397"/><circle cx="269.7" cy="1069.6" r="4.7" fill="#bded8f"/><circle cx="277.9" cy="1071.3" r="4.7" fill="#cde285"/><circle cx="286.1" cy="1073" r="4.7" fill="#e3d075"/><circle cx="294.3" cy="1074.7" r="4.7" fill="#e4cf75"/><circle cx="302.5" cy="1076.3" r="4.7" fill="#e5cf74"/><circle cx="310.7" cy="1078" r="4.7" fill="#e6ce73"/><circle cx="318.9" cy="1079.7" r="4.7" fill="#e7cd73"/><circle cx="327.1" cy="1081.4" r="4.7" fill="#f1c36b"/><circle cx="335.3" cy="1083" r="4.7" fill="#ffa85a"/><circle cx="343.5" cy="1084.7" r="4.7" fill="#ffa155"/>
</g>
<text x="-0.79" y="646" font-size="40" font-weight="bold" textLength="23.99" lengthAdjust="spacingAndGlyphs" stroke="#000" stroke-width="1.2">c</text>
<text><tspan x="25.07" y="684.5" font-size="27" textLength="17.24" lengthAdjust="spacingAndGlyphs">R</tspan><tspan x="41.96" y="671.8" font-size="19" textLength="10.58" lengthAdjust="spacingAndGlyphs">2</tspan><tspan> </tspan><tspan x="58.60" y="684.5" font-size="27" textLength="80.91" lengthAdjust="spacingAndGlyphs">= 0.94</tspan></text>
<text x="20.59" y="1086" font-size="21.5" textLength="46.87" lengthAdjust="spacingAndGlyphs">0.27</text>
<text x="93.96" y="1100.5" font-size="21.5" textLength="48.54" lengthAdjust="spacingAndGlyphs">0.32</text>
<text x="179.39" y="1117.7" font-size="21.5" textLength="47.08" lengthAdjust="spacingAndGlyphs">0.37</text>
<text x="267.46" y="1135" font-size="21.5" textLength="48.44" lengthAdjust="spacingAndGlyphs">0.42</text>
<text x="379.69" y="1124.7" font-size="21.5" textLength="46.97" lengthAdjust="spacingAndGlyphs">0.22</text>
<text x="430.67" y="1091.3" font-size="21.5" textLength="48.08" lengthAdjust="spacingAndGlyphs">0.25</text>
<text x="476.77" y="1063" font-size="21.5" textLength="47.97" lengthAdjust="spacingAndGlyphs">0.28</text>
<text x="518.74" y="1034" font-size="21.5" textLength="44.46" lengthAdjust="spacingAndGlyphs">0.31</text>
<text x="535.89" y="998.6" font-size="21.5" textLength="46.66" lengthAdjust="spacingAndGlyphs">0.27</text>
<text x="536.28" y="919.2" font-size="21.5" textLength="47.28" lengthAdjust="spacingAndGlyphs">0.32</text>
<text x="539.67" y="837.9" font-size="21.5" textLength="47.70" lengthAdjust="spacingAndGlyphs">0.37</text>
<text x="540.65" y="755.9" font-size="21.5" textLength="48.75" lengthAdjust="spacingAndGlyphs">0.42</text>
<text transform="translate(84.6 1138) rotate(12.1)" x="-2.27" y="0" font-size="25" textLength="171.94" lengthAdjust="spacingAndGlyphs">Normalized R</text>
<text transform="translate(451 1162.5) rotate(-34.4)" x="-2.16" y="0" font-size="25" textLength="165.13" lengthAdjust="spacingAndGlyphs">Normalized G</text>
<text transform="translate(613.3 876) rotate(90)" x="-85.52" y="0" font-size="25" textLength="170.25" lengthAdjust="spacingAndGlyphs">Normalized B</text>
<defs><linearGradient id="cbarc" x1="0" y1="0" x2="0" y2="1"><stop offset="0%" stop-color="#ff0000"/><stop offset="5%" stop-color="#ff2814"/><stop offset="10%" stop-color="#ff4f28"/><stop offset="15%" stop-color="#ff743c"/><stop offset="20%" stop-color="#ff964f"/><stop offset="25%" stop-color="#ffb462"/><stop offset="30%" stop-color="#e5ce74"/><stop offset="35%" stop-color="#cce385"/><stop offset="40%" stop-color="#b2f396"/><stop offset="45%" stop-color="#99fca6"/><stop offset="50%" stop-color="#80ffb4"/><stop offset="55%" stop-color="#66fcc2"/><stop offset="60%" stop-color="#4df3ce"/><stop offset="65%" stop-color="#33e3d9"/><stop offset="70%" stop-color="#1acee3"/><stop offset="75%" stop-color="#00b4ec"/><stop offset="80%" stop-color="#1a96f3"/><stop offset="85%" stop-color="#3374f8"/><stop offset="90%" stop-color="#4d4ffc"/><stop offset="95%" stop-color="#6628fe"/><stop offset="100%" stop-color="#8000ff"/></linearGradient></defs>
<rect x="655.2" y="748.8" width="34.4" height="336.4" fill="url(#cbarc)" stroke="#222" stroke-width="1"/>
<text x="705.89" y="779.4" font-size="21.5" textLength="13.42" lengthAdjust="spacingAndGlyphs">5</text>
<text x="706.34" y="869.9" font-size="21.5" textLength="12.57" lengthAdjust="spacingAndGlyphs">4</text>
<text x="705.89" y="959.2" font-size="21.5" textLength="13.42" lengthAdjust="spacingAndGlyphs">3</text>
<text x="705.56" y="1049.6" font-size="21.5" textLength="13.92" lengthAdjust="spacingAndGlyphs">2</text>
<path d="M689.6 772.7H697.7M689.6 863.2H697.7M689.6 952.5H697.7M689.6 1042.9H697.7" stroke="#222" stroke-width="1" fill="none"/>
<text x="656.20" y="734.7" font-size="25" textLength="33.88" lengthAdjust="spacingAndGlyphs">AR</text>
</g>
<g id="cube_d">
<path d="M853.8 750.3L862.8 1038.2M842.6 774L1028.9 688.6M1028.9 688.6L1340 736.2M1027.9 671.4L1029 698.7M1050.1 672.8L1050.5 704.8M972.8 696.7L973.2 720M914.9 722.6L915.5 746.3M1138.2 686.6L1138.3 718M1228.5 700.5L1228.6 733.2M1321.4 715.1L1313.7 998.7M1292.5 792L1332.4 798.7M1290.6 852.8L1328.6 860.4M1289.4 913.2L1327.3 921.1M1287.8 975L1325.8 981.9M844.7 839.4L871 826.2M846.3 903.7L873.2 891M849.5 965.4L875 951.2M851 1027.2L877 1014.5M862.8 1038.2L1158.5 1102.4M1158.5 1102.4L1312.8 996.1M1287.6 994.2L1323.7 999.9M866.9 1050.9L887.5 1039.8M955.5 1071.5L979.2 1058.8M1047.3 1092L1074.2 1073M1140.6 1112.6L1159.6 1101.5M1192.7 1062.5L1224.9 1069.2M1243.9 1027.4L1276.2 1034M1150 1099L1173.7 1106.2" stroke="#b4b4b4" stroke-width="1.7" fill="none"/><path d="M852.7 1042L1164.2 1111.9L1323.7 999.9L1333.7 713.2M1173.7 1106.2L1182.2 1107.7M1224.9 1069.2L1234.4 1070.5M1276.2 1034L1284.7 1035.6M1323.7 999.9L1328.5 1000.5M1332.4 798.7L1340 800M1328.6 860.4L1337 862M1327.3 921.1L1335 922.5M1325.8 981.9L1333.5 983.3M1333 736L1341 737.2M866.9 1050.9L872 1048M955.5 1071.5L960.5 1068.8M1047.3 1092L1052 1088.7M1140.6 1112.6L1145.5 1109.7" stroke="#111" stroke-width="1" fill="none"/>
<defs><clipPath id="dclip"><polygon points="868.9,769.5 1018.6,700.2 1292.5,745.5 1286.2,998.7 1152,1087.3 877.3,1028.1"/></clipPath><filter id="dblur" x="-5%" y="-5%" width="110%" height="110%"><feGaussianBlur stdDeviation="1.6"/></filter></defs>
<g id="dfaces">
<linearGradient id="d1" gradientUnits="userSpaceOnUse" x1="872" y1="768.1" x2="1156.9" y2="818.9"><stop offset="0%" stop-color="#93fda9"/><stop offset="8.3%" stop-color="#b4f295"/><stop offset="16.7%" stop-color="#c5e88a"/><stop offset="25%" stop-color="#d3de80"/><stop offset="33.3%" stop-color="#e1d277"/><stop offset="41.7%" stop-color="#efc56d"/><stop offset="50%" stop-color="#fdb663"/><stop offset="58.3%" stop-color="#ffa95a"/><stop offset="66.7%" stop-color="#ff9b52"/><stop offset="75%" stop-color="#ff924d"/><stop offset="83.3%" stop-color="#ff8e4a"/><stop offset="91.7%" stop-color="#ff8b48"/><stop offset="100%" stop-color="#ff8c49"/></linearGradient><polygon points="868.9,769.5 1154,820.5 1161.4,816.5 876.9,765.8" fill="url(#d1)"/><linearGradient id="d2" gradientUnits="userSpaceOnUse" x1="878.3" y1="765.2" x2="1162.7" y2="815.8"><stop offset="0%" stop-color="#8efeac"/><stop offset="8.3%" stop-color="#aff498"/><stop offset="16.7%" stop-color="#c0eb8d"/><stop offset="25%" stop-color="#cee284"/><stop offset="33.3%" stop-color="#dbd77b"/><stop offset="41.7%" stop-color="#e9cb71"/><stop offset="50%" stop-color="#f7bd67"/><stop offset="58.3%" stop-color="#ffb05f"/><stop offset="66.7%" stop-color="#ffa356"/><stop offset="75%" stop-color="#ff9a51"/><stop offset="83.3%" stop-color="#ff964f"/><stop offset="91.7%" stop-color="#ff934d"/><stop offset="100%" stop-color="#ff944e"/></linearGradient><polygon points="873.3,767.4 1158.1,818.3 1167.2,813.4 883.2,762.9" fill="url(#d2)"/><linearGradient id="d3" gradientUnits="userSpaceOnUse" x1="884.5" y1="762.3" x2="1168.4" y2="812.7"><stop offset="0%" stop-color="#88ffaf"/><stop offset="8.3%" stop-color="#a7f79d"/><stop offset="16.7%" stop-color="#b8f092"/><stop offset="25%" stop-color="#c6e889"/><stop offset="33.3%" stop-color="#d3de80"/><stop offset="41.7%" stop-color="#e1d377"/><stop offset="50%" stop-color="#eec66e"/><stop offset="58.3%" stop-color="#faba65"/><stop offset="66.7%" stop-color="#ffad5d"/><stop offset="75%" stop-color="#ffa558"/><stop offset="83.3%" stop-color="#ffa155"/><stop offset="91.7%" stop-color="#ff9d53"/><stop offset="100%" stop-color="#ff9e53"/></linearGradient><polygon points="879.6,764.6 1163.9,815.1 1173,810.2 889.4,760" fill="url(#d3)"/><linearGradient id="d4" gradientUnits="userSpaceOnUse" x1="890.7" y1="759.4" x2="1174.2" y2="809.6"><stop offset="0%" stop-color="#81ffb4"/><stop offset="8.3%" stop-color="#9efba3"/><stop offset="16.7%" stop-color="#aef498"/><stop offset="25%" stop-color="#bcee90"/><stop offset="33.3%" stop-color="#c9e587"/><stop offset="41.7%" stop-color="#d6dc7f"/><stop offset="50%" stop-color="#e3d075"/><stop offset="58.3%" stop-color="#eec66d"/><stop offset="66.7%" stop-color="#faba65"/><stop offset="75%" stop-color="#ffb260"/><stop offset="83.3%" stop-color="#ffad5d"/><stop offset="91.7%" stop-color="#ffa95b"/><stop offset="100%" stop-color="#ffa95a"/></linearGradient><polygon points="885.8,761.7 1169.7,812 1178.7,807.1 895.6,757.1" fill="url(#d4)"/><linearGradient id="d5" gradientUnits="userSpaceOnUse" x1="897" y1="756.5" x2="1180" y2="806.4"><stop offset="0%" stop-color="#78ffb8"/><stop offset="8.3%" stop-color="#93fda9"/><stop offset="16.7%" stop-color="#a3f99f"/><stop offset="25%" stop-color="#b0f497"/><stop offset="33.3%" stop-color="#bded8f"/><stop offset="41.7%" stop-color="#cae587"/><stop offset="50%" stop-color="#d7db7e"/><stop offset="58.3%" stop-color="#e2d276"/><stop offset="66.7%" stop-color="#edc76f"/><stop offset="75%" stop-color="#f4c069"/><stop offset="83.3%" stop-color="#f9bb66"/><stop offset="91.7%" stop-color="#fdb663"/><stop offset="100%" stop-color="#ffb562"/></linearGradient><polygon points="892.1,758.8 1175.4,808.9 1184.5,804 901.9,754.2" fill="url(#d5)"/><linearGradient id="d6" gradientUnits="userSpaceOnUse" x1="903.2" y1="753.6" x2="1185.7" y2="803.3"><stop offset="0%" stop-color="#6ffebd"/><stop offset="8.3%" stop-color="#88ffb0"/><stop offset="16.7%" stop-color="#97fca7"/><stop offset="25%" stop-color="#a3f99f"/><stop offset="33.3%" stop-color="#b0f498"/><stop offset="41.7%" stop-color="#bced90"/><stop offset="50%" stop-color="#c9e587"/><stop offset="58.3%" stop-color="#d4dd80"/><stop offset="66.7%" stop-color="#dfd478"/><stop offset="75%" stop-color="#e7cd73"/><stop offset="83.3%" stop-color="#ecc86f"/><stop offset="91.7%" stop-color="#f1c36c"/><stop offset="100%" stop-color="#f4c16a"/></linearGradient><polygon points="898.3,755.9 1181.2,805.8 1190.3,800.9 908.1,751.3" fill="url(#d6)"/><linearGradient id="d7" gradientUnits="userSpaceOnUse" x1="909.4" y1="750.7" x2="1191.5" y2="800.2"><stop offset="0%" stop-color="#65fcc3"/><stop offset="8.3%" stop-color="#7cffb6"/><stop offset="16.7%" stop-color="#8afeae"/><stop offset="25%" stop-color="#96fda7"/><stop offset="33.3%" stop-color="#a2f9a0"/><stop offset="41.7%" stop-color="#aef498"/><stop offset="50%" stop-color="#bbee91"/><stop offset="58.3%" stop-color="#c6e889"/><stop offset="66.7%" stop-color="#d1e082"/><stop offset="75%" stop-color="#d9d97d"/><stop offset="83.3%" stop-color="#dfd478"/><stop offset="91.7%" stop-color="#e4cf74"/><stop offset="100%" stop-color="#e8cc72"/></linearGradient><polygon points="904.5,753 1187,802.6 1196.1,797.7 914.4,748.5" fill="url(#d7)"/><linearGradient id="d8" gradientUnits="userSpaceOnUse" x1="915.7" y1="747.8" x2="1197.3" y2="797.1"><stop offset="0%" stop-color="#5af8c8"/><stop offset="8.3%" stop-color="#6ffebd"/><stop offset="16.7%" stop-color="#7dffb6"/><stop offset="25%" stop-color="#89ffaf"/><stop offset="33.3%" stop-color="#95fda8"/><stop offset="41.7%" stop-color="#a0faa1"/><stop offset="50%" stop-color="#acf59a"/><stop offset="58.3%" stop-color="#b7f093"/><stop offset="66.7%" stop-color="#c2ea8c"/><stop offset="75%" stop-color="#cbe486"/><stop offset="83.3%" stop-color="#d2df81"/><stop offset="91.7%" stop-color="#d8da7d"/><stop offset="100%" stop-color="#ddd67a"/></linearGradient><polygon points="910.8,750.1 1192.7,799.5 1201.8,794.6 920.6,745.6" fill="url(#d8)"/><linearGradient id="d9" gradientUnits="userSpaceOnUse" x1="921.9" y1="745" x2="1203.1" y2="793.9"><stop offset="0%" stop-color="#4ff4cd"/><stop offset="8.3%" stop-color="#62fbc4"/><stop offset="16.7%" stop-color="#6ffebd"/><stop offset="25%" stop-color="#7bffb7"/><stop offset="33.3%" stop-color="#87ffb0"/><stop offset="41.7%" stop-color="#93fda9"/><stop offset="50%" stop-color="#9efaa2"/><stop offset="58.3%" stop-color="#a9f79c"/><stop offset="66.7%" stop-color="#b4f295"/><stop offset="75%" stop-color="#bded8f"/><stop offset="83.3%" stop-color="#c5e88a"/><stop offset="91.7%" stop-color="#cce385"/><stop offset="100%" stop-color="#d2df81"/></linearGradient><polygon points="917,747.2 1198.5,796.4 1207.6,791.5 926.8,742.7" fill="url(#d9)"/><linearGradient id="d10" gradientUnits="userSpaceOnUse" x1="928.2" y1="742.1" x2="1208.8" y2="790.8"><stop offset="0%" stop-color="#44eed2"/><stop offset="8.3%" stop-color="#55f6ca"/><stop offset="16.7%" stop-color="#62fbc4"/><stop offset="25%" stop-color="#6efdbe"/><stop offset="33.3%" stop-color="#79ffb8"/><stop offset="41.7%" stop-color="#85ffb1"/><stop offset="50%" stop-color="#91feaa"/><stop offset="58.3%" stop-color="#9cfba4"/><stop offset="66.7%" stop-color="#a7f89d"/><stop offset="75%" stop-color="#b0f497"/><stop offset="83.3%" stop-color="#b9ef92"/><stop offset="91.7%" stop-color="#c1eb8d"/><stop offset="100%" stop-color="#c8e688"/></linearGradient><polygon points="923.2,744.3 1204.3,793.3 1213.4,788.3 933.1,739.8" fill="url(#d10)"/><linearGradient id="d11" gradientUnits="userSpaceOnUse" x1="934.4" y1="739.2" x2="1214.6" y2="787.7"><stop offset="0%" stop-color="#39e7d7"/><stop offset="8.3%" stop-color="#49f1d0"/><stop offset="16.7%" stop-color="#55f6ca"/><stop offset="25%" stop-color="#61fbc4"/><stop offset="33.3%" stop-color="#6dfdbe"/><stop offset="41.7%" stop-color="#78ffb8"/><stop offset="50%" stop-color="#84ffb2"/><stop offset="58.3%" stop-color="#8ffeab"/><stop offset="66.7%" stop-color="#9afca5"/><stop offset="75%" stop-color="#a4f99f"/><stop offset="83.3%" stop-color="#adf599"/><stop offset="91.7%" stop-color="#b6f193"/><stop offset="100%" stop-color="#bfec8e"/></linearGradient><polygon points="929.5,741.5 1210,790.1 1219.1,785.2 939.3,736.9" fill="url(#d11)"/><linearGradient id="d12" gradientUnits="userSpaceOnUse" x1="940.6" y1="736.3" x2="1220.4" y2="784.6"><stop offset="0%" stop-color="#2ddfdc"/><stop offset="8.3%" stop-color="#3cead5"/><stop offset="16.7%" stop-color="#49f1d0"/><stop offset="25%" stop-color="#55f6cb"/><stop offset="33.3%" stop-color="#60fac5"/><stop offset="41.7%" stop-color="#6cfdbf"/><stop offset="50%" stop-color="#78ffb9"/><stop offset="58.3%" stop-color="#83ffb2"/><stop offset="66.7%" stop-color="#8ffeac"/><stop offset="75%" stop-color="#99fca6"/><stop offset="83.3%" stop-color="#a3f9a0"/><stop offset="91.7%" stop-color="#adf599"/><stop offset="100%" stop-color="#b6f194"/></linearGradient><polygon points="935.7,738.6 1215.8,787 1224.9,782.1 945.5,734" fill="url(#d12)"/><linearGradient id="d13" gradientUnits="userSpaceOnUse" x1="946.9" y1="733.4" x2="1226.1" y2="781.4"><stop offset="0%" stop-color="#22d6e0"/><stop offset="8.3%" stop-color="#30e1db"/><stop offset="16.7%" stop-color="#3dead5"/><stop offset="25%" stop-color="#49f1d0"/><stop offset="33.3%" stop-color="#54f6cb"/><stop offset="41.7%" stop-color="#60fac5"/><stop offset="50%" stop-color="#6cfdbf"/><stop offset="58.3%" stop-color="#78ffb8"/><stop offset="66.7%" stop-color="#84ffb2"/><stop offset="75%" stop-color="#8ffeac"/><stop offset="83.3%" stop-color="#9afca5"/><stop offset="91.7%" stop-color="#a4f99f"/><stop offset="100%" stop-color="#aef599"/></linearGradient><polygon points="942,735.7 1221.6,783.9 1230.7,779 951.8,731.1" fill="url(#d13)"/><linearGradient id="d14" gradientUnits="userSpaceOnUse" x1="953.1" y1="730.5" x2="1231.9" y2="778.3"><stop offset="0%" stop-color="#16cbe4"/><stop offset="8.3%" stop-color="#24d8df"/><stop offset="16.7%" stop-color="#31e2da"/><stop offset="25%" stop-color="#3dead5"/><stop offset="33.3%" stop-color="#49f1d0"/><stop offset="41.7%" stop-color="#55f6ca"/><stop offset="50%" stop-color="#62fbc4"/><stop offset="58.3%" stop-color="#6efdbe"/><stop offset="66.7%" stop-color="#7affb7"/><stop offset="75%" stop-color="#85ffb1"/><stop offset="83.3%" stop-color="#91feab"/><stop offset="91.7%" stop-color="#9cfba4"/><stop offset="100%" stop-color="#a7f89d"/></linearGradient><polygon points="948.2,732.8 1227.4,780.8 1236.5,775.8 958,728.2" fill="url(#d14)"/><linearGradient id="d15" gradientUnits="userSpaceOnUse" x1="959.3" y1="727.6" x2="1237.7" y2="775.2"><stop offset="0%" stop-color="#0abfe8"/><stop offset="8.3%" stop-color="#18cde4"/><stop offset="16.7%" stop-color="#25d8df"/><stop offset="25%" stop-color="#31e2da"/><stop offset="33.3%" stop-color="#3eebd5"/><stop offset="41.7%" stop-color="#4bf2cf"/><stop offset="50%" stop-color="#57f7c9"/><stop offset="58.3%" stop-color="#64fbc3"/><stop offset="66.7%" stop-color="#70febd"/><stop offset="75%" stop-color="#7cffb6"/><stop offset="83.3%" stop-color="#88ffaf"/><stop offset="91.7%" stop-color="#94fda8"/><stop offset="100%" stop-color="#a0faa1"/></linearGradient><polygon points="954.4,729.9 1233.1,777.7 1242.2,772.7 964.3,725.4" fill="url(#d15)"/><linearGradient id="d16" gradientUnits="userSpaceOnUse" x1="965.6" y1="724.7" x2="1243.4" y2="772.1"><stop offset="0%" stop-color="#02b2ec"/><stop offset="8.3%" stop-color="#0cc1e8"/><stop offset="16.7%" stop-color="#19cee3"/><stop offset="25%" stop-color="#26d9de"/><stop offset="33.3%" stop-color="#33e3d9"/><stop offset="41.7%" stop-color="#40ecd4"/><stop offset="50%" stop-color="#4df3ce"/><stop offset="58.3%" stop-color="#5af8c8"/><stop offset="66.7%" stop-color="#67fcc1"/><stop offset="75%" stop-color="#74febb"/><stop offset="83.3%" stop-color="#80ffb4"/><stop offset="91.7%" stop-color="#8dfead"/><stop offset="100%" stop-color="#99fca5"/></linearGradient><polygon points="960.7,727 1238.9,774.5 1248,769.6 970.5,722.5" fill="url(#d16)"/><linearGradient id="d17" gradientUnits="userSpaceOnUse" x1="971.8" y1="721.9" x2="1249.2" y2="768.9"><stop offset="0%" stop-color="#0ea4f0"/><stop offset="8.3%" stop-color="#00b4ec"/><stop offset="16.7%" stop-color="#0ec3e7"/><stop offset="25%" stop-color="#1bd0e3"/><stop offset="33.3%" stop-color="#29dbde"/><stop offset="41.7%" stop-color="#36e5d8"/><stop offset="50%" stop-color="#43eed2"/><stop offset="58.3%" stop-color="#51f5cc"/><stop offset="66.7%" stop-color="#5efac6"/><stop offset="75%" stop-color="#6bfdbf"/><stop offset="83.3%" stop-color="#79ffb8"/><stop offset="91.7%" stop-color="#86ffb1"/><stop offset="100%" stop-color="#93fda9"/></linearGradient><polygon points="966.9,724.1 1244.7,771.4 1253.8,766.5 976.7,719.6" fill="url(#d17)"/><linearGradient id="d18" gradientUnits="userSpaceOnUse" x1="978.1" y1="719" x2="1255" y2="765.8"><stop offset="0%" stop-color="#1a95f3"/><stop offset="8.3%" stop-color="#0ca7ef"/><stop offset="16.7%" stop-color="#02b6eb"/><stop offset="25%" stop-color="#10c5e7"/><stop offset="33.3%" stop-color="#1ed2e2"/><stop offset="41.7%" stop-color="#2cdedc"/><stop offset="50%" stop-color="#39e8d7"/><stop offset="58.3%" stop-color="#47f0d1"/><stop offset="66.7%" stop-color="#55f6ca"/><stop offset="75%" stop-color="#63fbc3"/><stop offset="83.3%" stop-color="#71febc"/><stop offset="91.7%" stop-color="#7effb5"/><stop offset="100%" stop-color="#8cfead"/></linearGradient><polygon points="973.1,721.2 1250.4,768.3 1259.5,763.4 983,716.7" fill="url(#d18)"/><linearGradient id="d19" gradientUnits="userSpaceOnUse" x1="984.3" y1="716.1" x2="1260.8" y2="762.7"><stop offset="0%" stop-color="#2785f6"/><stop offset="8.3%" stop-color="#1897f2"/><stop offset="16.7%" stop-color="#0aa9ee"/><stop offset="25%" stop-color="#04b9ea"/><stop offset="33.3%" stop-color="#13c8e6"/><stop offset="41.7%" stop-color="#21d5e0"/><stop offset="50%" stop-color="#2fe1db"/><stop offset="58.3%" stop-color="#3eead5"/><stop offset="66.7%" stop-color="#4cf2cf"/><stop offset="75%" stop-color="#5af8c8"/><stop offset="83.3%" stop-color="#68fcc1"/><stop offset="91.7%" stop-color="#77ffb9"/><stop offset="100%" stop-color="#85ffb1"/></linearGradient><polygon points="979.4,718.4 1256.2,765.1 1265.3,760.2 989.2,713.8" fill="url(#d19)"/><linearGradient id="d20" gradientUnits="userSpaceOnUse" x1="990.5" y1="713.2" x2="1266.5" y2="759.6"><stop offset="0%" stop-color="#3473f8"/><stop offset="8.3%" stop-color="#2587f5"/><stop offset="16.7%" stop-color="#169af2"/><stop offset="25%" stop-color="#07acee"/><stop offset="33.3%" stop-color="#07bce9"/><stop offset="41.7%" stop-color="#16cbe4"/><stop offset="50%" stop-color="#25d8df"/><stop offset="58.3%" stop-color="#34e4d9"/><stop offset="66.7%" stop-color="#42edd3"/><stop offset="75%" stop-color="#51f5cc"/><stop offset="83.3%" stop-color="#60fac5"/><stop offset="91.7%" stop-color="#6efebe"/><stop offset="100%" stop-color="#7dffb6"/></linearGradient><polygon points="985.6,715.5 1262,762 1271.1,757.1 995.4,710.9" fill="url(#d20)"/><linearGradient id="d21" gradientUnits="userSpaceOnUse" x1="996.8" y1="710.3" x2="1272.3" y2="756.4"><stop offset="0%" stop-color="#4160fa"/><stop offset="8.3%" stop-color="#3176f8"/><stop offset="16.7%" stop-color="#228af5"/><stop offset="25%" stop-color="#139ef1"/><stop offset="33.3%" stop-color="#04b0ed"/><stop offset="41.7%" stop-color="#0bc0e8"/><stop offset="50%" stop-color="#1acfe3"/><stop offset="58.3%" stop-color="#29dcdd"/><stop offset="66.7%" stop-color="#38e7d7"/><stop offset="75%" stop-color="#47f0d1"/><stop offset="83.3%" stop-color="#56f7ca"/><stop offset="91.7%" stop-color="#66fcc2"/><stop offset="100%" stop-color="#75feba"/></linearGradient><polygon points="991.9,712.6 1267.8,758.9 1276.8,754 1001.7,708" fill="url(#d21)"/><linearGradient id="d22" gradientUnits="userSpaceOnUse" x1="1003" y1="707.4" x2="1278.1" y2="753.3"><stop offset="0%" stop-color="#4e4dfc"/><stop offset="8.3%" stop-color="#3e63fa"/><stop offset="16.7%" stop-color="#2f79f7"/><stop offset="25%" stop-color="#208ef4"/><stop offset="33.3%" stop-color="#10a1f0"/><stop offset="41.7%" stop-color="#01b3ec"/><stop offset="50%" stop-color="#0fc4e7"/><stop offset="58.3%" stop-color="#1ed2e2"/><stop offset="66.7%" stop-color="#2ddfdc"/><stop offset="75%" stop-color="#3dead5"/><stop offset="83.3%" stop-color="#4cf2ce"/><stop offset="91.7%" stop-color="#5cf9c7"/><stop offset="100%" stop-color="#6bfdbf"/></linearGradient><polygon points="998.1,709.7 1273.5,755.8 1282.6,750.9 1007.9,705.1" fill="url(#d22)"/><linearGradient id="d23" gradientUnits="userSpaceOnUse" x1="1009.2" y1="704.5" x2="1283.8" y2="750.2"><stop offset="0%" stop-color="#5b38fd"/><stop offset="8.3%" stop-color="#4c50fc"/><stop offset="16.7%" stop-color="#3c67fa"/><stop offset="25%" stop-color="#2d7df7"/><stop offset="33.3%" stop-color="#1d91f3"/><stop offset="41.7%" stop-color="#0da5ef"/><stop offset="50%" stop-color="#02b7eb"/><stop offset="58.3%" stop-color="#12c7e6"/><stop offset="66.7%" stop-color="#22d6e0"/><stop offset="75%" stop-color="#31e2da"/><stop offset="83.3%" stop-color="#41ecd4"/><stop offset="91.7%" stop-color="#50f4cc"/><stop offset="100%" stop-color="#60fac5"/></linearGradient><polygon points="1004.3,706.8 1279.3,752.6 1288.4,747.7 1014.2,702.3" fill="url(#d23)"/><linearGradient id="d24" gradientUnits="userSpaceOnUse" x1="1015.5" y1="701.6" x2="1289.6" y2="747.1"><stop offset="0%" stop-color="#6923fe"/><stop offset="8.3%" stop-color="#593bfd"/><stop offset="16.7%" stop-color="#4a53fc"/><stop offset="25%" stop-color="#3a6af9"/><stop offset="33.3%" stop-color="#2a80f6"/><stop offset="41.7%" stop-color="#1b95f3"/><stop offset="50%" stop-color="#0ba8ef"/><stop offset="58.3%" stop-color="#05baea"/><stop offset="66.7%" stop-color="#15cae5"/><stop offset="75%" stop-color="#24d8df"/><stop offset="83.3%" stop-color="#34e4d9"/><stop offset="91.7%" stop-color="#44eed2"/><stop offset="100%" stop-color="#54f6cb"/></linearGradient><polygon points="1010.6,703.9 1285.1,749.5 1292.5,745.5 1018.6,700.2" fill="url(#d24)"/>
<linearGradient id="d25" gradientUnits="userSpaceOnUse" x1="1152" y1="1084" x2="1286.3" y2="995.5"><stop offset="0%" stop-color="#60fac5"/><stop offset="10%" stop-color="#59f8c8"/><stop offset="20%" stop-color="#52f5cc"/><stop offset="30%" stop-color="#4cf2cf"/><stop offset="40%" stop-color="#44eed2"/><stop offset="50%" stop-color="#3ce9d6"/><stop offset="60%" stop-color="#32e3da"/><stop offset="70%" stop-color="#25d8df"/><stop offset="80%" stop-color="#12c7e6"/><stop offset="90%" stop-color="#0ca6ef"/><stop offset="100%" stop-color="#3b68f9"/></linearGradient><polygon points="1152,1087.3 1286.2,998.7 1286.4,989.3 1152.1,1077.4" fill="url(#d25)"/><linearGradient id="d26" gradientUnits="userSpaceOnUse" x1="1152.1" y1="1077.3" x2="1286.4" y2="989.2"><stop offset="0%" stop-color="#63fbc3"/><stop offset="10%" stop-color="#5df9c6"/><stop offset="20%" stop-color="#56f7ca"/><stop offset="30%" stop-color="#4ff4cd"/><stop offset="40%" stop-color="#48f0d1"/><stop offset="50%" stop-color="#3febd4"/><stop offset="60%" stop-color="#35e5d9"/><stop offset="70%" stop-color="#28dbde"/><stop offset="80%" stop-color="#14cae5"/><stop offset="90%" stop-color="#09aaee"/><stop offset="100%" stop-color="#386df9"/></linearGradient><polygon points="1152,1083.8 1286.3,995.4 1286.6,983 1152.1,1070.8" fill="url(#d26)"/><linearGradient id="d27" gradientUnits="userSpaceOnUse" x1="1152.1" y1="1070.6" x2="1286.6" y2="982.9"><stop offset="0%" stop-color="#67fcc1"/><stop offset="10%" stop-color="#61fac5"/><stop offset="20%" stop-color="#5af8c8"/><stop offset="30%" stop-color="#53f5cb"/><stop offset="40%" stop-color="#4bf2cf"/><stop offset="50%" stop-color="#42edd3"/><stop offset="60%" stop-color="#38e7d7"/><stop offset="70%" stop-color="#2bdddd"/><stop offset="80%" stop-color="#17cce4"/><stop offset="90%" stop-color="#06aded"/><stop offset="100%" stop-color="#3572f8"/></linearGradient><polygon points="1152.1,1077.2 1286.4,989.1 1286.7,976.7 1152.2,1064.1" fill="url(#d27)"/><linearGradient id="d28" gradientUnits="userSpaceOnUse" x1="1152.2" y1="1064" x2="1286.8" y2="976.5"><stop offset="0%" stop-color="#6cfdbf"/><stop offset="10%" stop-color="#65fcc3"/><stop offset="20%" stop-color="#5ef9c6"/><stop offset="30%" stop-color="#56f7ca"/><stop offset="40%" stop-color="#4ff3cd"/><stop offset="50%" stop-color="#46efd1"/><stop offset="60%" stop-color="#3be9d6"/><stop offset="70%" stop-color="#2ddfdc"/><stop offset="80%" stop-color="#1acfe3"/><stop offset="90%" stop-color="#03b1ed"/><stop offset="100%" stop-color="#3176f8"/></linearGradient><polygon points="1152.1,1070.5 1286.6,982.7 1286.9,970.3 1152.2,1057.4" fill="url(#d28)"/><linearGradient id="d29" gradientUnits="userSpaceOnUse" x1="1152.2" y1="1057.3" x2="1286.9" y2="970.2"><stop offset="0%" stop-color="#70febd"/><stop offset="10%" stop-color="#69fdc0"/><stop offset="20%" stop-color="#61fbc4"/><stop offset="30%" stop-color="#5af8c8"/><stop offset="40%" stop-color="#52f5cc"/><stop offset="50%" stop-color="#49f1d0"/><stop offset="60%" stop-color="#3eebd5"/><stop offset="70%" stop-color="#30e1db"/><stop offset="80%" stop-color="#1dd1e2"/><stop offset="90%" stop-color="#00b4ec"/><stop offset="100%" stop-color="#2e7bf7"/></linearGradient><polygon points="1152.2,1063.8 1286.8,976.4 1287.1,964 1152.3,1050.7" fill="url(#d29)"/><linearGradient id="d30" gradientUnits="userSpaceOnUse" x1="1152.3" y1="1050.6" x2="1287.1" y2="963.9"><stop offset="0%" stop-color="#75feba"/><stop offset="10%" stop-color="#6dfdbe"/><stop offset="20%" stop-color="#66fcc2"/><stop offset="30%" stop-color="#5efac6"/><stop offset="40%" stop-color="#56f7ca"/><stop offset="50%" stop-color="#4cf2ce"/><stop offset="60%" stop-color="#41ecd3"/><stop offset="70%" stop-color="#33e3d9"/><stop offset="80%" stop-color="#20d4e1"/><stop offset="90%" stop-color="#03b7eb"/><stop offset="100%" stop-color="#2a80f6"/></linearGradient><polygon points="1152.2,1057.2 1286.9,970.1 1287.2,957.7 1152.3,1044.1" fill="url(#d30)"/><linearGradient id="d31" gradientUnits="userSpaceOnUse" x1="1152.3" y1="1043.9" x2="1287.2" y2="957.6"><stop offset="0%" stop-color="#7affb8"/><stop offset="10%" stop-color="#72febc"/><stop offset="20%" stop-color="#6afdc0"/><stop offset="30%" stop-color="#62fbc4"/><stop offset="40%" stop-color="#5af8c8"/><stop offset="50%" stop-color="#50f4cd"/><stop offset="60%" stop-color="#44eed2"/><stop offset="70%" stop-color="#36e5d8"/><stop offset="80%" stop-color="#23d6e0"/><stop offset="90%" stop-color="#06bbea"/><stop offset="100%" stop-color="#2785f6"/></linearGradient><polygon points="1152.3,1050.5 1287.1,963.8 1287.4,951.4 1152.4,1037.4" fill="url(#d31)"/><linearGradient id="d32" gradientUnits="userSpaceOnUse" x1="1152.4" y1="1037.3" x2="1287.4" y2="951.2"><stop offset="0%" stop-color="#7fffb5"/><stop offset="10%" stop-color="#77ffb9"/><stop offset="20%" stop-color="#6efebe"/><stop offset="30%" stop-color="#66fcc2"/><stop offset="40%" stop-color="#5df9c6"/><stop offset="50%" stop-color="#53f6cb"/><stop offset="60%" stop-color="#47f0d1"/><stop offset="70%" stop-color="#39e7d7"/><stop offset="80%" stop-color="#26d9df"/><stop offset="90%" stop-color="#09bee9"/><stop offset="100%" stop-color="#2389f5"/></linearGradient><polygon points="1152.3,1043.8 1287.2,957.4 1287.5,945 1152.4,1030.7" fill="url(#d32)"/><linearGradient id="d33" gradientUnits="userSpaceOnUse" x1="1152.4" y1="1030.6" x2="1287.5" y2="944.9"><stop offset="0%" stop-color="#84ffb2"/><stop offset="10%" stop-color="#7cffb6"/><stop offset="20%" stop-color="#72febb"/><stop offset="30%" stop-color="#6bfdc0"/><stop offset="40%" stop-color="#61fbc4"/><stop offset="50%" stop-color="#57f7c9"/><stop offset="60%" stop-color="#4bf2cf"/><stop offset="70%" stop-color="#3ce9d6"/><stop offset="80%" stop-color="#28dbde"/><stop offset="90%" stop-color="#0cc1e8"/><stop offset="100%" stop-color="#208ef4"/></linearGradient><polygon points="1152.4,1037.1 1287.4,951.1 1287.7,938.7 1152.5,1024.1" fill="url(#d33)"/><linearGradient id="d34" gradientUnits="userSpaceOnUse" x1="1152.5" y1="1023.9" x2="1287.7" y2="938.6"><stop offset="0%" stop-color="#8afeae"/><stop offset="10%" stop-color="#81ffb4"/><stop offset="20%" stop-color="#77ffb9"/><stop offset="30%" stop-color="#6ffebd"/><stop offset="40%" stop-color="#65fcc2"/><stop offset="50%" stop-color="#5af8c8"/><stop offset="60%" stop-color="#4ef3ce"/><stop offset="70%" stop-color="#3febd4"/><stop offset="80%" stop-color="#2bdedc"/><stop offset="90%" stop-color="#0fc4e7"/><stop offset="100%" stop-color="#1c92f3"/></linearGradient><polygon points="1152.4,1030.5 1287.5,944.8 1287.9,932.4 1152.5,1017.4" fill="url(#d34)"/><linearGradient id="d35" gradientUnits="userSpaceOnUse" x1="1152.5" y1="1017.3" x2="1287.9" y2="932.2"><stop offset="0%" stop-color="#90feab"/><stop offset="10%" stop-color="#86ffb1"/><stop offset="20%" stop-color="#7cffb6"/><stop offset="30%" stop-color="#73febb"/><stop offset="40%" stop-color="#6afdc0"/><stop offset="50%" stop-color="#5efac6"/><stop offset="60%" stop-color="#51f5cc"/><stop offset="70%" stop-color="#42edd3"/><stop offset="80%" stop-color="#2ee0db"/><stop offset="90%" stop-color="#12c7e6"/><stop offset="100%" stop-color="#1997f2"/></linearGradient><polygon points="1152.5,1023.8 1287.7,938.4 1288,926 1152.6,1010.7" fill="url(#d35)"/><linearGradient id="d36" gradientUnits="userSpaceOnUse" x1="1152.6" y1="1010.6" x2="1288" y2="925.9"><stop offset="0%" stop-color="#96fca7"/><stop offset="10%" stop-color="#8cfeae"/><stop offset="20%" stop-color="#80ffb4"/><stop offset="30%" stop-color="#78ffb9"/><stop offset="40%" stop-color="#6efdbe"/><stop offset="50%" stop-color="#62fbc4"/><stop offset="60%" stop-color="#54f6cb"/><stop offset="70%" stop-color="#45efd2"/><stop offset="80%" stop-color="#31e2da"/><stop offset="90%" stop-color="#15cae5"/><stop offset="100%" stop-color="#159bf2"/></linearGradient><polygon points="1152.5,1017.1 1287.9,932.1 1288.2,919.7 1152.6,1004.1" fill="url(#d36)"/><linearGradient id="d37" gradientUnits="userSpaceOnUse" x1="1152.6" y1="1003.9" x2="1288.2" y2="919.6"><stop offset="0%" stop-color="#9dfba3"/><stop offset="10%" stop-color="#91feaa"/><stop offset="20%" stop-color="#85ffb1"/><stop offset="30%" stop-color="#7cffb6"/><stop offset="40%" stop-color="#72febc"/><stop offset="50%" stop-color="#65fcc2"/><stop offset="60%" stop-color="#58f7c9"/><stop offset="70%" stop-color="#48f0d0"/><stop offset="80%" stop-color="#34e4d9"/><stop offset="90%" stop-color="#18cde4"/><stop offset="100%" stop-color="#129ff1"/></linearGradient><polygon points="1152.6,1010.5 1288,925.8 1288.3,913.4 1152.7,997.4" fill="url(#d37)"/><linearGradient id="d38" gradientUnits="userSpaceOnUse" x1="1152.7" y1="997.3" x2="1288.3" y2="913.2"><stop offset="0%" stop-color="#a3f99f"/><stop offset="10%" stop-color="#97fca7"/><stop offset="20%" stop-color="#8affaf"/><stop offset="30%" stop-color="#81ffb4"/><stop offset="40%" stop-color="#76ffba"/><stop offset="50%" stop-color="#69fdc0"/><stop offset="60%" stop-color="#5bf9c7"/><stop offset="70%" stop-color="#4bf2cf"/><stop offset="80%" stop-color="#37e6d8"/><stop offset="90%" stop-color="#1bd0e3"/><stop offset="100%" stop-color="#0fa3f0"/></linearGradient><polygon points="1152.6,1003.8 1288.2,919.4 1288.5,907 1152.7,990.7" fill="url(#d38)"/><linearGradient id="d39" gradientUnits="userSpaceOnUse" x1="1152.7" y1="990.6" x2="1288.5" y2="906.9"><stop offset="0%" stop-color="#aaf69b"/><stop offset="10%" stop-color="#9cfba4"/><stop offset="20%" stop-color="#8efeac"/><stop offset="30%" stop-color="#85ffb1"/><stop offset="40%" stop-color="#7affb7"/><stop offset="50%" stop-color="#6dfdbe"/><stop offset="60%" stop-color="#5efac6"/><stop offset="70%" stop-color="#4ef3ce"/><stop offset="80%" stop-color="#3ae8d7"/><stop offset="90%" stop-color="#1ed2e2"/><stop offset="100%" stop-color="#0ba8ef"/></linearGradient><polygon points="1152.7,997.1 1288.3,913.1 1288.6,900.7 1152.8,984" fill="url(#d39)"/><linearGradient id="d40" gradientUnits="userSpaceOnUse" x1="1152.8" y1="983.9" x2="1288.6" y2="900.6"><stop offset="0%" stop-color="#b1f397"/><stop offset="10%" stop-color="#a2f9a0"/><stop offset="20%" stop-color="#93fda9"/><stop offset="30%" stop-color="#89ffaf"/><stop offset="40%" stop-color="#7effb5"/><stop offset="50%" stop-color="#70febc"/><stop offset="60%" stop-color="#61fbc4"/><stop offset="70%" stop-color="#51f5cc"/><stop offset="80%" stop-color="#3dead5"/><stop offset="90%" stop-color="#21d5e0"/><stop offset="100%" stop-color="#08acee"/></linearGradient><polygon points="1152.7,990.5 1288.5,906.8 1288.8,894.4 1152.8,977.4" fill="url(#d40)"/><linearGradient id="d41" gradientUnits="userSpaceOnUse" x1="1152.8" y1="977.2" x2="1288.8" y2="894.3"><stop offset="0%" stop-color="#b7f093"/><stop offset="10%" stop-color="#a7f79d"/><stop offset="20%" stop-color="#97fca7"/><stop offset="30%" stop-color="#8dfeac"/><stop offset="40%" stop-color="#82ffb3"/><stop offset="50%" stop-color="#74febb"/><stop offset="60%" stop-color="#65fcc3"/><stop offset="70%" stop-color="#54f6cb"/><stop offset="80%" stop-color="#40ecd4"/><stop offset="90%" stop-color="#24d8df"/><stop offset="100%" stop-color="#04b0ed"/></linearGradient><polygon points="1152.8,983.8 1288.6,900.5 1289,888.1 1152.9,970.7" fill="url(#d41)"/><linearGradient id="d42" gradientUnits="userSpaceOnUse" x1="1152.9" y1="970.6" x2="1289" y2="887.9"><stop offset="0%" stop-color="#bded8f"/><stop offset="10%" stop-color="#acf59a"/><stop offset="20%" stop-color="#9bfba4"/><stop offset="30%" stop-color="#92fdaa"/><stop offset="40%" stop-color="#86ffb1"/><stop offset="50%" stop-color="#77ffb9"/><stop offset="60%" stop-color="#68fcc1"/><stop offset="70%" stop-color="#57f7c9"/><stop offset="80%" stop-color="#43edd3"/><stop offset="90%" stop-color="#27dade"/><stop offset="100%" stop-color="#01b4ec"/></linearGradient><polygon points="1152.8,977.1 1288.8,894.1 1289.1,881.7 1152.9,964" fill="url(#d42)"/><linearGradient id="d43" gradientUnits="userSpaceOnUse" x1="1152.9" y1="963.9" x2="1289.1" y2="881.6"><stop offset="0%" stop-color="#c3e98b"/><stop offset="10%" stop-color="#b1f397"/><stop offset="20%" stop-color="#a0faa2"/><stop offset="30%" stop-color="#95fda8"/><stop offset="40%" stop-color="#89ffaf"/><stop offset="50%" stop-color="#7bffb7"/><stop offset="60%" stop-color="#6bfdbf"/><stop offset="70%" stop-color="#5af8c8"/><stop offset="80%" stop-color="#45efd2"/><stop offset="90%" stop-color="#2adddd"/><stop offset="100%" stop-color="#03b7eb"/></linearGradient><polygon points="1152.9,970.4 1289,887.8 1289.3,875.4 1153,957.4" fill="url(#d43)"/><linearGradient id="d44" gradientUnits="userSpaceOnUse" x1="1153" y1="957.2" x2="1289.3" y2="875.3"><stop offset="0%" stop-color="#c9e587"/><stop offset="10%" stop-color="#b6f194"/><stop offset="20%" stop-color="#a3f99f"/><stop offset="30%" stop-color="#99fca6"/><stop offset="40%" stop-color="#8dfead"/><stop offset="50%" stop-color="#7effb5"/><stop offset="60%" stop-color="#6efdbe"/><stop offset="70%" stop-color="#5df9c7"/><stop offset="80%" stop-color="#48f0d0"/><stop offset="90%" stop-color="#2ddfdc"/><stop offset="100%" stop-color="#06bbea"/></linearGradient><polygon points="1152.9,963.8 1289.1,881.5 1289.4,869.1 1153,950.7" fill="url(#d44)"/><linearGradient id="d45" gradientUnits="userSpaceOnUse" x1="1153" y1="950.6" x2="1289.4" y2="868.9"><stop offset="0%" stop-color="#cfe183"/><stop offset="10%" stop-color="#bbee91"/><stop offset="20%" stop-color="#a7f79d"/><stop offset="30%" stop-color="#9cfba4"/><stop offset="40%" stop-color="#90feab"/><stop offset="50%" stop-color="#81ffb3"/><stop offset="60%" stop-color="#71febc"/><stop offset="70%" stop-color="#5ffac5"/><stop offset="80%" stop-color="#4bf2cf"/><stop offset="90%" stop-color="#30e1db"/><stop offset="100%" stop-color="#0abfe9"/></linearGradient><polygon points="1153,957.1 1289.3,875.1 1289.6,862.7 1153.1,944" fill="url(#d45)"/><linearGradient id="d46" gradientUnits="userSpaceOnUse" x1="1153.1" y1="943.9" x2="1289.6" y2="862.6"><stop offset="0%" stop-color="#d4dd80"/><stop offset="10%" stop-color="#bfec8e"/><stop offset="20%" stop-color="#aaf69b"/><stop offset="30%" stop-color="#a0faa2"/><stop offset="40%" stop-color="#93fda9"/><stop offset="50%" stop-color="#84ffb2"/><stop offset="60%" stop-color="#74febb"/><stop offset="70%" stop-color="#62fbc4"/><stop offset="80%" stop-color="#4ef3ce"/><stop offset="90%" stop-color="#33e3d9"/><stop offset="100%" stop-color="#0dc2e7"/></linearGradient><polygon points="1153,950.4 1289.4,868.8 1289.7,856.4 1153.1,937.4" fill="url(#d46)"/><linearGradient id="d47" gradientUnits="userSpaceOnUse" x1="1153.1" y1="937.2" x2="1289.7" y2="856.3"><stop offset="0%" stop-color="#dad87c"/><stop offset="10%" stop-color="#c4e98b"/><stop offset="20%" stop-color="#aef599"/><stop offset="30%" stop-color="#a3f9a0"/><stop offset="40%" stop-color="#96fda7"/><stop offset="50%" stop-color="#87ffb0"/><stop offset="60%" stop-color="#76ffb9"/><stop offset="70%" stop-color="#65fcc3"/><stop offset="80%" stop-color="#51f4cc"/><stop offset="90%" stop-color="#36e5d8"/><stop offset="100%" stop-color="#11c6e6"/></linearGradient><polygon points="1153.1,943.8 1289.6,862.5 1289.9,850.1 1153.2,930.7" fill="url(#d47)"/><linearGradient id="d48" gradientUnits="userSpaceOnUse" x1="1153.2" y1="930.6" x2="1289.9" y2="849.9"><stop offset="0%" stop-color="#e0d378"/><stop offset="10%" stop-color="#c8e688"/><stop offset="20%" stop-color="#b1f397"/><stop offset="30%" stop-color="#a5f89e"/><stop offset="40%" stop-color="#99fca6"/><stop offset="50%" stop-color="#89ffaf"/><stop offset="60%" stop-color="#79ffb8"/><stop offset="70%" stop-color="#67fcc1"/><stop offset="80%" stop-color="#53f6cb"/><stop offset="90%" stop-color="#39e7d7"/><stop offset="100%" stop-color="#14c9e5"/></linearGradient><polygon points="1153.1,937.1 1289.7,856.1 1290.1,843.7 1153.2,924" fill="url(#d48)"/><linearGradient id="d49" gradientUnits="userSpaceOnUse" x1="1153.2" y1="923.9" x2="1290.1" y2="843.6"><stop offset="0%" stop-color="#e6cd73"/><stop offset="10%" stop-color="#cde284"/><stop offset="20%" stop-color="#b4f295"/><stop offset="30%" stop-color="#a8f79d"/><stop offset="40%" stop-color="#9bfba4"/><stop offset="50%" stop-color="#8cfead"/><stop offset="60%" stop-color="#7bffb7"/><stop offset="70%" stop-color="#6afdc0"/><stop offset="80%" stop-color="#56f7ca"/><stop offset="90%" stop-color="#3ce9d6"/><stop offset="100%" stop-color="#17cce4"/></linearGradient><polygon points="1153.2,930.4 1289.9,849.8 1290.2,837.4 1153.3,917.3" fill="url(#d49)"/><linearGradient id="d50" gradientUnits="userSpaceOnUse" x1="1153.3" y1="917.2" x2="1290.2" y2="837.3"><stop offset="0%" stop-color="#edc76e"/><stop offset="10%" stop-color="#d5dc7f"/><stop offset="20%" stop-color="#b8ef92"/><stop offset="30%" stop-color="#aaf69b"/><stop offset="40%" stop-color="#9dfba3"/><stop offset="50%" stop-color="#8efeac"/><stop offset="60%" stop-color="#7effb5"/><stop offset="70%" stop-color="#6dfdbf"/><stop offset="80%" stop-color="#59f8c8"/><stop offset="90%" stop-color="#3febd4"/><stop offset="100%" stop-color="#1bd0e3"/></linearGradient><polygon points="1153.2,923.8 1290.1,843.5 1290.4,831.1 1153.3,910.7" fill="url(#d50)"/><linearGradient id="d51" gradientUnits="userSpaceOnUse" x1="1153.3" y1="910.5" x2="1290.4" y2="831"><stop offset="0%" stop-color="#f5c069"/><stop offset="10%" stop-color="#ded579"/><stop offset="20%" stop-color="#bfec8e"/><stop offset="30%" stop-color="#adf599"/><stop offset="40%" stop-color="#9ffaa2"/><stop offset="50%" stop-color="#90feab"/><stop offset="60%" stop-color="#80ffb4"/><stop offset="70%" stop-color="#6ffebd"/><stop offset="80%" stop-color="#5bf9c7"/><stop offset="90%" stop-color="#42edd3"/><stop offset="100%" stop-color="#1ed3e1"/></linearGradient><polygon points="1153.3,917.1 1290.2,837.2 1290.5,824.8 1153.4,904" fill="url(#d51)"/><linearGradient id="d52" gradientUnits="userSpaceOnUse" x1="1153.4" y1="903.9" x2="1290.5" y2="824.6"><stop offset="0%" stop-color="#fcb764"/><stop offset="10%" stop-color="#e8cc72"/><stop offset="20%" stop-color="#c7e788"/><stop offset="30%" stop-color="#b1f397"/><stop offset="40%" stop-color="#a1f9a1"/><stop offset="50%" stop-color="#92fdaa"/><stop offset="60%" stop-color="#82ffb3"/><stop offset="70%" stop-color="#72febc"/><stop offset="80%" stop-color="#5efac6"/><stop offset="90%" stop-color="#45efd2"/><stop offset="100%" stop-color="#22d6e0"/></linearGradient><polygon points="1153.3,910.4 1290.4,830.8 1290.7,818.4 1153.4,897.3" fill="url(#d52)"/><linearGradient id="d53" gradientUnits="userSpaceOnUse" x1="1153.4" y1="897.2" x2="1290.7" y2="818.3"><stop offset="0%" stop-color="#ffaf5e"/><stop offset="10%" stop-color="#f1c36b"/><stop offset="20%" stop-color="#d1e082"/><stop offset="30%" stop-color="#b6f193"/><stop offset="40%" stop-color="#a4f99f"/><stop offset="50%" stop-color="#94fda8"/><stop offset="60%" stop-color="#85ffb1"/><stop offset="70%" stop-color="#74febb"/><stop offset="80%" stop-color="#61fac5"/><stop offset="90%" stop-color="#48f0d0"/><stop offset="100%" stop-color="#25d8df"/></linearGradient><polygon points="1153.4,903.7 1290.5,824.5 1290.8,812.1 1153.5,890.7" fill="url(#d53)"/><linearGradient id="d54" gradientUnits="userSpaceOnUse" x1="1153.5" y1="890.5" x2="1290.8" y2="812"><stop offset="0%" stop-color="#ffa658"/><stop offset="10%" stop-color="#fbb965"/><stop offset="20%" stop-color="#dbd77b"/><stop offset="30%" stop-color="#beec8f"/><stop offset="40%" stop-color="#a8f79c"/><stop offset="50%" stop-color="#97fca7"/><stop offset="60%" stop-color="#87ffb0"/><stop offset="70%" stop-color="#76ffb9"/><stop offset="80%" stop-color="#63fbc3"/><stop offset="90%" stop-color="#4bf2cf"/><stop offset="100%" stop-color="#29dbde"/></linearGradient><polygon points="1153.4,897.1 1290.7,818.2 1291,805.8 1153.5,884" fill="url(#d54)"/><linearGradient id="d55" gradientUnits="userSpaceOnUse" x1="1153.5" y1="883.9" x2="1291" y2="805.6"><stop offset="0%" stop-color="#ff9d53"/><stop offset="10%" stop-color="#ffaf5e"/><stop offset="20%" stop-color="#e6ce74"/><stop offset="30%" stop-color="#c7e789"/><stop offset="40%" stop-color="#adf599"/><stop offset="50%" stop-color="#9afca5"/><stop offset="60%" stop-color="#89ffaf"/><stop offset="70%" stop-color="#79ffb8"/><stop offset="80%" stop-color="#66fcc2"/><stop offset="90%" stop-color="#4ef3ce"/><stop offset="100%" stop-color="#2cdedc"/></linearGradient><polygon points="1153.5,890.4 1290.8,811.8 1291.2,799.4 1153.6,877.3" fill="url(#d55)"/><linearGradient id="d56" gradientUnits="userSpaceOnUse" x1="1153.6" y1="877.2" x2="1291.2" y2="799.3"><stop offset="0%" stop-color="#ff954e"/><stop offset="10%" stop-color="#ffa659"/><stop offset="20%" stop-color="#f0c56d"/><stop offset="30%" stop-color="#d0e082"/><stop offset="40%" stop-color="#b5f295"/><stop offset="50%" stop-color="#9ffaa2"/><stop offset="60%" stop-color="#8cfead"/><stop offset="70%" stop-color="#7cffb6"/><stop offset="80%" stop-color="#69fdc0"/><stop offset="90%" stop-color="#51f5cc"/><stop offset="100%" stop-color="#2fe1db"/></linearGradient><polygon points="1153.5,883.7 1291,805.5 1291.3,793.1 1153.6,870.7" fill="url(#d56)"/><linearGradient id="d57" gradientUnits="userSpaceOnUse" x1="1153.6" y1="870.5" x2="1291.3" y2="793"><stop offset="0%" stop-color="#ff8d4a"/><stop offset="10%" stop-color="#ff9e54"/><stop offset="20%" stop-color="#f9bb66"/><stop offset="30%" stop-color="#dad87c"/><stop offset="40%" stop-color="#bded8f"/><stop offset="50%" stop-color="#a4f89f"/><stop offset="60%" stop-color="#90feab"/><stop offset="70%" stop-color="#7fffb5"/><stop offset="80%" stop-color="#6cfdbf"/><stop offset="90%" stop-color="#54f6cb"/><stop offset="100%" stop-color="#33e3d9"/></linearGradient><polygon points="1153.6,877.1 1291.2,799.2 1291.5,786.8 1153.7,864" fill="url(#d57)"/><linearGradient id="d58" gradientUnits="userSpaceOnUse" x1="1153.7" y1="863.9" x2="1291.5" y2="786.6"><stop offset="0%" stop-color="#ff8646"/><stop offset="10%" stop-color="#ff974f"/><stop offset="20%" stop-color="#ffb360"/><stop offset="30%" stop-color="#e3d075"/><stop offset="40%" stop-color="#c6e789"/><stop offset="50%" stop-color="#acf69a"/><stop offset="60%" stop-color="#96fda8"/><stop offset="70%" stop-color="#83ffb3"/><stop offset="80%" stop-color="#6ffebd"/><stop offset="90%" stop-color="#57f7c9"/><stop offset="100%" stop-color="#36e6d8"/></linearGradient><polygon points="1153.6,870.4 1291.3,792.8 1291.6,780.4 1153.7,857.3" fill="url(#d58)"/><linearGradient id="d59" gradientUnits="userSpaceOnUse" x1="1153.7" y1="857.2" x2="1291.6" y2="780.3"><stop offset="0%" stop-color="#ff8143"/><stop offset="10%" stop-color="#ff914c"/><stop offset="20%" stop-color="#ffab5c"/><stop offset="30%" stop-color="#ecc86f"/><stop offset="40%" stop-color="#cfe183"/><stop offset="50%" stop-color="#b4f295"/><stop offset="60%" stop-color="#9cfba4"/><stop offset="70%" stop-color="#87ffb0"/><stop offset="80%" stop-color="#73febb"/><stop offset="90%" stop-color="#5af8c8"/><stop offset="100%" stop-color="#3ae8d7"/></linearGradient><polygon points="1153.7,863.7 1291.5,786.5 1291.8,774.1 1153.8,850.6" fill="url(#d59)"/><linearGradient id="d60" gradientUnits="userSpaceOnUse" x1="1153.8" y1="850.5" x2="1291.8" y2="774"><stop offset="0%" stop-color="#ff7c40"/><stop offset="10%" stop-color="#ff8c49"/><stop offset="20%" stop-color="#ffa558"/><stop offset="30%" stop-color="#f3c16a"/><stop offset="40%" stop-color="#d7db7e"/><stop offset="50%" stop-color="#bcee90"/><stop offset="60%" stop-color="#a3f99f"/><stop offset="70%" stop-color="#8dfead"/><stop offset="80%" stop-color="#77ffb9"/><stop offset="90%" stop-color="#5efac6"/><stop offset="100%" stop-color="#3eead5"/></linearGradient><polygon points="1153.7,857.1 1291.6,780.2 1291.9,767.8 1153.8,844" fill="url(#d60)"/><linearGradient id="d61" gradientUnits="userSpaceOnUse" x1="1153.8" y1="843.8" x2="1291.9" y2="767.7"><stop offset="0%" stop-color="#ff783e"/><stop offset="10%" stop-color="#ff8847"/><stop offset="20%" stop-color="#ff9f54"/><stop offset="30%" stop-color="#f9bb66"/><stop offset="40%" stop-color="#dfd478"/><stop offset="50%" stop-color="#c4e98b"/><stop offset="60%" stop-color="#abf69b"/><stop offset="70%" stop-color="#94fda9"/><stop offset="80%" stop-color="#7dffb6"/><stop offset="90%" stop-color="#63fbc3"/><stop offset="100%" stop-color="#42edd3"/></linearGradient><polygon points="1153.8,850.4 1291.8,773.9 1292.1,761.5 1153.9,837.3" fill="url(#d61)"/><linearGradient id="d62" gradientUnits="userSpaceOnUse" x1="1153.9" y1="837.2" x2="1292.1" y2="761.3"><stop offset="0%" stop-color="#ff753c"/><stop offset="10%" stop-color="#ff8545"/><stop offset="20%" stop-color="#ff9b52"/><stop offset="30%" stop-color="#ffb562"/><stop offset="40%" stop-color="#e6ce74"/><stop offset="50%" stop-color="#cce385"/><stop offset="60%" stop-color="#b3f296"/><stop offset="70%" stop-color="#9bfba4"/><stop offset="80%" stop-color="#83ffb2"/><stop offset="90%" stop-color="#68fcc1"/><stop offset="100%" stop-color="#47f0d1"/></linearGradient><polygon points="1153.8,843.7 1292,767.5 1292.3,755.1 1153.9,830.6" fill="url(#d62)"/><linearGradient id="d63" gradientUnits="userSpaceOnUse" x1="1153.9" y1="830.5" x2="1292.3" y2="755"><stop offset="0%" stop-color="#ff733b"/><stop offset="10%" stop-color="#ff8243"/><stop offset="20%" stop-color="#ff9750"/><stop offset="30%" stop-color="#ffb05f"/><stop offset="40%" stop-color="#ecc970"/><stop offset="50%" stop-color="#d3de81"/><stop offset="60%" stop-color="#baee91"/><stop offset="70%" stop-color="#a2f9a0"/><stop offset="80%" stop-color="#8afeae"/><stop offset="90%" stop-color="#6efebe"/><stop offset="100%" stop-color="#4df3ce"/></linearGradient><polygon points="1153.9,837 1292.1,761.2 1292.4,748.8 1154,824" fill="url(#d63)"/><linearGradient id="d64" gradientUnits="userSpaceOnUse" x1="1154" y1="823.8" x2="1292.4" y2="748.7"><stop offset="0%" stop-color="#ff703a"/><stop offset="10%" stop-color="#ff8042"/><stop offset="20%" stop-color="#ff944e"/><stop offset="30%" stop-color="#ffab5c"/><stop offset="40%" stop-color="#f1c36c"/><stop offset="50%" stop-color="#d9d97c"/><stop offset="60%" stop-color="#c2ea8c"/><stop offset="70%" stop-color="#aaf69b"/><stop offset="80%" stop-color="#91feaa"/><stop offset="90%" stop-color="#75feba"/><stop offset="100%" stop-color="#53f5cb"/></linearGradient><polygon points="1153.9,830.4 1292.3,754.9 1292.5,745.5 1154,820.5" fill="url(#d64)"/>
<linearGradient id="d65" gradientUnits="userSpaceOnUse" x1="877.2" y1="1024.9" x2="1152" y2="1084"><stop offset="0%" stop-color="#09bee9"/><stop offset="7.1%" stop-color="#0cc2e8"/><stop offset="14.3%" stop-color="#11c7e6"/><stop offset="21.4%" stop-color="#18cde4"/><stop offset="28.6%" stop-color="#20d4e1"/><stop offset="35.7%" stop-color="#28dbde"/><stop offset="42.9%" stop-color="#30e1db"/><stop offset="50%" stop-color="#37e6d8"/><stop offset="57.1%" stop-color="#3eebd5"/><stop offset="64.3%" stop-color="#44eed2"/><stop offset="71.4%" stop-color="#4af1cf"/><stop offset="78.6%" stop-color="#4ff4cd"/><stop offset="85.7%" stop-color="#54f6cb"/><stop offset="92.9%" stop-color="#5af8c8"/><stop offset="100%" stop-color="#5ffac6"/></linearGradient><polygon points="877.3,1028.1 1152,1087.3 1152.1,1077.4 877,1018.5" fill="url(#d65)"/><linearGradient id="d66" gradientUnits="userSpaceOnUse" x1="877" y1="1018.4" x2="1152.1" y2="1077.3"><stop offset="0%" stop-color="#05baea"/><stop offset="7.1%" stop-color="#08bde9"/><stop offset="14.3%" stop-color="#0dc2e8"/><stop offset="21.4%" stop-color="#14c9e5"/><stop offset="28.6%" stop-color="#1dd1e2"/><stop offset="35.7%" stop-color="#26dade"/><stop offset="42.9%" stop-color="#30e1db"/><stop offset="50%" stop-color="#39e7d7"/><stop offset="57.1%" stop-color="#40ecd4"/><stop offset="64.3%" stop-color="#47f0d1"/><stop offset="71.4%" stop-color="#4df3ce"/><stop offset="78.6%" stop-color="#52f5cc"/><stop offset="85.7%" stop-color="#58f7c9"/><stop offset="92.9%" stop-color="#5df9c6"/><stop offset="100%" stop-color="#63fbc4"/></linearGradient><polygon points="877.2,1024.7 1152,1083.8 1152.1,1070.8 876.8,1012.1" fill="url(#d66)"/><linearGradient id="d67" gradientUnits="userSpaceOnUse" x1="876.8" y1="1011.9" x2="1152.1" y2="1070.6"><stop offset="0%" stop-color="#00b5ec"/><stop offset="7.1%" stop-color="#03b7eb"/><stop offset="14.3%" stop-color="#08bde9"/><stop offset="21.4%" stop-color="#10c5e6"/><stop offset="28.6%" stop-color="#1acfe3"/><stop offset="35.7%" stop-color="#25d8df"/><stop offset="42.9%" stop-color="#30e1db"/><stop offset="50%" stop-color="#3ae8d7"/><stop offset="57.1%" stop-color="#42edd3"/><stop offset="64.3%" stop-color="#4af1d0"/><stop offset="71.4%" stop-color="#50f4cd"/><stop offset="78.6%" stop-color="#56f7ca"/><stop offset="85.7%" stop-color="#5bf9c7"/><stop offset="92.9%" stop-color="#61fbc4"/><stop offset="100%" stop-color="#67fcc2"/></linearGradient><polygon points="877,1018.3 1152.1,1077.2 1152.2,1064.1 876.6,1005.6" fill="url(#d67)"/><linearGradient id="d68" gradientUnits="userSpaceOnUse" x1="876.6" y1="1005.5" x2="1152.2" y2="1064"><stop offset="0%" stop-color="#04b0ed"/><stop offset="7.1%" stop-color="#02b2ec"/><stop offset="14.3%" stop-color="#04b8ea"/><stop offset="21.4%" stop-color="#0cc2e8"/><stop offset="28.6%" stop-color="#18cce4"/><stop offset="35.7%" stop-color="#24d7df"/><stop offset="42.9%" stop-color="#30e1db"/><stop offset="50%" stop-color="#3be9d6"/><stop offset="57.1%" stop-color="#44eed2"/><stop offset="64.3%" stop-color="#4cf2ce"/><stop offset="71.4%" stop-color="#53f5cb"/><stop offset="78.6%" stop-color="#59f8c8"/><stop offset="85.7%" stop-color="#5ffac6"/><stop offset="92.9%" stop-color="#65fcc2"/><stop offset="100%" stop-color="#6bfdbf"/></linearGradient><polygon points="876.8,1011.8 1152.1,1070.5 1152.2,1057.4 876.4,999.1" fill="url(#d68)"/><linearGradient id="d69" gradientUnits="userSpaceOnUse" x1="876.4" y1="999" x2="1152.2" y2="1057.3"><stop offset="0%" stop-color="#06aded"/><stop offset="7.1%" stop-color="#05afed"/><stop offset="14.3%" stop-color="#01b5eb"/><stop offset="21.4%" stop-color="#0abfe8"/><stop offset="28.6%" stop-color="#16cbe4"/><stop offset="35.7%" stop-color="#24d7df"/><stop offset="42.9%" stop-color="#31e2da"/><stop offset="50%" stop-color="#3dead5"/><stop offset="57.1%" stop-color="#47f0d1"/><stop offset="64.3%" stop-color="#4ff4cd"/><stop offset="71.4%" stop-color="#56f7ca"/><stop offset="78.6%" stop-color="#5cf9c7"/><stop offset="85.7%" stop-color="#62fbc4"/><stop offset="92.9%" stop-color="#69fdc0"/><stop offset="100%" stop-color="#6ffebd"/></linearGradient><polygon points="876.6,1005.3 1152.2,1063.8 1152.3,1050.7 876.1,992.7" fill="url(#d69)"/><linearGradient id="d70" gradientUnits="userSpaceOnUse" x1="876.1" y1="992.5" x2="1152.3" y2="1050.6"><stop offset="0%" stop-color="#07adee"/><stop offset="7.1%" stop-color="#05afed"/><stop offset="14.3%" stop-color="#01b5eb"/><stop offset="21.4%" stop-color="#0abfe8"/><stop offset="28.6%" stop-color="#17cce4"/><stop offset="35.7%" stop-color="#25d9df"/><stop offset="42.9%" stop-color="#33e3d9"/><stop offset="50%" stop-color="#40ebd4"/><stop offset="57.1%" stop-color="#4af1cf"/><stop offset="64.3%" stop-color="#53f5cb"/><stop offset="71.4%" stop-color="#5af8c8"/><stop offset="78.6%" stop-color="#60fac5"/><stop offset="85.7%" stop-color="#66fcc2"/><stop offset="92.9%" stop-color="#6efdbe"/><stop offset="100%" stop-color="#74febb"/></linearGradient><polygon points="876.4,998.9 1152.2,1057.2 1152.3,1044.1 875.9,986.2" fill="url(#d70)"/><linearGradient id="d71" gradientUnits="userSpaceOnUse" x1="875.9" y1="986.1" x2="1152.3" y2="1043.9"><stop offset="0%" stop-color="#04b0ed"/><stop offset="7.1%" stop-color="#02b2ec"/><stop offset="14.3%" stop-color="#04b8ea"/><stop offset="21.4%" stop-color="#0dc3e7"/><stop offset="28.6%" stop-color="#1acfe3"/><stop offset="35.7%" stop-color="#29dbde"/><stop offset="42.9%" stop-color="#37e6d8"/><stop offset="50%" stop-color="#43eed3"/><stop offset="57.1%" stop-color="#4ef3ce"/><stop offset="64.3%" stop-color="#56f7ca"/><stop offset="71.4%" stop-color="#5df9c6"/><stop offset="78.6%" stop-color="#63fbc3"/><stop offset="85.7%" stop-color="#6afdc0"/><stop offset="92.9%" stop-color="#72febb"/><stop offset="100%" stop-color="#79ffb8"/></linearGradient><polygon points="876.1,992.4 1152.3,1050.5 1152.4,1037.4 875.7,979.7" fill="url(#d71)"/><linearGradient id="d72" gradientUnits="userSpaceOnUse" x1="875.7" y1="979.6" x2="1152.4" y2="1037.3"><stop offset="0%" stop-color="#02b6eb"/><stop offset="7.1%" stop-color="#04b8ea"/><stop offset="14.3%" stop-color="#0abfe9"/><stop offset="21.4%" stop-color="#13c9e5"/><stop offset="28.6%" stop-color="#20d4e1"/><stop offset="35.7%" stop-color="#2ee0db"/><stop offset="42.9%" stop-color="#3ce9d6"/><stop offset="50%" stop-color="#48f0d0"/><stop offset="57.1%" stop-color="#52f5cc"/><stop offset="64.3%" stop-color="#5af8c8"/><stop offset="71.4%" stop-color="#61fbc4"/><stop offset="78.6%" stop-color="#67fcc1"/><stop offset="85.7%" stop-color="#6ffebd"/><stop offset="92.9%" stop-color="#77ffb9"/><stop offset="100%" stop-color="#7effb5"/></linearGradient><polygon points="875.9,985.9 1152.3,1043.8 1152.4,1030.7 875.5,973.3" fill="url(#d72)"/><linearGradient id="d73" gradientUnits="userSpaceOnUse" x1="875.5" y1="973.1" x2="1152.4" y2="1030.6"><stop offset="0%" stop-color="#0abfe9"/><stop offset="7.1%" stop-color="#0cc1e8"/><stop offset="14.3%" stop-color="#12c7e6"/><stop offset="21.4%" stop-color="#1cd0e2"/><stop offset="28.6%" stop-color="#28dbde"/><stop offset="35.7%" stop-color="#35e5d9"/><stop offset="42.9%" stop-color="#42edd3"/><stop offset="50%" stop-color="#4df3ce"/><stop offset="57.1%" stop-color="#57f7c9"/><stop offset="64.3%" stop-color="#5ffac5"/><stop offset="71.4%" stop-color="#65fcc2"/><stop offset="78.6%" stop-color="#6bfdbf"/><stop offset="85.7%" stop-color="#73febb"/><stop offset="92.9%" stop-color="#7dffb6"/><stop offset="100%" stop-color="#84ffb2"/></linearGradient><polygon points="875.7,979.5 1152.4,1037.1 1152.5,1024.1 875.3,966.8" fill="url(#d73)"/><linearGradient id="d74" gradientUnits="userSpaceOnUse" x1="875.3" y1="966.7" x2="1152.5" y2="1023.9"><stop offset="0%" stop-color="#13c8e5"/><stop offset="7.1%" stop-color="#16cbe4"/><stop offset="14.3%" stop-color="#1dd1e2"/><stop offset="21.4%" stop-color="#26d9df"/><stop offset="28.6%" stop-color="#31e2da"/><stop offset="35.7%" stop-color="#3dead5"/><stop offset="42.9%" stop-color="#49f1d0"/><stop offset="50%" stop-color="#54f6cb"/><stop offset="57.1%" stop-color="#5df9c7"/><stop offset="64.3%" stop-color="#64fbc3"/><stop offset="71.4%" stop-color="#6afdc0"/><stop offset="78.6%" stop-color="#70febd"/><stop offset="85.7%" stop-color="#78ffb9"/><stop offset="92.9%" stop-color="#83ffb3"/><stop offset="100%" stop-color="#8bfeae"/></linearGradient><polygon points="875.5,973 1152.4,1030.5 1152.5,1017.4 875.1,960.3" fill="url(#d74)"/><linearGradient id="d75" gradientUnits="userSpaceOnUse" x1="875.1" y1="960.2" x2="1152.5" y2="1017.3"><stop offset="0%" stop-color="#1dd1e2"/><stop offset="7.1%" stop-color="#21d5e0"/><stop offset="14.3%" stop-color="#27dade"/><stop offset="21.4%" stop-color="#30e1db"/><stop offset="28.6%" stop-color="#3be8d6"/><stop offset="35.7%" stop-color="#46efd1"/><stop offset="42.9%" stop-color="#50f4cd"/><stop offset="50%" stop-color="#5af8c8"/><stop offset="57.1%" stop-color="#62fbc4"/><stop offset="64.3%" stop-color="#69fdc0"/><stop offset="71.4%" stop-color="#6ffebd"/><stop offset="78.6%" stop-color="#74feba"/><stop offset="85.7%" stop-color="#7dffb6"/><stop offset="92.9%" stop-color="#89ffaf"/><stop offset="100%" stop-color="#91fdaa"/></linearGradient><polygon points="875.3,966.6 1152.5,1023.8 1152.6,1010.7 874.9,953.9" fill="url(#d75)"/><linearGradient id="d76" gradientUnits="userSpaceOnUse" x1="874.9" y1="953.8" x2="1152.6" y2="1010.6"><stop offset="0%" stop-color="#26dade"/><stop offset="7.1%" stop-color="#2bdddd"/><stop offset="14.3%" stop-color="#32e2da"/><stop offset="21.4%" stop-color="#3ae8d6"/><stop offset="28.6%" stop-color="#44eed2"/><stop offset="35.7%" stop-color="#4ef3ce"/><stop offset="42.9%" stop-color="#58f7c9"/><stop offset="50%" stop-color="#61fac5"/><stop offset="57.1%" stop-color="#68fcc1"/><stop offset="64.3%" stop-color="#6efebe"/><stop offset="71.4%" stop-color="#73febb"/><stop offset="78.6%" stop-color="#79ffb8"/><stop offset="85.7%" stop-color="#82ffb3"/><stop offset="92.9%" stop-color="#8ffeab"/><stop offset="100%" stop-color="#99fca6"/></linearGradient><polygon points="875.1,960.1 1152.5,1017.1 1152.6,1004.1 874.7,947.4" fill="url(#d76)"/><linearGradient id="d77" gradientUnits="userSpaceOnUse" x1="874.7" y1="947.3" x2="1152.6" y2="1003.9"><stop offset="0%" stop-color="#2fe0db"/><stop offset="7.1%" stop-color="#34e4d9"/><stop offset="14.3%" stop-color="#3be9d6"/><stop offset="21.4%" stop-color="#43eed2"/><stop offset="28.6%" stop-color="#4cf3ce"/><stop offset="35.7%" stop-color="#56f7ca"/><stop offset="42.9%" stop-color="#5ffac6"/><stop offset="50%" stop-color="#67fcc1"/><stop offset="57.1%" stop-color="#6efdbe"/><stop offset="64.3%" stop-color="#74febb"/><stop offset="71.4%" stop-color="#78ffb8"/><stop offset="78.6%" stop-color="#7effb5"/><stop offset="85.7%" stop-color="#87ffb0"/><stop offset="92.9%" stop-color="#96fda8"/><stop offset="100%" stop-color="#a0faa1"/></linearGradient><polygon points="874.9,953.6 1152.6,1010.5 1152.7,997.4 874.5,941" fill="url(#d77)"/><linearGradient id="d78" gradientUnits="userSpaceOnUse" x1="874.5" y1="940.8" x2="1152.7" y2="997.3"><stop offset="0%" stop-color="#36e5d8"/><stop offset="7.1%" stop-color="#3ce9d6"/><stop offset="14.3%" stop-color="#43eed2"/><stop offset="21.4%" stop-color="#4bf2cf"/><stop offset="28.6%" stop-color="#54f6cb"/><stop offset="35.7%" stop-color="#5df9c6"/><stop offset="42.9%" stop-color="#65fcc2"/><stop offset="50%" stop-color="#6dfdbe"/><stop offset="57.1%" stop-color="#74febb"/><stop offset="64.3%" stop-color="#79ffb8"/><stop offset="71.4%" stop-color="#7dffb6"/><stop offset="78.6%" stop-color="#83ffb3"/><stop offset="85.7%" stop-color="#8dfead"/><stop offset="92.9%" stop-color="#9cfba4"/><stop offset="100%" stop-color="#a8f79d"/></linearGradient><polygon points="874.7,947.2 1152.6,1003.8 1152.7,990.7 874.3,934.5" fill="url(#d78)"/><linearGradient id="d79" gradientUnits="userSpaceOnUse" x1="874.3" y1="934.4" x2="1152.7" y2="990.6"><stop offset="0%" stop-color="#3ce9d6"/><stop offset="7.1%" stop-color="#43edd3"/><stop offset="14.3%" stop-color="#4af1cf"/><stop offset="21.4%" stop-color="#52f5cc"/><stop offset="28.6%" stop-color="#5bf9c8"/><stop offset="35.7%" stop-color="#63fbc3"/><stop offset="42.9%" stop-color="#6cfdbf"/><stop offset="50%" stop-color="#73febb"/><stop offset="57.1%" stop-color="#79ffb8"/><stop offset="64.3%" stop-color="#7effb5"/><stop offset="71.4%" stop-color="#82ffb3"/><stop offset="78.6%" stop-color="#87ffb0"/><stop offset="85.7%" stop-color="#92fdaa"/><stop offset="92.9%" stop-color="#a3f99f"/><stop offset="100%" stop-color="#aff498"/></linearGradient><polygon points="874.5,940.7 1152.7,997.1 1152.8,984 874,928" fill="url(#d79)"/><linearGradient id="d80" gradientUnits="userSpaceOnUse" x1="874" y1="927.9" x2="1152.8" y2="983.9"><stop offset="0%" stop-color="#41ecd3"/><stop offset="7.1%" stop-color="#48f0d0"/><stop offset="14.3%" stop-color="#50f4cd"/><stop offset="21.4%" stop-color="#58f7c9"/><stop offset="28.6%" stop-color="#61fac5"/><stop offset="35.7%" stop-color="#69fdc0"/><stop offset="42.9%" stop-color="#71febc"/><stop offset="50%" stop-color="#79ffb8"/><stop offset="57.1%" stop-color="#7fffb5"/><stop offset="64.3%" stop-color="#83ffb2"/><stop offset="71.4%" stop-color="#87ffb0"/><stop offset="78.6%" stop-color="#8cfead"/><stop offset="85.7%" stop-color="#98fca7"/><stop offset="92.9%" stop-color="#aaf69b"/><stop offset="100%" stop-color="#b7f093"/></linearGradient><polygon points="874.3,934.2 1152.7,990.5 1152.8,977.4 873.8,921.6" fill="url(#d80)"/><linearGradient id="d81" gradientUnits="userSpaceOnUse" x1="873.8" y1="921.4" x2="1152.8" y2="977.2"><stop offset="0%" stop-color="#45efd2"/><stop offset="7.1%" stop-color="#4df3ce"/><stop offset="14.3%" stop-color="#54f6cb"/><stop offset="21.4%" stop-color="#5df9c6"/><stop offset="28.6%" stop-color="#66fcc2"/><stop offset="35.7%" stop-color="#6ffebd"/><stop offset="42.9%" stop-color="#77ffb9"/><stop offset="50%" stop-color="#7effb5"/><stop offset="57.1%" stop-color="#84ffb2"/><stop offset="64.3%" stop-color="#88ffaf"/><stop offset="71.4%" stop-color="#8cfead"/><stop offset="78.6%" stop-color="#91fdaa"/><stop offset="85.7%" stop-color="#9dfba3"/><stop offset="92.9%" stop-color="#b1f397"/><stop offset="100%" stop-color="#bfec8e"/></linearGradient><polygon points="874,927.8 1152.8,983.8 1152.9,970.7 873.6,915.1" fill="url(#d81)"/><linearGradient id="d82" gradientUnits="userSpaceOnUse" x1="873.6" y1="915" x2="1152.9" y2="970.6"><stop offset="0%" stop-color="#49f1d0"/><stop offset="7.1%" stop-color="#50f4cd"/><stop offset="14.3%" stop-color="#59f8c9"/><stop offset="21.4%" stop-color="#61fbc4"/><stop offset="28.6%" stop-color="#6afdc0"/><stop offset="35.7%" stop-color="#73febb"/><stop offset="42.9%" stop-color="#7cffb6"/><stop offset="50%" stop-color="#83ffb2"/><stop offset="57.1%" stop-color="#89ffaf"/><stop offset="64.3%" stop-color="#8efeac"/><stop offset="71.4%" stop-color="#91feaa"/><stop offset="78.6%" stop-color="#96fda7"/><stop offset="85.7%" stop-color="#a2f9a0"/><stop offset="92.9%" stop-color="#b8f092"/><stop offset="100%" stop-color="#c6e789"/></linearGradient><polygon points="873.8,921.3 1152.8,977.1 1152.9,964 873.4,908.6" fill="url(#d82)"/><linearGradient id="d83" gradientUnits="userSpaceOnUse" x1="873.4" y1="908.5" x2="1152.9" y2="963.9"><stop offset="0%" stop-color="#4cf2ce"/><stop offset="7.1%" stop-color="#54f6cb"/><stop offset="14.3%" stop-color="#5cf9c7"/><stop offset="21.4%" stop-color="#65fcc2"/><stop offset="28.6%" stop-color="#6ffebd"/><stop offset="35.7%" stop-color="#78ffb8"/><stop offset="42.9%" stop-color="#81ffb4"/><stop offset="50%" stop-color="#88ffaf"/><stop offset="57.1%" stop-color="#8efeac"/><stop offset="64.3%" stop-color="#92fda9"/><stop offset="71.4%" stop-color="#96fda7"/><stop offset="78.6%" stop-color="#9bfba4"/><stop offset="85.7%" stop-color="#a8f79d"/><stop offset="92.9%" stop-color="#beec8e"/><stop offset="100%" stop-color="#cde284"/></linearGradient><polygon points="873.6,914.8 1152.9,970.4 1153,957.4 873.2,902.2" fill="url(#d83)"/><linearGradient id="d84" gradientUnits="userSpaceOnUse" x1="873.2" y1="902" x2="1153" y2="957.2"><stop offset="0%" stop-color="#4ff4cd"/><stop offset="7.1%" stop-color="#57f7c9"/><stop offset="14.3%" stop-color="#60fac5"/><stop offset="21.4%" stop-color="#69fdc0"/><stop offset="28.6%" stop-color="#73febb"/><stop offset="35.7%" stop-color="#7cffb6"/><stop offset="42.9%" stop-color="#85ffb1"/><stop offset="50%" stop-color="#8dfead"/><stop offset="57.1%" stop-color="#93fda9"/><stop offset="64.3%" stop-color="#97fca7"/><stop offset="71.4%" stop-color="#9bfba5"/><stop offset="78.6%" stop-color="#a0faa1"/><stop offset="85.7%" stop-color="#adf599"/><stop offset="92.9%" stop-color="#c5e88a"/><stop offset="100%" stop-color="#d4dd80"/></linearGradient><polygon points="873.4,908.4 1152.9,963.8 1153,950.7 873,895.7" fill="url(#d84)"/><linearGradient id="d85" gradientUnits="userSpaceOnUse" x1="873" y1="895.6" x2="1153" y2="950.6"><stop offset="0%" stop-color="#52f5cc"/><stop offset="7.1%" stop-color="#5af8c8"/><stop offset="14.3%" stop-color="#63fbc3"/><stop offset="21.4%" stop-color="#6dfdbe"/><stop offset="28.6%" stop-color="#77ffb9"/><stop offset="35.7%" stop-color="#80ffb4"/><stop offset="42.9%" stop-color="#89ffaf"/><stop offset="50%" stop-color="#91fdaa"/><stop offset="57.1%" stop-color="#97fca7"/><stop offset="64.3%" stop-color="#9cfba4"/><stop offset="71.4%" stop-color="#a0faa2"/><stop offset="78.6%" stop-color="#a5f89e"/><stop offset="85.7%" stop-color="#b3f296"/><stop offset="92.9%" stop-color="#cbe486"/><stop offset="100%" stop-color="#dcd77b"/></linearGradient><polygon points="873.2,901.9 1153,957.1 1153.1,944 872.8,889.2" fill="url(#d85)"/><linearGradient id="d86" gradientUnits="userSpaceOnUse" x1="872.8" y1="889.1" x2="1153.1" y2="943.9"><stop offset="0%" stop-color="#55f6ca"/><stop offset="7.1%" stop-color="#5df9c6"/><stop offset="14.3%" stop-color="#66fcc2"/><stop offset="21.4%" stop-color="#70febd"/><stop offset="28.6%" stop-color="#7affb7"/><stop offset="35.7%" stop-color="#84ffb2"/><stop offset="42.9%" stop-color="#8efeac"/><stop offset="50%" stop-color="#96fda8"/><stop offset="57.1%" stop-color="#9cfba4"/><stop offset="64.3%" stop-color="#a1faa1"/><stop offset="71.4%" stop-color="#a5f89e"/><stop offset="78.6%" stop-color="#abf69b"/><stop offset="85.7%" stop-color="#b9ef92"/><stop offset="92.9%" stop-color="#d2df81"/><stop offset="100%" stop-color="#e3d176"/></linearGradient><polygon points="873,895.4 1153,950.4 1153.1,937.4 872.6,882.8" fill="url(#d86)"/><linearGradient id="d87" gradientUnits="userSpaceOnUse" x1="872.6" y1="882.6" x2="1153.1" y2="937.2"><stop offset="0%" stop-color="#57f7c9"/><stop offset="7.1%" stop-color="#60fac5"/><stop offset="14.3%" stop-color="#69fdc0"/><stop offset="21.4%" stop-color="#73febb"/><stop offset="28.6%" stop-color="#7effb5"/><stop offset="35.7%" stop-color="#88ffb0"/><stop offset="42.9%" stop-color="#91fdaa"/><stop offset="50%" stop-color="#9afca5"/><stop offset="57.1%" stop-color="#a1faa1"/><stop offset="64.3%" stop-color="#a6f89e"/><stop offset="71.4%" stop-color="#abf69b"/><stop offset="78.6%" stop-color="#b1f397"/><stop offset="85.7%" stop-color="#c0eb8d"/><stop offset="92.9%" stop-color="#dad97c"/><stop offset="100%" stop-color="#ebc970"/></linearGradient><polygon points="872.8,889 1153.1,943.8 1153.2,930.7 872.4,876.3" fill="url(#d87)"/><linearGradient id="d88" gradientUnits="userSpaceOnUse" x1="872.4" y1="876.2" x2="1153.2" y2="930.6"><stop offset="0%" stop-color="#5af8c8"/><stop offset="7.1%" stop-color="#63fbc4"/><stop offset="14.3%" stop-color="#6cfdbf"/><stop offset="21.4%" stop-color="#76ffb9"/><stop offset="28.6%" stop-color="#81ffb4"/><stop offset="35.7%" stop-color="#8bfeae"/><stop offset="42.9%" stop-color="#95fda8"/><stop offset="50%" stop-color="#9efaa2"/><stop offset="57.1%" stop-color="#a6f89e"/><stop offset="64.3%" stop-color="#acf59a"/><stop offset="71.4%" stop-color="#b1f397"/><stop offset="78.6%" stop-color="#b9ef92"/><stop offset="85.7%" stop-color="#c9e687"/><stop offset="92.9%" stop-color="#e2d176"/><stop offset="100%" stop-color="#f3c16a"/></linearGradient><polygon points="872.6,882.5 1153.1,937.1 1153.2,924 872.2,869.8" fill="url(#d88)"/><linearGradient id="d89" gradientUnits="userSpaceOnUse" x1="872.2" y1="869.7" x2="1153.2" y2="923.9"><stop offset="0%" stop-color="#5df9c7"/><stop offset="7.1%" stop-color="#65fcc2"/><stop offset="14.3%" stop-color="#6ffebd"/><stop offset="21.4%" stop-color="#79ffb8"/><stop offset="28.6%" stop-color="#84ffb2"/><stop offset="35.7%" stop-color="#8ffeab"/><stop offset="42.9%" stop-color="#9afca5"/><stop offset="50%" stop-color="#a3f99f"/><stop offset="57.1%" stop-color="#acf69a"/><stop offset="64.3%" stop-color="#b3f296"/><stop offset="71.4%" stop-color="#baef91"/><stop offset="78.6%" stop-color="#c2ea8c"/><stop offset="85.7%" stop-color="#d3de81"/><stop offset="92.9%" stop-color="#ecc86f"/><stop offset="100%" stop-color="#fdb763"/></linearGradient><polygon points="872.4,876 1153.2,930.4 1153.3,917.3 871.9,863.4" fill="url(#d89)"/><linearGradient id="d90" gradientUnits="userSpaceOnUse" x1="871.9" y1="863.2" x2="1153.3" y2="917.2"><stop offset="0%" stop-color="#5ffac5"/><stop offset="7.1%" stop-color="#68fcc1"/><stop offset="14.3%" stop-color="#72febc"/><stop offset="21.4%" stop-color="#7dffb6"/><stop offset="28.6%" stop-color="#88ffaf"/><stop offset="35.7%" stop-color="#94fda9"/><stop offset="42.9%" stop-color="#9ffaa2"/><stop offset="50%" stop-color="#a9f79c"/><stop offset="57.1%" stop-color="#b3f296"/><stop offset="64.3%" stop-color="#bcee90"/><stop offset="71.4%" stop-color="#c4e98b"/><stop offset="78.6%" stop-color="#cde285"/><stop offset="85.7%" stop-color="#dfd479"/><stop offset="92.9%" stop-color="#f7bd67"/><stop offset="100%" stop-color="#ffab5b"/></linearGradient><polygon points="872.2,869.6 1153.2,923.8 1153.3,910.7 871.7,856.9" fill="url(#d90)"/><linearGradient id="d91" gradientUnits="userSpaceOnUse" x1="871.7" y1="856.8" x2="1153.3" y2="910.5"><stop offset="0%" stop-color="#62fbc4"/><stop offset="7.1%" stop-color="#6cfdbf"/><stop offset="14.3%" stop-color="#76ffba"/><stop offset="21.4%" stop-color="#81ffb3"/><stop offset="28.6%" stop-color="#8dfead"/><stop offset="35.7%" stop-color="#99fca5"/><stop offset="42.9%" stop-color="#a6f89e"/><stop offset="50%" stop-color="#b1f397"/><stop offset="57.1%" stop-color="#bcee90"/><stop offset="64.3%" stop-color="#c6e789"/><stop offset="71.4%" stop-color="#d0e183"/><stop offset="78.6%" stop-color="#dad87b"/><stop offset="85.7%" stop-color="#ecc86f"/><stop offset="92.9%" stop-color="#ffaf5e"/><stop offset="100%" stop-color="#ff9c53"/></linearGradient><polygon points="871.9,863.1 1153.3,917.1 1153.4,904 871.5,850.4" fill="url(#d91)"/><linearGradient id="d92" gradientUnits="userSpaceOnUse" x1="871.5" y1="850.3" x2="1153.4" y2="903.9"><stop offset="0%" stop-color="#65fcc2"/><stop offset="7.1%" stop-color="#70febd"/><stop offset="14.3%" stop-color="#7bffb7"/><stop offset="21.4%" stop-color="#87ffb0"/><stop offset="28.6%" stop-color="#94fda9"/><stop offset="35.7%" stop-color="#a1faa1"/><stop offset="42.9%" stop-color="#aef599"/><stop offset="50%" stop-color="#baef91"/><stop offset="57.1%" stop-color="#c7e789"/><stop offset="64.3%" stop-color="#d3de81"/><stop offset="71.4%" stop-color="#ded579"/><stop offset="78.6%" stop-color="#eaca71"/><stop offset="85.7%" stop-color="#fcb864"/><stop offset="92.9%" stop-color="#ff9f54"/><stop offset="100%" stop-color="#ff8d49"/></linearGradient><polygon points="871.7,856.6 1153.3,910.4 1153.4,897.3 871.3,844" fill="url(#d92)"/><linearGradient id="d93" gradientUnits="userSpaceOnUse" x1="871.3" y1="843.8" x2="1153.4" y2="897.2"><stop offset="0%" stop-color="#69fdc0"/><stop offset="7.1%" stop-color="#76ffb9"/><stop offset="14.3%" stop-color="#82ffb3"/><stop offset="21.4%" stop-color="#8ffeac"/><stop offset="28.6%" stop-color="#9cfba4"/><stop offset="35.7%" stop-color="#aaf69b"/><stop offset="42.9%" stop-color="#b8f092"/><stop offset="50%" stop-color="#c5e88a"/><stop offset="57.1%" stop-color="#d3de80"/><stop offset="64.3%" stop-color="#e1d277"/><stop offset="71.4%" stop-color="#eec76e"/><stop offset="78.6%" stop-color="#fab965"/><stop offset="85.7%" stop-color="#ffa457"/><stop offset="92.9%" stop-color="#ff8c49"/><stop offset="100%" stop-color="#ff7b40"/></linearGradient><polygon points="871.5,850.2 1153.4,903.7 1153.5,890.7 871.1,837.5" fill="url(#d93)"/><linearGradient id="d94" gradientUnits="userSpaceOnUse" x1="871.1" y1="837.4" x2="1153.5" y2="890.5"><stop offset="0%" stop-color="#6efdbe"/><stop offset="7.1%" stop-color="#7fffb4"/><stop offset="14.3%" stop-color="#8cfead"/><stop offset="21.4%" stop-color="#99fca6"/><stop offset="28.6%" stop-color="#a7f89d"/><stop offset="35.7%" stop-color="#b5f194"/><stop offset="42.9%" stop-color="#c4e98b"/><stop offset="50%" stop-color="#d2df81"/><stop offset="57.1%" stop-color="#e2d277"/><stop offset="64.3%" stop-color="#f1c36c"/><stop offset="71.4%" stop-color="#feb562"/><stop offset="78.6%" stop-color="#ffa558"/><stop offset="85.7%" stop-color="#ff8e4a"/><stop offset="92.9%" stop-color="#ff783e"/><stop offset="100%" stop-color="#ff6936"/></linearGradient><polygon points="871.3,843.7 1153.4,897.1 1153.5,884 870.9,831" fill="url(#d94)"/><linearGradient id="d95" gradientUnits="userSpaceOnUse" x1="870.9" y1="830.9" x2="1153.5" y2="883.9"><stop offset="0%" stop-color="#74feba"/><stop offset="7.1%" stop-color="#8bfeae"/><stop offset="14.3%" stop-color="#98fca6"/><stop offset="21.4%" stop-color="#a6f89e"/><stop offset="28.6%" stop-color="#b4f295"/><stop offset="35.7%" stop-color="#c3ea8b"/><stop offset="42.9%" stop-color="#d1df82"/><stop offset="50%" stop-color="#dfd478"/><stop offset="57.1%" stop-color="#f1c46c"/><stop offset="64.3%" stop-color="#ffb260"/><stop offset="71.4%" stop-color="#ffa155"/><stop offset="78.6%" stop-color="#ff8f4b"/><stop offset="85.7%" stop-color="#ff773d"/><stop offset="92.9%" stop-color="#ff6433"/><stop offset="100%" stop-color="#ff572c"/></linearGradient><polygon points="871.1,837.3 1153.5,890.4 1153.6,877.3 870.7,824.6" fill="url(#d95)"/><linearGradient id="d96" gradientUnits="userSpaceOnUse" x1="870.7" y1="824.5" x2="1153.6" y2="877.2"><stop offset="0%" stop-color="#7cffb6"/><stop offset="7.1%" stop-color="#9afca5"/><stop offset="14.3%" stop-color="#a7f79d"/><stop offset="21.4%" stop-color="#b4f295"/><stop offset="28.6%" stop-color="#c2ea8c"/><stop offset="35.7%" stop-color="#d1e082"/><stop offset="42.9%" stop-color="#dfd478"/><stop offset="50%" stop-color="#edc76e"/><stop offset="57.1%" stop-color="#ffb461"/><stop offset="64.3%" stop-color="#ff9f54"/><stop offset="71.4%" stop-color="#ff8c49"/><stop offset="78.6%" stop-color="#ff783e"/><stop offset="85.7%" stop-color="#ff6031"/><stop offset="92.9%" stop-color="#ff5028"/><stop offset="100%" stop-color="#ff4624"/></linearGradient><polygon points="870.9,830.8 1153.5,883.7 1153.6,870.7 870.5,818.1" fill="url(#d96)"/><linearGradient id="d97" gradientUnits="userSpaceOnUse" x1="870.5" y1="818" x2="1153.6" y2="870.5"><stop offset="0%" stop-color="#86ffb1"/><stop offset="7.1%" stop-color="#abf69b"/><stop offset="14.3%" stop-color="#b7f093"/><stop offset="21.4%" stop-color="#c4e98b"/><stop offset="28.6%" stop-color="#d0e082"/><stop offset="35.7%" stop-color="#dfd479"/><stop offset="42.9%" stop-color="#edc76e"/><stop offset="50%" stop-color="#fbb965"/><stop offset="57.1%" stop-color="#ffa357"/><stop offset="64.3%" stop-color="#ff8c49"/><stop offset="71.4%" stop-color="#ff773d"/><stop offset="78.6%" stop-color="#ff6332"/><stop offset="85.7%" stop-color="#ff4a26"/><stop offset="92.9%" stop-color="#ff3e1f"/><stop offset="100%" stop-color="#ff371c"/></linearGradient><polygon points="870.7,824.3 1153.6,877.1 1153.7,864 870.3,811.7" fill="url(#d97)"/><linearGradient id="d98" gradientUnits="userSpaceOnUse" x1="870.3" y1="811.5" x2="1153.7" y2="863.9"><stop offset="0%" stop-color="#8ffeab"/><stop offset="7.1%" stop-color="#bcee90"/><stop offset="14.3%" stop-color="#c7e789"/><stop offset="21.4%" stop-color="#d3de81"/><stop offset="28.6%" stop-color="#ded579"/><stop offset="35.7%" stop-color="#ecc86f"/><stop offset="42.9%" stop-color="#faba65"/><stop offset="50%" stop-color="#ffac5c"/><stop offset="57.1%" stop-color="#ff944d"/><stop offset="64.3%" stop-color="#ff7b3f"/><stop offset="71.4%" stop-color="#ff6433"/><stop offset="78.6%" stop-color="#ff4f28"/><stop offset="85.7%" stop-color="#ff371c"/><stop offset="92.9%" stop-color="#ff2f17"/><stop offset="100%" stop-color="#ff2b15"/></linearGradient><polygon points="870.5,817.9 1153.6,870.4 1153.7,857.3 870.1,805.2" fill="url(#d98)"/><linearGradient id="d99" gradientUnits="userSpaceOnUse" x1="870.1" y1="805.1" x2="1153.7" y2="857.2"><stop offset="0%" stop-color="#98fca6"/><stop offset="7.1%" stop-color="#cbe486"/><stop offset="14.3%" stop-color="#d5dc7f"/><stop offset="21.4%" stop-color="#e0d478"/><stop offset="28.6%" stop-color="#eaca71"/><stop offset="35.7%" stop-color="#f7bd67"/><stop offset="42.9%" stop-color="#ffae5e"/><stop offset="50%" stop-color="#ff9f55"/><stop offset="57.1%" stop-color="#ff8646"/><stop offset="64.3%" stop-color="#ff6c37"/><stop offset="71.4%" stop-color="#ff542b"/><stop offset="78.6%" stop-color="#ff3f20"/><stop offset="85.7%" stop-color="#ff2814"/><stop offset="92.9%" stop-color="#ff2211"/><stop offset="100%" stop-color="#ff2010"/></linearGradient><polygon points="870.3,811.4 1153.7,863.7 1153.8,850.6 869.8,798.7" fill="url(#d99)"/><linearGradient id="d100" gradientUnits="userSpaceOnUse" x1="869.8" y1="798.6" x2="1153.8" y2="850.5"><stop offset="0%" stop-color="#a1faa1"/><stop offset="7.1%" stop-color="#d8da7d"/><stop offset="14.3%" stop-color="#e1d277"/><stop offset="21.4%" stop-color="#eaca70"/><stop offset="28.6%" stop-color="#f3c16a"/><stop offset="35.7%" stop-color="#ffb361"/><stop offset="42.9%" stop-color="#ffa558"/><stop offset="50%" stop-color="#ff964f"/><stop offset="57.1%" stop-color="#ff7b40"/><stop offset="64.3%" stop-color="#ff6031"/><stop offset="71.4%" stop-color="#ff4724"/><stop offset="78.6%" stop-color="#ff3219"/><stop offset="85.7%" stop-color="#ff1b0e"/><stop offset="92.9%" stop-color="#ff180c"/><stop offset="100%" stop-color="#ff190c"/></linearGradient><polygon points="870.1,804.9 1153.7,857.1 1153.8,844 869.6,792.3" fill="url(#d100)"/><linearGradient id="d101" gradientUnits="userSpaceOnUse" x1="869.6" y1="792.1" x2="1153.8" y2="843.8"><stop offset="0%" stop-color="#a7f79d"/><stop offset="7.1%" stop-color="#e2d176"/><stop offset="14.3%" stop-color="#eaca70"/><stop offset="21.4%" stop-color="#f3c26b"/><stop offset="28.6%" stop-color="#fbb965"/><stop offset="35.7%" stop-color="#ffac5c"/><stop offset="42.9%" stop-color="#ff9d53"/><stop offset="50%" stop-color="#ff8e4a"/><stop offset="57.1%" stop-color="#ff733b"/><stop offset="64.3%" stop-color="#ff572c"/><stop offset="71.4%" stop-color="#ff3e1f"/><stop offset="78.6%" stop-color="#ff2814"/><stop offset="85.7%" stop-color="#ff1209"/><stop offset="92.9%" stop-color="#ff1109"/><stop offset="100%" stop-color="#ff1309"/></linearGradient><polygon points="869.8,798.5 1153.8,850.4 1153.9,837.3 869.4,785.8" fill="url(#d101)"/><linearGradient id="d102" gradientUnits="userSpaceOnUse" x1="869.4" y1="785.7" x2="1153.9" y2="837.2"><stop offset="0%" stop-color="#acf69a"/><stop offset="7.1%" stop-color="#e9cb71"/><stop offset="14.3%" stop-color="#f1c36c"/><stop offset="21.4%" stop-color="#f8bc67"/><stop offset="28.6%" stop-color="#ffb461"/><stop offset="35.7%" stop-color="#ffa759"/><stop offset="42.9%" stop-color="#ff9850"/><stop offset="50%" stop-color="#ff8947"/><stop offset="57.1%" stop-color="#ff6d38"/><stop offset="64.3%" stop-color="#ff5129"/><stop offset="71.4%" stop-color="#ff371c"/><stop offset="78.6%" stop-color="#ff2111"/><stop offset="85.7%" stop-color="#ff0c06"/><stop offset="92.9%" stop-color="#ff0c06"/><stop offset="100%" stop-color="#ff0f07"/></linearGradient><polygon points="869.6,792 1153.8,843.7 1153.9,830.6 869.2,779.3" fill="url(#d102)"/><linearGradient id="d103" gradientUnits="userSpaceOnUse" x1="869.2" y1="779.2" x2="1153.9" y2="830.5"><stop offset="0%" stop-color="#aff498"/><stop offset="7.1%" stop-color="#eec66e"/><stop offset="14.3%" stop-color="#f5bf69"/><stop offset="21.4%" stop-color="#fcb864"/><stop offset="28.6%" stop-color="#ffb05f"/><stop offset="35.7%" stop-color="#ffa357"/><stop offset="42.9%" stop-color="#ff944e"/><stop offset="50%" stop-color="#ff8645"/><stop offset="57.1%" stop-color="#ff6936"/><stop offset="64.3%" stop-color="#ff4c27"/><stop offset="71.4%" stop-color="#ff3319"/><stop offset="78.6%" stop-color="#ff1c0e"/><stop offset="85.7%" stop-color="#ff0704"/><stop offset="92.9%" stop-color="#ff0904"/><stop offset="100%" stop-color="#ff0c06"/></linearGradient><polygon points="869.4,785.5 1153.9,837 1154,824 869,772.9" fill="url(#d103)"/><linearGradient id="d104" gradientUnits="userSpaceOnUse" x1="869" y1="772.7" x2="1154" y2="823.8"><stop offset="0%" stop-color="#b2f396"/><stop offset="7.1%" stop-color="#f1c36c"/><stop offset="14.3%" stop-color="#f7bd67"/><stop offset="21.4%" stop-color="#feb562"/><stop offset="28.6%" stop-color="#ffad5d"/><stop offset="35.7%" stop-color="#ffa055"/><stop offset="42.9%" stop-color="#ff924c"/><stop offset="50%" stop-color="#ff8344"/><stop offset="57.1%" stop-color="#ff6734"/><stop offset="64.3%" stop-color="#ff4925"/><stop offset="71.4%" stop-color="#ff2f18"/><stop offset="78.6%" stop-color="#ff190c"/><stop offset="85.7%" stop-color="#ff0402"/><stop offset="92.9%" stop-color="#ff0603"/><stop offset="100%" stop-color="#ff0905"/></linearGradient><polygon points="869.2,779.1 1153.9,830.4 1154,820.5 868.9,769.5" fill="url(#d104)"/>
</g>
<g clip-path="url(#dclip)"><use href="#dfaces" filter="url(#dblur)"/></g>
<text x="761.86" y="645.9" font-size="40" font-weight="bold" textLength="27.60" lengthAdjust="spacingAndGlyphs" stroke="#000" stroke-width="1.2">d</text>
<text><tspan x="852.87" y="686.9" font-size="27" textLength="17.24" lengthAdjust="spacingAndGlyphs">R</tspan><tspan x="869.76" y="674.2" font-size="19" textLength="10.58" lengthAdjust="spacingAndGlyphs">2</tspan><tspan> </tspan><tspan x="886.38" y="686.9" font-size="27" textLength="82.22" lengthAdjust="spacingAndGlyphs">= 0.90</tspan></text>
<text x="834.02" y="1080" font-size="21.5" textLength="50.58" lengthAdjust="spacingAndGlyphs">0.36</text>
<text x="914.04" y="1100" font-size="21.5" textLength="49.54" lengthAdjust="spacingAndGlyphs">0.38</text>
<text x="1000.01" y="1118.5" font-size="21.5" textLength="51.02" lengthAdjust="spacingAndGlyphs">0.40</text>
<text x="1093.01" y="1139" font-size="21.5" textLength="50.74" lengthAdjust="spacingAndGlyphs">0.42</text>
<text x="1177.57" y="1131.5" font-size="21.5" textLength="48.12" lengthAdjust="spacingAndGlyphs">0.24</text>
<text x="1236.37" y="1093.5" font-size="21.5" textLength="48.08" lengthAdjust="spacingAndGlyphs">0.28</text>
<text x="1287.56" y="1055" font-size="21.5" textLength="48.64" lengthAdjust="spacingAndGlyphs">0.32</text>
<text x="1337.53" y="1019" font-size="21.5" textLength="50.06" lengthAdjust="spacingAndGlyphs">0.36</text>
<text x="1344.07" y="992.5" font-size="21.5" textLength="48.12" lengthAdjust="spacingAndGlyphs">0.24</text>
<text x="1344.07" y="932.5" font-size="21.5" textLength="47.97" lengthAdjust="spacingAndGlyphs">0.25</text>
<text x="1346.54" y="871" font-size="21.5" textLength="49.54" lengthAdjust="spacingAndGlyphs">0.26</text>
<text x="1349.06" y="808.5" font-size="21.5" textLength="48.64" lengthAdjust="spacingAndGlyphs">0.27</text>
<text x="1350.06" y="746.5" font-size="21.5" textLength="48.49" lengthAdjust="spacingAndGlyphs">0.28</text>
<text transform="translate(882.5 1130) rotate(12)" x="-2.28" y="0" font-size="25" textLength="172.56" lengthAdjust="spacingAndGlyphs">Normalized R</text>
<text transform="translate(1249.5 1160.5) rotate(-34.4)" x="-2.16" y="0" font-size="25" textLength="165.13" lengthAdjust="spacingAndGlyphs">Normalized G</text>
<text transform="translate(1421.8 869) rotate(90)" x="-85.26" y="0" font-size="25" textLength="169.74" lengthAdjust="spacingAndGlyphs">Normalized B</text>
<defs><linearGradient id="cbard" x1="0" y1="0" x2="0" y2="1"><stop offset="0%" stop-color="#ff0000"/><stop offset="5%" stop-color="#ff2814"/><stop offset="10%" stop-color="#ff4f28"/><stop offset="15%" stop-color="#ff743c"/><stop offset="20%" stop-color="#ff964f"/><stop offset="25%" stop-color="#ffb462"/><stop offset="30%" stop-color="#e5ce74"/><stop offset="35%" stop-color="#cce385"/><stop offset="40%" stop-color="#b2f396"/><stop offset="45%" stop-color="#99fca6"/><stop offset="50%" stop-color="#80ffb4"/><stop offset="55%" stop-color="#66fcc2"/><stop offset="60%" stop-color="#4df3ce"/><stop offset="65%" stop-color="#33e3d9"/><stop offset="70%" stop-color="#1acee3"/><stop offset="75%" stop-color="#00b4ec"/><stop offset="80%" stop-color="#1a96f3"/><stop offset="85%" stop-color="#3374f8"/><stop offset="90%" stop-color="#4d4ffc"/><stop offset="95%" stop-color="#6628fe"/><stop offset="100%" stop-color="#8000ff"/></linearGradient></defs>
<rect x="1463" y="725" width="32.5" height="324" fill="url(#cbard)" stroke="#222" stroke-width="1"/>
<text x="1514.76" y="734.1" font-size="21.5" textLength="45.37" lengthAdjust="spacingAndGlyphs">600</text>
<text x="1515.08" y="788.4" font-size="21.5" textLength="45.04" lengthAdjust="spacingAndGlyphs">500</text>
<text x="1515.56" y="842.9" font-size="21.5" textLength="44.55" lengthAdjust="spacingAndGlyphs">400</text>
<text x="1515.08" y="897.1" font-size="21.5" textLength="45.04" lengthAdjust="spacingAndGlyphs">300</text>
<text x="1514.76" y="951.9" font-size="21.5" textLength="45.37" lengthAdjust="spacingAndGlyphs">200</text>
<text x="1514.26" y="1006.1" font-size="21.5" textLength="40.55" lengthAdjust="spacingAndGlyphs">100</text>
<path d="M1495.5 727.1H1506M1495.5 781.4H1506M1495.5 835.9H1506M1495.5 890.1H1506M1495.5 944.9H1506M1495.5 999.1H1506" stroke="#222" stroke-width="1" fill="none"/>
<text x="1463.41" y="699.4" font-size="26" textLength="118.11" lengthAdjust="spacingAndGlyphs">Size (nm)</text>
</g>
<g id="bars_ef">
<text x="-0.87" y="1249.5" font-size="40" font-weight="bold" textLength="25.26" lengthAdjust="spacingAndGlyphs" stroke="#000" stroke-width="1.2">e</text>
<text x="269.38" y="1255.1" font-size="25" textLength="131.23" lengthAdjust="spacingAndGlyphs">LSPR (nm)</text>
<text x="84.24" y="1297.3" font-size="23" textLength="46.42" lengthAdjust="spacingAndGlyphs">600</text>
<text x="201.13" y="1297.3" font-size="23" textLength="43.26" lengthAdjust="spacingAndGlyphs">700</text>
<text x="313.22" y="1297.3" font-size="23" textLength="45.21" lengthAdjust="spacingAndGlyphs">800</text>
<text x="425.55" y="1297.3" font-size="23" textLength="45.29" lengthAdjust="spacingAndGlyphs">900</text>
<text x="527.99" y="1297.3" font-size="23" textLength="64.43" lengthAdjust="spacingAndGlyphs">1,000</text>
<text x="85.11" y="1701.6" font-size="23" textLength="47.01" lengthAdjust="spacingAndGlyphs">1.90</text>
<text x="198.06" y="1701.6" font-size="23" textLength="47.37" lengthAdjust="spacingAndGlyphs">2.94</text>
<text x="310.81" y="1701.6" font-size="23" textLength="48.27" lengthAdjust="spacingAndGlyphs">3.98</text>
<text x="423.50" y="1701.6" font-size="23" textLength="48.41" lengthAdjust="spacingAndGlyphs">5.02</text>
<text x="534.01" y="1701.6" font-size="23" textLength="51.39" lengthAdjust="spacingAndGlyphs">6.06</text>
<path d="M99.2 1321.1H571.4M110.4 1310V1321.1M223.5 1310V1321.1M336.5 1310V1321.1M448.9 1310V1321.1M561.3 1310V1321.1M98.2 1662.6H570.4M109.6 1662.6V1673.8M222.5 1662.6V1673.8M335.4 1662.6V1673.8M448.1 1662.6V1673.8M560.3 1662.6V1673.8" stroke="#222" stroke-width="1.1" fill="none"/>
<linearGradient id="g1" x1="0" x2="1" y1="0" y2="0"><stop offset="0%" stop-color="#7510ff"/><stop offset="4.2%" stop-color="#6031fe"/><stop offset="8.3%" stop-color="#4b51fc"/><stop offset="12.5%" stop-color="#366ff9"/><stop offset="16.7%" stop-color="#218cf4"/><stop offset="20.8%" stop-color="#0ca6ef"/><stop offset="25%" stop-color="#07bce9"/><stop offset="29.2%" stop-color="#19cee3"/><stop offset="33.3%" stop-color="#2bdedc"/><stop offset="37.5%" stop-color="#3dead5"/><stop offset="41.7%" stop-color="#4ff4cd"/><stop offset="45.8%" stop-color="#61fbc4"/><stop offset="50%" stop-color="#74febb"/><stop offset="54.2%" stop-color="#85ffb1"/><stop offset="58.3%" stop-color="#95fda8"/><stop offset="62.5%" stop-color="#a5f89f"/><stop offset="66.7%" stop-color="#b5f195"/><stop offset="70.8%" stop-color="#c4e88a"/><stop offset="75%" stop-color="#d4dd80"/><stop offset="79.2%" stop-color="#e4cf75"/><stop offset="83.3%" stop-color="#f4c069"/><stop offset="87.5%" stop-color="#ffad5d"/><stop offset="91.7%" stop-color="#ff944e"/><stop offset="95.8%" stop-color="#ff783e"/><stop offset="100%" stop-color="#ff5b2e"/></linearGradient><rect x="116.2" y="1329.5" width="329.4" height="31.4" fill="url(#g1)"/>
<text x="65.12" y="1351.9" font-size="23" textLength="7.67" lengthAdjust="spacingAndGlyphs">I</text>
<linearGradient id="g2" x1="0" x2="1" y1="0" y2="0"><stop offset="0%" stop-color="#7510ff"/><stop offset="4.2%" stop-color="#5f33fe"/><stop offset="8.3%" stop-color="#4856fb"/><stop offset="12.5%" stop-color="#3177f8"/><stop offset="16.7%" stop-color="#1a95f3"/><stop offset="20.8%" stop-color="#03b1ed"/><stop offset="25%" stop-color="#11c6e6"/><stop offset="29.2%" stop-color="#25d8df"/><stop offset="33.3%" stop-color="#38e7d7"/><stop offset="37.5%" stop-color="#4cf2ce"/><stop offset="41.7%" stop-color="#60fac5"/><stop offset="45.8%" stop-color="#74febb"/><stop offset="50%" stop-color="#87ffb0"/><stop offset="54.2%" stop-color="#98fca6"/><stop offset="58.3%" stop-color="#a9f79c"/><stop offset="62.5%" stop-color="#bbee91"/><stop offset="66.7%" stop-color="#cce385"/><stop offset="70.8%" stop-color="#ded579"/><stop offset="75%" stop-color="#efc56d"/><stop offset="79.2%" stop-color="#ffb260"/><stop offset="83.3%" stop-color="#ff9750"/><stop offset="87.5%" stop-color="#ff7a3f"/><stop offset="91.7%" stop-color="#ff592d"/><stop offset="95.8%" stop-color="#ff371c"/><stop offset="100%" stop-color="#ff140a"/></linearGradient><rect x="123.8" y="1376.3" width="360.5" height="33.7" fill="url(#g2)"/>
<text x="65.30" y="1399.3" font-size="23" textLength="14.23" lengthAdjust="spacingAndGlyphs">II</text>
<linearGradient id="g3" x1="0" x2="1" y1="0" y2="0"><stop offset="0%" stop-color="#8afeae"/><stop offset="4.2%" stop-color="#91fdaa"/><stop offset="8.3%" stop-color="#99fca6"/><stop offset="12.5%" stop-color="#a1faa1"/><stop offset="16.7%" stop-color="#a8f79c"/><stop offset="20.8%" stop-color="#b0f498"/><stop offset="25%" stop-color="#b7f093"/><stop offset="29.2%" stop-color="#bfec8e"/><stop offset="33.3%" stop-color="#c6e789"/><stop offset="37.5%" stop-color="#cee284"/><stop offset="41.7%" stop-color="#d6dc7f"/><stop offset="45.8%" stop-color="#ddd67a"/><stop offset="50%" stop-color="#e5cf74"/><stop offset="54.2%" stop-color="#ecc86f"/><stop offset="58.3%" stop-color="#f4c06a"/><stop offset="62.5%" stop-color="#fbb864"/><stop offset="66.7%" stop-color="#ffaf5e"/><stop offset="70.8%" stop-color="#ffa357"/><stop offset="75%" stop-color="#ff974f"/><stop offset="79.2%" stop-color="#ff8a48"/><stop offset="83.3%" stop-color="#ff7d41"/><stop offset="87.5%" stop-color="#ff7039"/><stop offset="91.7%" stop-color="#ff6232"/><stop offset="95.8%" stop-color="#ff532a"/><stop offset="100%" stop-color="#ff4523"/></linearGradient><rect x="305" y="1420.9" width="156.5" height="33.9" fill="url(#g3)"/>
<text x="65.44" y="1446.8" font-size="23" textLength="20.11" lengthAdjust="spacingAndGlyphs">III</text>
<linearGradient id="g4" x1="0" x2="1" y1="0" y2="0"><stop offset="0%" stop-color="#7510ff"/><stop offset="4.2%" stop-color="#6130fe"/><stop offset="8.3%" stop-color="#4a53fc"/><stop offset="12.5%" stop-color="#3374f8"/><stop offset="16.7%" stop-color="#1c93f3"/><stop offset="20.8%" stop-color="#05aeed"/><stop offset="25%" stop-color="#0fc4e7"/><stop offset="29.2%" stop-color="#23d7e0"/><stop offset="33.3%" stop-color="#37e6d8"/><stop offset="37.5%" stop-color="#4bf2cf"/><stop offset="41.7%" stop-color="#5efac6"/><stop offset="45.8%" stop-color="#72febc"/><stop offset="50%" stop-color="#85ffb1"/><stop offset="54.2%" stop-color="#97fca7"/><stop offset="58.3%" stop-color="#a8f79c"/><stop offset="62.5%" stop-color="#b9ef91"/><stop offset="66.7%" stop-color="#cbe486"/><stop offset="70.8%" stop-color="#dcd67a"/><stop offset="75%" stop-color="#eec66e"/><stop offset="79.2%" stop-color="#ffb461"/><stop offset="83.3%" stop-color="#ff9951"/><stop offset="87.5%" stop-color="#ff7c40"/><stop offset="91.7%" stop-color="#ff5b2e"/><stop offset="95.8%" stop-color="#ff3a1d"/><stop offset="100%" stop-color="#ff170b"/></linearGradient><rect x="109.4" y="1471.5" width="361" height="33.8" fill="url(#g4)"/>
<text x="65.55" y="1494.2" font-size="23" textLength="26.73" lengthAdjust="spacingAndGlyphs">I·II</text>
<linearGradient id="g5" x1="0" x2="1" y1="0" y2="0"><stop offset="0%" stop-color="#7510ff"/><stop offset="4.2%" stop-color="#5d36fe"/><stop offset="8.3%" stop-color="#455afb"/><stop offset="12.5%" stop-color="#2d7cf7"/><stop offset="16.7%" stop-color="#159cf1"/><stop offset="20.8%" stop-color="#03b8eb"/><stop offset="25%" stop-color="#18cde4"/><stop offset="29.2%" stop-color="#2ddfdc"/><stop offset="33.3%" stop-color="#42edd3"/><stop offset="37.5%" stop-color="#56f7ca"/><stop offset="41.7%" stop-color="#6bfdbf"/><stop offset="45.8%" stop-color="#80ffb4"/><stop offset="50%" stop-color="#92fdaa"/><stop offset="54.2%" stop-color="#a5f89f"/><stop offset="58.3%" stop-color="#b7f093"/><stop offset="62.5%" stop-color="#c9e587"/><stop offset="66.7%" stop-color="#dcd77a"/><stop offset="70.8%" stop-color="#eec66e"/><stop offset="75%" stop-color="#ffb260"/><stop offset="79.2%" stop-color="#ff954f"/><stop offset="83.3%" stop-color="#ff763d"/><stop offset="87.5%" stop-color="#ff532a"/><stop offset="91.7%" stop-color="#ff2f18"/><stop offset="95.8%" stop-color="#ff0a05"/><stop offset="100%" stop-color="#ff0000"/></linearGradient><rect x="123" y="1516.8" width="380.5" height="31.9" fill="url(#g5)"/>
<text x="65.56" y="1541.6" font-size="23" textLength="32.81" lengthAdjust="spacingAndGlyphs">I·III</text>
<linearGradient id="g6" x1="0" x2="1" y1="0" y2="0"><stop offset="0%" stop-color="#6c1eff"/><stop offset="4.2%" stop-color="#5640fd"/><stop offset="8.3%" stop-color="#4061fa"/><stop offset="12.5%" stop-color="#2a80f6"/><stop offset="16.7%" stop-color="#149df1"/><stop offset="20.8%" stop-color="#02b6eb"/><stop offset="25%" stop-color="#15cae5"/><stop offset="29.2%" stop-color="#28dbde"/><stop offset="33.3%" stop-color="#3be8d6"/><stop offset="37.5%" stop-color="#4ef3ce"/><stop offset="41.7%" stop-color="#61fac5"/><stop offset="45.8%" stop-color="#74febb"/><stop offset="50%" stop-color="#86ffb1"/><stop offset="54.2%" stop-color="#97fca7"/><stop offset="58.3%" stop-color="#a7f79d"/><stop offset="62.5%" stop-color="#b8f092"/><stop offset="66.7%" stop-color="#c9e587"/><stop offset="70.8%" stop-color="#dad97c"/><stop offset="75%" stop-color="#eaca70"/><stop offset="79.2%" stop-color="#fbb964"/><stop offset="83.3%" stop-color="#ffa155"/><stop offset="87.5%" stop-color="#ff8545"/><stop offset="91.7%" stop-color="#ff6735"/><stop offset="95.8%" stop-color="#ff4724"/><stop offset="100%" stop-color="#ff2613"/></linearGradient><rect x="124" y="1566.4" width="346.9" height="32.7" fill="url(#g6)"/>
<text x="65.58" y="1589.4" font-size="23" textLength="38.72" lengthAdjust="spacingAndGlyphs">II·III</text>
<linearGradient id="g7" x1="0" x2="1" y1="0" y2="0"><stop offset="0%" stop-color="#5149fc"/><stop offset="4.2%" stop-color="#376ff9"/><stop offset="8.3%" stop-color="#1d92f3"/><stop offset="12.5%" stop-color="#03b1ec"/><stop offset="16.7%" stop-color="#14c9e5"/><stop offset="20.8%" stop-color="#2bdddd"/><stop offset="25%" stop-color="#41ecd3"/><stop offset="29.2%" stop-color="#57f7c9"/><stop offset="33.3%" stop-color="#6efdbe"/><stop offset="37.5%" stop-color="#84ffb2"/><stop offset="41.7%" stop-color="#97fca7"/><stop offset="45.8%" stop-color="#abf69a"/><stop offset="50%" stop-color="#bfec8e"/><stop offset="54.2%" stop-color="#d3de81"/><stop offset="58.3%" stop-color="#e7cd73"/><stop offset="62.5%" stop-color="#fab965"/><stop offset="66.7%" stop-color="#ff9d53"/><stop offset="70.8%" stop-color="#ff7c40"/><stop offset="75%" stop-color="#ff572c"/><stop offset="79.2%" stop-color="#ff3118"/><stop offset="83.3%" stop-color="#ff0904"/><stop offset="87.5%" stop-color="#ff0000"/><stop offset="91.7%" stop-color="#ff0000"/><stop offset="95.8%" stop-color="#ff0000"/><stop offset="100%" stop-color="#ff0000"/></linearGradient><rect x="147.1" y="1615" width="409.4" height="31.4" fill="url(#g7)"/>
<text x="65.60" y="1636.5" font-size="23" textLength="45.82" lengthAdjust="spacingAndGlyphs">I·II·II</text>
<text transform="translate(49.3 1490.7) rotate(-90)" x="-34.15" y="0" font-size="25" textLength="68.06" lengthAdjust="spacingAndGlyphs">SDAs</text>
<text x="318.00" y="1740.9" font-size="25" textLength="33.67" lengthAdjust="spacingAndGlyphs">AR</text>
<text x="108.92" y="1781.6" font-size="25" textLength="94.29" lengthAdjust="spacingAndGlyphs">I: CTAB</text>
<text x="284.8" y="1781.6" font-size="25" textLength="115" lengthAdjust="spacingAndGlyphs">II: AgNO<tspan font-size="16" dy="6">3</tspan></text>
<text x="464.75" y="1781.6" font-size="25" textLength="86.72" lengthAdjust="spacingAndGlyphs">III: HCl</text>
<text x="763.04" y="1249.3" font-size="40" font-weight="bold" textLength="16.11" lengthAdjust="spacingAndGlyphs" stroke="#000" stroke-width="1.2">f</text>
<text x="889.47" y="1561.4" font-size="23" textLength="15.03" lengthAdjust="spacingAndGlyphs">0</text>
<text x="957.44" y="1561.4" font-size="23" textLength="44.84" lengthAdjust="spacingAndGlyphs">200</text>
<text x="1043.26" y="1561.4" font-size="23" textLength="45.12" lengthAdjust="spacingAndGlyphs">400</text>
<text x="1127.65" y="1561.4" font-size="23" textLength="46.21" lengthAdjust="spacingAndGlyphs">600</text>
<text x="1213.86" y="1561.4" font-size="23" textLength="45.53" lengthAdjust="spacingAndGlyphs">800</text>
<text x="1287.95" y="1561.4" font-size="23" textLength="64.12" lengthAdjust="spacingAndGlyphs">1,000</text>
<path d="M889.1 1315.3L1337.5 1316.3M889.1 1521.4H1337.5M896.5 1521.4V1533.8M979.5 1521.4V1533.8M1065.1 1521.4V1533.8M1150.4 1521.4V1533.8M1236.2 1521.4V1533.8M1321.5 1521.4V1533.8" stroke="#222" stroke-width="1.1" fill="none"/>
<linearGradient id="g8" x1="0" x2="1" y1="0" y2="0"><stop offset="0%" stop-color="#42edd3"/><stop offset="4.2%" stop-color="#51f4cc"/><stop offset="8.3%" stop-color="#5ffac6"/><stop offset="12.5%" stop-color="#6dfdbe"/><stop offset="16.7%" stop-color="#7bffb7"/><stop offset="20.8%" stop-color="#8bfeae"/><stop offset="25%" stop-color="#9bfba4"/><stop offset="29.2%" stop-color="#acf69a"/><stop offset="33.3%" stop-color="#bced90"/><stop offset="37.5%" stop-color="#cde385"/><stop offset="41.7%" stop-color="#ddd679"/><stop offset="45.8%" stop-color="#eec66e"/><stop offset="50%" stop-color="#feb562"/><stop offset="54.2%" stop-color="#ffa457"/><stop offset="58.3%" stop-color="#ff914c"/><stop offset="62.5%" stop-color="#ff7d41"/><stop offset="66.7%" stop-color="#ff6935"/><stop offset="70.8%" stop-color="#ff532a"/><stop offset="75%" stop-color="#ff3c1e"/><stop offset="79.2%" stop-color="#ff2513"/><stop offset="83.3%" stop-color="#ff0e07"/><stop offset="87.5%" stop-color="#ff0000"/><stop offset="91.7%" stop-color="#ff0000"/><stop offset="95.8%" stop-color="#ff0000"/><stop offset="100%" stop-color="#ff0000"/></linearGradient><rect x="1001.5" y="1332" width="315" height="35.2" fill="url(#g8)"/>
<linearGradient id="g9" x1="0" x2="1" y1="0" y2="0"><stop offset="0%" stop-color="#05afed"/><stop offset="4.2%" stop-color="#11c6e6"/><stop offset="8.3%" stop-color="#27dade"/><stop offset="12.5%" stop-color="#3ce9d5"/><stop offset="16.7%" stop-color="#52f5cc"/><stop offset="20.8%" stop-color="#68fcc1"/><stop offset="25%" stop-color="#7effb5"/><stop offset="29.2%" stop-color="#8efeac"/><stop offset="33.3%" stop-color="#9dfba3"/><stop offset="37.5%" stop-color="#adf59a"/><stop offset="41.7%" stop-color="#bced90"/><stop offset="45.8%" stop-color="#cce486"/><stop offset="50%" stop-color="#dbd87b"/><stop offset="54.2%" stop-color="#eaca70"/><stop offset="58.3%" stop-color="#faba65"/><stop offset="62.5%" stop-color="#ffa659"/><stop offset="66.7%" stop-color="#ff904b"/><stop offset="70.8%" stop-color="#ff773d"/><stop offset="75%" stop-color="#ff5d2f"/><stop offset="79.2%" stop-color="#ff4221"/><stop offset="83.3%" stop-color="#ff2613"/><stop offset="87.5%" stop-color="#ff0a05"/><stop offset="91.7%" stop-color="#ff0000"/><stop offset="95.8%" stop-color="#ff0000"/><stop offset="100%" stop-color="#ff0000"/></linearGradient><rect x="964.6" y="1394.3" width="349.1" height="36.2" fill="url(#g9)"/>
<linearGradient id="g10" x1="0" x2="1" y1="0" y2="0"><stop offset="0%" stop-color="#7510ff"/><stop offset="4.2%" stop-color="#5c37fd"/><stop offset="8.3%" stop-color="#435dfb"/><stop offset="12.5%" stop-color="#2a80f6"/><stop offset="16.7%" stop-color="#11a1f0"/><stop offset="20.8%" stop-color="#08bde9"/><stop offset="25%" stop-color="#21d5e1"/><stop offset="29.2%" stop-color="#39e8d7"/><stop offset="33.3%" stop-color="#52f5cc"/><stop offset="37.5%" stop-color="#6bfdbf"/><stop offset="41.7%" stop-color="#83ffb2"/><stop offset="45.8%" stop-color="#97fca7"/><stop offset="50%" stop-color="#acf69a"/><stop offset="54.2%" stop-color="#c0eb8d"/><stop offset="58.3%" stop-color="#d5dd7f"/><stop offset="62.5%" stop-color="#e9cb71"/><stop offset="66.7%" stop-color="#feb663"/><stop offset="70.8%" stop-color="#ff9b52"/><stop offset="75%" stop-color="#ff7e41"/><stop offset="79.2%" stop-color="#ff5e30"/><stop offset="83.3%" stop-color="#ff3d1f"/><stop offset="87.5%" stop-color="#ff1a0d"/><stop offset="91.7%" stop-color="#ff0000"/><stop offset="95.8%" stop-color="#ff0000"/><stop offset="100%" stop-color="#ff0000"/></linearGradient><rect x="919" y="1454.8" width="395.2" height="35.7" fill="url(#g10)"/>
<text x="865.11" y="1358.2" font-size="27" textLength="8.57" lengthAdjust="spacingAndGlyphs">I</text>
<text x="865.44" y="1420.5" font-size="27" textLength="15.12" lengthAdjust="spacingAndGlyphs">II</text>
<text x="865.58" y="1479.8" font-size="27" textLength="29.93" lengthAdjust="spacingAndGlyphs">I·II</text>
<text transform="translate(840.3 1411.4) rotate(-90)" x="-33.43" y="0" font-size="26" textLength="66.69" lengthAdjust="spacingAndGlyphs">SDAs</text>
<text x="1054.30" y="1604.2" font-size="26" textLength="119.13" lengthAdjust="spacingAndGlyphs">Size (nm)</text>
<text x="983.26" y="1666.8" font-size="26" textLength="72.64" lengthAdjust="spacingAndGlyphs">I: PVP</text>
<text x="1180.01" y="1666.8" font-size="26" textLength="54.58" lengthAdjust="spacingAndGlyphs">II: Bi</text>
</g>
</svg>
</body></html>
